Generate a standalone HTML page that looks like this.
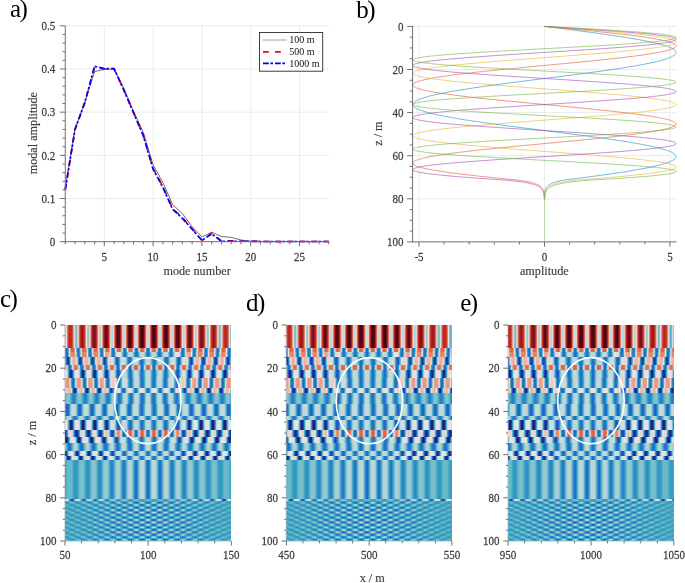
<!DOCTYPE html>
<html><head><meta charset="utf-8"><style>
html,body{margin:0;padding:0;background:#fff;}
#w{position:relative;width:685px;height:583px;overflow:hidden;background:#fff;}
.hm{position:absolute;overflow:hidden;}
.hm>div{position:absolute;top:0;height:100%;overflow:hidden;}
.hl{transform:scaleX(-1);}
.hm i{position:absolute;left:0;width:100%;display:block;}
.c0{background:linear-gradient(90deg,#c6dbdf 0.5px,#edc5b9 1.5px,#dc624b 2.5px,#aa2024 3.5px,#5e0915 4.5px,#4e0512 5.5px,#4e0512 6.5px,#610a16 7.5px,#ad2224 8.5px,#dd674e 9.5px,#edc9bf 10.5px,#c4dadf 11.5px,#c6dbdf 12.5px,#edc3b7 13.5px,#db614a 14.5px,#aa2024 15.5px,#610a16 16.5px,#4e0512 17.5px,#4e0512 18.5px,#6b0c18 19.5px,#b42725 20.5px,#df6e55 21.5px,#edd1c9 22.5px,#bfd8dd 23.5px,#c3dade 24.5px,#edc5ba 25.5px,#dc634c 26.5px,#ae2324 27.5px,#6b0c18 28.5px,#4f0512 29.5px,#530613 30.5px,#7b101b 31.5px,#be2d26 32.5px,#e27c64 33.5px,#ecdbd7 34.5px,#b8d5db 35.5px,#bed8dd 36.5px,#edcbc1 37.5px,#de6951 38.5px,#b52825 39.5px,#7c101b 40.5px,#630a16 41.5px,#680b17 42.5px,#91151f 43.5px,#cc3628 44.5px,#e68e78 45.5px,#e5e2e2 46.5px,#add1d7 47.5px,#b6d5da 48.5px,#edd3cc 49.5px,#e1745a 50.5px,#c12f26 51.5px,#931520 52.5px,#7d101b 53.5px,#84121d 54.5px,#a71e23 55.5px,#d34936 56.5px,#eaa391 57.5px,#cedde0 58.5px,#93c8d2 59.5px,#a7cfd6 60.5px,#ece0dc 61.5px,#e4856d 62.5px,#cf3a29 63.5px,#a91f23 64.5px,#9e1822 65.5px,#a31b23 66.5px,#bc2c26 67.5px,#db6049 68.5px,#eebcae 69.5px,#bbd6dc 70.5px,#75becb 71.5px,#8bc5d0 72.5px,#dce0e1 73.5px,#e89a86 74.5px,#d64f3b 75.5px,#bf2e26 76.5px,#b62825 77.5px,#bb2b26 78.5px,#d1402f 79.5px,#e37e66 80.5px,#edd8d2 81.5px,#9bcbd3 82.5px)}
.c1{background:linear-gradient(90deg,#246fcc 0.5px,#3da2c0 1.5px,#c7dbe0 2.5px,#eaa492 3.5px,#df6e54 4.5px,#dc624b 5.5px,#dc644c 6.5px,#e37d64 7.5px,#edc5b9 8.5px,#94c8d2 9.5px,#3092c6 10.5px,#2369cb 11.5px,#2a82c9 12.5px,#69b9c8 13.5px,#ecdad5 14.5px,#e58a73 15.5px,#dd664e 16.5px,#dc624b 17.5px,#de6950 18.5px,#e7937e 19.5px,#e6e3e2 20.5px,#53afc3 21.5px,#2779ca 22.5px,#236bcb 23.5px,#3598c4 24.5px,#b1d2d8 25.5px,#eeb8a8 26.5px,#e1765d 27.5px,#dc634b 28.5px,#dc634b 29.5px,#e07259 30.5px,#edb1a0 31.5px,#b9d6db 32.5px,#379bc2 33.5px,#236ccb 34.5px,#2675cb 35.5px,#48aac0 36.5px,#dbe0e1 37.5px,#e89985 38.5px,#de6a51 39.5px,#dc624b 40.5px,#dd654d 41.5px,#e4856e 42.5px,#edd2cb 43.5px,#76becb 44.5px,#2c87c8 45.5px,#2369cb 46.5px,#2e8cc7 47.5px,#83c3ce 48.5px,#edccc3 49.5px,#e38169 50.5px,#dc654d 51.5px,#dc624b 52.5px,#df6c52 53.5px,#e99e8b 54.5px,#d1dee1 55.5px,#40a6be 56.5px,#2572cc 57.5px,#246dcc 58.5px,#3a9ec1 59.5px,#bfd8dd 60.5px,#ecab9a 61.5px,#e07056 62.5px,#dc624b 63.5px,#dc634c 64.5px,#e27960 65.5px,#eebdb0 66.5px,#a4ced5 67.5px,#3295c5 68.5px,#236acb 69.5px,#297dca 70.5px,#5db3c5 71.5px,#ece2df 72.5px,#e68f79 73.5px,#dd674f 74.5px,#dc624b 75.5px,#dd674f 76.5px,#e68e78 77.5px,#ece0dd 78.5px,#5fb4c6 79.5px,#297eca 80.5px,#236acb 81.5px,#3294c5 82.5px)}
.c2{background:linear-gradient(90deg,#236dcb 0.5px,#3193c5 1.5px,#5bb2c5 2.5px,#a7cfd6 3.5px,#bcd7dc 4.5px,#bfd8dd 6.5px,#b8d5db 7.5px,#8ac5d0 8.5px,#3ea4bf 9.5px,#2a80c9 10.5px,#2369cb 11.5px,#2779ca 12.5px,#3a9fc1 13.5px,#7cc0cd 14.5px,#b5d4da 15.5px,#bfd8dd 16.5px,#c1d9de 18.5px,#b5d4da 19.5px,#70bcca 20.5px,#369ac3 21.5px,#2471cc 22.5px,#236bcb 23.5px,#2f90c6 24.5px,#62b6c6 25.5px,#bdd8dc 26.5px,#e2e2e1 27.5px,#ece1de 28.5px,#ecdcd7 29.5px,#ecddd9 30.5px,#d0dee0 31.5px,#7abfcc 32.5px,#3294c5 33.5px,#236acb 34.5px,#2778cb 35.5px,#47a9c0 36.5px,#c6dbdf 37.5px,#edc4b8 38.5px,#ecaa98 39.5px,#e99f8c 41.5px,#edaf9e 42.5px,#ebe4e2 43.5px,#6ab9c8 44.5px,#2b82c9 45.5px,#2369cb 46.5px,#3395c5 47.5px,#aad0d7 48.5px,#edc3b6 49.5px,#e68f7a 50.5px,#e4826b 51.5px,#e4826a 52.5px,#e58871 53.5px,#ecad9c 54.5px,#cadce0 55.5px,#3ea3bf 56.5px,#246fcc 57.5px,#2573cb 58.5px,#48a9c0 59.5px,#d9e0e1 60.5px,#eba794 61.5px,#e4866f 62.5px,#e4826a 63.5px,#e4826b 64.5px,#e7927d 65.5px,#edcabf 66.5px,#96c9d2 67.5px,#2f90c6 68.5px,#2369cb 69.5px,#2e8cc7 70.5px,#8ac5d0 71.5px,#edcec5 72.5px,#e7947f 73.5px,#e4836b 74.5px,#e4856e 76.5px,#eaa391 77.5px,#e1e1e1 78.5px,#50adc2 79.5px,#2676cb 80.5px,#246dcc 81.5px,#3ba0c0 82.5px)}
.c3{background:linear-gradient(90deg,#bfd8dd 0.5px,#bbd7dc 1.5px,#a3ced5 2.5px,#5bb2c5 3.5px,#3295c5 4.5px,#246fcc 5.5px,#236bcb 6.5px,#2d88c8 7.5px,#43a8bf 8.5px,#8fc7d1 9.5px,#b8d5db 10.5px,#bfd8dd 11.5px,#bed8dd 13.5px,#b2d3d9 14.5px,#71bcca 15.5px,#399dc1 16.5px,#2778cb 17.5px,#2368cb 18.5px,#2779ca 19.5px,#3a9fc1 20.5px,#7dc0cd 21.5px,#bad6db 22.5px,#c8dce0 23.5px,#d0dee0 25.5px,#c7dce0 26.5px,#a6cfd6 27.5px,#44a8bf 28.5px,#2779ca 29.5px,#2058c8 30.5px,#215fc9 31.5px,#3092c6 32.5px,#75becb 33.5px,#cddde0 34.5px,#ecdcd8 35.5px,#edd4cd 36.5px,#edd0c8 37.5px,#edd4cd 38.5px,#d8e0e1 39.5px,#74bdcb 40.5px,#2a82c9 41.5px,#1e49b1 42.5px,#1d41a6 43.5px,#246ecc 44.5px,#5bb2c5 45.5px,#d7dfe1 46.5px,#edc4b8 47.5px,#eeb6a6 48.5px,#eeb7a7 50.5px,#edd1c9 51.5px,#b4d4d9 52.5px,#3598c4 53.5px,#1f4fbb 54.5px,#1c3694 55.5px,#2058c8 56.5px,#3ba0c1 57.5px,#c0d9dd 58.5px,#edcac1 59.5px,#eeb5a5 60.5px,#eeb4a3 62.5px,#edc5b9 63.5px,#cddde0 64.5px,#46a9bf 65.5px,#2261ca 66.5px,#1c3797 67.5px,#1e47af 68.5px,#2e8dc7 69.5px,#9ccbd4 70.5px,#ecd9d4 71.5px,#eeb8a9 72.5px,#edb3a2 73.5px,#edb3a2 74.5px,#eebcae 75.5px,#ebe4e2 76.5px,#75becb 77.5px,#2778cb 78.5px,#1d3fa2 79.5px,#1c3c9d 80.5px,#246ecc 81.5px,#64b7c7 82.5px)}
.c4{background:linear-gradient(90deg,#dc634b 0.5px,#e07258 1.5px,#ecad9c 2.5px,#c0d9dd 3.5px,#3ba0c0 4.5px,#246fcc 5.5px,#246fcc 6.5px,#3a9fc1 7.5px,#bed8dd 8.5px,#edaf9e 9.5px,#e17359 10.5px,#dc634b 11.5px,#dc634b 12.5px,#e07157 13.5px,#ecab99 14.5px,#c2dade 15.5px,#3ca1c0 16.5px,#2470cc 17.5px,#246ecc 18.5px,#399ec1 19.5px,#bbd6dc 20.5px,#edb2a2 21.5px,#e1765d 22.5px,#dc654d 23.5px,#dc654d 24.5px,#e1735a 25.5px,#ecac9a 26.5px,#c3dade 27.5px,#3da2c0 28.5px,#2572cc 29.5px,#246ecc 30.5px,#389dc2 31.5px,#b6d5da 32.5px,#eeb9aa 33.5px,#e37e66 34.5px,#de6b52 35.5px,#de6b52 36.5px,#e27a61 37.5px,#edb09f 38.5px,#c2dade 39.5px,#3ea3bf 40.5px,#2574cb 41.5px,#246fcc 42.5px,#389bc2 43.5px,#b1d3d8 44.5px,#eec0b3 45.5px,#e4856e 46.5px,#e07157 47.5px,#e07056 48.5px,#e37f67 49.5px,#edb2a1 50.5px,#c3dade 51.5px,#3ea4bf 52.5px,#2676cb 53.5px,#246fcc 54.5px,#379ac3 55.5px,#add1d7 56.5px,#edc3b7 57.5px,#e58771 58.5px,#e07158 59.5px,#e07056 60.5px,#e37e66 61.5px,#edb09f 62.5px,#c5dbdf 63.5px,#3fa5be 64.5px,#2677cb 65.5px,#246ecc 66.5px,#3699c3 67.5px,#a8cfd6 68.5px,#edc5ba 69.5px,#e58872 70.5px,#e07258 71.5px,#e07056 72.5px,#e37d65 73.5px,#ecae9d 74.5px,#c7dce0 75.5px,#40a6be 76.5px,#2778cb 77.5px,#246ecc 78.5px,#3598c3 79.5px,#a3ced5 80.5px,#edc7bd 81.5px,#e58973 82.5px)}
.c5{background:linear-gradient(90deg,#bfd8dd 0.5px,#bbd7dc 1.5px,#9dccd4 2.5px,#51aec2 3.5px,#2f8fc7 4.5px,#236ccb 5.5px,#246ecc 6.5px,#3294c5 7.5px,#5db3c5 8.5px,#a7cfd6 9.5px,#bcd7dc 10.5px,#bfd8dd 12.5px,#b9d6db 13.5px,#93c8d2 14.5px,#45a8bf 15.5px,#2c87c8 16.5px,#2369cb 17.5px,#246fcc 18.5px,#3497c4 19.5px,#67b8c8 20.5px,#b1d2d8 21.5px,#c0d9dd 22.5px,#c3dade 24.5px,#bcd7dc 25.5px,#89c5cf 26.5px,#3a9fc1 27.5px,#236bcb 28.5px,#1f50bc 29.5px,#215dc9 30.5px,#3193c6 31.5px,#6fbbca 32.5px,#bdd7dc 33.5px,#d0dee0 34.5px,#d4dfe1 36.5px,#c3dade 37.5px,#78bfcc 38.5px,#2e8cc7 39.5px,#1e47af 40.5px,#1a2b84 41.5px,#1e46ad 42.5px,#2e8cc7 43.5px,#80c1cd 44.5px,#cbdde0 45.5px,#e3e2e1 46.5px,#e3e2e1 48.5px,#c5dbdf 49.5px,#63b6c7 50.5px,#2471cc 51.5px,#1b2f8b 52.5px,#182473 53.5px,#1e44aa 54.5px,#3194c5 55.5px,#96c9d2 56.5px,#d5dfe1 57.5px,#e7e3e2 58.5px,#e7e3e2 59.5px,#e2e2e1 60.5px,#bfd8dd 61.5px,#50adc2 62.5px,#2266ca 63.5px,#1a2981 64.5px,#192575 65.5px,#1f4eb9 66.5px,#389bc2 67.5px,#aad0d7 68.5px,#dae0e1 69.5px,#e7e3e2 70.5px,#e7e3e2 71.5px,#dfe1e1 72.5px,#b7d5da 73.5px,#3fa4bf 74.5px,#215bc9 75.5px,#19267b 76.5px,#19267a 77.5px,#2059c8 78.5px,#3da3bf 79.5px,#b5d4da 80.5px,#dee1e1 81.5px,#e7e3e2 82.5px)}
.c6{background:linear-gradient(90deg,#bfd8dd 0.5px,#bad6db 1.5px,#99cad3 2.5px,#49aac0 3.5px,#2d89c8 4.5px,#236acb 5.5px,#2572cc 6.5px,#379ac3 7.5px,#6ebbc9 8.5px,#b2d3d9 9.5px,#bed8dd 10.5px,#bed8dd 12.5px,#b3d3d9 13.5px,#72bdca 14.5px,#389cc2 15.5px,#2674cb 16.5px,#2369cb 17.5px,#2c86c8 18.5px,#48aac0 19.5px,#9fccd4 20.5px,#c2d9de 21.5px,#cfdee0 23.5px,#cddde0 24.5px,#b7d5da 25.5px,#61b5c6 26.5px,#3091c6 27.5px,#2369cb 28.5px,#2471cc 29.5px,#3a9fc1 30.5px,#a3ced5 31.5px,#e4e2e2 32.5px,#edd3cc 33.5px,#edc9bf 35.5px,#edd4ce 36.5px,#c4dadf 37.5px,#4fadc2 38.5px,#277aca 39.5px,#2266ca 40.5px,#2f8fc7 41.5px,#86c4cf 42.5px,#ecddd8 43.5px,#edaf9e 44.5px,#eaa18e 45.5px,#e99e8b 46.5px,#eaa390 47.5px,#edc6ba 48.5px,#b6d5da 49.5px,#379bc2 50.5px,#2368cb 51.5px,#246fcc 52.5px,#43a7bf 53.5px,#cfdee0 54.5px,#eeb5a5 55.5px,#e89a86 56.5px,#e89883 58.5px,#ecaa98 59.5px,#ece3e1 60.5px,#69b9c8 61.5px,#297fc9 62.5px,#2264ca 63.5px,#2f8ec7 64.5px,#8ec6d0 65.5px,#edd4cd 66.5px,#eaa391 67.5px,#e89782 68.5px,#e89782 69.5px,#e99d89 70.5px,#eec0b3 71.5px,#bcd7dc 72.5px,#399dc1 73.5px,#2369cb 74.5px,#246dcc 75.5px,#3fa5bf 76.5px,#c9dce0 77.5px,#eeb8a9 78.5px,#e89a86 79.5px,#e89783 81.5px,#eba896 82.5px)}
.c7{background:linear-gradient(90deg,#246dcc 0.5px,#3396c5 1.5px,#6dbbc9 2.5px,#c0d9dd 3.5px,#dfe1e1 4.5px,#e7e3e2 5.5px,#e2e2e1 7.5px,#c6dbdf 8.5px,#83c3ce 9.5px,#389cc2 10.5px,#2572cc 11.5px,#236acb 12.5px,#2e8ec7 13.5px,#5bb2c5 14.5px,#b8d5db 15.5px,#dbe0e1 16.5px,#e8e3e2 17.5px,#e7e3e2 19.5px,#d1dee0 20.5px,#9acad3 21.5px,#3ba0c0 22.5px,#246fcc 23.5px,#215ec9 24.5px,#2574cb 25.5px,#3fa5be 26.5px,#b2d3d9 27.5px,#e6e3e2 28.5px,#edd8d2 29.5px,#edd4cd 31.5px,#ece3e0 32.5px,#b4d4d9 33.5px,#3ba0c0 34.5px,#215ec9 35.5px,#1c3b9d 36.5px,#1f50bb 37.5px,#3294c5 38.5px,#a1cdd5 39.5px,#ecdedb 40.5px,#edc3b7 41.5px,#eebeb0 43.5px,#edcbc1 44.5px,#c8dce0 45.5px,#3fa4bf 46.5px,#2055c4 47.5px,#19267a 48.5px,#1b308b 49.5px,#2573cb 50.5px,#7ec1cd 51.5px,#ece0dd 52.5px,#eebcae 53.5px,#eeb6a6 54.5px,#eeb6a6 55.5px,#eec1b4 56.5px,#dee1e1 57.5px,#59b1c4 58.5px,#2261ca 59.5px,#1a277d 60.5px,#1a277e 61.5px,#2263ca 62.5px,#5cb3c5 63.5px,#e0e1e1 64.5px,#eec0b3 65.5px,#eeb6a6 66.5px,#eeb6a6 67.5px,#eebdaf 68.5px,#ece2df 69.5px,#7abfcc 70.5px,#2471cc 71.5px,#1b2d88 72.5px,#192678 73.5px,#2054c3 74.5px,#3fa5bf 75.5px,#ccdde0 76.5px,#edc6ba 77.5px,#eeb7a7 78.5px,#eeb6a6 79.5px,#eebaab 80.5px,#edd7d1 81.5px,#a0cdd5 82.5px)}
.c8{background:linear-gradient(90deg,#bfd8dd 0.5px,#b7d5da 1.5px,#85c3cf 2.5px,#3ea3bf 3.5px,#2a82c9 4.5px,#2369cb 5.5px,#2572cc 6.5px,#3598c4 7.5px,#64b7c7 8.5px,#acd1d7 9.5px,#bdd8dc 10.5px,#bcd7dc 12.5px,#a3ced5 13.5px,#58b1c4 14.5px,#3294c5 15.5px,#246ecc 16.5px,#236bcb 17.5px,#2d89c8 18.5px,#44a8bf 19.5px,#8fc6d1 20.5px,#b7d5da 21.5px,#bbd7dc 22.5px,#bad6db 23.5px,#add1d7 24.5px,#6fbcca 25.5px,#3a9ec1 26.5px,#297fc9 27.5px,#246dcc 28.5px,#287cca 29.5px,#389cc2 30.5px,#63b6c7 31.5px,#96c9d2 32.5px,#a8cfd6 33.5px,#a7cfd6 34.5px,#9ccbd4 35.5px,#75becb 36.5px,#40a6be 37.5px,#3092c6 38.5px,#2778cb 39.5px,#277aca 40.5px,#3193c5 41.5px,#40a6be 42.5px,#6cbac9 43.5px,#86c4cf 44.5px,#8ac5d0 45.5px,#86c4cf 46.5px,#72bdcb 47.5px,#4eacc1 48.5px,#369ac3 49.5px,#2b84c8 50.5px,#287aca 51.5px,#2d8ac7 52.5px,#399ec1 53.5px,#76becb 55.5px,#83c2ce 56.5px,#83c3ce 57.5px,#7abfcc 58.5px,#5eb4c5 59.5px,#3ca1c0 60.5px,#2f8fc7 61.5px,#287bca 62.5px,#2a81c9 63.5px,#3497c4 64.5px,#45a8bf 65.5px,#6bbac9 66.5px,#80c1cd 67.5px,#83c3ce 68.5px,#80c2ce 69.5px,#6bbac9 70.5px,#46a9bf 71.5px,#3497c4 72.5px,#2a81c9 73.5px,#287bca 74.5px,#2f8ec7 75.5px,#3ca1c0 76.5px,#5db3c5 77.5px,#7abfcc 78.5px,#83c3ce 79.5px,#83c2ce 80.5px,#77becb 81.5px,#58b1c4 82.5px)}
.c9{background:linear-gradient(90deg,#c5dbdf 0.5px,#c1d9de 1.5px,#aed1d8 2.5px,#5fb4c6 3.5px,#3295c5 4.5px,#236ccb 5.5px,#2265ca 6.5px,#2a81c9 7.5px,#40a5be 8.5px,#91c7d1 9.5px,#bcd7dc 10.5px,#c4dbdf 11.5px,#c4dadf 13.5px,#b9d6db 14.5px,#81c2ce 15.5px,#3ba0c0 16.5px,#2779ca 17.5px,#2264ca 18.5px,#2470cc 19.5px,#3699c3 20.5px,#6cbac9 21.5px,#b3d3d9 22.5px,#c2dade 23.5px,#c4dadf 25.5px,#bfd8dd 26.5px,#a0ccd4 27.5px,#4fadc2 28.5px,#2d8ac7 29.5px,#2266ca 30.5px,#2265ca 31.5px,#2c87c8 32.5px,#49aac0 33.5px,#9acad3 34.5px,#bdd7dc 35.5px,#c3dade 37.5px,#c1d9de 38.5px,#b2d3d9 39.5px,#6bbac9 40.5px,#3598c4 41.5px,#236ccb 42.5px,#215ec9 43.5px,#246fcc 44.5px,#389cc2 45.5px,#74bdcb 46.5px,#b5d4da 47.5px,#c1d9de 48.5px,#c2d9de 50.5px,#bad6db 51.5px,#8bc5d0 52.5px,#3ea4bf 53.5px,#287bca 54.5px,#215fc9 55.5px,#2264ca 56.5px,#2e8cc7 57.5px,#53afc3 58.5px,#a2cdd5 59.5px,#bed8dd 60.5px,#c2d9de 62.5px,#bfd8dd 63.5px,#a9d0d6 64.5px,#5bb2c5 65.5px,#3092c6 66.5px,#2266ca 67.5px,#215ec9 68.5px,#2676cb 69.5px,#3ca1c0 70.5px,#83c3ce 71.5px,#b8d5db 72.5px,#c1d9de 73.5px,#c1d9de 75.5px,#b6d5da 76.5px,#7cc0cd 77.5px,#3a9ec1 78.5px,#2572cc 79.5px,#215dc9 80.5px,#2368cb 81.5px,#3294c5 82.5px)}
.c10{background:linear-gradient(90deg,#236ccb 0.5px,#2d8bc7 1.5px,#43a7bf 2.5px,#8bc5d0 3.5px,#b7d5da 4.5px,#bfd8dd 5.5px,#b9d6db 7.5px,#97c9d2 8.5px,#4fadc2 9.5px,#3092c6 10.5px,#246ecc 11.5px,#236acb 12.5px,#2b84c9 13.5px,#3da3bf 14.5px,#7ec1cd 15.5px,#b4d4d9 16.5px,#bed8dd 17.5px,#bbd7dc 19.5px,#a1cdd5 20.5px,#5bb2c5 21.5px,#3497c4 22.5px,#2573cb 23.5px,#236acb 24.5px,#297ec9 25.5px,#3a9fc1 26.5px,#6fbbca 27.5px,#add1d7 28.5px,#bbd6dc 29.5px,#b9d6db 31.5px,#a4ced5 32.5px,#64b7c7 33.5px,#379bc2 34.5px,#287cca 35.5px,#246dcc 36.5px,#287cca 37.5px,#379bc2 38.5px,#62b6c7 39.5px,#9fccd4 40.5px,#b6d4da 41.5px,#b6d5da 43.5px,#a5ced6 44.5px,#6cbac9 45.5px,#3ba0c1 46.5px,#2b85c8 47.5px,#2470cc 48.5px,#287aca 49.5px,#3598c4 50.5px,#57b0c4 51.5px,#93c8d2 52.5px,#b3d3d9 53.5px,#b5d4da 55.5px,#a9d0d7 56.5px,#76becb 57.5px,#3ea4bf 58.5px,#2d8bc7 59.5px,#2572cc 60.5px,#2677cb 61.5px,#3294c5 62.5px,#4cacc1 63.5px,#89c5d0 64.5px,#b1d2d8 65.5px,#b6d4da 67.5px,#afd2d8 68.5px,#81c2ce 69.5px,#44a8bf 70.5px,#3091c6 71.5px,#2574cb 72.5px,#2574cb 73.5px,#2f90c6 74.5px,#42a7be 75.5px,#7fc1cd 76.5px,#aed1d7 77.5px,#b6d4da 78.5px,#b1d3d8 80.5px,#8bc5d0 81.5px,#4fadc2 82.5px)}
.c11{background:linear-gradient(90deg,#bfd8dd 0.5px,#bbd7dc 1.5px,#9dcbd4 2.5px,#50adc2 3.5px,#2f8ec7 4.5px,#236bcb 5.5px,#246ecc 6.5px,#3395c5 7.5px,#5fb4c6 8.5px,#a9cfd6 9.5px,#bcd7dc 10.5px,#bfd8dd 12.5px,#b9d6db 13.5px,#8fc7d1 14.5px,#41a6be 15.5px,#2b84c8 16.5px,#2368cb 17.5px,#2471cc 18.5px,#3699c3 19.5px,#6cbac9 20.5px,#b3d3d9 21.5px,#c1d9de 22.5px,#c3dade 24.5px,#bad6db 25.5px,#7ec1cd 26.5px,#379ac3 27.5px,#2264ca 28.5px,#1f4cb6 29.5px,#215ec9 30.5px,#3395c5 31.5px,#79bfcc 32.5px,#c0d9dd 33.5px,#d1dee1 34.5px,#d3dfe1 36.5px,#bed8dd 37.5px,#64b6c7 38.5px,#2779ca 39.5px,#1c3999 40.5px,#19267b 41.5px,#1e47af 42.5px,#3194c5 43.5px,#91c7d1 44.5px,#d1dee1 45.5px,#e4e2e2 46.5px,#e5e3e2 47.5px,#e0e1e1 48.5px,#bcd7dc 49.5px,#45a8bf 50.5px,#215dc9 51.5px,#182474 52.5px,#17216b 53.5px,#1e49b2 54.5px,#379bc2 55.5px,#acd1d7 56.5px,#dbe0e1 57.5px,#e7e3e2 58.5px,#e7e3e2 59.5px,#dde1e1 60.5px,#b2d3d9 61.5px,#3a9ec1 62.5px,#1f4eb9 63.5px,#17226d 64.5px,#182371 65.5px,#2058c8 66.5px,#3fa5bf 67.5px,#b9d6db 68.5px,#e0e1e1 69.5px,#e7e3e2 70.5px,#e7e3e2 71.5px,#d7dfe1 72.5px,#9acbd3 73.5px,#3294c5 74.5px,#1d40a3 75.5px,#172168 76.5px,#19267a 77.5px,#2267ca 78.5px,#57b0c4 79.5px,#c2d9de 80.5px,#e3e2e2 81.5px,#e7e3e2 82.5px)}
.c12{background:linear-gradient(90deg,#246ecc 0.5px,#389cc2 1.5px,#b2d3d9 2.5px,#eebcae 3.5px,#e27a61 4.5px,#dc634b 5.5px,#dc644c 6.5px,#e37e66 7.5px,#edc4b8 8.5px,#a3cdd5 9.5px,#3598c4 10.5px,#236ccb 11.5px,#2471cc 12.5px,#3ba0c0 13.5px,#bbd7dc 14.5px,#eeb4a4 15.5px,#e1765d 16.5px,#dc644c 17.5px,#dd674f 18.5px,#e58872 19.5px,#edd3cb 20.5px,#81c2ce 21.5px,#2e8dc7 22.5px,#2262ca 23.5px,#2369cb 24.5px,#379bc3 25.5px,#aed1d8 26.5px,#edc8bd 27.5px,#e7937f 28.5px,#e4866f 29.5px,#e68f79 30.5px,#eeb8a9 31.5px,#c3dade 32.5px,#3da2bf 33.5px,#2263ca 34.5px,#1d42a7 35.5px,#1f4db7 36.5px,#2a80c9 37.5px,#69b9c8 38.5px,#dae0e1 39.5px,#edc4b9 40.5px,#eebaac 41.5px,#edc4b8 42.5px,#e0e1e1 43.5px,#73bdcb 44.5px,#2a81c9 45.5px,#1d42a7 46.5px,#1a277e 47.5px,#1c3796 48.5px,#236acb 49.5px,#4aaac0 50.5px,#c0d9dd 51.5px,#ecdbd6 52.5px,#edd0c8 53.5px,#ecd9d3 54.5px,#c5dbdf 55.5px,#56b0c3 56.5px,#246fcc 57.5px,#1c3999 58.5px,#19267a 59.5px,#1c3999 60.5px,#246fcc 61.5px,#55b0c3 62.5px,#c5dbdf 63.5px,#ecd9d3 64.5px,#edd0c8 65.5px,#ecdbd6 66.5px,#c0d9dd 67.5px,#49aac0 68.5px,#2369cb 69.5px,#1c3593 70.5px,#19267a 71.5px,#1d3d9f 72.5px,#2778cb 73.5px,#62b5c6 74.5px,#ccdde0 75.5px,#edd7d0 76.5px,#edd0c8 77.5px,#ecdeda 78.5px,#bad6db 79.5px,#3fa5bf 80.5px,#2263ca 81.5px,#1b318d 82.5px)}
.c13{background:linear-gradient(90deg,#bfd8dd 0.5px,#bcd7dc 1.5px,#a6cfd6 2.5px,#60b4c6 3.5px,#3497c4 4.5px,#2571cc 5.5px,#236acb 6.5px,#2a82c9 7.5px,#3ea3bf 8.5px,#82c2ce 9.5px,#b5d4da 10.5px,#bed8dd 11.5px,#bed8dd 13.5px,#b6d5da 14.5px,#88c4cf 15.5px,#3fa5be 16.5px,#2b85c8 17.5px,#2368cb 18.5px,#236dcb 19.5px,#3193c6 20.5px,#58b1c4 21.5px,#a6cfd6 22.5px,#c0d9dd 23.5px,#c7dbe0 25.5px,#c5dbdf 26.5px,#b3d3d9 27.5px,#61b5c6 28.5px,#2e8dc7 29.5px,#2058c8 30.5px,#1e47ae 31.5px,#215ec9 32.5px,#3497c4 33.5px,#7fc1cd 34.5px,#c4dadf 35.5px,#dce0e1 36.5px,#e2e2e1 38.5px,#d2dee1 39.5px,#9eccd4 40.5px,#379bc2 41.5px,#1f53c0 42.5px,#19267b 43.5px,#1a287f 44.5px,#215dc9 45.5px,#3ea4bf 46.5px,#b7d5da 47.5px,#e6e3e2 48.5px,#ecdedb 49.5px,#ecdeda 50.5px,#ece2e0 51.5px,#c7dce0 52.5px,#61b5c6 53.5px,#246ecc 54.5px,#1a2c85 55.5px,#172169 56.5px,#1c3492 57.5px,#297eca 58.5px,#76becb 59.5px,#d1dee0 60.5px,#ece0dd 61.5px,#ecdeda 63.5px,#e2e2e1 64.5px,#aed1d7 65.5px,#389bc2 66.5px,#1f4db8 67.5px,#182370 68.5px,#182472 69.5px,#1f53c1 70.5px,#3b9fc1 71.5px,#b4d4d9 72.5px,#e5e2e2 73.5px,#ecdeda 74.5px,#ece1de 76.5px,#ccdde0 77.5px,#6ab9c9 78.5px,#2676cb 79.5px,#1b308c 80.5px,#172169 81.5px,#1b308c 82.5px)}
.c14{background:linear-gradient(90deg,#bfd8dd 0.5px,#b8d5db 1.5px,#90c7d1 2.5px,#47a9c0 3.5px,#2e8dc7 4.5px,#236dcb 5.5px,#236bcb 6.5px,#2d89c8 7.5px,#41a7be 8.5px,#8ac5d0 9.5px,#b7d5da 10.5px,#bfd8dd 11.5px,#b9d6db 13.5px,#96c9d2 14.5px,#4eacc1 15.5px,#3091c6 16.5px,#246ecc 17.5px,#236bcb 18.5px,#2c86c8 19.5px,#3ea4bf 20.5px,#82c2ce 21.5px,#b4d4d9 22.5px,#bcd7dc 23.5px,#b7d5da 25.5px,#95c9d2 26.5px,#50aec2 27.5px,#3193c5 28.5px,#2470cc 29.5px,#236bcb 30.5px,#2a82c9 31.5px,#3ca1c0 32.5px,#72bdca 33.5px,#a9d0d6 34.5px,#b6d4da 35.5px,#b2d3d9 37.5px,#8ec6d1 38.5px,#50aec2 39.5px,#3295c5 40.5px,#2573cc 41.5px,#236bcb 42.5px,#297fc9 43.5px,#399ec1 44.5px,#66b7c7 45.5px,#9acbd3 46.5px,#afd2d8 47.5px,#b0d2d8 48.5px,#abd0d7 49.5px,#8bc5d0 50.5px,#52aec3 51.5px,#3396c4 52.5px,#2675cb 53.5px,#236bcb 54.5px,#287cca 55.5px,#379bc2 56.5px,#60b5c6 57.5px,#95c9d2 58.5px,#add1d7 59.5px,#b0d2d8 60.5px,#abd0d7 61.5px,#8fc7d1 62.5px,#57b1c4 63.5px,#3598c4 64.5px,#2778cb 65.5px,#236bcb 66.5px,#277aca 67.5px,#3699c3 68.5px,#5bb2c5 69.5px,#92c8d1 70.5px,#acd1d7 71.5px,#b0d2d8 72.5px,#acd1d7 73.5px,#92c8d2 74.5px,#5cb3c5 75.5px,#369ac3 76.5px,#287aca 77.5px,#236bcb 78.5px,#2777cb 79.5px,#3498c4 80.5px,#56b0c4 81.5px,#8ec6d0 82.5px)}
.c15{background:linear-gradient(90deg,#236dcb 0.5px,#3193c6 1.5px,#58b1c4 2.5px,#a3ced5 3.5px,#bcd7dc 4.5px,#bfd8dd 6.5px,#bad6db 7.5px,#96c9d2 8.5px,#48aac0 9.5px,#2d89c8 10.5px,#236acb 11.5px,#2471cc 12.5px,#3598c4 13.5px,#66b8c8 14.5px,#aed1d8 15.5px,#bdd8dc 16.5px,#c0d8dd 18.5px,#b8d5db 19.5px,#88c4cf 20.5px,#3da2c0 21.5px,#2778cb 22.5px,#2160c9 23.5px,#236ccb 24.5px,#369ac3 25.5px,#77becb 26.5px,#bbd6dc 27.5px,#c9dce0 28.5px,#cddde0 30.5px,#bfd8dd 31.5px,#78bfcc 32.5px,#3194c5 33.5px,#2057c6 34.5px,#1d40a4 35.5px,#205bc8 36.5px,#3699c3 37.5px,#93c8d2 38.5px,#cfdee0 39.5px,#e3e2e1 40.5px,#e3e2e1 42.5px,#c3dade 43.5px,#60b5c6 44.5px,#2471cc 45.5px,#1b3492 46.5px,#1a277e 47.5px,#1f53c1 48.5px,#399ec1 49.5px,#b2d3d9 50.5px,#e2e2e1 51.5px,#ece1de 52.5px,#e8e3e2 54.5px,#bdd8dc 55.5px,#45a8bf 56.5px,#2160c9 57.5px,#1a2880 58.5px,#1a2880 59.5px,#215fc9 60.5px,#44a8bf 61.5px,#bdd7dc 62.5px,#e8e3e2 63.5px,#ece1de 65.5px,#e3e2e1 66.5px,#b2d3d9 67.5px,#399ec1 68.5px,#1f52bf 69.5px,#19267b 70.5px,#1b2f8b 71.5px,#246dcc 72.5px,#5eb4c6 73.5px,#c6dbdf 74.5px,#ebe4e2 75.5px,#ece2df 77.5px,#dbe0e1 78.5px,#9acad3 79.5px,#3194c5 80.5px,#1e45ab 81.5px,#192578 82.5px)}
.c16{background:linear-gradient(90deg,#bfd8dd 0.5px,#bbd7dc 1.5px,#a2cdd5 2.5px,#59b2c4 3.5px,#3294c5 4.5px,#246ecc 5.5px,#236bcb 6.5px,#2e8bc7 7.5px,#48aac0 8.5px,#94c8d2 9.5px,#b9d6db 10.5px,#bfd8dd 12.5px,#bdd7dc 13.5px,#aed1d8 14.5px,#69b9c8 15.5px,#369ac3 16.5px,#2573cb 17.5px,#2367cb 18.5px,#297dca 19.5px,#3da2c0 20.5px,#85c3cf 21.5px,#bad6db 22.5px,#c4dadf 23.5px,#c7dbe0 25.5px,#bcd7dc 26.5px,#7fc1cd 27.5px,#379ac3 28.5px,#2265ca 29.5px,#1e4cb5 30.5px,#215bc9 31.5px,#3193c6 32.5px,#74bdcb 33.5px,#c3dade 34.5px,#dee1e1 35.5px,#e6e3e2 37.5px,#d7dfe1 38.5px,#a5ced6 39.5px,#389cc2 40.5px,#2055c3 41.5px,#1a2881 42.5px,#1b3390 43.5px,#236ccb 44.5px,#59b2c4 45.5px,#c6dbdf 46.5px,#ecdfdb 47.5px,#edd8d3 48.5px,#edd8d2 49.5px,#ece1de 50.5px,#bdd7dc 51.5px,#3fa4bf 52.5px,#2059c8 53.5px,#192577 54.5px,#192577 55.5px,#2058c8 56.5px,#3ea4bf 57.5px,#bcd7dc 58.5px,#ece1de 59.5px,#edd7d1 60.5px,#edd7d1 61.5px,#ecddd8 62.5px,#c9dce0 63.5px,#5bb2c5 64.5px,#2369cb 65.5px,#1a2981 66.5px,#182371 67.5px,#1e48af 68.5px,#3598c4 69.5px,#acd1d7 70.5px,#e8e3e2 71.5px,#edd8d2 72.5px,#ecdad5 74.5px,#d8e0e1 75.5px,#7bc0cc 76.5px,#297dca 77.5px,#1b3492 78.5px,#18236f 79.5px,#1c399a 80.5px,#2c87c8 81.5px,#8ac5d0 82.5px)}
.c17{background:linear-gradient(90deg,#2368cb 0.5px,#2e8dc7 1.5px,#4fadc2 2.5px,#99cad3 3.5px,#b8d5db 4.5px,#bbd7dc 6.5px,#b7d5da 7.5px,#99cad3 8.5px,#53afc3 9.5px,#3193c6 10.5px,#246fcc 11.5px,#246ecc 12.5px,#2f8fc7 13.5px,#49aac0 14.5px,#8bc5d0 15.5px,#b1d2d8 16.5px,#b4d4d9 18.5px,#b0d2d8 19.5px,#91c7d1 20.5px,#55b0c3 21.5px,#3496c4 22.5px,#2778cb 23.5px,#2675cb 24.5px,#3092c6 25.5px,#45a8bf 26.5px,#7dc1cd 27.5px,#a1cdd5 28.5px,#a9d0d6 29.5px,#a3cdd5 31.5px,#88c4cf 32.5px,#56b0c4 33.5px,#369ac3 34.5px,#2a82c9 35.5px,#297dca 36.5px,#3193c5 37.5px,#41a6be 38.5px,#71bcca 39.5px,#92c8d1 40.5px,#99cad3 41.5px,#94c8d2 43.5px,#7fc1cd 44.5px,#56b0c4 45.5px,#389dc2 46.5px,#2e8bc7 47.5px,#2c86c8 48.5px,#3fa5be 50.5px,#68b8c8 51.5px,#82c2ce 52.5px,#89c5d0 53.5px,#85c3cf 55.5px,#74bdcb 56.5px,#3b9fc1 58.5px,#3193c5 59.5px,#2f8ec7 60.5px,#3fa5bf 62.5px,#5fb4c6 63.5px,#73bdcb 64.5px,#7abfcc 65.5px,#76becb 67.5px,#6bbac9 68.5px,#3ca1c0 70.5px,#3498c4 71.5px,#3295c5 72.5px,#3fa4bf 74.5px,#58b1c4 75.5px,#67b8c8 76.5px,#6bbac9 78.5px,#62b6c7 80.5px,#3ea3bf 82.5px)}
.c18{background:linear-gradient(90deg,#66b8c8 0.5px,#65b7c7 1.5px,#5db3c5 2.5px,#3ea3bf 4.5px,#3a9fc1 6.5px,#3fa5be 7.5px,#64b7c7 9.5px,#6ebbc9 11.5px,#6bbac9 13.5px,#5db3c5 14.5px,#43a7bf 15.5px,#399dc1 16.5px,#3598c3 17.5px,#389cc2 18.5px,#3fa5be 19.5px,#5db3c5 20.5px,#73bdcb 21.5px,#7dc0cd 22.5px,#80c1cd 24.5px,#74becb 25.5px,#3ca1c0 27.5px,#3294c5 28.5px,#2f8fc7 29.5px,#3599c3 30.5px,#45a8bf 31.5px,#6ebbc9 32.5px,#8cc6d0 33.5px,#95c9d2 34.5px,#95c9d2 36.5px,#7cc0cd 37.5px,#4eacc1 38.5px,#3497c4 39.5px,#297fc9 40.5px,#297fc9 41.5px,#3497c4 42.5px,#54afc3 43.5px,#8cc6d0 44.5px,#aad0d7 45.5px,#b1d3d8 47.5px,#aad0d7 48.5px,#7cc0cd 49.5px,#3ea3bf 50.5px,#2a81c9 51.5px,#2368cb 52.5px,#2571cc 53.5px,#369ac3 54.5px,#6bbac9 55.5px,#b1d2d8 56.5px,#bdd7dc 57.5px,#c0d9dd 59.5px,#b5d4da 60.5px,#6fbbca 61.5px,#3497c4 62.5px,#2264ca 63.5px,#2055c3 64.5px,#236ccb 65.5px,#3ba0c0 66.5px,#94c8d2 67.5px,#c4dbdf 68.5px,#d1dee1 69.5px,#d1dee1 71.5px,#b8d5db 72.5px,#57b1c4 73.5px,#2778cb 74.5px,#1e47af 75.5px,#1d43a8 76.5px,#246dcc 77.5px,#4cacc1 78.5px,#bbd7dc 79.5px,#e3e2e1 80.5px,#ece3e1 81.5px,#ece2df 82.5px)}
.c19{background:linear-gradient(90deg,#3ca0c0 0.5px,#3fa5bf 9.5px,#3ba0c0 15.5px,#48aac0 20.5px,#389cc2 25.5px,#41a6be 29.5px,#50adc2 31.5px,#4fadc2 32.5px,#3ba0c0 35.5px,#389cc2 38.5px,#3ea3bf 40.5px,#51aec2 42.5px,#56b0c3 43.5px,#53afc3 44.5px,#3ea4bf 46.5px,#379ac3 49.5px,#3fa5be 52.5px,#56b0c3 54.5px,#59b1c4 55.5px,#53afc3 56.5px,#3ea3bf 58.5px,#379bc2 61.5px,#42a7bf 64.5px,#58b1c4 66.5px,#58b1c4 67.5px,#3ea3bf 70.5px,#399dc2 73.5px,#3ea4bf 75.5px,#55b0c3 78.5px,#4cacc1 80.5px,#3ea3bf 82.5px)}
.c20{background:linear-gradient(90deg,#215dc9 0.5px,#2470cc 1.5px,#3498c4 2.5px,#60b5c6 3.5px,#acd1d7 4.5px,#c2dade 5.5px,#bfd8dd 6.5px,#98cad3 7.5px,#4dacc1 8.5px,#3091c6 9.5px,#236bcb 10.5px,#215ec9 11.5px,#2263ca 12.5px,#297dca 13.5px,#3a9fc1 14.5px,#70bcca 15.5px,#b2d3d9 16.5px,#bfd8dd 17.5px,#b6d4da 18.5px,#7ec1cd 19.5px,#3ea4bf 20.5px,#2d89c8 21.5px,#236acb 22.5px,#2263ca 23.5px,#236ccb 24.5px,#2e8dc7 25.5px,#40a5be 26.5px,#7ec1cd 27.5px,#b2d3d9 28.5px,#b9d6db 29.5px,#a4ced5 30.5px,#67b8c8 31.5px,#3a9fc1 32.5px,#2b85c8 33.5px,#246dcc 34.5px,#236bcb 35.5px,#287aca 36.5px,#3497c4 37.5px,#4eadc2 38.5px,#86c3cf 39.5px,#add1d7 40.5px,#aed1d8 41.5px,#8ac5d0 42.5px,#55b0c3 43.5px,#379bc2 44.5px,#2574cb 46.5px,#2676cb 47.5px,#399ec1 49.5px,#59b2c4 50.5px,#85c3cf 51.5px,#9eccd4 52.5px,#96c9d2 53.5px,#70bcca 54.5px,#46a9c0 55.5px,#3699c3 56.5px,#2d8ac7 57.5px,#2a80c9 58.5px,#2c86c8 59.5px,#3ea3bf 61.5px,#7dc0cd 63.5px,#89c5cf 64.5px,#7bc0cc 65.5px,#3fa5be 67.5px,#3092c6 69.5px,#2f8fc7 70.5px,#399dc2 72.5px,#43a7bf 73.5px,#5db3c5 74.5px,#6dbbc9 75.5px,#70bcca 76.5px,#65b7c7 77.5px,#3ea3bf 79.5px,#3599c3 81.5px,#3699c3 82.5px)}
.c21{background:linear-gradient(90deg,#2a80c9 0.5px,#399dc1 2.5px,#50adc2 3.5px,#71bcca 4.5px,#86c4cf 5.5px,#7fc1cd 6.5px,#3fa4bf 8.5px,#2c88c8 10.5px,#2a80c9 11.5px,#2d88c8 12.5px,#3fa5be 14.5px,#61b5c6 15.5px,#7cc0cd 16.5px,#83c2ce 17.5px,#6ebbca 18.5px,#4fadc2 19.5px,#3a9ec1 20.5px,#2c86c8 22.5px,#2c86c8 23.5px,#3a9fc1 25.5px,#4fadc2 26.5px,#6dbac9 27.5px,#7ec1cd 28.5px,#77becc 29.5px,#5eb4c6 30.5px,#3fa5be 31.5px,#2f8fc7 33.5px,#2d88c8 34.5px,#369ac3 36.5px,#3fa5be 37.5px,#5db3c5 38.5px,#73bdcb 39.5px,#78bfcc 40.5px,#69b9c8 41.5px,#4eadc2 42.5px,#3ba0c0 43.5px,#2f8fc6 45.5px,#2f90c6 46.5px,#3ba0c0 48.5px,#4dacc1 49.5px,#65b7c7 50.5px,#71bcca 51.5px,#6dbbc9 52.5px,#5bb2c5 53.5px,#40a6be 54.5px,#3396c5 56.5px,#3396c4 58.5px,#3fa5be 60.5px,#56b0c4 61.5px,#66b8c8 62.5px,#6ab9c8 63.5px,#61b5c6 64.5px,#3da3bf 66.5px,#3598c4 68.5px,#389bc2 70.5px,#3da2c0 71.5px,#59b1c4 73.5px,#61b5c6 74.5px,#5fb4c6 75.5px,#44a8bf 77.5px,#399dc1 79.5px,#3ca1c0 82.5px)}
.c22{background:linear-gradient(90deg,#9dccd4 0.5px,#7cc0cd 1.5px,#4dacc1 2.5px,#369ac3 3.5px,#2573cb 5.5px,#2675cb 6.5px,#389cc2 8.5px,#54afc3 9.5px,#80c2ce 10.5px,#9ccbd4 11.5px,#96c9d2 12.5px,#72bdca 13.5px,#46a9c0 14.5px,#3598c4 15.5px,#2b83c9 16.5px,#2676cb 17.5px,#287bca 18.5px,#3b9fc1 20.5px,#5ab2c4 21.5px,#81c2ce 22.5px,#96c9d2 23.5px,#8cc6d0 24.5px,#40a6be 26.5px,#2b85c8 28.5px,#287cca 29.5px,#2a82c9 30.5px,#3da2c0 32.5px,#7fc1cd 34.5px,#8ec6d1 35.5px,#81c2ce 36.5px,#3ea4bf 38.5px,#2d89c8 40.5px,#2b83c9 41.5px,#3598c4 43.5px,#3fa5be 44.5px,#60b5c6 45.5px,#7ac0cc 46.5px,#83c3ce 47.5px,#73bdcb 48.5px,#3da2bf 50.5px,#2f8ec7 52.5px,#2e8bc7 53.5px,#389cc2 55.5px,#43a8bf 56.5px,#60b5c6 57.5px,#72bdcb 58.5px,#76becb 59.5px,#68b8c8 60.5px,#3da2c0 62.5px,#3294c5 64.5px,#3598c4 66.5px,#3ba0c0 67.5px,#48aac0 68.5px,#5db3c5 69.5px,#69b9c8 70.5px,#69b9c8 71.5px,#5db3c5 72.5px,#49aac0 73.5px,#3da2c0 74.5px,#3699c3 76.5px,#3ea3bf 79.5px,#57b1c4 81.5px,#5db3c5 82.5px)}
.c23{background:linear-gradient(90deg,#bdd7dc 0.5px,#9ccbd4 1.5px,#53afc3 2.5px,#3295c5 3.5px,#246fcc 4.5px,#2160c9 5.5px,#2264ca 6.5px,#287cca 7.5px,#399dc2 8.5px,#6ab9c9 9.5px,#aed1d8 10.5px,#bdd7dc 11.5px,#b5d4da 12.5px,#7ec1cd 13.5px,#3fa4bf 14.5px,#2d8ac7 15.5px,#236bcb 16.5px,#2263ca 17.5px,#246dcc 18.5px,#2f8ec7 19.5px,#40a6be 20.5px,#80c1cd 21.5px,#b2d3d9 22.5px,#b8d5db 23.5px,#a0cdd5 24.5px,#62b6c7 25.5px,#399dc2 26.5px,#2a81c9 27.5px,#236ccb 28.5px,#236bcb 29.5px,#287cca 30.5px,#3699c3 31.5px,#55b0c3 32.5px,#8dc6d0 33.5px,#b0d2d8 34.5px,#acd1d7 35.5px,#82c2ce 36.5px,#4cabc1 37.5px,#3497c4 38.5px,#297fc9 39.5px,#2471cc 40.5px,#2677cb 41.5px,#3ca1c0 43.5px,#90c7d1 45.5px,#a3cdd5 46.5px,#92c8d2 47.5px,#3ea4bf 49.5px,#2a82c9 51.5px,#287cca 52.5px,#2c87c8 53.5px,#44a8bf 55.5px,#6bbac9 56.5px,#8ac5d0 57.5px,#8ec6d1 58.5px,#77becb 59.5px,#54afc3 60.5px,#3ba0c0 61.5px,#2d8ac7 63.5px,#2e8bc7 64.5px,#3ba0c0 66.5px,#50adc2 67.5px,#6ab9c9 68.5px,#7abfcc 69.5px,#75becb 70.5px,#61b5c6 71.5px,#46a9bf 72.5px,#3a9ec1 73.5px,#3295c5 75.5px,#399dc2 77.5px,#3fa5be 78.5px,#62b6c7 80.5px,#66b8c8 81.5px,#5fb4c6 82.5px)}
.c24{background:linear-gradient(90deg,#399dc2 0.5px,#49aac0 6.5px,#389cc2 12.5px,#3fa5be 16.5px,#4dacc1 18.5px,#47a9c0 20.5px,#3ca1c0 22.5px,#379bc2 25.5px,#3fa5be 28.5px,#52aec2 30.5px,#53afc3 31.5px,#3ca2c0 34.5px,#369ac3 37.5px,#40a6be 40.5px,#56b0c4 42.5px,#57b1c4 43.5px,#50adc2 44.5px,#43a7bf 45.5px,#369ac3 48.5px,#3da2c0 51.5px,#44a8bf 52.5px,#52aec2 53.5px,#59b2c4 54.5px,#59b1c4 55.5px,#42a7be 57.5px,#379bc3 60.5px,#3ea3bf 63.5px,#54afc3 65.5px,#59b2c4 66.5px,#57b1c4 67.5px,#40a6be 69.5px,#389cc2 72.5px,#3fa5be 75.5px,#53afc3 77.5px,#56b0c3 78.5px,#4aabc0 80.5px,#40a6be 81.5px,#3da2bf 82.5px)}
.c25{background:linear-gradient(90deg,#215cc9 0.5px,#246fcc 1.5px,#3497c4 2.5px,#61b5c6 3.5px,#afd2d8 4.5px,#c4dadf 5.5px,#c0d9dd 6.5px,#9acad3 7.5px,#4cacc1 8.5px,#2f90c6 9.5px,#236acb 10.5px,#215dc9 11.5px,#2262ca 12.5px,#297dca 13.5px,#3a9fc1 14.5px,#72bdca 15.5px,#b4d4d9 16.5px,#c1d9de 17.5px,#b7d5da 18.5px,#7ec1cd 19.5px,#3ea3bf 20.5px,#2c87c8 21.5px,#2369cb 22.5px,#2262ca 23.5px,#236ccb 24.5px,#2e8dc7 25.5px,#40a6be 26.5px,#82c2ce 27.5px,#b4d4d9 28.5px,#bad6db 29.5px,#a5ced6 30.5px,#66b7c8 31.5px,#399ec1 32.5px,#2b83c9 33.5px,#236ccb 34.5px,#236acb 35.5px,#287aca 36.5px,#3498c4 37.5px,#51aec2 38.5px,#89c5d0 39.5px,#b0d2d8 40.5px,#afd2d8 41.5px,#8ac5d0 42.5px,#53afc3 43.5px,#369ac3 44.5px,#2b83c9 45.5px,#2573cc 46.5px,#2676cb 47.5px,#3a9fc1 49.5px,#5cb3c5 50.5px,#88c4cf 51.5px,#a0ccd4 52.5px,#96c9d2 53.5px,#6fbcca 54.5px,#44a8bf 55.5px,#3598c3 56.5px,#2c88c8 57.5px,#297fc9 58.5px,#2c86c8 59.5px,#3ea4bf 61.5px,#7fc1cd 63.5px,#8ac5d0 64.5px,#7bc0cc 65.5px,#3ea4bf 67.5px,#3092c6 69.5px,#2f8fc7 70.5px,#399dc1 72.5px,#45a8bf 73.5px,#5fb4c6 74.5px,#6fbbca 75.5px,#70bcca 76.5px,#64b7c7 77.5px,#3da3bf 79.5px,#3598c3 81.5px,#3599c3 82.5px)}
.c26{background:linear-gradient(90deg,#2c87c8 0.5px,#3a9ec1 2.5px,#4dacc1 3.5px,#6ab9c8 4.5px,#7abfcc 5.5px,#73bdcb 6.5px,#3ea4bf 8.5px,#2e8dc7 10.5px,#2c87c8 11.5px,#3699c3 13.5px,#3fa5be 14.5px,#5db3c5 15.5px,#72bdcb 16.5px,#77becb 17.5px,#66b8c8 18.5px,#4aabc0 19.5px,#399ec1 20.5px,#2d8bc7 22.5px,#2e8cc7 23.5px,#3ba0c0 25.5px,#68b9c8 27.5px,#75becb 28.5px,#6dbbc9 29.5px,#3ea4bf 31.5px,#3092c6 33.5px,#2e8dc7 34.5px,#389cc2 36.5px,#41a6be 37.5px,#5cb3c5 38.5px,#6ebbc9 39.5px,#6fbcca 40.5px,#62b5c6 41.5px,#49aac0 42.5px,#3a9fc1 43.5px,#3092c6 45.5px,#3599c3 47.5px,#3ca2c0 48.5px,#64b6c7 50.5px,#6cbac9 51.5px,#67b8c8 52.5px,#3fa5bf 54.5px,#3396c4 56.5px,#3598c4 58.5px,#42a7be 60.5px,#57b1c4 61.5px,#64b7c7 62.5px,#66b7c8 63.5px,#5cb3c5 64.5px,#49aac0 65.5px,#3da2c0 66.5px,#3598c3 68.5px,#399dc2 70.5px,#3ea3bf 71.5px,#59b2c4 73.5px,#5fb4c6 74.5px,#5cb3c5 75.5px,#41a6be 77.5px,#389cc2 80.5px,#3da2c0 82.5px)}
.c27{background:linear-gradient(90deg,#a7cfd6 0.5px,#83c2ce 1.5px,#4fadc2 2.5px,#3599c3 3.5px,#297fc9 4.5px,#246fcc 5.5px,#2470cc 6.5px,#389cc2 8.5px,#57b1c4 9.5px,#89c5cf 10.5px,#a6cfd6 11.5px,#9fccd4 12.5px,#77becb 13.5px,#46a9bf 14.5px,#3496c4 15.5px,#297fc9 16.5px,#2471cc 17.5px,#2676cb 18.5px,#3ba0c1 20.5px,#5eb4c6 21.5px,#8ac5d0 22.5px,#a0ccd4 23.5px,#93c8d2 24.5px,#3fa5be 26.5px,#2a80c9 28.5px,#2677cb 29.5px,#297fc9 30.5px,#3ea3bf 32.5px,#88c4cf 34.5px,#96c9d2 35.5px,#86c3cf 36.5px,#3da3bf 38.5px,#2b84c8 40.5px,#297fc9 41.5px,#3598c3 43.5px,#40a6be 44.5px,#65b7c7 45.5px,#82c2ce 46.5px,#89c5d0 47.5px,#76becb 48.5px,#3ca1c0 50.5px,#2d8bc7 52.5px,#2d89c8 53.5px,#389dc2 55.5px,#47a9c0 56.5px,#65b7c7 57.5px,#78bfcc 58.5px,#7abfcc 59.5px,#69b9c8 60.5px,#4eadc2 61.5px,#3ca0c0 62.5px,#3193c6 64.5px,#3598c4 66.5px,#3ca1c0 67.5px,#4babc1 68.5px,#61b5c6 69.5px,#6cbac9 70.5px,#6ab9c9 71.5px,#5db3c5 72.5px,#47a9c0 73.5px,#3ca1c0 74.5px,#3598c4 76.5px,#3ea4bf 79.5px,#59b2c4 81.5px,#5fb4c6 82.5px)}
.c28{background:linear-gradient(90deg,#bad6db 0.5px,#97cad3 1.5px,#52aec2 2.5px,#3295c5 3.5px,#2471cc 4.5px,#2262ca 5.5px,#2266ca 6.5px,#297ec9 7.5px,#399ec1 8.5px,#69b9c8 9.5px,#aad0d7 10.5px,#bad6db 11.5px,#b2d3d9 12.5px,#7abfcc 13.5px,#3ea4bf 14.5px,#2d8bc7 15.5px,#236dcb 16.5px,#2266ca 17.5px,#246fcc 18.5px,#2f90c6 19.5px,#41a6be 20.5px,#7ec1cd 21.5px,#b0d2d8 22.5px,#b5d4da 23.5px,#9acbd3 24.5px,#5fb4c6 25.5px,#389cc2 26.5px,#2a82c9 27.5px,#246dcc 28.5px,#236dcb 29.5px,#297fc9 30.5px,#369ac3 31.5px,#56b0c3 32.5px,#8bc5d0 33.5px,#acd1d7 34.5px,#a7cfd6 35.5px,#7dc1cd 36.5px,#49aac0 37.5px,#3497c4 38.5px,#2a80c9 39.5px,#2573cb 40.5px,#2779ca 41.5px,#3091c6 42.5px,#3da2c0 43.5px,#8fc7d1 45.5px,#9fccd4 46.5px,#8dc6d0 47.5px,#3ea3bf 49.5px,#2b83c9 51.5px,#297ec9 52.5px,#369ac3 54.5px,#46a9c0 55.5px,#6bbac9 56.5px,#88c4cf 57.5px,#8ac5d0 58.5px,#72bdca 59.5px,#51aec2 60.5px,#3b9fc1 61.5px,#2e8bc7 63.5px,#2e8dc7 64.5px,#3ca1c0 66.5px,#6bb9c9 68.5px,#78bfcc 69.5px,#72bdca 70.5px,#5eb4c6 71.5px,#44a8bf 72.5px,#3497c4 74.5px,#3498c4 76.5px,#40a6be 78.5px,#54afc3 79.5px,#62b6c7 80.5px,#65b7c7 81.5px,#5eb4c5 82.5px)}
.c29{background:linear-gradient(90deg,#3699c3 0.5px,#3fa5bf 3.5px,#51aec2 5.5px,#53afc3 6.5px,#3da2c0 9.5px,#3599c3 12.5px,#3ea3bf 15.5px,#51aec2 17.5px,#55b0c3 18.5px,#52aec2 19.5px,#3ea3bf 21.5px,#3598c3 24.5px,#3da3bf 27.5px,#53afc3 29.5px,#59b1c4 30.5px,#56b0c3 31.5px,#3fa4bf 33.5px,#3598c4 36.5px,#3da3bf 39.5px,#55b0c3 41.5px,#5bb3c5 42.5px,#58b1c4 43.5px,#3fa5be 45.5px,#3599c3 48.5px,#3ea4bf 51.5px,#58b1c4 53.5px,#5db3c5 54.5px,#59b1c4 55.5px,#3fa5bf 57.5px,#369ac3 60.5px,#3fa5be 63.5px,#58b1c4 65.5px,#5bb2c5 66.5px,#56b0c4 67.5px,#3fa5bf 69.5px,#389cc2 72.5px,#42a7be 75.5px,#56b0c3 77.5px,#57b0c4 78.5px,#3fa5bf 81.5px,#3ca1c0 82.5px)}
.c30{background:linear-gradient(90deg,#205bc8 0.5px,#246ecc 1.5px,#3497c4 2.5px,#61b5c6 3.5px,#b0d2d8 4.5px,#c5dbdf 5.5px,#c1d9de 6.5px,#9bcbd3 7.5px,#4cacc1 8.5px,#2f8fc6 9.5px,#2369cb 10.5px,#215cc9 11.5px,#2262ca 12.5px,#297dca 13.5px,#3b9fc1 14.5px,#74bdcb 15.5px,#b5d4da 16.5px,#c2d9de 17.5px,#b7d5da 18.5px,#7ec1cd 19.5px,#3ea3bf 20.5px,#2c86c8 21.5px,#2368cb 22.5px,#2261ca 23.5px,#236ccb 24.5px,#2f8ec7 25.5px,#42a7be 26.5px,#84c3ce 27.5px,#b5d4da 28.5px,#bad6db 29.5px,#a5ced6 30.5px,#65b7c7 31.5px,#399dc2 32.5px,#2a81c9 33.5px,#236bcb 34.5px,#2369cb 35.5px,#287aca 36.5px,#3598c4 37.5px,#53afc3 38.5px,#8cc6d0 39.5px,#b1d2d8 40.5px,#b0d2d8 41.5px,#89c4cf 42.5px,#51aec2 43.5px,#3699c3 44.5px,#2a81c9 45.5px,#2572cc 46.5px,#2676cb 47.5px,#3b9fc1 49.5px,#5eb4c6 50.5px,#8bc5d0 51.5px,#a1cdd5 52.5px,#96c9d2 53.5px,#42a7bf 55.5px,#2c87c8 57.5px,#297fc9 58.5px,#2c87c8 59.5px,#3fa5be 61.5px,#81c2ce 63.5px,#8bc5d0 64.5px,#7abfcc 65.5px,#3ea3bf 67.5px,#2f91c6 69.5px,#2f8ec7 70.5px,#3a9ec1 72.5px,#47a9c0 73.5px,#61b5c6 74.5px,#70bcca 75.5px,#70bcca 76.5px,#63b6c7 77.5px,#3da2c0 79.5px,#3598c4 81.5px,#3599c3 82.5px)}
.c31{background:linear-gradient(90deg,#2e8ec7 0.5px,#3a9fc1 2.5px,#4aabc1 3.5px,#63b6c7 4.5px,#6ebbc9 5.5px,#69b9c8 6.5px,#3ea3bf 8.5px,#3092c6 10.5px,#2e8ec7 11.5px,#379bc2 13.5px,#40a5be 14.5px,#59b2c4 15.5px,#6ab9c9 16.5px,#6cbac9 17.5px,#5eb4c5 18.5px,#45a8bf 19.5px,#3395c5 21.5px,#2f90c6 22.5px,#3598c4 24.5px,#3ca2c0 25.5px,#64b6c7 27.5px,#6cbac9 28.5px,#65b7c7 29.5px,#3da2bf 31.5px,#3193c5 33.5px,#3396c4 35.5px,#44a8bf 37.5px,#5bb2c5 38.5px,#69b9c8 39.5px,#68b9c8 40.5px,#5ab2c5 41.5px,#43a7bf 42.5px,#3497c4 44.5px,#3395c5 46.5px,#3ea3bf 48.5px,#62b5c6 50.5px,#68b8c8 51.5px,#61b5c6 52.5px,#3ea3bf 54.5px,#3497c4 56.5px,#369ac3 58.5px,#45a8bf 60.5px,#58b1c4 61.5px,#62b6c7 62.5px,#62b6c6 63.5px,#57b0c4 64.5px,#45a8bf 65.5px,#389bc2 67.5px,#379ac3 69.5px,#3fa4bf 71.5px,#59b2c4 73.5px,#5db3c5 74.5px,#59b1c4 75.5px,#3fa5be 77.5px,#399dc2 80.5px,#3ea3bf 82.5px)}
.c32{background:linear-gradient(90deg,#b0d2d8 0.5px,#8ac5d0 1.5px,#51aec2 2.5px,#3598c4 3.5px,#287bca 4.5px,#236bcb 5.5px,#236dcb 6.5px,#2a82c9 7.5px,#389cc2 8.5px,#5bb2c5 9.5px,#91c7d1 10.5px,#b0d2d8 11.5px,#a7cfd6 12.5px,#7bc0cc 13.5px,#46a9bf 14.5px,#3395c5 15.5px,#287aca 16.5px,#246dcc 17.5px,#2573cc 18.5px,#3ba0c0 20.5px,#62b6c7 21.5px,#93c8d2 22.5px,#a8cfd6 23.5px,#9acad3 24.5px,#3fa5bf 26.5px,#3194c5 27.5px,#287cca 28.5px,#2573cc 29.5px,#287cca 30.5px,#3193c5 31.5px,#3ea4bf 32.5px,#90c7d1 34.5px,#9dccd4 35.5px,#8ac5d0 36.5px,#3da2c0 38.5px,#2a80c9 40.5px,#287cca 41.5px,#2c87c8 42.5px,#43a8bf 44.5px,#6ab9c9 45.5px,#89c5cf 46.5px,#8fc7d1 47.5px,#79bfcc 48.5px,#56b0c3 49.5px,#3ba0c0 50.5px,#2c87c8 52.5px,#2c86c8 53.5px,#399dc2 55.5px,#4aabc1 56.5px,#69b9c8 57.5px,#7ec1cd 58.5px,#7ec1cd 59.5px,#69b9c8 60.5px,#4cacc1 61.5px,#3b9fc1 62.5px,#3091c6 64.5px,#3598c4 66.5px,#3ca1c0 67.5px,#64b7c7 69.5px,#6fbcca 70.5px,#6cbac9 71.5px,#5cb3c5 72.5px,#45a9bf 73.5px,#369ac3 75.5px,#3699c3 77.5px,#3fa4bf 79.5px,#5cb3c5 81.5px,#60b5c6 82.5px)}
.c33{background:linear-gradient(90deg,#b7d5da 0.5px,#92c8d1 1.5px,#51aec2 2.5px,#3395c5 3.5px,#2574cb 4.5px,#2265ca 5.5px,#2369cb 6.5px,#2a81c9 7.5px,#3a9ec1 8.5px,#67b8c8 9.5px,#a4ced5 10.5px,#b7d5da 11.5px,#add1d7 12.5px,#75becb 13.5px,#3ea3bf 14.5px,#2e8cc7 15.5px,#246fcc 16.5px,#2368cb 17.5px,#2572cc 18.5px,#3092c6 19.5px,#42a7be 20.5px,#7cc0cd 21.5px,#abd0d7 22.5px,#b2d3d9 23.5px,#94c8d2 24.5px,#5cb3c5 25.5px,#389cc2 26.5px,#2b83c9 27.5px,#246fcc 28.5px,#246fcc 29.5px,#379bc2 31.5px,#56b0c4 32.5px,#89c5cf 33.5px,#a7cfd6 34.5px,#a0cdd5 35.5px,#77bfcc 36.5px,#46a9c0 37.5px,#3497c4 38.5px,#2a81c9 39.5px,#2675cb 40.5px,#287dca 41.5px,#3193c6 42.5px,#3ea3bf 43.5px,#8cc6d0 45.5px,#9acad3 46.5px,#88c4cf 47.5px,#3da2c0 49.5px,#2b84c8 51.5px,#2a81c9 52.5px,#379bc2 54.5px,#48aac0 55.5px,#6bbac9 56.5px,#85c3cf 57.5px,#86c4cf 58.5px,#6ebbca 59.5px,#4eacc2 60.5px,#3a9fc1 61.5px,#2e8dc7 63.5px,#3497c4 65.5px,#3da2c0 66.5px,#6ab9c9 68.5px,#76becb 69.5px,#6fbbca 70.5px,#5cb3c5 71.5px,#41a7be 72.5px,#3497c4 74.5px,#3598c3 76.5px,#41a6be 78.5px,#55b0c3 79.5px,#62b5c6 80.5px,#64b6c7 81.5px,#5cb3c5 82.5px)}
.c34{background:linear-gradient(90deg,#3396c5 0.5px,#40a6be 3.5px,#51aec2 4.5px,#5bb3c5 5.5px,#5cb3c5 6.5px,#54afc3 7.5px,#43a7bf 8.5px,#3396c4 11.5px,#3599c3 13.5px,#3fa5be 15.5px,#5bb2c5 17.5px,#5eb4c5 18.5px,#56b0c4 19.5px,#3ca2c0 21.5px,#3396c4 24.5px,#3fa5bf 27.5px,#5cb3c5 29.5px,#5fb4c6 30.5px,#58b1c4 31.5px,#3da2bf 33.5px,#3396c4 36.5px,#3fa5be 39.5px,#5db3c5 41.5px,#60b5c6 42.5px,#59b2c4 43.5px,#3da3bf 45.5px,#3497c4 48.5px,#40a6be 51.5px,#5db3c5 53.5px,#60b5c6 54.5px,#58b1c4 55.5px,#3da3bf 57.5px,#3599c3 60.5px,#43a7bf 63.5px,#52aec3 64.5px,#5cb3c5 65.5px,#5db3c5 66.5px,#55b0c3 67.5px,#3ea3bf 69.5px,#389cc2 72.5px,#3ea3bf 74.5px,#58b1c4 77.5px,#57b1c4 78.5px,#3ea4bf 81.5px,#3ca0c0 82.5px)}
.c35{background:linear-gradient(90deg,#205bc8 0.5px,#246ecc 1.5px,#3497c4 2.5px,#62b6c6 3.5px,#b1d2d8 4.5px,#c5dbdf 5.5px,#c1d9de 6.5px,#9bcbd3 7.5px,#4cabc1 8.5px,#2f8fc7 9.5px,#2369cb 10.5px,#215bc9 11.5px,#2262ca 12.5px,#297dca 13.5px,#3ba0c1 14.5px,#76becb 15.5px,#b6d4da 16.5px,#c2dade 17.5px,#b7d5da 18.5px,#7dc0cd 19.5px,#3da3bf 20.5px,#2b85c8 21.5px,#2368cb 22.5px,#2161c9 23.5px,#236ccb 24.5px,#2f8fc7 25.5px,#43a8bf 26.5px,#86c4cf 27.5px,#b6d4da 28.5px,#bbd6dc 29.5px,#a4ced5 30.5px,#63b6c7 31.5px,#389dc2 32.5px,#2a80c9 33.5px,#236bcb 34.5px,#2369cb 35.5px,#287bca 36.5px,#3599c3 37.5px,#55afc3 38.5px,#8fc6d1 39.5px,#b1d3d8 40.5px,#b0d2d8 41.5px,#87c4cf 42.5px,#50adc2 43.5px,#3598c3 44.5px,#2a80c9 45.5px,#2471cc 46.5px,#2676cb 47.5px,#3ba0c0 49.5px,#60b5c6 50.5px,#8dc6d0 51.5px,#a2cdd5 52.5px,#95c9d2 53.5px,#40a6be 55.5px,#2c86c8 57.5px,#297ec9 58.5px,#2c87c8 59.5px,#40a6be 61.5px,#65b7c7 62.5px,#83c3ce 63.5px,#8bc5d0 64.5px,#79bfcc 65.5px,#3da3bf 67.5px,#2f90c6 69.5px,#2f8ec7 70.5px,#3a9fc1 72.5px,#49aac0 73.5px,#63b6c7 74.5px,#71bcca 75.5px,#70bcca 76.5px,#62b6c7 77.5px,#4cabc1 78.5px,#3da2c0 79.5px,#3598c4 81.5px,#3699c3 82.5px)}
.c36{background:linear-gradient(90deg,#3193c5 0.5px,#3ba0c0 2.5px,#47a9c0 3.5px,#5bb2c5 4.5px,#64b6c7 5.5px,#5fb4c6 6.5px,#3da3bf 8.5px,#3295c5 10.5px,#3496c4 12.5px,#40a6be 14.5px,#55b0c3 15.5px,#62b6c7 16.5px,#62b6c7 17.5px,#56b0c3 18.5px,#40a6be 19.5px,#3194c5 22.5px,#379bc2 24.5px,#3ea3bf 25.5px,#5fb4c6 27.5px,#64b7c7 28.5px,#5cb3c5 29.5px,#3ca1c0 31.5px,#3395c5 33.5px,#3699c3 35.5px,#46a9c0 37.5px,#5ab2c4 38.5px,#64b6c7 39.5px,#61b5c6 40.5px,#3fa5be 42.5px,#3598c4 44.5px,#3598c4 46.5px,#3fa5be 48.5px,#60b5c6 50.5px,#63b6c7 51.5px,#5ab2c5 52.5px,#3da2c0 54.5px,#3598c4 56.5px,#389cc2 58.5px,#3da2c0 59.5px,#58b1c4 61.5px,#60b5c6 62.5px,#5eb4c5 63.5px,#40a6be 65.5px,#369ac3 68.5px,#40a6be 71.5px,#59b1c4 73.5px,#5bb2c5 74.5px,#55b0c3 75.5px,#3fa4bf 77.5px,#399ec1 80.5px,#3ea4bf 82.5px)}
.c37{background:linear-gradient(90deg,#b4d4d9 0.5px,#90c7d1 1.5px,#52aec3 2.5px,#3497c4 3.5px,#2778cb 4.5px,#2368cb 5.5px,#2369cb 6.5px,#297fc9 7.5px,#389cc2 8.5px,#5eb4c5 9.5px,#98cad3 10.5px,#b4d4d9 11.5px,#afd2d8 12.5px,#7fc1cd 13.5px,#45a9bf 14.5px,#3294c5 15.5px,#2676cb 16.5px,#236acb 17.5px,#246fcc 18.5px,#3ba0c0 20.5px,#67b8c8 21.5px,#9acbd3 22.5px,#b0d2d8 23.5px,#a0ccd4 24.5px,#3ea4bf 26.5px,#3092c6 27.5px,#2778cb 28.5px,#246fcc 29.5px,#277aca 30.5px,#3193c6 31.5px,#3fa5bf 32.5px,#6cbac9 33.5px,#98cad3 34.5px,#a4ced5 35.5px,#8ec6d0 36.5px,#61b5c6 37.5px,#3ca1c0 38.5px,#287dca 40.5px,#2779ca 41.5px,#2c85c8 42.5px,#3599c3 43.5px,#46a9c0 44.5px,#6fbbca 45.5px,#90c7d1 46.5px,#94c8d2 47.5px,#7ac0cc 48.5px,#55afc3 49.5px,#3a9fc1 50.5px,#2b84c8 52.5px,#2b84c8 53.5px,#399ec1 55.5px,#4eacc1 56.5px,#6dbbc9 57.5px,#83c3ce 58.5px,#81c2ce 59.5px,#69b9c8 60.5px,#4babc1 61.5px,#3a9ec1 62.5px,#2f8fc7 64.5px,#3598c4 66.5px,#3da2c0 67.5px,#68b8c8 69.5px,#72bdca 70.5px,#6dbbc9 71.5px,#5cb3c5 72.5px,#43a8bf 73.5px,#3599c3 75.5px,#3599c3 77.5px,#3fa5be 79.5px,#5eb4c5 81.5px,#62b6c6 82.5px)}
.c38{background:linear-gradient(90deg,#b3d3d9 0.5px,#8cc6d0 1.5px,#4fadc2 2.5px,#3396c4 3.5px,#2677cb 4.5px,#2368cb 5.5px,#236ccb 6.5px,#2b84c8 7.5px,#3a9fc1 8.5px,#66b7c7 9.5px,#9eccd4 10.5px,#b3d3d9 11.5px,#a6ced6 12.5px,#70bcca 13.5px,#3ea3bf 14.5px,#2471cc 16.5px,#236bcb 17.5px,#2676cb 18.5px,#3194c5 19.5px,#43a7bf 20.5px,#79bfcc 21.5px,#a5ced6 22.5px,#acd1d7 23.5px,#8dc6d0 24.5px,#59b1c4 25.5px,#389cc2 26.5px,#2572cc 28.5px,#2573cc 29.5px,#389cc2 31.5px,#57b0c4 32.5px,#86c4cf 33.5px,#a1cdd5 34.5px,#99cad3 35.5px,#71bcca 36.5px,#43a8bf 37.5px,#3497c4 38.5px,#2b82c9 39.5px,#2778cb 40.5px,#2a80c9 41.5px,#3ea4bf 43.5px,#89c5cf 45.5px,#95c9d2 46.5px,#82c2ce 47.5px,#3ca1c0 49.5px,#2c86c8 51.5px,#2b83c9 52.5px,#389cc2 54.5px,#4aabc1 55.5px,#6bbac9 56.5px,#82c2ce 57.5px,#81c2ce 58.5px,#6ab9c9 59.5px,#4babc1 60.5px,#3a9ec1 61.5px,#2f8ec7 63.5px,#3599c3 65.5px,#3da3bf 66.5px,#6ab9c8 68.5px,#73bdcb 69.5px,#6cbac9 70.5px,#40a6be 72.5px,#3598c4 74.5px,#3699c3 76.5px,#43a7bf 78.5px,#56b0c3 79.5px,#61b5c6 80.5px,#62b6c7 81.5px,#5ab2c4 82.5px)}
.c39{background:linear-gradient(90deg,#3092c6 0.5px,#43a7bf 3.5px,#59b1c4 4.5px,#66b7c7 5.5px,#66b7c8 6.5px,#5ab2c4 7.5px,#44a8bf 8.5px,#3497c4 10.5px,#3093c6 12.5px,#42a7be 15.5px,#58b1c4 16.5px,#65b7c7 17.5px,#66b7c7 18.5px,#5bb2c5 19.5px,#46a9c0 20.5px,#3598c4 22.5px,#3193c6 24.5px,#42a7be 27.5px,#57b1c4 28.5px,#64b7c7 29.5px,#66b7c7 30.5px,#5bb2c5 31.5px,#47a9c0 32.5px,#3699c3 34.5px,#3294c5 36.5px,#43a7bf 39.5px,#58b1c4 40.5px,#64b7c7 41.5px,#65b7c7 42.5px,#5ab2c5 43.5px,#47a9c0 44.5px,#369ac3 46.5px,#3396c4 48.5px,#3ba0c0 50.5px,#45a8bf 51.5px,#58b1c4 52.5px,#63b6c7 53.5px,#63b6c7 54.5px,#58b1c4 55.5px,#46a9bf 56.5px,#379bc2 58.5px,#3598c4 60.5px,#3da2c0 62.5px,#58b1c4 64.5px,#60b5c6 65.5px,#5eb4c6 66.5px,#44a8bf 68.5px,#399dc2 70.5px,#3a9fc1 73.5px,#3ea4bf 74.5px,#55b0c3 76.5px,#5ab2c4 77.5px,#57b1c4 78.5px,#42a7bf 80.5px,#3ba0c1 82.5px)}
.c40{background:linear-gradient(90deg,#205bc8 0.5px,#246ecc 1.5px,#3497c4 2.5px,#62b6c7 3.5px,#b1d2d8 4.5px,#c5dbdf 5.5px,#c1d9de 6.5px,#9acad3 7.5px,#4babc1 8.5px,#2f8ec7 9.5px,#2368cb 10.5px,#215bc9 11.5px,#2262ca 12.5px,#297eca 13.5px,#3ba0c0 14.5px,#77becb 15.5px,#b6d4da 16.5px,#c2dade 17.5px,#b7d5da 18.5px,#7cc0cd 19.5px,#3da2c0 20.5px,#2b84c8 21.5px,#2367cb 22.5px,#2161c9 23.5px,#236ccb 24.5px,#2f90c6 25.5px,#45a8bf 26.5px,#88c4cf 27.5px,#b6d4da 28.5px,#bad6db 29.5px,#a3cdd5 30.5px,#62b6c6 31.5px,#389cc2 32.5px,#297fc9 33.5px,#236acb 34.5px,#236acb 35.5px,#287cca 36.5px,#3699c3 37.5px,#57b0c4 38.5px,#90c7d1 39.5px,#b2d3d9 40.5px,#afd2d8 41.5px,#85c3cf 42.5px,#4dacc1 43.5px,#3598c4 44.5px,#297fc9 45.5px,#2471cc 46.5px,#2677cb 47.5px,#3ca1c0 49.5px,#62b6c7 50.5px,#8fc7d1 51.5px,#a2cdd5 52.5px,#94c8d2 53.5px,#3fa5be 55.5px,#2b85c8 57.5px,#297ec9 58.5px,#2d88c8 59.5px,#41a6be 61.5px,#67b8c8 62.5px,#84c3ce 63.5px,#8bc5d0 64.5px,#77becc 65.5px,#3da2c0 67.5px,#2f8fc6 69.5px,#2f8fc7 70.5px,#3b9fc1 72.5px,#4babc1 73.5px,#64b6c7 74.5px,#72bdca 75.5px,#70bcca 76.5px,#61b5c6 77.5px,#4aabc0 78.5px,#3ca1c0 79.5px,#3598c4 81.5px,#3699c3 82.5px)}
.c41{background:linear-gradient(90deg,#3497c4 0.5px,#44a8bf 3.5px,#53afc3 4.5px,#5ab2c4 5.5px,#55b0c3 6.5px,#3da2c0 8.5px,#3498c4 10.5px,#369ac3 12.5px,#40a6be 14.5px,#51aec2 15.5px,#5ab2c5 16.5px,#59b1c4 17.5px,#3fa4bf 19.5px,#3497c4 22.5px,#3fa5bf 25.5px,#5ab2c5 27.5px,#5cb3c5 28.5px,#53afc3 29.5px,#42a7bf 30.5px,#3497c4 33.5px,#389cc2 35.5px,#3da2bf 36.5px,#58b1c4 38.5px,#5eb4c6 39.5px,#5ab2c4 40.5px,#3ea3bf 42.5px,#3497c4 45.5px,#42a7be 48.5px,#53afc3 49.5px,#5eb4c5 50.5px,#5eb4c5 51.5px,#54afc3 52.5px,#43a7bf 53.5px,#3599c3 56.5px,#3ea4bf 59.5px,#59b1c4 61.5px,#5eb4c5 62.5px,#59b1c4 63.5px,#3fa4bf 65.5px,#379bc3 68.5px,#43a7bf 71.5px,#59b1c4 73.5px,#59b1c4 74.5px,#3ea3bf 77.5px,#3a9ec1 80.5px,#3fa5be 82.5px)}
.c42{background:linear-gradient(90deg,#b8d5db 0.5px,#95c9d2 1.5px,#53afc3 2.5px,#3396c4 3.5px,#2674cb 4.5px,#2265ca 5.5px,#2267ca 6.5px,#287cca 7.5px,#379bc2 8.5px,#60b5c6 9.5px,#9fccd4 10.5px,#b8d5db 11.5px,#b3d3d9 12.5px,#83c3ce 13.5px,#45a8bf 14.5px,#3193c6 15.5px,#2572cc 16.5px,#2367cb 17.5px,#246dcc 18.5px,#2c88c8 19.5px,#3ca1c0 20.5px,#6ab9c9 21.5px,#a2cdd5 22.5px,#b4d3d9 23.5px,#a5ced6 24.5px,#3ea3bf 26.5px,#2f8fc6 27.5px,#2574cb 28.5px,#236dcb 29.5px,#2777cb 30.5px,#3193c6 31.5px,#40a5be 32.5px,#71bcca 33.5px,#9eccd4 34.5px,#aad0d7 35.5px,#91c7d1 36.5px,#61b5c6 37.5px,#3ba0c0 38.5px,#2779ca 40.5px,#2676cb 41.5px,#2b84c8 42.5px,#3699c3 43.5px,#4aaac0 44.5px,#74bdcb 45.5px,#96c9d2 46.5px,#98cad3 47.5px,#7cc0cd 48.5px,#53afc3 49.5px,#399ec1 50.5px,#2a81c9 52.5px,#2a82c9 53.5px,#3a9ec1 55.5px,#51aec2 56.5px,#72bdca 57.5px,#88c4cf 58.5px,#83c3ce 59.5px,#69b9c8 60.5px,#49aac0 61.5px,#399dc2 62.5px,#2e8dc7 64.5px,#3598c3 66.5px,#3da3bf 67.5px,#6bbac9 69.5px,#75becb 70.5px,#6ebbc9 71.5px,#5bb2c5 72.5px,#41a7be 73.5px,#3598c4 75.5px,#3599c3 77.5px,#40a6be 79.5px,#53afc3 80.5px,#60b5c6 81.5px,#63b6c7 82.5px)}
.c43{background:linear-gradient(90deg,#aed1d7 0.5px,#86c3cf 1.5px,#4dacc1 2.5px,#3497c4 3.5px,#287aca 4.5px,#236ccb 5.5px,#246fcc 6.5px,#3a9fc1 8.5px,#63b6c7 9.5px,#98cad3 10.5px,#aed1d8 11.5px,#9dccd4 12.5px,#3da3bf 14.5px,#2675cb 16.5px,#246ecc 17.5px,#287bca 18.5px,#3295c5 19.5px,#44a8bf 20.5px,#75becb 21.5px,#9eccd4 22.5px,#a4ced5 23.5px,#85c3cf 24.5px,#55b0c3 25.5px,#389cc2 26.5px,#2676cb 28.5px,#2677cb 29.5px,#399dc1 31.5px,#57b1c4 32.5px,#82c2ce 33.5px,#9bcbd3 34.5px,#92c8d1 35.5px,#6cbac9 36.5px,#41a6be 37.5px,#2b84c8 39.5px,#287cca 40.5px,#2b84c8 41.5px,#3fa5bf 43.5px,#85c3cf 45.5px,#8fc7d1 46.5px,#7bc0cc 47.5px,#58b1c4 48.5px,#3ca1c0 49.5px,#2c88c8 51.5px,#2c86c8 52.5px,#399ec1 54.5px,#4cacc1 55.5px,#6bbac9 56.5px,#7fc1cd 57.5px,#7cc0cd 58.5px,#66b7c7 59.5px,#48aac0 60.5px,#399dc1 61.5px,#2f90c6 63.5px,#369ac3 65.5px,#3ea4bf 66.5px,#69b9c8 68.5px,#70bcca 69.5px,#68b9c8 70.5px,#3fa5be 72.5px,#3598c4 74.5px,#379ac3 76.5px,#45a8bf 78.5px,#57b0c4 79.5px,#61b5c6 80.5px,#61b5c6 81.5px,#58b1c4 82.5px)}
.c44{background:linear-gradient(90deg,#2e8bc7 0.5px,#399dc1 2.5px,#46a9bf 3.5px,#60b5c6 4.5px,#6fbcca 5.5px,#6fbcca 6.5px,#60b5c6 7.5px,#46a9bf 8.5px,#3295c5 10.5px,#2e8dc7 11.5px,#2e8dc7 12.5px,#399ec1 14.5px,#46a9c0 15.5px,#60b5c6 16.5px,#6ebbca 17.5px,#6ebbc9 18.5px,#5fb4c6 19.5px,#46a9bf 20.5px,#3395c5 22.5px,#2f8fc7 23.5px,#3396c4 25.5px,#3a9fc1 26.5px,#47a9c0 27.5px,#5fb4c6 28.5px,#6dbbc9 29.5px,#6cbac9 30.5px,#5db3c5 31.5px,#45a8bf 32.5px,#3396c4 34.5px,#3092c6 36.5px,#3ba0c0 38.5px,#49aac0 39.5px,#5fb4c6 40.5px,#6bbac9 41.5px,#69b9c8 42.5px,#5bb2c5 43.5px,#44a8bf 44.5px,#3497c4 46.5px,#3295c5 48.5px,#3ca1c0 50.5px,#5fb4c6 52.5px,#68b8c8 53.5px,#65b7c7 54.5px,#57b1c4 55.5px,#42a7bf 56.5px,#3396c4 59.5px,#389cc2 61.5px,#3ea3bf 62.5px,#5db3c5 64.5px,#63b6c7 65.5px,#5fb4c6 66.5px,#40a6be 68.5px,#369ac3 71.5px,#3fa5be 74.5px,#58b1c4 76.5px,#5cb3c5 77.5px,#58b1c4 78.5px,#40a6be 80.5px,#3a9fc1 82.5px)}
.c45{background:linear-gradient(90deg,#215bc9 0.5px,#246fcc 1.5px,#3498c4 2.5px,#62b6c6 3.5px,#b0d2d8 4.5px,#c5dbdf 5.5px,#c1d9de 6.5px,#99cad3 7.5px,#4aabc1 8.5px,#2f8ec7 9.5px,#2369cb 10.5px,#215cc9 11.5px,#2262ca 12.5px,#297fc9 13.5px,#3ba0c0 14.5px,#77becc 15.5px,#b6d4da 16.5px,#c2d9de 17.5px,#b6d4da 18.5px,#7abfcc 19.5px,#3da2c0 20.5px,#2b84c9 21.5px,#2367cb 22.5px,#2261ca 23.5px,#246dcc 24.5px,#3091c6 25.5px,#46a9c0 26.5px,#89c5cf 27.5px,#b6d4da 28.5px,#bad6db 29.5px,#a0cdd5 30.5px,#60b5c6 31.5px,#389bc2 32.5px,#297ec9 33.5px,#236acb 34.5px,#236acb 35.5px,#297dca 36.5px,#369ac3 37.5px,#58b1c4 38.5px,#91c7d1 39.5px,#b2d3d9 40.5px,#add1d7 41.5px,#82c2ce 42.5px,#4babc1 43.5px,#3497c4 44.5px,#297fc9 45.5px,#2471cc 46.5px,#2778cb 47.5px,#3ca1c0 49.5px,#90c7d1 51.5px,#a2cdd5 52.5px,#92c8d1 53.5px,#3fa4bf 55.5px,#2b84c8 57.5px,#297fc9 58.5px,#3699c3 60.5px,#43a7bf 61.5px,#68b8c8 62.5px,#85c3cf 63.5px,#8ac5d0 64.5px,#75becb 65.5px,#55b0c3 66.5px,#3ca1c0 67.5px,#2f8fc7 69.5px,#2f8fc7 70.5px,#3ba0c0 72.5px,#4dacc1 73.5px,#65b7c7 74.5px,#72bdca 75.5px,#6fbbca 76.5px,#5fb4c6 77.5px,#48aac0 78.5px,#3ca1c0 79.5px,#3598c4 81.5px,#3699c3 82.5px)}
.c46{background:linear-gradient(90deg,#379ac3 0.5px,#41a6be 3.5px,#4babc1 4.5px,#4fadc2 5.5px,#4babc1 6.5px,#3ca2c0 8.5px,#379ac3 11.5px,#41a7be 14.5px,#4dacc1 15.5px,#52aec2 16.5px,#4fadc2 17.5px,#3da2bf 19.5px,#369ac3 22.5px,#40a6be 25.5px,#4eacc1 26.5px,#55b0c3 27.5px,#54afc3 28.5px,#3fa4bf 30.5px,#3699c3 33.5px,#3fa5bf 36.5px,#57b0c4 38.5px,#59b1c4 39.5px,#52aec2 40.5px,#44a8bf 41.5px,#3699c3 44.5px,#3da2c0 47.5px,#55afc3 49.5px,#5bb2c5 50.5px,#58b1c4 51.5px,#3fa5be 53.5px,#3699c3 56.5px,#40a6be 59.5px,#59b1c4 61.5px,#5bb2c5 62.5px,#54afc3 63.5px,#3ea3bf 65.5px,#389cc2 68.5px,#3ea3bf 70.5px,#52aec3 72.5px,#58b1c4 73.5px,#57b0c4 74.5px,#42a7be 76.5px,#3a9ec1 79.5px,#40a6be 82.5px)}
.c47{background:linear-gradient(90deg,#bbd7dc 0.5px,#9acad3 1.5px,#54afc3 2.5px,#3396c5 3.5px,#2571cc 4.5px,#2262ca 5.5px,#2264ca 6.5px,#287aca 7.5px,#379bc2 8.5px,#63b6c7 9.5px,#a5ced6 10.5px,#bbd6dc 11.5px,#b5d4da 12.5px,#86c4cf 13.5px,#45a8bf 14.5px,#3091c6 15.5px,#246fcc 16.5px,#2265ca 17.5px,#236bcb 18.5px,#2c87c8 19.5px,#3ca1c0 20.5px,#6ebbc9 21.5px,#a8cfd6 22.5px,#b6d5da 23.5px,#a9d0d6 24.5px,#70bcca 25.5px,#3da3bf 26.5px,#2471cc 28.5px,#236bcb 29.5px,#2676cb 30.5px,#3193c6 31.5px,#41a6be 32.5px,#76becb 33.5px,#a4ced5 34.5px,#afd2d8 35.5px,#93c8d2 36.5px,#60b5c6 37.5px,#3a9fc1 38.5px,#2676cb 40.5px,#2573cb 41.5px,#2b83c9 42.5px,#3699c3 43.5px,#4dacc1 44.5px,#7abfcc 45.5px,#9bcbd3 46.5px,#9ccbd4 47.5px,#7dc0cd 48.5px,#52aec2 49.5px,#389dc2 50.5px,#297fc9 52.5px,#2a81c9 53.5px,#3a9fc1 55.5px,#54afc3 56.5px,#77becb 57.5px,#8cc6d0 58.5px,#85c3cf 59.5px,#47a9c0 61.5px,#389cc2 62.5px,#2d8bc7 64.5px,#3599c3 66.5px,#3ea3bf 67.5px,#6ebbc9 69.5px,#78bfcc 70.5px,#6ebbca 71.5px,#40a6be 73.5px,#3497c4 75.5px,#3598c3 77.5px,#41a7be 79.5px,#55b0c3 80.5px,#62b5c6 81.5px,#64b6c7 82.5px)}
.c48{background:linear-gradient(90deg,#a4ced5 0.5px,#7fc1cd 1.5px,#4cabc1 2.5px,#3497c4 3.5px,#297eca 4.5px,#246fcc 5.5px,#2573cb 6.5px,#3ba0c1 8.5px,#61b5c6 9.5px,#90c7d1 10.5px,#a5ced6 11.5px,#94c8d2 12.5px,#3da2c0 14.5px,#2f91c6 15.5px,#2779ca 16.5px,#2573cc 17.5px,#297fc9 18.5px,#3496c4 19.5px,#44a8bf 20.5px,#72bdca 21.5px,#97c9d2 22.5px,#9bcbd3 23.5px,#7dc1cd 24.5px,#51aec2 25.5px,#389bc2 26.5px,#277aca 28.5px,#287cca 29.5px,#3a9fc1 31.5px,#57b1c4 32.5px,#7ec1cd 33.5px,#94c8d2 34.5px,#8ac5d0 35.5px,#3fa5be 37.5px,#2c87c8 39.5px,#297fc9 40.5px,#2c88c8 41.5px,#40a6be 43.5px,#64b7c7 44.5px,#81c2ce 45.5px,#88c4cf 46.5px,#74bdcb 47.5px,#54afc3 48.5px,#3ba0c0 49.5px,#2d8ac7 51.5px,#2d8ac7 52.5px,#3a9fc1 54.5px,#4eacc1 55.5px,#6ab9c9 56.5px,#7bc0cc 57.5px,#76becb 58.5px,#61b5c6 59.5px,#44a8bf 60.5px,#3295c5 62.5px,#3294c5 64.5px,#3fa5bf 66.5px,#68b9c8 68.5px,#6ebbc9 69.5px,#65b7c7 70.5px,#3ea4bf 72.5px,#3598c4 74.5px,#379bc2 76.5px,#46a9c0 78.5px,#57b1c4 79.5px,#60b5c6 80.5px,#5fb4c6 81.5px,#55b0c3 82.5px)}
.c49{background:linear-gradient(90deg,#2b85c8 0.5px,#389dc2 2.5px,#49aac0 3.5px,#68b8c8 4.5px,#7cc0cd 5.5px,#7bc0cc 6.5px,#66b7c7 7.5px,#47a9c0 8.5px,#389cc2 9.5px,#2c86c8 11.5px,#2c87c8 12.5px,#399ec1 14.5px,#4babc1 15.5px,#68b8c8 16.5px,#7abfcc 17.5px,#77bfcc 18.5px,#63b6c7 19.5px,#45a8bf 20.5px,#3092c6 22.5px,#2d89c8 23.5px,#2d8bc7 24.5px,#3b9fc1 26.5px,#4dacc1 27.5px,#67b8c8 28.5px,#77becb 29.5px,#73bdcb 30.5px,#60b4c6 31.5px,#43a7bf 32.5px,#3194c5 34.5px,#2e8dc7 35.5px,#3497c4 37.5px,#3ca1c0 38.5px,#67b8c8 40.5px,#72bdcb 41.5px,#6ebbc9 42.5px,#5bb3c5 43.5px,#41a6be 44.5px,#3295c5 46.5px,#3193c5 48.5px,#3da3bf 50.5px,#65b7c7 52.5px,#6dbbc9 53.5px,#68b8c8 54.5px,#40a6be 56.5px,#3497c4 58.5px,#3497c4 60.5px,#3fa4bf 62.5px,#61b5c6 64.5px,#67b8c8 65.5px,#60b5c6 66.5px,#3fa5be 68.5px,#3599c3 71.5px,#40a6be 74.5px,#5bb3c5 76.5px,#5eb4c5 77.5px,#58b1c4 78.5px,#3fa5be 80.5px,#399ec1 82.5px)}
.c50{background:linear-gradient(90deg,#215cc9 0.5px,#246fcc 1.5px,#3598c4 2.5px,#62b5c6 3.5px,#afd2d8 4.5px,#c4dadf 5.5px,#bfd8dd 6.5px,#97c9d2 7.5px,#4aaac0 8.5px,#2f8ec7 9.5px,#2369cb 10.5px,#215dc9 11.5px,#2263ca 12.5px,#2a80c9 13.5px,#3ca1c0 14.5px,#77bfcc 15.5px,#b5d4da 16.5px,#c0d9dd 17.5px,#b5d4da 18.5px,#77becc 19.5px,#3ca1c0 20.5px,#2b84c9 21.5px,#2368cb 22.5px,#2262ca 23.5px,#246ecc 24.5px,#3092c6 25.5px,#48a9c0 26.5px,#8ac5d0 27.5px,#b5d4da 28.5px,#b9d6db 29.5px,#9eccd4 30.5px,#5eb4c5 31.5px,#379bc2 32.5px,#297ec9 33.5px,#236bcb 34.5px,#236bcb 35.5px,#297fc9 36.5px,#379bc2 37.5px,#5ab2c4 38.5px,#92c8d1 39.5px,#b1d2d8 40.5px,#abd0d7 41.5px,#7fc1cd 42.5px,#49aac0 43.5px,#3497c4 44.5px,#297ec9 45.5px,#2572cc 46.5px,#2779ca 47.5px,#3091c6 48.5px,#3da2bf 49.5px,#90c7d1 51.5px,#a1cdd5 52.5px,#8fc7d1 53.5px,#3ea4bf 55.5px,#2b84c8 57.5px,#297fc9 58.5px,#369ac3 60.5px,#45a8bf 61.5px,#6ab9c8 62.5px,#85c3cf 63.5px,#89c4cf 64.5px,#72bdcb 65.5px,#53afc3 66.5px,#3ca0c0 67.5px,#2f8fc7 69.5px,#2f90c6 70.5px,#3ca1c0 72.5px,#66b7c7 74.5px,#72bdca 75.5px,#6ebbc9 76.5px,#5eb4c5 77.5px,#46a9c0 78.5px,#3ba0c0 79.5px,#3598c4 81.5px,#369ac3 82.5px)}
.c51{background:linear-gradient(90deg,#3a9ec1 0.5px,#45a8bf 5.5px,#399dc1 10.5px,#42a7bf 14.5px,#49aac0 16.5px,#399dc1 20.5px,#3b9fc1 23.5px,#50adc2 27.5px,#3da2c0 30.5px,#379bc2 33.5px,#42a7bf 36.5px,#55b0c3 38.5px,#53afc3 39.5px,#3fa5bf 41.5px,#369ac3 44.5px,#3fa5bf 47.5px,#56b0c3 49.5px,#59b1c4 50.5px,#53afc3 51.5px,#3da3bf 53.5px,#379ac3 56.5px,#3da2c0 58.5px,#59b1c4 61.5px,#58b1c4 62.5px,#42a7be 64.5px,#389cc2 67.5px,#3fa5bf 70.5px,#54afc3 72.5px,#58b1c4 73.5px,#4aabc1 75.5px,#3fa5be 76.5px,#3a9ec1 79.5px,#43a7bf 82.5px)}
.c52{background:linear-gradient(90deg,#bed8dd 0.5px,#9eccd4 1.5px,#55b0c3 2.5px,#3395c5 3.5px,#246fcc 4.5px,#2160c9 5.5px,#2262ca 6.5px,#2778cb 7.5px,#379bc2 8.5px,#65b7c7 9.5px,#aad0d7 10.5px,#bed8dd 11.5px,#b8d5db 12.5px,#89c4cf 13.5px,#44a8bf 14.5px,#2f90c6 15.5px,#246dcc 16.5px,#2263ca 17.5px,#236acb 18.5px,#2c86c8 19.5px,#3ca1c0 20.5px,#71bcca 21.5px,#aed1d7 22.5px,#b9d6db 23.5px,#add1d7 24.5px,#71bcca 25.5px,#3da2c0 26.5px,#2d8ac7 27.5px,#246ecc 28.5px,#2369cb 29.5px,#2574cb 30.5px,#3193c6 31.5px,#43a7bf 32.5px,#7bc0cc 33.5px,#aad0d7 34.5px,#b1d3d8 35.5px,#95c9d2 36.5px,#5fb4c6 37.5px,#3a9ec1 38.5px,#2573cb 40.5px,#2572cc 41.5px,#369ac3 43.5px,#4fadc2 44.5px,#7fc1cd 45.5px,#9fccd4 46.5px,#9fccd4 47.5px,#7dc1cd 48.5px,#50adc2 49.5px,#389cc2 50.5px,#297dca 52.5px,#2a80c9 53.5px,#3ba0c1 55.5px,#57b1c4 56.5px,#7bc0cc 57.5px,#8fc7d1 58.5px,#87c4cf 59.5px,#45a8bf 61.5px,#3091c6 63.5px,#2d89c8 64.5px,#3599c3 66.5px,#3ea4bf 67.5px,#70bcca 69.5px,#7abfcc 70.5px,#6fbbca 71.5px,#3fa5be 73.5px,#3496c4 75.5px,#3598c3 77.5px,#43a7bf 79.5px,#57b1c4 80.5px,#63b6c7 81.5px,#65b7c7 82.5px)}
.c53{background:linear-gradient(90deg,#99cad3 0.5px,#77becc 1.5px,#4aaac0 2.5px,#3598c3 3.5px,#2a82c9 4.5px,#2674cb 5.5px,#2779ca 6.5px,#3ba0c0 8.5px,#5eb4c6 9.5px,#88c4cf 10.5px,#9acbd3 11.5px,#8ac5d0 12.5px,#3da2c0 14.5px,#297dca 16.5px,#2778cb 17.5px,#2b84c8 18.5px,#3598c4 19.5px,#45a8bf 20.5px,#6ebbca 21.5px,#8fc7d1 22.5px,#91c7d1 23.5px,#74becb 24.5px,#4dacc1 25.5px,#379bc2 26.5px,#297eca 28.5px,#2a80c9 29.5px,#3ba0c1 31.5px,#57b1c4 32.5px,#7abfcc 33.5px,#8cc6d0 34.5px,#81c2ce 35.5px,#3ea4bf 37.5px,#2d89c8 39.5px,#2b83c9 40.5px,#3699c3 42.5px,#41a7be 43.5px,#64b6c7 44.5px,#7dc0cd 45.5px,#81c2ce 46.5px,#6dbbc9 47.5px,#4fadc2 48.5px,#3b9fc1 49.5px,#2e8cc7 51.5px,#2e8dc7 52.5px,#3ba0c0 54.5px,#69b9c8 56.5px,#77becb 57.5px,#70bcca 58.5px,#5db3c5 59.5px,#41a6be 60.5px,#3395c5 62.5px,#3396c5 64.5px,#40a6be 66.5px,#57b1c4 67.5px,#67b8c8 68.5px,#6bbac9 69.5px,#61b5c6 70.5px,#3ea3bf 72.5px,#3599c3 74.5px,#389cc2 76.5px,#3da2c0 77.5px,#57b1c4 79.5px,#5fb4c6 80.5px,#5db3c5 81.5px,#53afc3 82.5px)}
.c54{background:linear-gradient(90deg,#297eca 0.5px,#389cc2 2.5px,#4cabc1 3.5px,#6fbbca 4.5px,#88c4cf 5.5px,#87c4cf 6.5px,#6cbac9 7.5px,#48aac0 8.5px,#379bc2 9.5px,#2a80c9 11.5px,#2a81c9 12.5px,#399ec1 14.5px,#4fadc2 15.5px,#70bcca 16.5px,#86c3cf 17.5px,#81c2ce 18.5px,#67b8c8 19.5px,#44a8bf 20.5px,#2e8dc7 22.5px,#2b83c9 23.5px,#2c86c8 24.5px,#3ba0c1 26.5px,#6fbcca 28.5px,#81c2ce 29.5px,#7ac0cc 30.5px,#62b5c6 31.5px,#41a6be 32.5px,#2f90c6 34.5px,#2c87c8 35.5px,#2e8cc7 36.5px,#3da2c0 38.5px,#6ebbc9 40.5px,#7bc0cc 41.5px,#72bdca 42.5px,#5cb3c5 43.5px,#3fa5be 44.5px,#3193c6 46.5px,#2e8dc7 47.5px,#369ac3 49.5px,#3ea4bf 50.5px,#6bbac9 52.5px,#72bdcb 53.5px,#6ab9c8 54.5px,#3fa4bf 56.5px,#3395c5 58.5px,#3396c4 60.5px,#40a6be 62.5px,#56b0c4 63.5px,#66b7c7 64.5px,#6ab9c8 65.5px,#61b5c6 66.5px,#3ea4bf 68.5px,#3599c3 70.5px,#379bc2 72.5px,#43a8bf 74.5px,#54afc3 75.5px,#5eb4c6 76.5px,#5fb4c6 77.5px,#58b1c4 78.5px,#3ea4bf 80.5px,#399dc2 82.5px)}
.c55{background:linear-gradient(90deg,#215dc9 0.5px,#2470cc 1.5px,#3598c4 2.5px,#61b5c6 3.5px,#add1d7 4.5px,#c2dade 5.5px,#bed8dd 6.5px,#94c8d2 7.5px,#49aac0 8.5px,#2f8fc7 9.5px,#236acb 10.5px,#215ec9 11.5px,#2265ca 12.5px,#2a81c9 13.5px,#3ca1c0 14.5px,#77becc 15.5px,#b4d4d9 16.5px,#bfd8dd 17.5px,#b3d3d9 18.5px,#74bdcb 19.5px,#3ca1c0 20.5px,#2b84c9 21.5px,#2369cb 22.5px,#2263ca 23.5px,#246fcc 24.5px,#3193c6 25.5px,#49aac0 26.5px,#89c5d0 27.5px,#b4d4d9 28.5px,#b7d5da 29.5px,#9acad3 30.5px,#5bb3c5 31.5px,#379ac3 32.5px,#297ec9 33.5px,#236bcb 34.5px,#236ccb 35.5px,#2a81c9 36.5px,#389cc2 37.5px,#5bb2c5 38.5px,#92c8d1 39.5px,#b0d2d8 40.5px,#a8cfd6 41.5px,#7bc0cc 42.5px,#47a9c0 43.5px,#3396c4 44.5px,#297fc9 45.5px,#2573cb 46.5px,#287bca 47.5px,#3093c6 48.5px,#3ea3bf 49.5px,#90c7d1 51.5px,#9fccd4 52.5px,#8cc6d0 53.5px,#3ea3bf 55.5px,#2b84c8 57.5px,#2a81c9 58.5px,#379bc3 60.5px,#47a9c0 61.5px,#6bbac9 62.5px,#85c3cf 63.5px,#87c4cf 64.5px,#70bcca 65.5px,#51aec2 66.5px,#3ba0c0 67.5px,#2f8fc6 69.5px,#3598c4 71.5px,#3ca1c0 72.5px,#67b8c8 74.5px,#71bcca 75.5px,#6dbac9 76.5px,#5cb3c5 77.5px,#45a8bf 78.5px,#369ac3 80.5px,#369ac3 82.5px)}
.c56{background:linear-gradient(90deg,#3da2c0 0.5px,#3da2c0 7.5px,#3ea4bf 12.5px,#44a8bf 15.5px,#399ec1 21.5px,#40a6be 24.5px,#4cacc1 26.5px,#389cc2 31.5px,#3ba0c0 34.5px,#3fa5bf 35.5px,#51aec2 37.5px,#53afc3 38.5px,#3da2c0 41.5px,#379bc3 44.5px,#43a7bf 47.5px,#57b0c4 49.5px,#56b0c3 50.5px,#40a6be 52.5px,#379bc3 55.5px,#3ea4bf 58.5px,#55b0c3 60.5px,#59b1c4 61.5px,#55b0c3 62.5px,#3fa5bf 64.5px,#389cc2 67.5px,#41a6be 70.5px,#56b0c3 72.5px,#57b0c4 73.5px,#3ea4bf 76.5px,#3a9fc1 79.5px,#3fa4bf 81.5px,#45a8bf 82.5px)}
.c57{background:linear-gradient(90deg,#c0d9dd 0.5px,#a2cdd5 1.5px,#56b0c3 2.5px,#3295c5 3.5px,#246ecc 4.5px,#215ec9 5.5px,#2161c9 6.5px,#2677cb 7.5px,#379bc2 8.5px,#67b8c8 9.5px,#afd2d8 10.5px,#c0d9dd 11.5px,#bad6db 12.5px,#8ac5d0 13.5px,#43a8bf 14.5px,#2f8ec7 15.5px,#236bcb 16.5px,#2261ca 17.5px,#2368cb 18.5px,#2c85c8 19.5px,#3da2c0 20.5px,#75becb 21.5px,#b1d2d8 22.5px,#bbd7dc 23.5px,#afd2d8 24.5px,#71bcca 25.5px,#3ca2c0 26.5px,#2c88c8 27.5px,#236dcb 28.5px,#2367cb 29.5px,#2573cb 30.5px,#3193c6 31.5px,#45a8bf 32.5px,#80c1cd 33.5px,#aed1d8 34.5px,#b3d3d9 35.5px,#97c9d2 36.5px,#5eb4c6 37.5px,#399dc2 38.5px,#2471cc 40.5px,#2470cc 41.5px,#379ac3 43.5px,#52aec3 44.5px,#83c3ce 45.5px,#a3ced5 46.5px,#a1cdd5 47.5px,#7dc1cd 48.5px,#4fadc2 49.5px,#379bc3 50.5px,#287bca 52.5px,#297fc9 53.5px,#3ba0c0 55.5px,#7fc1cd 57.5px,#92c8d1 58.5px,#88c4cf 59.5px,#42a7bf 61.5px,#2f8fc7 63.5px,#2d88c8 64.5px,#3699c3 66.5px,#3fa5be 67.5px,#5db3c5 68.5px,#73bdcb 69.5px,#7cc0cd 70.5px,#6fbbca 71.5px,#3fa4bf 73.5px,#3396c4 75.5px,#3599c3 77.5px,#45a8bf 79.5px,#59b1c4 80.5px,#65b7c7 81.5px,#65b7c7 82.5px)}
.c58{background:linear-gradient(90deg,#8ec6d1 0.5px,#6fbcca 1.5px,#48a9c0 2.5px,#3699c3 3.5px,#287aca 5.5px,#297fc9 6.5px,#3ca1c0 8.5px,#7fc1cd 10.5px,#8fc7d1 11.5px,#80c1cd 12.5px,#3ca1c0 14.5px,#2a82c9 16.5px,#297eca 17.5px,#369ac3 19.5px,#46a9bf 20.5px,#6bbac9 21.5px,#86c4cf 22.5px,#87c4cf 23.5px,#6cbac9 24.5px,#49aac0 25.5px,#379bc2 26.5px,#2a82c9 28.5px,#2c86c8 29.5px,#3ca1c0 31.5px,#75becb 33.5px,#84c3ce 34.5px,#77bfcc 35.5px,#3ea3bf 37.5px,#2e8cc7 39.5px,#2c88c8 40.5px,#379bc2 42.5px,#44a8bf 43.5px,#63b6c7 44.5px,#78bfcc 45.5px,#79bfcc 46.5px,#67b8c8 47.5px,#4babc1 48.5px,#3a9fc1 49.5px,#2f8fc7 51.5px,#3598c4 53.5px,#3da2c0 54.5px,#68b8c8 56.5px,#72bdca 57.5px,#6bbac9 58.5px,#3fa5be 60.5px,#3396c4 62.5px,#3497c4 64.5px,#42a7be 66.5px,#58b1c4 67.5px,#66b7c7 68.5px,#68b8c8 69.5px,#5eb4c5 70.5px,#3da2bf 72.5px,#3699c3 74.5px,#3ea3bf 77.5px,#58b1c4 79.5px,#5db3c5 80.5px,#5bb2c5 81.5px,#50aec2 82.5px)}
.d0{background:linear-gradient(90deg,#c6dbdf 0.5px,#edc5b9 1.5px,#dc624b 2.5px,#aa2024 3.5px,#5e0915 4.5px,#4e0512 5.5px,#4e0512 6.5px,#610a16 7.5px,#ad2224 8.5px,#dd674e 9.5px,#edc9bf 10.5px,#c4dadf 11.5px,#c6dbdf 12.5px,#edc3b7 13.5px,#db614a 14.5px,#aa2024 15.5px,#610a16 16.5px,#4e0512 17.5px,#4e0512 18.5px,#6b0c18 19.5px,#b42725 20.5px,#df6e55 21.5px,#edd1c9 22.5px,#bfd8dd 23.5px,#c3dade 24.5px,#edc5ba 25.5px,#dc634c 26.5px,#ae2324 27.5px,#6b0c18 28.5px,#4f0512 29.5px,#530613 30.5px,#7b101b 31.5px,#be2d26 32.5px,#e27c64 33.5px,#ecdbd7 34.5px,#b8d5db 35.5px,#bed8dd 36.5px,#edcbc1 37.5px,#de6951 38.5px,#b52825 39.5px,#7c101b 40.5px,#630a16 41.5px,#680b17 42.5px,#91151f 43.5px,#cc3628 44.5px,#e68e78 45.5px,#e5e2e2 46.5px,#add1d7 47.5px,#b6d5da 48.5px,#edd3cc 49.5px,#e1745a 50.5px,#c12f26 51.5px,#931520 52.5px,#7d101b 53.5px,#84121d 54.5px,#a71e23 55.5px,#d34936 56.5px,#eaa391 57.5px,#cedde0 58.5px,#93c8d2 59.5px,#a7cfd6 60.5px,#ece0dc 61.5px,#e4856d 62.5px,#cf3a29 63.5px,#a91f23 64.5px,#9e1822 65.5px,#a31b23 66.5px,#bc2c26 67.5px,#db6049 68.5px,#eebcae 69.5px,#bbd6dc 70.5px,#75becb 71.5px,#8bc5d0 72.5px,#dce0e1 73.5px,#e89a86 74.5px,#d64f3b 75.5px,#bf2e26 76.5px,#b62825 77.5px,#bb2b26 78.5px,#d1402f 79.5px,#e37e66 80.5px,#edd8d2 81.5px,#9bcbd3 82.5px,#5ab2c4 83.5px,#71bcca 84.5px)}
.d1{background:linear-gradient(90deg,#246fcc 0.5px,#3da2c0 1.5px,#c7dbe0 2.5px,#eaa492 3.5px,#df6e54 4.5px,#dc624b 5.5px,#dc644c 6.5px,#e37d64 7.5px,#edc5b9 8.5px,#94c8d2 9.5px,#3092c6 10.5px,#2369cb 11.5px,#2a82c9 12.5px,#69b9c8 13.5px,#ecdad5 14.5px,#e58a73 15.5px,#dd664e 16.5px,#dc624b 17.5px,#de6950 18.5px,#e7937e 19.5px,#e6e3e2 20.5px,#53afc3 21.5px,#2779ca 22.5px,#236bcb 23.5px,#3598c4 24.5px,#b1d2d8 25.5px,#eeb8a8 26.5px,#e1765d 27.5px,#dc634b 28.5px,#dc634b 29.5px,#e07259 30.5px,#edb1a0 31.5px,#b9d6db 32.5px,#379bc2 33.5px,#236ccb 34.5px,#2675cb 35.5px,#48aac0 36.5px,#dbe0e1 37.5px,#e89985 38.5px,#de6a51 39.5px,#dc624b 40.5px,#dd654d 41.5px,#e4856e 42.5px,#edd2cb 43.5px,#76becb 44.5px,#2c87c8 45.5px,#2369cb 46.5px,#2e8cc7 47.5px,#83c3ce 48.5px,#edccc3 49.5px,#e38169 50.5px,#dc654d 51.5px,#dc624b 52.5px,#df6c52 53.5px,#e99e8b 54.5px,#d1dee1 55.5px,#40a6be 56.5px,#2572cc 57.5px,#246dcc 58.5px,#3a9ec1 59.5px,#bfd8dd 60.5px,#ecab9a 61.5px,#e07056 62.5px,#dc624b 63.5px,#dc634c 64.5px,#e27960 65.5px,#eebdb0 66.5px,#a4ced5 67.5px,#3295c5 68.5px,#236acb 69.5px,#297dca 70.5px,#5db3c5 71.5px,#ece2df 72.5px,#e68f79 73.5px,#dd674f 74.5px,#dc624b 75.5px,#dd674f 76.5px,#e68e78 77.5px,#ece0dd 78.5px,#5fb4c6 79.5px,#297eca 80.5px,#236acb 81.5px,#3294c5 82.5px,#a1cdd5 83.5px,#eec0b3 84.5px)}
.d2{background:linear-gradient(90deg,#236dcb 0.5px,#3193c5 1.5px,#5bb2c5 2.5px,#a7cfd6 3.5px,#bcd7dc 4.5px,#bfd8dd 6.5px,#b8d5db 7.5px,#8ac5d0 8.5px,#3ea4bf 9.5px,#2a80c9 10.5px,#2369cb 11.5px,#2779ca 12.5px,#3a9fc1 13.5px,#7cc0cd 14.5px,#b5d4da 15.5px,#bfd8dd 16.5px,#c1d9de 18.5px,#b5d4da 19.5px,#70bcca 20.5px,#369ac3 21.5px,#2471cc 22.5px,#236bcb 23.5px,#2f90c6 24.5px,#62b6c6 25.5px,#bdd8dc 26.5px,#e2e2e1 27.5px,#ece1de 28.5px,#ecdcd7 29.5px,#ecddd9 30.5px,#d0dee0 31.5px,#7abfcc 32.5px,#3294c5 33.5px,#236acb 34.5px,#2778cb 35.5px,#47a9c0 36.5px,#c6dbdf 37.5px,#edc4b8 38.5px,#ecaa98 39.5px,#e99f8c 41.5px,#edaf9e 42.5px,#ebe4e2 43.5px,#6ab9c8 44.5px,#2b82c9 45.5px,#2369cb 46.5px,#3395c5 47.5px,#aad0d7 48.5px,#edc3b6 49.5px,#e68f7a 50.5px,#e4826b 51.5px,#e4826a 52.5px,#e58871 53.5px,#ecad9c 54.5px,#cadce0 55.5px,#3ea3bf 56.5px,#246fcc 57.5px,#2573cb 58.5px,#48a9c0 59.5px,#d9e0e1 60.5px,#eba794 61.5px,#e4866f 62.5px,#e4826a 63.5px,#e4826b 64.5px,#e7927d 65.5px,#edcabf 66.5px,#96c9d2 67.5px,#2f90c6 68.5px,#2369cb 69.5px,#2e8cc7 70.5px,#8ac5d0 71.5px,#edcec5 72.5px,#e7947f 73.5px,#e4836b 74.5px,#e4856e 76.5px,#eaa391 77.5px,#e1e1e1 78.5px,#50adc2 79.5px,#2676cb 80.5px,#246dcc 81.5px,#3ba0c0 82.5px,#c4dadf 83.5px,#edb2a1 84.5px)}
.d3{background:linear-gradient(90deg,#bfd8dd 0.5px,#bbd7dc 1.5px,#a3ced5 2.5px,#5bb2c5 3.5px,#3295c5 4.5px,#246fcc 5.5px,#236bcb 6.5px,#2d88c8 7.5px,#43a8bf 8.5px,#8fc7d1 9.5px,#b8d5db 10.5px,#bfd8dd 11.5px,#bed8dd 13.5px,#b2d3d9 14.5px,#71bcca 15.5px,#399dc1 16.5px,#2778cb 17.5px,#2368cb 18.5px,#2779ca 19.5px,#3a9fc1 20.5px,#7dc0cd 21.5px,#bad6db 22.5px,#c8dce0 23.5px,#d0dee0 25.5px,#c7dce0 26.5px,#a6cfd6 27.5px,#44a8bf 28.5px,#2779ca 29.5px,#2058c8 30.5px,#215fc9 31.5px,#3092c6 32.5px,#75becb 33.5px,#cddde0 34.5px,#ecdcd8 35.5px,#edd4cd 36.5px,#edd0c8 37.5px,#edd4cd 38.5px,#d8e0e1 39.5px,#74bdcb 40.5px,#2a82c9 41.5px,#1e49b1 42.5px,#1d41a6 43.5px,#246ecc 44.5px,#5bb2c5 45.5px,#d7dfe1 46.5px,#edc4b8 47.5px,#eeb6a6 48.5px,#eeb7a7 50.5px,#edd1c9 51.5px,#b4d4d9 52.5px,#3598c4 53.5px,#1f4fbb 54.5px,#1c3694 55.5px,#2058c8 56.5px,#3ba0c1 57.5px,#c0d9dd 58.5px,#edcac1 59.5px,#eeb5a5 60.5px,#eeb4a3 62.5px,#edc5b9 63.5px,#cddde0 64.5px,#46a9bf 65.5px,#2261ca 66.5px,#1c3797 67.5px,#1e47af 68.5px,#2e8dc7 69.5px,#9ccbd4 70.5px,#ecd9d4 71.5px,#eeb8a9 72.5px,#edb3a2 73.5px,#edb3a2 74.5px,#eebcae 75.5px,#ebe4e2 76.5px,#75becb 77.5px,#2778cb 78.5px,#1d3fa2 79.5px,#1c3c9d 80.5px,#246ecc 81.5px,#64b7c7 82.5px,#e4e2e2 83.5px,#eebdaf 84.5px)}
.d4{background:linear-gradient(90deg,#dc634b 0.5px,#e07258 1.5px,#ecad9c 2.5px,#c0d9dd 3.5px,#3ba0c0 4.5px,#246fcc 5.5px,#246fcc 6.5px,#3a9fc1 7.5px,#bed8dd 8.5px,#edaf9e 9.5px,#e17359 10.5px,#dc634b 11.5px,#dc634b 12.5px,#e07157 13.5px,#ecab99 14.5px,#c2dade 15.5px,#3ca1c0 16.5px,#2470cc 17.5px,#246ecc 18.5px,#399ec1 19.5px,#bbd6dc 20.5px,#edb2a2 21.5px,#e1765d 22.5px,#dc654d 23.5px,#dc654d 24.5px,#e1735a 25.5px,#ecac9a 26.5px,#c3dade 27.5px,#3da2c0 28.5px,#2572cc 29.5px,#246ecc 30.5px,#389dc2 31.5px,#b6d5da 32.5px,#eeb9aa 33.5px,#e37e66 34.5px,#de6b52 35.5px,#de6b52 36.5px,#e27a61 37.5px,#edb09f 38.5px,#c2dade 39.5px,#3ea3bf 40.5px,#2574cb 41.5px,#246fcc 42.5px,#389bc2 43.5px,#b1d3d8 44.5px,#eec0b3 45.5px,#e4856e 46.5px,#e07157 47.5px,#e07056 48.5px,#e37f67 49.5px,#edb2a1 50.5px,#c3dade 51.5px,#3ea4bf 52.5px,#2676cb 53.5px,#246fcc 54.5px,#379ac3 55.5px,#add1d7 56.5px,#edc3b7 57.5px,#e58771 58.5px,#e07158 59.5px,#e07056 60.5px,#e37e66 61.5px,#edb09f 62.5px,#c5dbdf 63.5px,#3fa5be 64.5px,#2677cb 65.5px,#246ecc 66.5px,#3699c3 67.5px,#a8cfd6 68.5px,#edc5ba 69.5px,#e58872 70.5px,#e07258 71.5px,#e07056 72.5px,#e37d65 73.5px,#ecae9d 74.5px,#c7dce0 75.5px,#40a6be 76.5px,#2778cb 77.5px,#246ecc 78.5px,#3598c3 79.5px,#a3ced5 80.5px,#edc7bd 81.5px,#e58973 82.5px,#e07258 83.5px,#e07056 84.5px)}
.d5{background:linear-gradient(90deg,#bfd8dd 0.5px,#bbd7dc 1.5px,#9dccd4 2.5px,#51aec2 3.5px,#2f8fc7 4.5px,#236ccb 5.5px,#246ecc 6.5px,#3294c5 7.5px,#5db3c5 8.5px,#a7cfd6 9.5px,#bcd7dc 10.5px,#bfd8dd 12.5px,#b9d6db 13.5px,#93c8d2 14.5px,#45a8bf 15.5px,#2c87c8 16.5px,#2369cb 17.5px,#246fcc 18.5px,#3497c4 19.5px,#67b8c8 20.5px,#b1d2d8 21.5px,#c0d9dd 22.5px,#c3dade 24.5px,#bcd7dc 25.5px,#89c5cf 26.5px,#3a9fc1 27.5px,#236bcb 28.5px,#1f50bc 29.5px,#215dc9 30.5px,#3193c6 31.5px,#6fbbca 32.5px,#bdd7dc 33.5px,#d0dee0 34.5px,#d4dfe1 36.5px,#c3dade 37.5px,#78bfcc 38.5px,#2e8cc7 39.5px,#1e47af 40.5px,#1a2b84 41.5px,#1e46ad 42.5px,#2e8cc7 43.5px,#80c1cd 44.5px,#cbdde0 45.5px,#e3e2e1 46.5px,#e3e2e1 48.5px,#c5dbdf 49.5px,#63b6c7 50.5px,#2471cc 51.5px,#1b2f8b 52.5px,#182473 53.5px,#1e44aa 54.5px,#3194c5 55.5px,#96c9d2 56.5px,#d5dfe1 57.5px,#e7e3e2 58.5px,#e7e3e2 59.5px,#e2e2e1 60.5px,#bfd8dd 61.5px,#50adc2 62.5px,#2266ca 63.5px,#1a2981 64.5px,#192575 65.5px,#1f4eb9 66.5px,#389bc2 67.5px,#aad0d7 68.5px,#dae0e1 69.5px,#e7e3e2 70.5px,#e7e3e2 71.5px,#dfe1e1 72.5px,#b7d5da 73.5px,#3fa4bf 74.5px,#215bc9 75.5px,#19267b 76.5px,#19267a 77.5px,#2059c8 78.5px,#3da3bf 79.5px,#b5d4da 80.5px,#dee1e1 81.5px,#e7e3e2 82.5px,#e7e3e2 83.5px,#dae0e1 84.5px)}
.d6{background:linear-gradient(90deg,#bfd8dd 0.5px,#bad6db 1.5px,#99cad3 2.5px,#49aac0 3.5px,#2d89c8 4.5px,#236acb 5.5px,#2572cc 6.5px,#379ac3 7.5px,#6ebbc9 8.5px,#b2d3d9 9.5px,#bed8dd 10.5px,#bed8dd 12.5px,#b3d3d9 13.5px,#72bdca 14.5px,#389cc2 15.5px,#2674cb 16.5px,#2369cb 17.5px,#2c86c8 18.5px,#48aac0 19.5px,#9fccd4 20.5px,#c2d9de 21.5px,#cfdee0 23.5px,#cddde0 24.5px,#b7d5da 25.5px,#61b5c6 26.5px,#3091c6 27.5px,#2369cb 28.5px,#2471cc 29.5px,#3a9fc1 30.5px,#a3ced5 31.5px,#e4e2e2 32.5px,#edd3cc 33.5px,#edc9bf 35.5px,#edd4ce 36.5px,#c4dadf 37.5px,#4fadc2 38.5px,#277aca 39.5px,#2266ca 40.5px,#2f8fc7 41.5px,#86c4cf 42.5px,#ecddd8 43.5px,#edaf9e 44.5px,#eaa18e 45.5px,#e99e8b 46.5px,#eaa390 47.5px,#edc6ba 48.5px,#b6d5da 49.5px,#379bc2 50.5px,#2368cb 51.5px,#246fcc 52.5px,#43a7bf 53.5px,#cfdee0 54.5px,#eeb5a5 55.5px,#e89a86 56.5px,#e89883 58.5px,#ecaa98 59.5px,#ece3e1 60.5px,#69b9c8 61.5px,#297fc9 62.5px,#2264ca 63.5px,#2f8ec7 64.5px,#8ec6d0 65.5px,#edd4cd 66.5px,#eaa391 67.5px,#e89782 68.5px,#e89782 69.5px,#e99d89 70.5px,#eec0b3 71.5px,#bcd7dc 72.5px,#399dc1 73.5px,#2369cb 74.5px,#246dcc 75.5px,#3fa5bf 76.5px,#c9dce0 77.5px,#eeb8a9 78.5px,#e89a86 79.5px,#e89783 81.5px,#eba896 82.5px,#ecdedb 83.5px,#75becb 84.5px)}
.d7{background:linear-gradient(90deg,#246dcc 0.5px,#3396c5 1.5px,#6dbbc9 2.5px,#c0d9dd 3.5px,#dfe1e1 4.5px,#e7e3e2 5.5px,#e2e2e1 7.5px,#c6dbdf 8.5px,#83c3ce 9.5px,#389cc2 10.5px,#2572cc 11.5px,#236acb 12.5px,#2e8ec7 13.5px,#5bb2c5 14.5px,#b8d5db 15.5px,#dbe0e1 16.5px,#e8e3e2 17.5px,#e7e3e2 19.5px,#d1dee0 20.5px,#9acad3 21.5px,#3ba0c0 22.5px,#246fcc 23.5px,#215ec9 24.5px,#2574cb 25.5px,#3fa5be 26.5px,#b2d3d9 27.5px,#e6e3e2 28.5px,#edd8d2 29.5px,#edd4cd 31.5px,#ece3e0 32.5px,#b4d4d9 33.5px,#3ba0c0 34.5px,#215ec9 35.5px,#1c3b9d 36.5px,#1f50bb 37.5px,#3294c5 38.5px,#a1cdd5 39.5px,#ecdedb 40.5px,#edc3b7 41.5px,#eebeb0 43.5px,#edcbc1 44.5px,#c8dce0 45.5px,#3fa4bf 46.5px,#2055c4 47.5px,#19267a 48.5px,#1b308b 49.5px,#2573cb 50.5px,#7ec1cd 51.5px,#ece0dd 52.5px,#eebcae 53.5px,#eeb6a6 54.5px,#eeb6a6 55.5px,#eec1b4 56.5px,#dee1e1 57.5px,#59b1c4 58.5px,#2261ca 59.5px,#1a277d 60.5px,#1a277e 61.5px,#2263ca 62.5px,#5cb3c5 63.5px,#e0e1e1 64.5px,#eec0b3 65.5px,#eeb6a6 66.5px,#eeb6a6 67.5px,#eebdaf 68.5px,#ece2df 69.5px,#7abfcc 70.5px,#2471cc 71.5px,#1b2d88 72.5px,#192678 73.5px,#2054c3 74.5px,#3fa5bf 75.5px,#ccdde0 76.5px,#edc6ba 77.5px,#eeb7a7 78.5px,#eeb6a6 79.5px,#eebaab 80.5px,#edd7d1 81.5px,#a0cdd5 82.5px,#2b85c8 83.5px,#1c3492 84.5px)}
.d8{background:linear-gradient(90deg,#bfd8dd 0.5px,#b7d5da 1.5px,#85c3cf 2.5px,#3ea3bf 3.5px,#2a82c9 4.5px,#2369cb 5.5px,#2572cc 6.5px,#3598c4 7.5px,#64b7c7 8.5px,#acd1d7 9.5px,#bdd8dc 10.5px,#bcd7dc 12.5px,#a3ced5 13.5px,#58b1c4 14.5px,#3294c5 15.5px,#246ecc 16.5px,#236bcb 17.5px,#2d89c8 18.5px,#44a8bf 19.5px,#8fc6d1 20.5px,#b7d5da 21.5px,#bbd7dc 22.5px,#bad6db 23.5px,#add1d7 24.5px,#6fbcca 25.5px,#3a9ec1 26.5px,#297fc9 27.5px,#246dcc 28.5px,#287cca 29.5px,#389cc2 30.5px,#63b6c7 31.5px,#96c9d2 32.5px,#a8cfd6 33.5px,#a7cfd6 34.5px,#9ccbd4 35.5px,#75becb 36.5px,#40a6be 37.5px,#3092c6 38.5px,#2778cb 39.5px,#277aca 40.5px,#3193c5 41.5px,#40a6be 42.5px,#6cbac9 43.5px,#86c4cf 44.5px,#8ac5d0 45.5px,#86c4cf 46.5px,#72bdcb 47.5px,#4eacc1 48.5px,#369ac3 49.5px,#2b84c8 50.5px,#287aca 51.5px,#2d8ac7 52.5px,#399ec1 53.5px,#76becb 55.5px,#83c2ce 56.5px,#83c3ce 57.5px,#7abfcc 58.5px,#5eb4c5 59.5px,#3ca1c0 60.5px,#2f8fc7 61.5px,#287bca 62.5px,#2a81c9 63.5px,#3497c4 64.5px,#45a8bf 65.5px,#6bbac9 66.5px,#80c1cd 67.5px,#83c3ce 68.5px,#80c2ce 69.5px,#6bbac9 70.5px,#46a9bf 71.5px,#3497c4 72.5px,#2a81c9 73.5px,#287bca 74.5px,#2f8ec7 75.5px,#3ca1c0 76.5px,#5db3c5 77.5px,#7abfcc 78.5px,#83c3ce 79.5px,#83c2ce 80.5px,#77becb 81.5px,#3a9ec1 83.5px,#2e8bc7 84.5px)}
.d9{background:linear-gradient(90deg,#c5dbdf 0.5px,#c1d9de 1.5px,#aed1d8 2.5px,#5fb4c6 3.5px,#3295c5 4.5px,#236ccb 5.5px,#2265ca 6.5px,#2a81c9 7.5px,#40a5be 8.5px,#91c7d1 9.5px,#bcd7dc 10.5px,#c4dbdf 11.5px,#c4dadf 13.5px,#b9d6db 14.5px,#81c2ce 15.5px,#3ba0c0 16.5px,#2779ca 17.5px,#2264ca 18.5px,#2470cc 19.5px,#3699c3 20.5px,#6cbac9 21.5px,#b3d3d9 22.5px,#c2dade 23.5px,#c4dadf 25.5px,#bfd8dd 26.5px,#a0ccd4 27.5px,#4fadc2 28.5px,#2d8ac7 29.5px,#2266ca 30.5px,#2265ca 31.5px,#2c87c8 32.5px,#49aac0 33.5px,#9acad3 34.5px,#bdd7dc 35.5px,#c3dade 37.5px,#c1d9de 38.5px,#b2d3d9 39.5px,#6bbac9 40.5px,#3598c4 41.5px,#236ccb 42.5px,#215ec9 43.5px,#246fcc 44.5px,#389cc2 45.5px,#74bdcb 46.5px,#b5d4da 47.5px,#c1d9de 48.5px,#c2d9de 50.5px,#bad6db 51.5px,#8bc5d0 52.5px,#3ea4bf 53.5px,#287bca 54.5px,#215fc9 55.5px,#2264ca 56.5px,#2e8cc7 57.5px,#53afc3 58.5px,#a2cdd5 59.5px,#bed8dd 60.5px,#c2d9de 62.5px,#bfd8dd 63.5px,#a9d0d6 64.5px,#5bb2c5 65.5px,#3092c6 66.5px,#2266ca 67.5px,#215ec9 68.5px,#2676cb 69.5px,#3ca1c0 70.5px,#83c3ce 71.5px,#b8d5db 72.5px,#c1d9de 73.5px,#c1d9de 75.5px,#b6d5da 76.5px,#7cc0cd 77.5px,#3a9ec1 78.5px,#2572cc 79.5px,#215dc9 80.5px,#2368cb 81.5px,#3294c5 82.5px,#64b6c7 83.5px,#b1d3d8 84.5px)}
.d10{background:linear-gradient(90deg,#236ccb 0.5px,#2d8bc7 1.5px,#43a7bf 2.5px,#8bc5d0 3.5px,#b7d5da 4.5px,#bfd8dd 5.5px,#b9d6db 7.5px,#97c9d2 8.5px,#4fadc2 9.5px,#3092c6 10.5px,#246ecc 11.5px,#236acb 12.5px,#2b84c9 13.5px,#3da3bf 14.5px,#7ec1cd 15.5px,#b4d4d9 16.5px,#bed8dd 17.5px,#bbd7dc 19.5px,#a1cdd5 20.5px,#5bb2c5 21.5px,#3497c4 22.5px,#2573cb 23.5px,#236acb 24.5px,#297ec9 25.5px,#3a9fc1 26.5px,#6fbbca 27.5px,#add1d7 28.5px,#bbd6dc 29.5px,#b9d6db 31.5px,#a4ced5 32.5px,#64b7c7 33.5px,#379bc2 34.5px,#287cca 35.5px,#246dcc 36.5px,#287cca 37.5px,#379bc2 38.5px,#62b6c7 39.5px,#9fccd4 40.5px,#b6d4da 41.5px,#b6d5da 43.5px,#a5ced6 44.5px,#6cbac9 45.5px,#3ba0c1 46.5px,#2b85c8 47.5px,#2470cc 48.5px,#287aca 49.5px,#3598c4 50.5px,#57b0c4 51.5px,#93c8d2 52.5px,#b3d3d9 53.5px,#b5d4da 55.5px,#a9d0d7 56.5px,#76becb 57.5px,#3ea4bf 58.5px,#2d8bc7 59.5px,#2572cc 60.5px,#2677cb 61.5px,#3294c5 62.5px,#4cacc1 63.5px,#89c5d0 64.5px,#b1d2d8 65.5px,#b6d4da 67.5px,#afd2d8 68.5px,#81c2ce 69.5px,#44a8bf 70.5px,#3091c6 71.5px,#2574cb 72.5px,#2574cb 73.5px,#2f90c6 74.5px,#42a7be 75.5px,#7fc1cd 76.5px,#aed1d7 77.5px,#b6d4da 78.5px,#b1d3d8 80.5px,#8bc5d0 81.5px,#4fadc2 82.5px,#3295c5 83.5px,#2676cb 84.5px)}
.d11{background:linear-gradient(90deg,#bfd8dd 0.5px,#bbd7dc 1.5px,#9dcbd4 2.5px,#50adc2 3.5px,#2f8ec7 4.5px,#236bcb 5.5px,#246ecc 6.5px,#3395c5 7.5px,#5fb4c6 8.5px,#a9cfd6 9.5px,#bcd7dc 10.5px,#bfd8dd 12.5px,#b9d6db 13.5px,#8fc7d1 14.5px,#41a6be 15.5px,#2b84c8 16.5px,#2368cb 17.5px,#2471cc 18.5px,#3699c3 19.5px,#6cbac9 20.5px,#b3d3d9 21.5px,#c1d9de 22.5px,#c3dade 24.5px,#bad6db 25.5px,#7ec1cd 26.5px,#379ac3 27.5px,#2264ca 28.5px,#1f4cb6 29.5px,#215ec9 30.5px,#3395c5 31.5px,#79bfcc 32.5px,#c0d9dd 33.5px,#d1dee1 34.5px,#d3dfe1 36.5px,#bed8dd 37.5px,#64b6c7 38.5px,#2779ca 39.5px,#1c3999 40.5px,#19267b 41.5px,#1e47af 42.5px,#3194c5 43.5px,#91c7d1 44.5px,#d1dee1 45.5px,#e4e2e2 46.5px,#e5e3e2 47.5px,#e0e1e1 48.5px,#bcd7dc 49.5px,#45a8bf 50.5px,#215dc9 51.5px,#182474 52.5px,#17216b 53.5px,#1e49b2 54.5px,#379bc2 55.5px,#acd1d7 56.5px,#dbe0e1 57.5px,#e7e3e2 58.5px,#e7e3e2 59.5px,#dde1e1 60.5px,#b2d3d9 61.5px,#3a9ec1 62.5px,#1f4eb9 63.5px,#17226d 64.5px,#182371 65.5px,#2058c8 66.5px,#3fa5bf 67.5px,#b9d6db 68.5px,#e0e1e1 69.5px,#e7e3e2 70.5px,#e7e3e2 71.5px,#d7dfe1 72.5px,#9acbd3 73.5px,#3294c5 74.5px,#1d40a3 75.5px,#172168 76.5px,#19267a 77.5px,#2267ca 78.5px,#57b0c4 79.5px,#c2d9de 80.5px,#e3e2e2 81.5px,#e6e3e2 83.5px,#cedde0 84.5px)}
.d12{background:linear-gradient(90deg,#246ecc 0.5px,#389cc2 1.5px,#b2d3d9 2.5px,#eebcae 3.5px,#e27a61 4.5px,#dc634b 5.5px,#dc644c 6.5px,#e37e66 7.5px,#edc4b8 8.5px,#a3cdd5 9.5px,#3598c4 10.5px,#236ccb 11.5px,#2471cc 12.5px,#3ba0c0 13.5px,#bbd7dc 14.5px,#eeb4a4 15.5px,#e1765d 16.5px,#dc644c 17.5px,#dd674f 18.5px,#e58872 19.5px,#edd3cb 20.5px,#81c2ce 21.5px,#2e8dc7 22.5px,#2262ca 23.5px,#2369cb 24.5px,#379bc3 25.5px,#aed1d8 26.5px,#edc8bd 27.5px,#e7937f 28.5px,#e4866f 29.5px,#e68f79 30.5px,#eeb8a9 31.5px,#c3dade 32.5px,#3da2bf 33.5px,#2263ca 34.5px,#1d42a7 35.5px,#1f4db7 36.5px,#2a80c9 37.5px,#69b9c8 38.5px,#dae0e1 39.5px,#edc4b9 40.5px,#eebaac 41.5px,#edc4b8 42.5px,#e0e1e1 43.5px,#73bdcb 44.5px,#2a81c9 45.5px,#1d42a7 46.5px,#1a277e 47.5px,#1c3796 48.5px,#236acb 49.5px,#4aaac0 50.5px,#c0d9dd 51.5px,#ecdbd6 52.5px,#edd0c8 53.5px,#ecd9d3 54.5px,#c5dbdf 55.5px,#56b0c3 56.5px,#246fcc 57.5px,#1c3999 58.5px,#19267a 59.5px,#1c3999 60.5px,#246fcc 61.5px,#55b0c3 62.5px,#c5dbdf 63.5px,#ecd9d3 64.5px,#edd0c8 65.5px,#ecdbd6 66.5px,#c0d9dd 67.5px,#49aac0 68.5px,#2369cb 69.5px,#1c3593 70.5px,#19267a 71.5px,#1d3d9f 72.5px,#2778cb 73.5px,#62b5c6 74.5px,#ccdde0 75.5px,#edd7d0 76.5px,#edd0c8 77.5px,#ecdeda 78.5px,#bad6db 79.5px,#3fa5bf 80.5px,#2263ca 81.5px,#1b318d 82.5px,#19277b 83.5px,#1d43a9 84.5px)}
.d13{background:linear-gradient(90deg,#bfd8dd 0.5px,#bcd7dc 1.5px,#a6cfd6 2.5px,#60b4c6 3.5px,#3497c4 4.5px,#2571cc 5.5px,#236acb 6.5px,#2a82c9 7.5px,#3ea3bf 8.5px,#82c2ce 9.5px,#b5d4da 10.5px,#bed8dd 11.5px,#bed8dd 13.5px,#b6d5da 14.5px,#88c4cf 15.5px,#3fa5be 16.5px,#2b85c8 17.5px,#2368cb 18.5px,#236dcb 19.5px,#3193c6 20.5px,#58b1c4 21.5px,#a6cfd6 22.5px,#c0d9dd 23.5px,#c7dbe0 25.5px,#c5dbdf 26.5px,#b3d3d9 27.5px,#61b5c6 28.5px,#2e8dc7 29.5px,#2058c8 30.5px,#1e47ae 31.5px,#215ec9 32.5px,#3497c4 33.5px,#7fc1cd 34.5px,#c4dadf 35.5px,#dce0e1 36.5px,#e2e2e1 38.5px,#d2dee1 39.5px,#9eccd4 40.5px,#379bc2 41.5px,#1f53c0 42.5px,#19267b 43.5px,#1a287f 44.5px,#215dc9 45.5px,#3ea4bf 46.5px,#b7d5da 47.5px,#e6e3e2 48.5px,#ecdedb 49.5px,#ecdeda 50.5px,#ece2e0 51.5px,#c7dce0 52.5px,#61b5c6 53.5px,#246ecc 54.5px,#1a2c85 55.5px,#172169 56.5px,#1c3492 57.5px,#297eca 58.5px,#76becb 59.5px,#d1dee0 60.5px,#ece0dd 61.5px,#ecdeda 63.5px,#e2e2e1 64.5px,#aed1d7 65.5px,#389bc2 66.5px,#1f4db8 67.5px,#182370 68.5px,#182472 69.5px,#1f53c1 70.5px,#3b9fc1 71.5px,#b4d4d9 72.5px,#e5e2e2 73.5px,#ecdeda 74.5px,#ece1de 76.5px,#ccdde0 77.5px,#6ab9c9 78.5px,#2676cb 79.5px,#1b308c 80.5px,#172169 81.5px,#1b308c 82.5px,#277aca 83.5px,#7bc0cc 84.5px)}
.d14{background:linear-gradient(90deg,#bfd8dd 0.5px,#b8d5db 1.5px,#90c7d1 2.5px,#47a9c0 3.5px,#2e8dc7 4.5px,#236dcb 5.5px,#236bcb 6.5px,#2d89c8 7.5px,#41a7be 8.5px,#8ac5d0 9.5px,#b7d5da 10.5px,#bfd8dd 11.5px,#b9d6db 13.5px,#96c9d2 14.5px,#4eacc1 15.5px,#3091c6 16.5px,#246ecc 17.5px,#236bcb 18.5px,#2c86c8 19.5px,#3ea4bf 20.5px,#82c2ce 21.5px,#b4d4d9 22.5px,#bcd7dc 23.5px,#b7d5da 25.5px,#95c9d2 26.5px,#50aec2 27.5px,#3193c5 28.5px,#2470cc 29.5px,#236bcb 30.5px,#2a82c9 31.5px,#3ca1c0 32.5px,#72bdca 33.5px,#a9d0d6 34.5px,#b6d4da 35.5px,#b2d3d9 37.5px,#8ec6d1 38.5px,#50aec2 39.5px,#3295c5 40.5px,#2573cc 41.5px,#236bcb 42.5px,#297fc9 43.5px,#399ec1 44.5px,#66b7c7 45.5px,#9acbd3 46.5px,#afd2d8 47.5px,#b0d2d8 48.5px,#abd0d7 49.5px,#8bc5d0 50.5px,#52aec3 51.5px,#3396c4 52.5px,#2675cb 53.5px,#236bcb 54.5px,#287cca 55.5px,#379bc2 56.5px,#60b5c6 57.5px,#95c9d2 58.5px,#add1d7 59.5px,#b0d2d8 60.5px,#abd0d7 61.5px,#8fc7d1 62.5px,#57b1c4 63.5px,#3598c4 64.5px,#2778cb 65.5px,#236bcb 66.5px,#277aca 67.5px,#3699c3 68.5px,#5bb2c5 69.5px,#92c8d1 70.5px,#acd1d7 71.5px,#b0d2d8 72.5px,#acd1d7 73.5px,#92c8d2 74.5px,#5cb3c5 75.5px,#369ac3 76.5px,#287aca 77.5px,#236bcb 78.5px,#2777cb 79.5px,#3498c4 80.5px,#56b0c4 81.5px,#8ec6d0 82.5px,#abd0d7 83.5px,#b0d2d8 84.5px)}
.d15{background:linear-gradient(90deg,#236dcb 0.5px,#3193c6 1.5px,#58b1c4 2.5px,#a3ced5 3.5px,#bcd7dc 4.5px,#bfd8dd 6.5px,#bad6db 7.5px,#96c9d2 8.5px,#48aac0 9.5px,#2d89c8 10.5px,#236acb 11.5px,#2471cc 12.5px,#3598c4 13.5px,#66b8c8 14.5px,#aed1d8 15.5px,#bdd8dc 16.5px,#c0d8dd 18.5px,#b8d5db 19.5px,#88c4cf 20.5px,#3da2c0 21.5px,#2778cb 22.5px,#2160c9 23.5px,#236ccb 24.5px,#369ac3 25.5px,#77becb 26.5px,#bbd6dc 27.5px,#c9dce0 28.5px,#cddde0 30.5px,#bfd8dd 31.5px,#78bfcc 32.5px,#3194c5 33.5px,#2057c6 34.5px,#1d40a4 35.5px,#205bc8 36.5px,#3699c3 37.5px,#93c8d2 38.5px,#cfdee0 39.5px,#e3e2e1 40.5px,#e3e2e1 42.5px,#c3dade 43.5px,#60b5c6 44.5px,#2471cc 45.5px,#1b3492 46.5px,#1a277e 47.5px,#1f53c1 48.5px,#399ec1 49.5px,#b2d3d9 50.5px,#e2e2e1 51.5px,#ece1de 52.5px,#e8e3e2 54.5px,#bdd8dc 55.5px,#45a8bf 56.5px,#2160c9 57.5px,#1a2880 58.5px,#1a2880 59.5px,#215fc9 60.5px,#44a8bf 61.5px,#bdd7dc 62.5px,#e8e3e2 63.5px,#ece1de 65.5px,#e3e2e1 66.5px,#b2d3d9 67.5px,#399ec1 68.5px,#1f52bf 69.5px,#19267b 70.5px,#1b2f8b 71.5px,#246dcc 72.5px,#5eb4c6 73.5px,#c6dbdf 74.5px,#ebe4e2 75.5px,#ece2df 77.5px,#dbe0e1 78.5px,#9acad3 79.5px,#3194c5 80.5px,#1e45ab 81.5px,#192578 82.5px,#1c399a 83.5px,#2a81c9 84.5px)}
.d16{background:linear-gradient(90deg,#bfd8dd 0.5px,#bbd7dc 1.5px,#a2cdd5 2.5px,#59b2c4 3.5px,#3294c5 4.5px,#246ecc 5.5px,#236bcb 6.5px,#2e8bc7 7.5px,#48aac0 8.5px,#94c8d2 9.5px,#b9d6db 10.5px,#bfd8dd 12.5px,#bdd7dc 13.5px,#aed1d8 14.5px,#69b9c8 15.5px,#369ac3 16.5px,#2573cb 17.5px,#2367cb 18.5px,#297dca 19.5px,#3da2c0 20.5px,#85c3cf 21.5px,#bad6db 22.5px,#c4dadf 23.5px,#c7dbe0 25.5px,#bcd7dc 26.5px,#7fc1cd 27.5px,#379ac3 28.5px,#2265ca 29.5px,#1e4cb5 30.5px,#215bc9 31.5px,#3193c6 32.5px,#74bdcb 33.5px,#c3dade 34.5px,#dee1e1 35.5px,#e6e3e2 37.5px,#d7dfe1 38.5px,#a5ced6 39.5px,#389cc2 40.5px,#2055c3 41.5px,#1a2881 42.5px,#1b3390 43.5px,#236ccb 44.5px,#59b2c4 45.5px,#c6dbdf 46.5px,#ecdfdb 47.5px,#edd8d3 48.5px,#edd8d2 49.5px,#ece1de 50.5px,#bdd7dc 51.5px,#3fa4bf 52.5px,#2059c8 53.5px,#192577 54.5px,#192577 55.5px,#2058c8 56.5px,#3ea4bf 57.5px,#bcd7dc 58.5px,#ece1de 59.5px,#edd7d1 60.5px,#edd7d1 61.5px,#ecddd8 62.5px,#c9dce0 63.5px,#5bb2c5 64.5px,#2369cb 65.5px,#1a2981 66.5px,#182371 67.5px,#1e48af 68.5px,#3598c4 69.5px,#acd1d7 70.5px,#e8e3e2 71.5px,#edd8d2 72.5px,#ecdad5 74.5px,#d8e0e1 75.5px,#7bc0cc 76.5px,#297dca 77.5px,#1b3492 78.5px,#18236f 79.5px,#1c399a 80.5px,#2c87c8 81.5px,#8ac5d0 82.5px,#dfe1e1 83.5px,#ecd9d3 84.5px)}
.d17{background:linear-gradient(90deg,#2368cb 0.5px,#2e8dc7 1.5px,#4fadc2 2.5px,#99cad3 3.5px,#b8d5db 4.5px,#bbd7dc 6.5px,#b7d5da 7.5px,#99cad3 8.5px,#53afc3 9.5px,#3193c6 10.5px,#246fcc 11.5px,#246ecc 12.5px,#2f8fc7 13.5px,#49aac0 14.5px,#8bc5d0 15.5px,#b1d2d8 16.5px,#b4d4d9 18.5px,#b0d2d8 19.5px,#91c7d1 20.5px,#55b0c3 21.5px,#3496c4 22.5px,#2778cb 23.5px,#2675cb 24.5px,#3092c6 25.5px,#45a8bf 26.5px,#7dc1cd 27.5px,#a1cdd5 28.5px,#a9d0d6 29.5px,#a3cdd5 31.5px,#88c4cf 32.5px,#56b0c4 33.5px,#369ac3 34.5px,#2a82c9 35.5px,#297dca 36.5px,#3193c5 37.5px,#41a6be 38.5px,#71bcca 39.5px,#92c8d1 40.5px,#99cad3 41.5px,#94c8d2 43.5px,#7fc1cd 44.5px,#56b0c4 45.5px,#389dc2 46.5px,#2e8bc7 47.5px,#2c86c8 48.5px,#3fa5be 50.5px,#68b8c8 51.5px,#82c2ce 52.5px,#89c5d0 53.5px,#85c3cf 55.5px,#74bdcb 56.5px,#3b9fc1 58.5px,#3193c5 59.5px,#2f8ec7 60.5px,#3fa5bf 62.5px,#5fb4c6 63.5px,#73bdcb 64.5px,#7abfcc 65.5px,#76becb 67.5px,#6bbac9 68.5px,#3ca1c0 70.5px,#3498c4 71.5px,#3295c5 72.5px,#3fa4bf 74.5px,#58b1c4 75.5px,#67b8c8 76.5px,#6bbac9 78.5px,#62b6c7 80.5px,#3ea3bf 82.5px,#3599c3 84.5px)}
.d18{background:linear-gradient(90deg,#66b8c8 0.5px,#65b7c7 1.5px,#5db3c5 2.5px,#3ea3bf 4.5px,#3a9fc1 6.5px,#3fa5be 7.5px,#64b7c7 9.5px,#6ebbc9 11.5px,#6bbac9 13.5px,#5db3c5 14.5px,#43a7bf 15.5px,#399dc1 16.5px,#3598c3 17.5px,#389cc2 18.5px,#3fa5be 19.5px,#5db3c5 20.5px,#73bdcb 21.5px,#7dc0cd 22.5px,#80c1cd 24.5px,#74becb 25.5px,#3ca1c0 27.5px,#3294c5 28.5px,#2f8fc7 29.5px,#3599c3 30.5px,#45a8bf 31.5px,#6ebbc9 32.5px,#8cc6d0 33.5px,#95c9d2 34.5px,#95c9d2 36.5px,#7cc0cd 37.5px,#4eacc1 38.5px,#3497c4 39.5px,#297fc9 40.5px,#297fc9 41.5px,#3497c4 42.5px,#54afc3 43.5px,#8cc6d0 44.5px,#aad0d7 45.5px,#b1d3d8 47.5px,#aad0d7 48.5px,#7cc0cd 49.5px,#3ea3bf 50.5px,#2a81c9 51.5px,#2368cb 52.5px,#2571cc 53.5px,#369ac3 54.5px,#6bbac9 55.5px,#b1d2d8 56.5px,#bdd7dc 57.5px,#c0d9dd 59.5px,#b5d4da 60.5px,#6fbbca 61.5px,#3497c4 62.5px,#2264ca 63.5px,#2055c3 64.5px,#236ccb 65.5px,#3ba0c0 66.5px,#94c8d2 67.5px,#c4dbdf 68.5px,#d1dee1 69.5px,#d1dee1 71.5px,#b8d5db 72.5px,#57b1c4 73.5px,#2778cb 74.5px,#1e47af 75.5px,#1d43a8 76.5px,#246dcc 77.5px,#4cacc1 78.5px,#bbd7dc 79.5px,#e3e2e1 80.5px,#ece3e1 81.5px,#ece2df 82.5px,#e3e2e1 83.5px,#b4d4d9 84.5px)}
.d19{background:linear-gradient(90deg,#3ca0c0 0.5px,#3fa5bf 9.5px,#3ba0c0 15.5px,#48aac0 20.5px,#389cc2 25.5px,#41a6be 29.5px,#50adc2 31.5px,#4fadc2 32.5px,#3ba0c0 35.5px,#389cc2 38.5px,#3ea3bf 40.5px,#51aec2 42.5px,#56b0c3 43.5px,#53afc3 44.5px,#3ea4bf 46.5px,#379ac3 49.5px,#3fa5be 52.5px,#56b0c3 54.5px,#59b1c4 55.5px,#53afc3 56.5px,#3ea3bf 58.5px,#379bc2 61.5px,#42a7bf 64.5px,#58b1c4 66.5px,#58b1c4 67.5px,#3ea3bf 70.5px,#399dc2 73.5px,#3ea4bf 75.5px,#55b0c3 78.5px,#4cacc1 80.5px,#3ea3bf 82.5px,#3b9fc1 84.5px)}
.d20{background:linear-gradient(90deg,#215dc9 0.5px,#2470cc 1.5px,#3498c4 2.5px,#60b5c6 3.5px,#acd1d7 4.5px,#c2dade 5.5px,#bfd8dd 6.5px,#98cad3 7.5px,#4dacc1 8.5px,#3091c6 9.5px,#236bcb 10.5px,#215ec9 11.5px,#2263ca 12.5px,#297dca 13.5px,#3a9fc1 14.5px,#70bcca 15.5px,#b2d3d9 16.5px,#bfd8dd 17.5px,#b6d4da 18.5px,#7ec1cd 19.5px,#3ea4bf 20.5px,#2d89c8 21.5px,#236acb 22.5px,#2263ca 23.5px,#236ccb 24.5px,#2e8dc7 25.5px,#40a5be 26.5px,#7ec1cd 27.5px,#b2d3d9 28.5px,#b9d6db 29.5px,#a4ced5 30.5px,#67b8c8 31.5px,#3a9fc1 32.5px,#2b85c8 33.5px,#246dcc 34.5px,#236bcb 35.5px,#287aca 36.5px,#3497c4 37.5px,#4eadc2 38.5px,#86c3cf 39.5px,#add1d7 40.5px,#aed1d8 41.5px,#8ac5d0 42.5px,#55b0c3 43.5px,#379bc2 44.5px,#2574cb 46.5px,#2676cb 47.5px,#399ec1 49.5px,#59b2c4 50.5px,#85c3cf 51.5px,#9eccd4 52.5px,#96c9d2 53.5px,#70bcca 54.5px,#46a9c0 55.5px,#3699c3 56.5px,#2d8ac7 57.5px,#2a80c9 58.5px,#2c86c8 59.5px,#3ea3bf 61.5px,#7dc0cd 63.5px,#89c5cf 64.5px,#7bc0cc 65.5px,#3fa5be 67.5px,#3092c6 69.5px,#2f8fc7 70.5px,#399dc2 72.5px,#43a7bf 73.5px,#5db3c5 74.5px,#6dbbc9 75.5px,#70bcca 76.5px,#65b7c7 77.5px,#3ea3bf 79.5px,#3599c3 81.5px,#3da2c0 84.5px)}
.d21{background:linear-gradient(90deg,#2a80c9 0.5px,#399dc1 2.5px,#50adc2 3.5px,#71bcca 4.5px,#86c4cf 5.5px,#7fc1cd 6.5px,#3fa4bf 8.5px,#2c88c8 10.5px,#2a80c9 11.5px,#2d88c8 12.5px,#3fa5be 14.5px,#61b5c6 15.5px,#7cc0cd 16.5px,#83c2ce 17.5px,#6ebbca 18.5px,#4fadc2 19.5px,#3a9ec1 20.5px,#2c86c8 22.5px,#2c86c8 23.5px,#3a9fc1 25.5px,#4fadc2 26.5px,#6dbac9 27.5px,#7ec1cd 28.5px,#77becc 29.5px,#5eb4c6 30.5px,#3fa5be 31.5px,#2f8fc7 33.5px,#2d88c8 34.5px,#369ac3 36.5px,#3fa5be 37.5px,#5db3c5 38.5px,#73bdcb 39.5px,#78bfcc 40.5px,#69b9c8 41.5px,#4eadc2 42.5px,#3ba0c0 43.5px,#2f8fc6 45.5px,#2f90c6 46.5px,#3ba0c0 48.5px,#4dacc1 49.5px,#65b7c7 50.5px,#71bcca 51.5px,#6dbbc9 52.5px,#5bb2c5 53.5px,#40a6be 54.5px,#3396c5 56.5px,#3396c4 58.5px,#3fa5be 60.5px,#56b0c4 61.5px,#66b8c8 62.5px,#6ab9c8 63.5px,#61b5c6 64.5px,#3da3bf 66.5px,#3598c4 68.5px,#389bc2 70.5px,#3da2c0 71.5px,#59b1c4 73.5px,#61b5c6 74.5px,#5fb4c6 75.5px,#44a8bf 77.5px,#399dc1 79.5px,#3ca1c0 82.5px,#40a6be 83.5px,#4dacc1 84.5px)}
.d22{background:linear-gradient(90deg,#9dccd4 0.5px,#7cc0cd 1.5px,#4dacc1 2.5px,#369ac3 3.5px,#2573cb 5.5px,#2675cb 6.5px,#389cc2 8.5px,#54afc3 9.5px,#80c2ce 10.5px,#9ccbd4 11.5px,#96c9d2 12.5px,#72bdca 13.5px,#46a9c0 14.5px,#3598c4 15.5px,#2b83c9 16.5px,#2676cb 17.5px,#287bca 18.5px,#3b9fc1 20.5px,#5ab2c4 21.5px,#81c2ce 22.5px,#96c9d2 23.5px,#8cc6d0 24.5px,#40a6be 26.5px,#2b85c8 28.5px,#287cca 29.5px,#2a82c9 30.5px,#3da2c0 32.5px,#7fc1cd 34.5px,#8ec6d1 35.5px,#81c2ce 36.5px,#3ea4bf 38.5px,#2d89c8 40.5px,#2b83c9 41.5px,#3598c4 43.5px,#3fa5be 44.5px,#60b5c6 45.5px,#7ac0cc 46.5px,#83c3ce 47.5px,#73bdcb 48.5px,#3da2bf 50.5px,#2f8ec7 52.5px,#2e8bc7 53.5px,#389cc2 55.5px,#43a8bf 56.5px,#60b5c6 57.5px,#72bdcb 58.5px,#76becb 59.5px,#68b8c8 60.5px,#3da2c0 62.5px,#3294c5 64.5px,#3598c4 66.5px,#3ba0c0 67.5px,#48aac0 68.5px,#5db3c5 69.5px,#69b9c8 70.5px,#69b9c8 71.5px,#5db3c5 72.5px,#49aac0 73.5px,#3da2c0 74.5px,#3699c3 76.5px,#3ea3bf 79.5px,#57b1c4 81.5px,#5db3c5 82.5px,#5bb3c5 83.5px,#53afc3 84.5px)}
.d23{background:linear-gradient(90deg,#bdd7dc 0.5px,#9ccbd4 1.5px,#53afc3 2.5px,#3295c5 3.5px,#246fcc 4.5px,#2160c9 5.5px,#2264ca 6.5px,#287cca 7.5px,#399dc2 8.5px,#6ab9c9 9.5px,#aed1d8 10.5px,#bdd7dc 11.5px,#b5d4da 12.5px,#7ec1cd 13.5px,#3fa4bf 14.5px,#2d8ac7 15.5px,#236bcb 16.5px,#2263ca 17.5px,#246dcc 18.5px,#2f8ec7 19.5px,#40a6be 20.5px,#80c1cd 21.5px,#b2d3d9 22.5px,#b8d5db 23.5px,#a0cdd5 24.5px,#62b6c7 25.5px,#399dc2 26.5px,#2a81c9 27.5px,#236ccb 28.5px,#236bcb 29.5px,#287cca 30.5px,#3699c3 31.5px,#55b0c3 32.5px,#8dc6d0 33.5px,#b0d2d8 34.5px,#acd1d7 35.5px,#82c2ce 36.5px,#4cabc1 37.5px,#3497c4 38.5px,#297fc9 39.5px,#2471cc 40.5px,#2677cb 41.5px,#3ca1c0 43.5px,#90c7d1 45.5px,#a3cdd5 46.5px,#92c8d2 47.5px,#3ea4bf 49.5px,#2a82c9 51.5px,#287cca 52.5px,#2c87c8 53.5px,#44a8bf 55.5px,#6bbac9 56.5px,#8ac5d0 57.5px,#8ec6d1 58.5px,#77becb 59.5px,#54afc3 60.5px,#3ba0c0 61.5px,#2d8ac7 63.5px,#2e8bc7 64.5px,#3ba0c0 66.5px,#50adc2 67.5px,#6ab9c9 68.5px,#7abfcc 69.5px,#75becb 70.5px,#61b5c6 71.5px,#46a9bf 72.5px,#3a9ec1 73.5px,#3295c5 75.5px,#399dc2 77.5px,#3fa5be 78.5px,#62b6c7 80.5px,#66b8c8 81.5px,#5fb4c6 82.5px,#40a5be 84.5px)}
.d24{background:linear-gradient(90deg,#399dc2 0.5px,#49aac0 6.5px,#389cc2 12.5px,#3fa5be 16.5px,#4dacc1 18.5px,#47a9c0 20.5px,#3ca1c0 22.5px,#379bc2 25.5px,#3fa5be 28.5px,#52aec2 30.5px,#53afc3 31.5px,#3ca2c0 34.5px,#369ac3 37.5px,#40a6be 40.5px,#56b0c4 42.5px,#57b1c4 43.5px,#50adc2 44.5px,#43a7bf 45.5px,#369ac3 48.5px,#3da2c0 51.5px,#44a8bf 52.5px,#52aec2 53.5px,#59b2c4 54.5px,#59b1c4 55.5px,#42a7be 57.5px,#379bc3 60.5px,#3ea3bf 63.5px,#54afc3 65.5px,#59b2c4 66.5px,#57b1c4 67.5px,#40a6be 69.5px,#389cc2 72.5px,#3fa5be 75.5px,#53afc3 77.5px,#56b0c3 78.5px,#4aabc0 80.5px,#40a6be 81.5px,#3b9fc1 84.5px)}
.d25{background:linear-gradient(90deg,#215cc9 0.5px,#246fcc 1.5px,#3497c4 2.5px,#61b5c6 3.5px,#afd2d8 4.5px,#c4dadf 5.5px,#c0d9dd 6.5px,#9acad3 7.5px,#4cacc1 8.5px,#2f90c6 9.5px,#236acb 10.5px,#215dc9 11.5px,#2262ca 12.5px,#297dca 13.5px,#3a9fc1 14.5px,#72bdca 15.5px,#b4d4d9 16.5px,#c1d9de 17.5px,#b7d5da 18.5px,#7ec1cd 19.5px,#3ea3bf 20.5px,#2c87c8 21.5px,#2369cb 22.5px,#2262ca 23.5px,#236ccb 24.5px,#2e8dc7 25.5px,#40a6be 26.5px,#82c2ce 27.5px,#b4d4d9 28.5px,#bad6db 29.5px,#a5ced6 30.5px,#66b7c8 31.5px,#399ec1 32.5px,#2b83c9 33.5px,#236ccb 34.5px,#236acb 35.5px,#287aca 36.5px,#3498c4 37.5px,#51aec2 38.5px,#89c5d0 39.5px,#b0d2d8 40.5px,#afd2d8 41.5px,#8ac5d0 42.5px,#53afc3 43.5px,#369ac3 44.5px,#2b83c9 45.5px,#2573cc 46.5px,#2676cb 47.5px,#3a9fc1 49.5px,#5cb3c5 50.5px,#88c4cf 51.5px,#a0ccd4 52.5px,#96c9d2 53.5px,#6fbcca 54.5px,#44a8bf 55.5px,#3598c3 56.5px,#2c88c8 57.5px,#297fc9 58.5px,#2c86c8 59.5px,#3ea4bf 61.5px,#7fc1cd 63.5px,#8ac5d0 64.5px,#7bc0cc 65.5px,#3ea4bf 67.5px,#3092c6 69.5px,#2f8fc7 70.5px,#399dc1 72.5px,#45a8bf 73.5px,#5fb4c6 74.5px,#6fbbca 75.5px,#70bcca 76.5px,#64b7c7 77.5px,#3da3bf 79.5px,#3598c3 81.5px,#3da3bf 84.5px)}
.d26{background:linear-gradient(90deg,#2c87c8 0.5px,#3a9ec1 2.5px,#4dacc1 3.5px,#6ab9c8 4.5px,#7abfcc 5.5px,#73bdcb 6.5px,#3ea4bf 8.5px,#2e8dc7 10.5px,#2c87c8 11.5px,#3699c3 13.5px,#3fa5be 14.5px,#5db3c5 15.5px,#72bdcb 16.5px,#77becb 17.5px,#66b8c8 18.5px,#4aabc0 19.5px,#399ec1 20.5px,#2d8bc7 22.5px,#2e8cc7 23.5px,#3ba0c0 25.5px,#68b9c8 27.5px,#75becb 28.5px,#6dbbc9 29.5px,#3ea4bf 31.5px,#3092c6 33.5px,#2e8dc7 34.5px,#389cc2 36.5px,#41a6be 37.5px,#5cb3c5 38.5px,#6ebbc9 39.5px,#6fbcca 40.5px,#62b5c6 41.5px,#49aac0 42.5px,#3a9fc1 43.5px,#3092c6 45.5px,#3599c3 47.5px,#3ca2c0 48.5px,#64b6c7 50.5px,#6cbac9 51.5px,#67b8c8 52.5px,#3fa5bf 54.5px,#3396c4 56.5px,#3598c4 58.5px,#42a7be 60.5px,#57b1c4 61.5px,#64b7c7 62.5px,#66b7c8 63.5px,#5cb3c5 64.5px,#49aac0 65.5px,#3da2c0 66.5px,#3598c3 68.5px,#399dc2 70.5px,#3ea3bf 71.5px,#59b2c4 73.5px,#5fb4c6 74.5px,#5cb3c5 75.5px,#41a6be 77.5px,#389cc2 80.5px,#41a7be 83.5px,#4eacc1 84.5px)}
.d27{background:linear-gradient(90deg,#a7cfd6 0.5px,#83c2ce 1.5px,#4fadc2 2.5px,#3599c3 3.5px,#297fc9 4.5px,#246fcc 5.5px,#2470cc 6.5px,#389cc2 8.5px,#57b1c4 9.5px,#89c5cf 10.5px,#a6cfd6 11.5px,#9fccd4 12.5px,#77becb 13.5px,#46a9bf 14.5px,#3496c4 15.5px,#297fc9 16.5px,#2471cc 17.5px,#2676cb 18.5px,#3ba0c1 20.5px,#5eb4c6 21.5px,#8ac5d0 22.5px,#a0ccd4 23.5px,#93c8d2 24.5px,#3fa5be 26.5px,#2a80c9 28.5px,#2677cb 29.5px,#297fc9 30.5px,#3ea3bf 32.5px,#88c4cf 34.5px,#96c9d2 35.5px,#86c3cf 36.5px,#3da3bf 38.5px,#2b84c8 40.5px,#297fc9 41.5px,#3598c3 43.5px,#40a6be 44.5px,#65b7c7 45.5px,#82c2ce 46.5px,#89c5d0 47.5px,#76becb 48.5px,#3ca1c0 50.5px,#2d8bc7 52.5px,#2d89c8 53.5px,#389dc2 55.5px,#47a9c0 56.5px,#65b7c7 57.5px,#78bfcc 58.5px,#7abfcc 59.5px,#69b9c8 60.5px,#4eadc2 61.5px,#3ca0c0 62.5px,#3193c6 64.5px,#3598c4 66.5px,#3ca1c0 67.5px,#4babc1 68.5px,#61b5c6 69.5px,#6cbac9 70.5px,#6ab9c9 71.5px,#5db3c5 72.5px,#47a9c0 73.5px,#3ca1c0 74.5px,#3598c4 76.5px,#3ea4bf 79.5px,#59b2c4 81.5px,#5fb4c6 82.5px,#5cb3c5 83.5px,#52aec3 84.5px)}
.d28{background:linear-gradient(90deg,#bad6db 0.5px,#97cad3 1.5px,#52aec2 2.5px,#3295c5 3.5px,#2471cc 4.5px,#2262ca 5.5px,#2266ca 6.5px,#297ec9 7.5px,#399ec1 8.5px,#69b9c8 9.5px,#aad0d7 10.5px,#bad6db 11.5px,#b2d3d9 12.5px,#7abfcc 13.5px,#3ea4bf 14.5px,#2d8bc7 15.5px,#236dcb 16.5px,#2266ca 17.5px,#246fcc 18.5px,#2f90c6 19.5px,#41a6be 20.5px,#7ec1cd 21.5px,#b0d2d8 22.5px,#b5d4da 23.5px,#9acbd3 24.5px,#5fb4c6 25.5px,#389cc2 26.5px,#2a82c9 27.5px,#246dcc 28.5px,#236dcb 29.5px,#297fc9 30.5px,#369ac3 31.5px,#56b0c3 32.5px,#8bc5d0 33.5px,#acd1d7 34.5px,#a7cfd6 35.5px,#7dc1cd 36.5px,#49aac0 37.5px,#3497c4 38.5px,#2a80c9 39.5px,#2573cb 40.5px,#2779ca 41.5px,#3091c6 42.5px,#3da2c0 43.5px,#8fc7d1 45.5px,#9fccd4 46.5px,#8dc6d0 47.5px,#3ea3bf 49.5px,#2b83c9 51.5px,#297ec9 52.5px,#369ac3 54.5px,#46a9c0 55.5px,#6bbac9 56.5px,#88c4cf 57.5px,#8ac5d0 58.5px,#72bdca 59.5px,#51aec2 60.5px,#3b9fc1 61.5px,#2e8bc7 63.5px,#2e8dc7 64.5px,#3ca1c0 66.5px,#6bb9c9 68.5px,#78bfcc 69.5px,#72bdca 70.5px,#5eb4c6 71.5px,#44a8bf 72.5px,#3497c4 74.5px,#3498c4 76.5px,#40a6be 78.5px,#54afc3 79.5px,#62b6c7 80.5px,#65b7c7 81.5px,#5eb4c5 82.5px,#3fa5be 84.5px)}
.d29{background:linear-gradient(90deg,#3699c3 0.5px,#3fa5bf 3.5px,#51aec2 5.5px,#53afc3 6.5px,#3da2c0 9.5px,#3599c3 12.5px,#3ea3bf 15.5px,#51aec2 17.5px,#55b0c3 18.5px,#52aec2 19.5px,#3ea3bf 21.5px,#3598c3 24.5px,#3da3bf 27.5px,#53afc3 29.5px,#59b1c4 30.5px,#56b0c3 31.5px,#3fa4bf 33.5px,#3598c4 36.5px,#3da3bf 39.5px,#55b0c3 41.5px,#5bb3c5 42.5px,#58b1c4 43.5px,#3fa5be 45.5px,#3599c3 48.5px,#3ea4bf 51.5px,#58b1c4 53.5px,#5db3c5 54.5px,#59b1c4 55.5px,#3fa5bf 57.5px,#369ac3 60.5px,#3fa5be 63.5px,#58b1c4 65.5px,#5bb2c5 66.5px,#56b0c4 67.5px,#3fa5bf 69.5px,#389cc2 72.5px,#42a7be 75.5px,#56b0c3 77.5px,#57b0c4 78.5px,#3fa5bf 81.5px,#3a9fc1 84.5px)}
.d30{background:linear-gradient(90deg,#205bc8 0.5px,#246ecc 1.5px,#3497c4 2.5px,#61b5c6 3.5px,#b0d2d8 4.5px,#c5dbdf 5.5px,#c1d9de 6.5px,#9bcbd3 7.5px,#4cacc1 8.5px,#2f8fc6 9.5px,#2369cb 10.5px,#215cc9 11.5px,#2262ca 12.5px,#297dca 13.5px,#3b9fc1 14.5px,#74bdcb 15.5px,#b5d4da 16.5px,#c2d9de 17.5px,#b7d5da 18.5px,#7ec1cd 19.5px,#3ea3bf 20.5px,#2c86c8 21.5px,#2368cb 22.5px,#2261ca 23.5px,#236ccb 24.5px,#2f8ec7 25.5px,#42a7be 26.5px,#84c3ce 27.5px,#b5d4da 28.5px,#bad6db 29.5px,#a5ced6 30.5px,#65b7c7 31.5px,#399dc2 32.5px,#2a81c9 33.5px,#236bcb 34.5px,#2369cb 35.5px,#287aca 36.5px,#3598c4 37.5px,#53afc3 38.5px,#8cc6d0 39.5px,#b1d2d8 40.5px,#b0d2d8 41.5px,#89c4cf 42.5px,#51aec2 43.5px,#3699c3 44.5px,#2a81c9 45.5px,#2572cc 46.5px,#2676cb 47.5px,#3b9fc1 49.5px,#5eb4c6 50.5px,#8bc5d0 51.5px,#a1cdd5 52.5px,#96c9d2 53.5px,#42a7bf 55.5px,#2c87c8 57.5px,#297fc9 58.5px,#2c87c8 59.5px,#3fa5be 61.5px,#81c2ce 63.5px,#8bc5d0 64.5px,#7abfcc 65.5px,#3ea3bf 67.5px,#2f91c6 69.5px,#2f8ec7 70.5px,#3a9ec1 72.5px,#47a9c0 73.5px,#61b5c6 74.5px,#70bcca 75.5px,#70bcca 76.5px,#63b6c7 77.5px,#3da2c0 79.5px,#3598c4 81.5px,#3ea3bf 84.5px)}
.d31{background:linear-gradient(90deg,#2e8ec7 0.5px,#3a9fc1 2.5px,#4aabc1 3.5px,#63b6c7 4.5px,#6ebbc9 5.5px,#69b9c8 6.5px,#3ea3bf 8.5px,#3092c6 10.5px,#2e8ec7 11.5px,#379bc2 13.5px,#40a5be 14.5px,#59b2c4 15.5px,#6ab9c9 16.5px,#6cbac9 17.5px,#5eb4c5 18.5px,#45a8bf 19.5px,#3395c5 21.5px,#2f90c6 22.5px,#3598c4 24.5px,#3ca2c0 25.5px,#64b6c7 27.5px,#6cbac9 28.5px,#65b7c7 29.5px,#3da2bf 31.5px,#3193c5 33.5px,#3396c4 35.5px,#44a8bf 37.5px,#5bb2c5 38.5px,#69b9c8 39.5px,#68b9c8 40.5px,#5ab2c5 41.5px,#43a7bf 42.5px,#3497c4 44.5px,#3395c5 46.5px,#3ea3bf 48.5px,#62b5c6 50.5px,#68b8c8 51.5px,#61b5c6 52.5px,#3ea3bf 54.5px,#3497c4 56.5px,#369ac3 58.5px,#45a8bf 60.5px,#58b1c4 61.5px,#62b6c7 62.5px,#62b6c6 63.5px,#57b0c4 64.5px,#45a8bf 65.5px,#389bc2 67.5px,#379ac3 69.5px,#3fa4bf 71.5px,#59b2c4 73.5px,#5db3c5 74.5px,#59b1c4 75.5px,#3fa5be 77.5px,#399dc2 80.5px,#44a8bf 83.5px,#4fadc2 84.5px)}
.d32{background:linear-gradient(90deg,#b0d2d8 0.5px,#8ac5d0 1.5px,#51aec2 2.5px,#3598c4 3.5px,#287bca 4.5px,#236bcb 5.5px,#236dcb 6.5px,#2a82c9 7.5px,#389cc2 8.5px,#5bb2c5 9.5px,#91c7d1 10.5px,#b0d2d8 11.5px,#a7cfd6 12.5px,#7bc0cc 13.5px,#46a9bf 14.5px,#3395c5 15.5px,#287aca 16.5px,#246dcc 17.5px,#2573cc 18.5px,#3ba0c0 20.5px,#62b6c7 21.5px,#93c8d2 22.5px,#a8cfd6 23.5px,#9acad3 24.5px,#3fa5bf 26.5px,#3194c5 27.5px,#287cca 28.5px,#2573cc 29.5px,#287cca 30.5px,#3193c5 31.5px,#3ea4bf 32.5px,#90c7d1 34.5px,#9dccd4 35.5px,#8ac5d0 36.5px,#3da2c0 38.5px,#2a80c9 40.5px,#287cca 41.5px,#2c87c8 42.5px,#43a8bf 44.5px,#6ab9c9 45.5px,#89c5cf 46.5px,#8fc7d1 47.5px,#79bfcc 48.5px,#56b0c3 49.5px,#3ba0c0 50.5px,#2c87c8 52.5px,#2c86c8 53.5px,#399dc2 55.5px,#4aabc1 56.5px,#69b9c8 57.5px,#7ec1cd 58.5px,#7ec1cd 59.5px,#69b9c8 60.5px,#4cacc1 61.5px,#3b9fc1 62.5px,#3091c6 64.5px,#3598c4 66.5px,#3ca1c0 67.5px,#64b7c7 69.5px,#6fbcca 70.5px,#6cbac9 71.5px,#5cb3c5 72.5px,#45a9bf 73.5px,#369ac3 75.5px,#3699c3 77.5px,#3fa4bf 79.5px,#5cb3c5 81.5px,#60b5c6 82.5px,#5db3c5 83.5px,#51aec2 84.5px)}
.d33{background:linear-gradient(90deg,#b7d5da 0.5px,#92c8d1 1.5px,#51aec2 2.5px,#3395c5 3.5px,#2574cb 4.5px,#2265ca 5.5px,#2369cb 6.5px,#2a81c9 7.5px,#3a9ec1 8.5px,#67b8c8 9.5px,#a4ced5 10.5px,#b7d5da 11.5px,#add1d7 12.5px,#75becb 13.5px,#3ea3bf 14.5px,#2e8cc7 15.5px,#246fcc 16.5px,#2368cb 17.5px,#2572cc 18.5px,#3092c6 19.5px,#42a7be 20.5px,#7cc0cd 21.5px,#abd0d7 22.5px,#b2d3d9 23.5px,#94c8d2 24.5px,#5cb3c5 25.5px,#389cc2 26.5px,#2b83c9 27.5px,#246fcc 28.5px,#246fcc 29.5px,#379bc2 31.5px,#56b0c4 32.5px,#89c5cf 33.5px,#a7cfd6 34.5px,#a0cdd5 35.5px,#77bfcc 36.5px,#46a9c0 37.5px,#3497c4 38.5px,#2a81c9 39.5px,#2675cb 40.5px,#287dca 41.5px,#3193c6 42.5px,#3ea3bf 43.5px,#8cc6d0 45.5px,#9acad3 46.5px,#88c4cf 47.5px,#3da2c0 49.5px,#2b84c8 51.5px,#2a81c9 52.5px,#379bc2 54.5px,#48aac0 55.5px,#6bbac9 56.5px,#85c3cf 57.5px,#86c4cf 58.5px,#6ebbca 59.5px,#4eacc2 60.5px,#3a9fc1 61.5px,#2e8dc7 63.5px,#3497c4 65.5px,#3da2c0 66.5px,#6ab9c9 68.5px,#76becb 69.5px,#6fbbca 70.5px,#5cb3c5 71.5px,#41a7be 72.5px,#3497c4 74.5px,#3598c3 76.5px,#41a6be 78.5px,#55b0c3 79.5px,#62b5c6 80.5px,#64b6c7 81.5px,#5cb3c5 82.5px,#3fa4bf 84.5px)}
.d34{background:linear-gradient(90deg,#3396c5 0.5px,#40a6be 3.5px,#51aec2 4.5px,#5bb3c5 5.5px,#5cb3c5 6.5px,#54afc3 7.5px,#43a7bf 8.5px,#3396c4 11.5px,#3599c3 13.5px,#3fa5be 15.5px,#5bb2c5 17.5px,#5eb4c5 18.5px,#56b0c4 19.5px,#3ca2c0 21.5px,#3396c4 24.5px,#3fa5bf 27.5px,#5cb3c5 29.5px,#5fb4c6 30.5px,#58b1c4 31.5px,#3da2bf 33.5px,#3396c4 36.5px,#3fa5be 39.5px,#5db3c5 41.5px,#60b5c6 42.5px,#59b2c4 43.5px,#3da3bf 45.5px,#3497c4 48.5px,#40a6be 51.5px,#5db3c5 53.5px,#60b5c6 54.5px,#58b1c4 55.5px,#3da3bf 57.5px,#3599c3 60.5px,#43a7bf 63.5px,#52aec3 64.5px,#5cb3c5 65.5px,#5db3c5 66.5px,#55b0c3 67.5px,#3ea3bf 69.5px,#389cc2 72.5px,#3ea3bf 74.5px,#58b1c4 77.5px,#57b1c4 78.5px,#3ea4bf 81.5px,#3a9fc1 84.5px)}
.d35{background:linear-gradient(90deg,#205bc8 0.5px,#246ecc 1.5px,#3497c4 2.5px,#62b6c6 3.5px,#b1d2d8 4.5px,#c5dbdf 5.5px,#c1d9de 6.5px,#9bcbd3 7.5px,#4cabc1 8.5px,#2f8fc7 9.5px,#2369cb 10.5px,#215bc9 11.5px,#2262ca 12.5px,#297dca 13.5px,#3ba0c1 14.5px,#76becb 15.5px,#b6d4da 16.5px,#c2dade 17.5px,#b7d5da 18.5px,#7dc0cd 19.5px,#3da3bf 20.5px,#2b85c8 21.5px,#2368cb 22.5px,#2161c9 23.5px,#236ccb 24.5px,#2f8fc7 25.5px,#43a8bf 26.5px,#86c4cf 27.5px,#b6d4da 28.5px,#bbd6dc 29.5px,#a4ced5 30.5px,#63b6c7 31.5px,#389dc2 32.5px,#2a80c9 33.5px,#236bcb 34.5px,#2369cb 35.5px,#287bca 36.5px,#3599c3 37.5px,#55afc3 38.5px,#8fc6d1 39.5px,#b1d3d8 40.5px,#b0d2d8 41.5px,#87c4cf 42.5px,#50adc2 43.5px,#3598c3 44.5px,#2a80c9 45.5px,#2471cc 46.5px,#2676cb 47.5px,#3ba0c0 49.5px,#60b5c6 50.5px,#8dc6d0 51.5px,#a2cdd5 52.5px,#95c9d2 53.5px,#40a6be 55.5px,#2c86c8 57.5px,#297ec9 58.5px,#2c87c8 59.5px,#40a6be 61.5px,#65b7c7 62.5px,#83c3ce 63.5px,#8bc5d0 64.5px,#79bfcc 65.5px,#3da3bf 67.5px,#2f90c6 69.5px,#2f8ec7 70.5px,#3a9fc1 72.5px,#49aac0 73.5px,#63b6c7 74.5px,#71bcca 75.5px,#70bcca 76.5px,#62b6c7 77.5px,#4cabc1 78.5px,#3da2c0 79.5px,#3598c4 81.5px,#3ea4bf 84.5px)}
.d36{background:linear-gradient(90deg,#3193c5 0.5px,#3ba0c0 2.5px,#47a9c0 3.5px,#5bb2c5 4.5px,#64b6c7 5.5px,#5fb4c6 6.5px,#3da3bf 8.5px,#3295c5 10.5px,#3496c4 12.5px,#40a6be 14.5px,#55b0c3 15.5px,#62b6c7 16.5px,#62b6c7 17.5px,#56b0c3 18.5px,#40a6be 19.5px,#3194c5 22.5px,#379bc2 24.5px,#3ea3bf 25.5px,#5fb4c6 27.5px,#64b7c7 28.5px,#5cb3c5 29.5px,#3ca1c0 31.5px,#3395c5 33.5px,#3699c3 35.5px,#46a9c0 37.5px,#5ab2c4 38.5px,#64b6c7 39.5px,#61b5c6 40.5px,#3fa5be 42.5px,#3598c4 44.5px,#3598c4 46.5px,#3fa5be 48.5px,#60b5c6 50.5px,#63b6c7 51.5px,#5ab2c5 52.5px,#3da2c0 54.5px,#3598c4 56.5px,#389cc2 58.5px,#3da2c0 59.5px,#58b1c4 61.5px,#60b5c6 62.5px,#5eb4c5 63.5px,#40a6be 65.5px,#369ac3 68.5px,#40a6be 71.5px,#59b1c4 73.5px,#5bb2c5 74.5px,#55b0c3 75.5px,#3fa4bf 77.5px,#399ec1 80.5px,#3ea4bf 82.5px,#50adc2 84.5px)}
.d37{background:linear-gradient(90deg,#b4d4d9 0.5px,#90c7d1 1.5px,#52aec3 2.5px,#3497c4 3.5px,#2778cb 4.5px,#2368cb 5.5px,#2369cb 6.5px,#297fc9 7.5px,#389cc2 8.5px,#5eb4c5 9.5px,#98cad3 10.5px,#b4d4d9 11.5px,#afd2d8 12.5px,#7fc1cd 13.5px,#45a9bf 14.5px,#3294c5 15.5px,#2676cb 16.5px,#236acb 17.5px,#246fcc 18.5px,#3ba0c0 20.5px,#67b8c8 21.5px,#9acbd3 22.5px,#b0d2d8 23.5px,#a0ccd4 24.5px,#3ea4bf 26.5px,#3092c6 27.5px,#2778cb 28.5px,#246fcc 29.5px,#277aca 30.5px,#3193c6 31.5px,#3fa5bf 32.5px,#6cbac9 33.5px,#98cad3 34.5px,#a4ced5 35.5px,#8ec6d0 36.5px,#61b5c6 37.5px,#3ca1c0 38.5px,#287dca 40.5px,#2779ca 41.5px,#2c85c8 42.5px,#3599c3 43.5px,#46a9c0 44.5px,#6fbbca 45.5px,#90c7d1 46.5px,#94c8d2 47.5px,#7ac0cc 48.5px,#55afc3 49.5px,#3a9fc1 50.5px,#2b84c8 52.5px,#2b84c8 53.5px,#399ec1 55.5px,#4eacc1 56.5px,#6dbbc9 57.5px,#83c3ce 58.5px,#81c2ce 59.5px,#69b9c8 60.5px,#4babc1 61.5px,#3a9ec1 62.5px,#2f8fc7 64.5px,#3598c4 66.5px,#3da2c0 67.5px,#68b8c8 69.5px,#72bdca 70.5px,#6dbbc9 71.5px,#5cb3c5 72.5px,#43a8bf 73.5px,#3599c3 75.5px,#3599c3 77.5px,#3fa5be 79.5px,#5eb4c5 81.5px,#62b6c6 82.5px,#5db3c5 83.5px,#50aec2 84.5px)}
.d38{background:linear-gradient(90deg,#b3d3d9 0.5px,#8cc6d0 1.5px,#4fadc2 2.5px,#3396c4 3.5px,#2677cb 4.5px,#2368cb 5.5px,#236ccb 6.5px,#2b84c8 7.5px,#3a9fc1 8.5px,#66b7c7 9.5px,#9eccd4 10.5px,#b3d3d9 11.5px,#a6ced6 12.5px,#70bcca 13.5px,#3ea3bf 14.5px,#2471cc 16.5px,#236bcb 17.5px,#2676cb 18.5px,#3194c5 19.5px,#43a7bf 20.5px,#79bfcc 21.5px,#a5ced6 22.5px,#acd1d7 23.5px,#8dc6d0 24.5px,#59b1c4 25.5px,#389cc2 26.5px,#2572cc 28.5px,#2573cc 29.5px,#389cc2 31.5px,#57b0c4 32.5px,#86c4cf 33.5px,#a1cdd5 34.5px,#99cad3 35.5px,#71bcca 36.5px,#43a8bf 37.5px,#3497c4 38.5px,#2b82c9 39.5px,#2778cb 40.5px,#2a80c9 41.5px,#3ea4bf 43.5px,#89c5cf 45.5px,#95c9d2 46.5px,#82c2ce 47.5px,#3ca1c0 49.5px,#2c86c8 51.5px,#2b83c9 52.5px,#389cc2 54.5px,#4aabc1 55.5px,#6bbac9 56.5px,#82c2ce 57.5px,#81c2ce 58.5px,#6ab9c9 59.5px,#4babc1 60.5px,#3a9ec1 61.5px,#2f8ec7 63.5px,#3599c3 65.5px,#3da3bf 66.5px,#6ab9c8 68.5px,#73bdcb 69.5px,#6cbac9 70.5px,#40a6be 72.5px,#3598c4 74.5px,#3699c3 76.5px,#43a7bf 78.5px,#56b0c3 79.5px,#61b5c6 80.5px,#62b6c7 81.5px,#5ab2c4 82.5px,#3ea4bf 84.5px)}
.d39{background:linear-gradient(90deg,#3092c6 0.5px,#43a7bf 3.5px,#59b1c4 4.5px,#66b7c7 5.5px,#66b7c8 6.5px,#5ab2c4 7.5px,#44a8bf 8.5px,#3497c4 10.5px,#3093c6 12.5px,#42a7be 15.5px,#58b1c4 16.5px,#65b7c7 17.5px,#66b7c7 18.5px,#5bb2c5 19.5px,#46a9c0 20.5px,#3598c4 22.5px,#3193c6 24.5px,#42a7be 27.5px,#57b1c4 28.5px,#64b7c7 29.5px,#66b7c7 30.5px,#5bb2c5 31.5px,#47a9c0 32.5px,#3699c3 34.5px,#3294c5 36.5px,#43a7bf 39.5px,#58b1c4 40.5px,#64b7c7 41.5px,#65b7c7 42.5px,#5ab2c5 43.5px,#47a9c0 44.5px,#369ac3 46.5px,#3396c4 48.5px,#3ba0c0 50.5px,#45a8bf 51.5px,#58b1c4 52.5px,#63b6c7 53.5px,#63b6c7 54.5px,#58b1c4 55.5px,#46a9bf 56.5px,#379bc2 58.5px,#3598c4 60.5px,#3da2c0 62.5px,#58b1c4 64.5px,#60b5c6 65.5px,#5eb4c6 66.5px,#44a8bf 68.5px,#399dc2 70.5px,#3a9fc1 73.5px,#3ea4bf 74.5px,#55b0c3 76.5px,#5ab2c4 77.5px,#57b1c4 78.5px,#42a7bf 80.5px,#3a9ec1 83.5px,#3a9fc1 84.5px)}
.d40{background:linear-gradient(90deg,#205bc8 0.5px,#246ecc 1.5px,#3497c4 2.5px,#62b6c7 3.5px,#b1d2d8 4.5px,#c5dbdf 5.5px,#c1d9de 6.5px,#9acad3 7.5px,#4babc1 8.5px,#2f8ec7 9.5px,#2368cb 10.5px,#215bc9 11.5px,#2262ca 12.5px,#297eca 13.5px,#3ba0c0 14.5px,#77becb 15.5px,#b6d4da 16.5px,#c2dade 17.5px,#b7d5da 18.5px,#7cc0cd 19.5px,#3da2c0 20.5px,#2b84c8 21.5px,#2367cb 22.5px,#2161c9 23.5px,#236ccb 24.5px,#2f90c6 25.5px,#45a8bf 26.5px,#88c4cf 27.5px,#b6d4da 28.5px,#bad6db 29.5px,#a3cdd5 30.5px,#62b6c6 31.5px,#389cc2 32.5px,#297fc9 33.5px,#236acb 34.5px,#236acb 35.5px,#287cca 36.5px,#3699c3 37.5px,#57b0c4 38.5px,#90c7d1 39.5px,#b2d3d9 40.5px,#afd2d8 41.5px,#85c3cf 42.5px,#4dacc1 43.5px,#3598c4 44.5px,#297fc9 45.5px,#2471cc 46.5px,#2677cb 47.5px,#3ca1c0 49.5px,#62b6c7 50.5px,#8fc7d1 51.5px,#a2cdd5 52.5px,#94c8d2 53.5px,#3fa5be 55.5px,#2b85c8 57.5px,#297ec9 58.5px,#2d88c8 59.5px,#41a6be 61.5px,#67b8c8 62.5px,#84c3ce 63.5px,#8bc5d0 64.5px,#77becc 65.5px,#3da2c0 67.5px,#2f8fc6 69.5px,#2f8fc7 70.5px,#3b9fc1 72.5px,#4babc1 73.5px,#64b6c7 74.5px,#72bdca 75.5px,#70bcca 76.5px,#61b5c6 77.5px,#4aabc0 78.5px,#3ca1c0 79.5px,#3598c4 81.5px,#3ea4bf 84.5px)}
.d41{background:linear-gradient(90deg,#3497c4 0.5px,#44a8bf 3.5px,#53afc3 4.5px,#5ab2c4 5.5px,#55b0c3 6.5px,#3da2c0 8.5px,#3498c4 10.5px,#369ac3 12.5px,#40a6be 14.5px,#51aec2 15.5px,#5ab2c5 16.5px,#59b1c4 17.5px,#3fa4bf 19.5px,#3497c4 22.5px,#3fa5bf 25.5px,#5ab2c5 27.5px,#5cb3c5 28.5px,#53afc3 29.5px,#42a7bf 30.5px,#3497c4 33.5px,#389cc2 35.5px,#3da2bf 36.5px,#58b1c4 38.5px,#5eb4c6 39.5px,#5ab2c4 40.5px,#3ea3bf 42.5px,#3497c4 45.5px,#42a7be 48.5px,#53afc3 49.5px,#5eb4c5 50.5px,#5eb4c5 51.5px,#54afc3 52.5px,#43a7bf 53.5px,#3599c3 56.5px,#3ea4bf 59.5px,#59b1c4 61.5px,#5eb4c5 62.5px,#59b1c4 63.5px,#3fa4bf 65.5px,#379bc3 68.5px,#43a7bf 71.5px,#59b1c4 73.5px,#59b1c4 74.5px,#3ea3bf 77.5px,#3a9ec1 80.5px,#3fa5be 82.5px,#51aec2 84.5px)}
.d42{background:linear-gradient(90deg,#b8d5db 0.5px,#95c9d2 1.5px,#53afc3 2.5px,#3396c4 3.5px,#2674cb 4.5px,#2265ca 5.5px,#2267ca 6.5px,#287cca 7.5px,#379bc2 8.5px,#60b5c6 9.5px,#9fccd4 10.5px,#b8d5db 11.5px,#b3d3d9 12.5px,#83c3ce 13.5px,#45a8bf 14.5px,#3193c6 15.5px,#2572cc 16.5px,#2367cb 17.5px,#246dcc 18.5px,#2c88c8 19.5px,#3ca1c0 20.5px,#6ab9c9 21.5px,#a2cdd5 22.5px,#b4d3d9 23.5px,#a5ced6 24.5px,#3ea3bf 26.5px,#2f8fc6 27.5px,#2574cb 28.5px,#236dcb 29.5px,#2777cb 30.5px,#3193c6 31.5px,#40a5be 32.5px,#71bcca 33.5px,#9eccd4 34.5px,#aad0d7 35.5px,#91c7d1 36.5px,#61b5c6 37.5px,#3ba0c0 38.5px,#2779ca 40.5px,#2676cb 41.5px,#2b84c8 42.5px,#3699c3 43.5px,#4aaac0 44.5px,#74bdcb 45.5px,#96c9d2 46.5px,#98cad3 47.5px,#7cc0cd 48.5px,#53afc3 49.5px,#399ec1 50.5px,#2a81c9 52.5px,#2a82c9 53.5px,#3a9ec1 55.5px,#51aec2 56.5px,#72bdca 57.5px,#88c4cf 58.5px,#83c3ce 59.5px,#69b9c8 60.5px,#49aac0 61.5px,#399dc2 62.5px,#2e8dc7 64.5px,#3598c3 66.5px,#3da3bf 67.5px,#6bbac9 69.5px,#75becb 70.5px,#6ebbc9 71.5px,#5bb2c5 72.5px,#41a7be 73.5px,#3598c4 75.5px,#3599c3 77.5px,#40a6be 79.5px,#53afc3 80.5px,#60b5c6 81.5px,#63b6c7 82.5px,#5db3c5 83.5px,#50adc2 84.5px)}
.d43{background:linear-gradient(90deg,#aed1d7 0.5px,#86c3cf 1.5px,#4dacc1 2.5px,#3497c4 3.5px,#287aca 4.5px,#236ccb 5.5px,#246fcc 6.5px,#3a9fc1 8.5px,#63b6c7 9.5px,#98cad3 10.5px,#aed1d8 11.5px,#9dccd4 12.5px,#3da3bf 14.5px,#2675cb 16.5px,#246ecc 17.5px,#287bca 18.5px,#3295c5 19.5px,#44a8bf 20.5px,#75becb 21.5px,#9eccd4 22.5px,#a4ced5 23.5px,#85c3cf 24.5px,#55b0c3 25.5px,#389cc2 26.5px,#2676cb 28.5px,#2677cb 29.5px,#399dc1 31.5px,#57b1c4 32.5px,#82c2ce 33.5px,#9bcbd3 34.5px,#92c8d1 35.5px,#6cbac9 36.5px,#41a6be 37.5px,#2b84c8 39.5px,#287cca 40.5px,#2b84c8 41.5px,#3fa5bf 43.5px,#85c3cf 45.5px,#8fc7d1 46.5px,#7bc0cc 47.5px,#58b1c4 48.5px,#3ca1c0 49.5px,#2c88c8 51.5px,#2c86c8 52.5px,#399ec1 54.5px,#4cacc1 55.5px,#6bbac9 56.5px,#7fc1cd 57.5px,#7cc0cd 58.5px,#66b7c7 59.5px,#48aac0 60.5px,#399dc1 61.5px,#2f90c6 63.5px,#369ac3 65.5px,#3ea4bf 66.5px,#69b9c8 68.5px,#70bcca 69.5px,#68b9c8 70.5px,#3fa5be 72.5px,#3598c4 74.5px,#379ac3 76.5px,#45a8bf 78.5px,#57b0c4 79.5px,#61b5c6 80.5px,#61b5c6 81.5px,#3ea3bf 84.5px)}
.d44{background:linear-gradient(90deg,#2e8bc7 0.5px,#399dc1 2.5px,#46a9bf 3.5px,#60b5c6 4.5px,#6fbcca 5.5px,#6fbcca 6.5px,#60b5c6 7.5px,#46a9bf 8.5px,#3295c5 10.5px,#2e8dc7 11.5px,#2e8dc7 12.5px,#399ec1 14.5px,#46a9c0 15.5px,#60b5c6 16.5px,#6ebbca 17.5px,#6ebbc9 18.5px,#5fb4c6 19.5px,#46a9bf 20.5px,#3395c5 22.5px,#2f8fc7 23.5px,#3396c4 25.5px,#3a9fc1 26.5px,#47a9c0 27.5px,#5fb4c6 28.5px,#6dbbc9 29.5px,#6cbac9 30.5px,#5db3c5 31.5px,#45a8bf 32.5px,#3396c4 34.5px,#3092c6 36.5px,#3ba0c0 38.5px,#49aac0 39.5px,#5fb4c6 40.5px,#6bbac9 41.5px,#69b9c8 42.5px,#5bb2c5 43.5px,#44a8bf 44.5px,#3497c4 46.5px,#3295c5 48.5px,#3ca1c0 50.5px,#5fb4c6 52.5px,#68b8c8 53.5px,#65b7c7 54.5px,#57b1c4 55.5px,#42a7bf 56.5px,#3396c4 59.5px,#389cc2 61.5px,#3ea3bf 62.5px,#5db3c5 64.5px,#63b6c7 65.5px,#5fb4c6 66.5px,#40a6be 68.5px,#369ac3 71.5px,#3fa5be 74.5px,#58b1c4 76.5px,#5cb3c5 77.5px,#58b1c4 78.5px,#40a6be 80.5px,#399ec1 83.5px,#3a9fc1 84.5px)}
.d45{background:linear-gradient(90deg,#215bc9 0.5px,#246fcc 1.5px,#3498c4 2.5px,#62b6c6 3.5px,#b0d2d8 4.5px,#c5dbdf 5.5px,#c1d9de 6.5px,#99cad3 7.5px,#4aabc1 8.5px,#2f8ec7 9.5px,#2369cb 10.5px,#215cc9 11.5px,#2262ca 12.5px,#297fc9 13.5px,#3ba0c0 14.5px,#77becc 15.5px,#b6d4da 16.5px,#c2d9de 17.5px,#b6d4da 18.5px,#7abfcc 19.5px,#3da2c0 20.5px,#2b84c9 21.5px,#2367cb 22.5px,#2261ca 23.5px,#246dcc 24.5px,#3091c6 25.5px,#46a9c0 26.5px,#89c5cf 27.5px,#b6d4da 28.5px,#bad6db 29.5px,#a0cdd5 30.5px,#60b5c6 31.5px,#389bc2 32.5px,#297ec9 33.5px,#236acb 34.5px,#236acb 35.5px,#297dca 36.5px,#369ac3 37.5px,#58b1c4 38.5px,#91c7d1 39.5px,#b2d3d9 40.5px,#add1d7 41.5px,#82c2ce 42.5px,#4babc1 43.5px,#3497c4 44.5px,#297fc9 45.5px,#2471cc 46.5px,#2778cb 47.5px,#3ca1c0 49.5px,#90c7d1 51.5px,#a2cdd5 52.5px,#92c8d1 53.5px,#3fa4bf 55.5px,#2b84c8 57.5px,#297fc9 58.5px,#3699c3 60.5px,#43a7bf 61.5px,#68b8c8 62.5px,#85c3cf 63.5px,#8ac5d0 64.5px,#75becb 65.5px,#55b0c3 66.5px,#3ca1c0 67.5px,#2f8fc7 69.5px,#2f8fc7 70.5px,#3ba0c0 72.5px,#4dacc1 73.5px,#65b7c7 74.5px,#72bdca 75.5px,#6fbbca 76.5px,#5fb4c6 77.5px,#48aac0 78.5px,#3ca1c0 79.5px,#3598c4 81.5px,#3fa5bf 84.5px)}
.d46{background:linear-gradient(90deg,#379ac3 0.5px,#41a6be 3.5px,#4babc1 4.5px,#4fadc2 5.5px,#4babc1 6.5px,#3ca2c0 8.5px,#379ac3 11.5px,#41a7be 14.5px,#4dacc1 15.5px,#52aec2 16.5px,#4fadc2 17.5px,#3da2bf 19.5px,#369ac3 22.5px,#40a6be 25.5px,#4eacc1 26.5px,#55b0c3 27.5px,#54afc3 28.5px,#3fa4bf 30.5px,#3699c3 33.5px,#3fa5bf 36.5px,#57b0c4 38.5px,#59b1c4 39.5px,#52aec2 40.5px,#44a8bf 41.5px,#3699c3 44.5px,#3da2c0 47.5px,#55afc3 49.5px,#5bb2c5 50.5px,#58b1c4 51.5px,#3fa5be 53.5px,#3699c3 56.5px,#40a6be 59.5px,#59b1c4 61.5px,#5bb2c5 62.5px,#54afc3 63.5px,#3ea3bf 65.5px,#389cc2 68.5px,#3ea3bf 70.5px,#52aec3 72.5px,#58b1c4 73.5px,#57b0c4 74.5px,#42a7be 76.5px,#3a9ec1 79.5px,#40a6be 82.5px,#51aec2 84.5px)}
.d47{background:linear-gradient(90deg,#bbd7dc 0.5px,#9acad3 1.5px,#54afc3 2.5px,#3396c5 3.5px,#2571cc 4.5px,#2262ca 5.5px,#2264ca 6.5px,#287aca 7.5px,#379bc2 8.5px,#63b6c7 9.5px,#a5ced6 10.5px,#bbd6dc 11.5px,#b5d4da 12.5px,#86c4cf 13.5px,#45a8bf 14.5px,#3091c6 15.5px,#246fcc 16.5px,#2265ca 17.5px,#236bcb 18.5px,#2c87c8 19.5px,#3ca1c0 20.5px,#6ebbc9 21.5px,#a8cfd6 22.5px,#b6d5da 23.5px,#a9d0d6 24.5px,#70bcca 25.5px,#3da3bf 26.5px,#2471cc 28.5px,#236bcb 29.5px,#2676cb 30.5px,#3193c6 31.5px,#41a6be 32.5px,#76becb 33.5px,#a4ced5 34.5px,#afd2d8 35.5px,#93c8d2 36.5px,#60b5c6 37.5px,#3a9fc1 38.5px,#2676cb 40.5px,#2573cb 41.5px,#2b83c9 42.5px,#3699c3 43.5px,#4dacc1 44.5px,#7abfcc 45.5px,#9bcbd3 46.5px,#9ccbd4 47.5px,#7dc0cd 48.5px,#52aec2 49.5px,#389dc2 50.5px,#297fc9 52.5px,#2a81c9 53.5px,#3a9fc1 55.5px,#54afc3 56.5px,#77becb 57.5px,#8cc6d0 58.5px,#85c3cf 59.5px,#47a9c0 61.5px,#389cc2 62.5px,#2d8bc7 64.5px,#3599c3 66.5px,#3ea3bf 67.5px,#6ebbc9 69.5px,#78bfcc 70.5px,#6ebbca 71.5px,#40a6be 73.5px,#3497c4 75.5px,#3598c3 77.5px,#41a7be 79.5px,#55b0c3 80.5px,#62b5c6 81.5px,#64b6c7 82.5px,#5db3c5 83.5px,#4fadc2 84.5px)}
.d48{background:linear-gradient(90deg,#a4ced5 0.5px,#7fc1cd 1.5px,#4cabc1 2.5px,#3497c4 3.5px,#297eca 4.5px,#246fcc 5.5px,#2573cb 6.5px,#3ba0c1 8.5px,#61b5c6 9.5px,#90c7d1 10.5px,#a5ced6 11.5px,#94c8d2 12.5px,#3da2c0 14.5px,#2f91c6 15.5px,#2779ca 16.5px,#2573cc 17.5px,#297fc9 18.5px,#3496c4 19.5px,#44a8bf 20.5px,#72bdca 21.5px,#97c9d2 22.5px,#9bcbd3 23.5px,#7dc1cd 24.5px,#51aec2 25.5px,#389bc2 26.5px,#277aca 28.5px,#287cca 29.5px,#3a9fc1 31.5px,#57b1c4 32.5px,#7ec1cd 33.5px,#94c8d2 34.5px,#8ac5d0 35.5px,#3fa5be 37.5px,#2c87c8 39.5px,#297fc9 40.5px,#2c88c8 41.5px,#40a6be 43.5px,#64b7c7 44.5px,#81c2ce 45.5px,#88c4cf 46.5px,#74bdcb 47.5px,#54afc3 48.5px,#3ba0c0 49.5px,#2d8ac7 51.5px,#2d8ac7 52.5px,#3a9fc1 54.5px,#4eacc1 55.5px,#6ab9c9 56.5px,#7bc0cc 57.5px,#76becb 58.5px,#61b5c6 59.5px,#44a8bf 60.5px,#3295c5 62.5px,#3294c5 64.5px,#3fa5bf 66.5px,#68b9c8 68.5px,#6ebbc9 69.5px,#65b7c7 70.5px,#3ea4bf 72.5px,#3598c4 74.5px,#379bc2 76.5px,#46a9c0 78.5px,#57b1c4 79.5px,#60b5c6 80.5px,#5fb4c6 81.5px,#3ea3bf 84.5px)}
.d49{background:linear-gradient(90deg,#2b85c8 0.5px,#389dc2 2.5px,#49aac0 3.5px,#68b8c8 4.5px,#7cc0cd 5.5px,#7bc0cc 6.5px,#66b7c7 7.5px,#47a9c0 8.5px,#389cc2 9.5px,#2c86c8 11.5px,#2c87c8 12.5px,#399ec1 14.5px,#4babc1 15.5px,#68b8c8 16.5px,#7abfcc 17.5px,#77bfcc 18.5px,#63b6c7 19.5px,#45a8bf 20.5px,#3092c6 22.5px,#2d89c8 23.5px,#2d8bc7 24.5px,#3b9fc1 26.5px,#4dacc1 27.5px,#67b8c8 28.5px,#77becb 29.5px,#73bdcb 30.5px,#60b4c6 31.5px,#43a7bf 32.5px,#3194c5 34.5px,#2e8dc7 35.5px,#3497c4 37.5px,#3ca1c0 38.5px,#67b8c8 40.5px,#72bdcb 41.5px,#6ebbc9 42.5px,#5bb3c5 43.5px,#41a6be 44.5px,#3295c5 46.5px,#3193c5 48.5px,#3da3bf 50.5px,#65b7c7 52.5px,#6dbbc9 53.5px,#68b8c8 54.5px,#40a6be 56.5px,#3497c4 58.5px,#3497c4 60.5px,#3fa4bf 62.5px,#61b5c6 64.5px,#67b8c8 65.5px,#60b5c6 66.5px,#3fa5be 68.5px,#3599c3 71.5px,#40a6be 74.5px,#5bb3c5 76.5px,#5eb4c5 77.5px,#58b1c4 78.5px,#3fa5be 80.5px,#399dc1 83.5px,#3b9fc1 84.5px)}
.d50{background:linear-gradient(90deg,#215cc9 0.5px,#246fcc 1.5px,#3598c4 2.5px,#62b5c6 3.5px,#afd2d8 4.5px,#c4dadf 5.5px,#bfd8dd 6.5px,#97c9d2 7.5px,#4aaac0 8.5px,#2f8ec7 9.5px,#2369cb 10.5px,#215dc9 11.5px,#2263ca 12.5px,#2a80c9 13.5px,#3ca1c0 14.5px,#77bfcc 15.5px,#b5d4da 16.5px,#c0d9dd 17.5px,#b5d4da 18.5px,#77becc 19.5px,#3ca1c0 20.5px,#2b84c9 21.5px,#2368cb 22.5px,#2262ca 23.5px,#246ecc 24.5px,#3092c6 25.5px,#48a9c0 26.5px,#8ac5d0 27.5px,#b5d4da 28.5px,#b9d6db 29.5px,#9eccd4 30.5px,#5eb4c5 31.5px,#379bc2 32.5px,#297ec9 33.5px,#236bcb 34.5px,#236bcb 35.5px,#297fc9 36.5px,#379bc2 37.5px,#5ab2c4 38.5px,#92c8d1 39.5px,#b1d2d8 40.5px,#abd0d7 41.5px,#7fc1cd 42.5px,#49aac0 43.5px,#3497c4 44.5px,#297ec9 45.5px,#2572cc 46.5px,#2779ca 47.5px,#3091c6 48.5px,#3da2bf 49.5px,#90c7d1 51.5px,#a1cdd5 52.5px,#8fc7d1 53.5px,#3ea4bf 55.5px,#2b84c8 57.5px,#297fc9 58.5px,#369ac3 60.5px,#45a8bf 61.5px,#6ab9c8 62.5px,#85c3cf 63.5px,#89c4cf 64.5px,#72bdcb 65.5px,#53afc3 66.5px,#3ca0c0 67.5px,#2f8fc7 69.5px,#2f90c6 70.5px,#3ca1c0 72.5px,#66b7c7 74.5px,#72bdca 75.5px,#6ebbc9 76.5px,#5eb4c5 77.5px,#46a9c0 78.5px,#3ba0c0 79.5px,#3598c4 81.5px,#3fa5be 84.5px)}
.d51{background:linear-gradient(90deg,#3a9ec1 0.5px,#45a8bf 5.5px,#399dc1 10.5px,#42a7bf 14.5px,#49aac0 16.5px,#399dc1 20.5px,#3b9fc1 23.5px,#50adc2 27.5px,#3da2c0 30.5px,#379bc2 33.5px,#42a7bf 36.5px,#55b0c3 38.5px,#53afc3 39.5px,#3fa5bf 41.5px,#369ac3 44.5px,#3fa5bf 47.5px,#56b0c3 49.5px,#59b1c4 50.5px,#53afc3 51.5px,#3da3bf 53.5px,#379ac3 56.5px,#3da2c0 58.5px,#59b1c4 61.5px,#58b1c4 62.5px,#42a7be 64.5px,#389cc2 67.5px,#3fa5bf 70.5px,#54afc3 72.5px,#58b1c4 73.5px,#4aabc1 75.5px,#3fa5be 76.5px,#3a9ec1 79.5px,#43a7bf 82.5px,#52aec3 84.5px)}
.d52{background:linear-gradient(90deg,#bed8dd 0.5px,#9eccd4 1.5px,#55b0c3 2.5px,#3395c5 3.5px,#246fcc 4.5px,#2160c9 5.5px,#2262ca 6.5px,#2778cb 7.5px,#379bc2 8.5px,#65b7c7 9.5px,#aad0d7 10.5px,#bed8dd 11.5px,#b8d5db 12.5px,#89c4cf 13.5px,#44a8bf 14.5px,#2f90c6 15.5px,#246dcc 16.5px,#2263ca 17.5px,#236acb 18.5px,#2c86c8 19.5px,#3ca1c0 20.5px,#71bcca 21.5px,#aed1d7 22.5px,#b9d6db 23.5px,#add1d7 24.5px,#71bcca 25.5px,#3da2c0 26.5px,#2d8ac7 27.5px,#246ecc 28.5px,#2369cb 29.5px,#2574cb 30.5px,#3193c6 31.5px,#43a7bf 32.5px,#7bc0cc 33.5px,#aad0d7 34.5px,#b1d3d8 35.5px,#95c9d2 36.5px,#5fb4c6 37.5px,#3a9ec1 38.5px,#2573cb 40.5px,#2572cc 41.5px,#369ac3 43.5px,#4fadc2 44.5px,#7fc1cd 45.5px,#9fccd4 46.5px,#9fccd4 47.5px,#7dc1cd 48.5px,#50adc2 49.5px,#389cc2 50.5px,#297dca 52.5px,#2a80c9 53.5px,#3ba0c1 55.5px,#57b1c4 56.5px,#7bc0cc 57.5px,#8fc7d1 58.5px,#87c4cf 59.5px,#45a8bf 61.5px,#3091c6 63.5px,#2d89c8 64.5px,#3599c3 66.5px,#3ea4bf 67.5px,#70bcca 69.5px,#7abfcc 70.5px,#6fbbca 71.5px,#3fa5be 73.5px,#3496c4 75.5px,#3598c3 77.5px,#43a7bf 79.5px,#57b1c4 80.5px,#63b6c7 81.5px,#65b7c7 82.5px,#5db3c5 83.5px,#4dacc1 84.5px)}
.d53{background:linear-gradient(90deg,#99cad3 0.5px,#77becc 1.5px,#4aaac0 2.5px,#3598c3 3.5px,#2a82c9 4.5px,#2674cb 5.5px,#2779ca 6.5px,#3ba0c0 8.5px,#5eb4c6 9.5px,#88c4cf 10.5px,#9acbd3 11.5px,#8ac5d0 12.5px,#3da2c0 14.5px,#297dca 16.5px,#2778cb 17.5px,#2b84c8 18.5px,#3598c4 19.5px,#45a8bf 20.5px,#6ebbca 21.5px,#8fc7d1 22.5px,#91c7d1 23.5px,#74becb 24.5px,#4dacc1 25.5px,#379bc2 26.5px,#297eca 28.5px,#2a80c9 29.5px,#3ba0c1 31.5px,#57b1c4 32.5px,#7abfcc 33.5px,#8cc6d0 34.5px,#81c2ce 35.5px,#3ea4bf 37.5px,#2d89c8 39.5px,#2b83c9 40.5px,#3699c3 42.5px,#41a7be 43.5px,#64b6c7 44.5px,#7dc0cd 45.5px,#81c2ce 46.5px,#6dbbc9 47.5px,#4fadc2 48.5px,#3b9fc1 49.5px,#2e8cc7 51.5px,#2e8dc7 52.5px,#3ba0c0 54.5px,#69b9c8 56.5px,#77becb 57.5px,#70bcca 58.5px,#5db3c5 59.5px,#41a6be 60.5px,#3395c5 62.5px,#3396c5 64.5px,#40a6be 66.5px,#57b1c4 67.5px,#67b8c8 68.5px,#6bbac9 69.5px,#61b5c6 70.5px,#3ea3bf 72.5px,#3599c3 74.5px,#389cc2 76.5px,#3da2c0 77.5px,#57b1c4 79.5px,#5fb4c6 80.5px,#5db3c5 81.5px,#3da2bf 84.5px)}
.d54{background:linear-gradient(90deg,#297eca 0.5px,#389cc2 2.5px,#4cabc1 3.5px,#6fbbca 4.5px,#88c4cf 5.5px,#87c4cf 6.5px,#6cbac9 7.5px,#48aac0 8.5px,#379bc2 9.5px,#2a80c9 11.5px,#2a81c9 12.5px,#399ec1 14.5px,#4fadc2 15.5px,#70bcca 16.5px,#86c3cf 17.5px,#81c2ce 18.5px,#67b8c8 19.5px,#44a8bf 20.5px,#2e8dc7 22.5px,#2b83c9 23.5px,#2c86c8 24.5px,#3ba0c1 26.5px,#6fbcca 28.5px,#81c2ce 29.5px,#7ac0cc 30.5px,#62b5c6 31.5px,#41a6be 32.5px,#2f90c6 34.5px,#2c87c8 35.5px,#2e8cc7 36.5px,#3da2c0 38.5px,#6ebbc9 40.5px,#7bc0cc 41.5px,#72bdca 42.5px,#5cb3c5 43.5px,#3fa5be 44.5px,#3193c6 46.5px,#2e8dc7 47.5px,#369ac3 49.5px,#3ea4bf 50.5px,#6bbac9 52.5px,#72bdcb 53.5px,#6ab9c8 54.5px,#3fa4bf 56.5px,#3395c5 58.5px,#3396c4 60.5px,#40a6be 62.5px,#56b0c4 63.5px,#66b7c7 64.5px,#6ab9c8 65.5px,#61b5c6 66.5px,#3ea4bf 68.5px,#3599c3 70.5px,#379bc2 72.5px,#43a8bf 74.5px,#54afc3 75.5px,#5eb4c6 76.5px,#5fb4c6 77.5px,#58b1c4 78.5px,#3ea4bf 80.5px,#399dc2 83.5px,#3b9fc1 84.5px)}
.d55{background:linear-gradient(90deg,#215dc9 0.5px,#2470cc 1.5px,#3598c4 2.5px,#61b5c6 3.5px,#add1d7 4.5px,#c2dade 5.5px,#bed8dd 6.5px,#94c8d2 7.5px,#49aac0 8.5px,#2f8fc7 9.5px,#236acb 10.5px,#215ec9 11.5px,#2265ca 12.5px,#2a81c9 13.5px,#3ca1c0 14.5px,#77becc 15.5px,#b4d4d9 16.5px,#bfd8dd 17.5px,#b3d3d9 18.5px,#74bdcb 19.5px,#3ca1c0 20.5px,#2b84c9 21.5px,#2369cb 22.5px,#2263ca 23.5px,#246fcc 24.5px,#3193c6 25.5px,#49aac0 26.5px,#89c5d0 27.5px,#b4d4d9 28.5px,#b7d5da 29.5px,#9acad3 30.5px,#5bb3c5 31.5px,#379ac3 32.5px,#297ec9 33.5px,#236bcb 34.5px,#236ccb 35.5px,#2a81c9 36.5px,#389cc2 37.5px,#5bb2c5 38.5px,#92c8d1 39.5px,#b0d2d8 40.5px,#a8cfd6 41.5px,#7bc0cc 42.5px,#47a9c0 43.5px,#3396c4 44.5px,#297fc9 45.5px,#2573cb 46.5px,#287bca 47.5px,#3093c6 48.5px,#3ea3bf 49.5px,#90c7d1 51.5px,#9fccd4 52.5px,#8cc6d0 53.5px,#3ea3bf 55.5px,#2b84c8 57.5px,#2a81c9 58.5px,#379bc3 60.5px,#47a9c0 61.5px,#6bbac9 62.5px,#85c3cf 63.5px,#87c4cf 64.5px,#70bcca 65.5px,#51aec2 66.5px,#3ba0c0 67.5px,#2f8fc6 69.5px,#3598c4 71.5px,#3ca1c0 72.5px,#67b8c8 74.5px,#71bcca 75.5px,#6dbac9 76.5px,#5cb3c5 77.5px,#45a8bf 78.5px,#369ac3 80.5px,#369ac3 82.5px,#40a6be 84.5px)}
.d56{background:linear-gradient(90deg,#3da2c0 0.5px,#3da2c0 7.5px,#3ea4bf 12.5px,#44a8bf 15.5px,#399ec1 21.5px,#40a6be 24.5px,#4cacc1 26.5px,#389cc2 31.5px,#3ba0c0 34.5px,#3fa5bf 35.5px,#51aec2 37.5px,#53afc3 38.5px,#3da2c0 41.5px,#379bc3 44.5px,#43a7bf 47.5px,#57b0c4 49.5px,#56b0c3 50.5px,#40a6be 52.5px,#379bc3 55.5px,#3ea4bf 58.5px,#55b0c3 60.5px,#59b1c4 61.5px,#55b0c3 62.5px,#3fa5bf 64.5px,#389cc2 67.5px,#41a6be 70.5px,#56b0c3 72.5px,#57b0c4 73.5px,#3ea4bf 76.5px,#3a9fc1 79.5px,#3fa4bf 81.5px,#53afc3 84.5px)}
.d57{background:linear-gradient(90deg,#c0d9dd 0.5px,#a2cdd5 1.5px,#56b0c3 2.5px,#3295c5 3.5px,#246ecc 4.5px,#215ec9 5.5px,#2161c9 6.5px,#2677cb 7.5px,#379bc2 8.5px,#67b8c8 9.5px,#afd2d8 10.5px,#c0d9dd 11.5px,#bad6db 12.5px,#8ac5d0 13.5px,#43a8bf 14.5px,#2f8ec7 15.5px,#236bcb 16.5px,#2261ca 17.5px,#2368cb 18.5px,#2c85c8 19.5px,#3da2c0 20.5px,#75becb 21.5px,#b1d2d8 22.5px,#bbd7dc 23.5px,#afd2d8 24.5px,#71bcca 25.5px,#3ca2c0 26.5px,#2c88c8 27.5px,#236dcb 28.5px,#2367cb 29.5px,#2573cb 30.5px,#3193c6 31.5px,#45a8bf 32.5px,#80c1cd 33.5px,#aed1d8 34.5px,#b3d3d9 35.5px,#97c9d2 36.5px,#5eb4c6 37.5px,#399dc2 38.5px,#2471cc 40.5px,#2470cc 41.5px,#379ac3 43.5px,#52aec3 44.5px,#83c3ce 45.5px,#a3ced5 46.5px,#a1cdd5 47.5px,#7dc1cd 48.5px,#4fadc2 49.5px,#379bc3 50.5px,#287bca 52.5px,#297fc9 53.5px,#3ba0c0 55.5px,#7fc1cd 57.5px,#92c8d1 58.5px,#88c4cf 59.5px,#42a7bf 61.5px,#2f8fc7 63.5px,#2d88c8 64.5px,#3699c3 66.5px,#3fa5be 67.5px,#5db3c5 68.5px,#73bdcb 69.5px,#7cc0cd 70.5px,#6fbbca 71.5px,#3fa4bf 73.5px,#3396c4 75.5px,#3599c3 77.5px,#45a8bf 79.5px,#59b1c4 80.5px,#65b7c7 81.5px,#65b7c7 82.5px,#5cb3c5 83.5px,#4cacc1 84.5px)}
.d58{background:linear-gradient(90deg,#8ec6d1 0.5px,#6fbcca 1.5px,#48a9c0 2.5px,#3699c3 3.5px,#287aca 5.5px,#297fc9 6.5px,#3ca1c0 8.5px,#7fc1cd 10.5px,#8fc7d1 11.5px,#80c1cd 12.5px,#3ca1c0 14.5px,#2a82c9 16.5px,#297eca 17.5px,#369ac3 19.5px,#46a9bf 20.5px,#6bbac9 21.5px,#86c4cf 22.5px,#87c4cf 23.5px,#6cbac9 24.5px,#49aac0 25.5px,#379bc2 26.5px,#2a82c9 28.5px,#2c86c8 29.5px,#3ca1c0 31.5px,#75becb 33.5px,#84c3ce 34.5px,#77bfcc 35.5px,#3ea3bf 37.5px,#2e8cc7 39.5px,#2c88c8 40.5px,#379bc2 42.5px,#44a8bf 43.5px,#63b6c7 44.5px,#78bfcc 45.5px,#79bfcc 46.5px,#67b8c8 47.5px,#4babc1 48.5px,#3a9fc1 49.5px,#2f8fc7 51.5px,#3598c4 53.5px,#3da2c0 54.5px,#68b8c8 56.5px,#72bdca 57.5px,#6bbac9 58.5px,#3fa5be 60.5px,#3396c4 62.5px,#3497c4 64.5px,#42a7be 66.5px,#58b1c4 67.5px,#66b7c7 68.5px,#68b8c8 69.5px,#5eb4c5 70.5px,#3da2bf 72.5px,#3699c3 74.5px,#3ea3bf 77.5px,#58b1c4 79.5px,#5db3c5 80.5px,#5bb2c5 81.5px,#43a7bf 83.5px,#3da2c0 84.5px)}
.e0{background:linear-gradient(90deg,#c6dbdf 0.5px,#edc5b9 1.5px,#dc624b 2.5px,#aa2024 3.5px,#5e0915 4.5px,#4e0512 5.5px,#4e0512 6.5px,#610a16 7.5px,#ad2224 8.5px,#dd674e 9.5px,#edc9bf 10.5px,#c4dadf 11.5px,#c6dbdf 12.5px,#edc3b7 13.5px,#db614a 14.5px,#aa2024 15.5px,#610a16 16.5px,#4e0512 17.5px,#4e0512 18.5px,#6b0c18 19.5px,#b42725 20.5px,#df6e55 21.5px,#edd1c9 22.5px,#bfd8dd 23.5px,#c3dade 24.5px,#edc5ba 25.5px,#dc634c 26.5px,#ae2324 27.5px,#6b0c18 28.5px,#4f0512 29.5px,#530613 30.5px,#7b101b 31.5px,#be2d26 32.5px,#e27c64 33.5px,#ecdbd7 34.5px,#b8d5db 35.5px,#bed8dd 36.5px,#edcbc1 37.5px,#de6951 38.5px,#b52825 39.5px,#7c101b 40.5px,#630a16 41.5px,#680b17 42.5px,#91151f 43.5px,#cc3628 44.5px,#e68e78 45.5px,#e5e2e2 46.5px,#add1d7 47.5px,#b6d5da 48.5px,#edd3cc 49.5px,#e1745a 50.5px,#c12f26 51.5px,#931520 52.5px,#7d101b 53.5px,#84121d 54.5px,#a71e23 55.5px,#d34936 56.5px,#eaa391 57.5px,#cedde0 58.5px,#93c8d2 59.5px,#a7cfd6 60.5px,#ece0dc 61.5px,#e4856d 62.5px,#cf3a29 63.5px,#a91f23 64.5px,#9e1822 65.5px,#a31b23 66.5px,#bc2c26 67.5px,#db6049 68.5px,#eebcae 69.5px,#bbd6dc 70.5px,#75becb 71.5px,#8bc5d0 72.5px,#dce0e1 73.5px,#e89a86 74.5px,#d64f3b 75.5px,#bf2e26 76.5px,#b62825 77.5px,#bb2b26 78.5px,#d1402f 79.5px,#e37e66 80.5px,#edd8d2 81.5px,#9bcbd3 82.5px,#5ab2c4 83.5px,#71bcca 84.5px,#cedde0 85.5px,#eaa492 86.5px)}
.e1{background:linear-gradient(90deg,#246fcc 0.5px,#3da2c0 1.5px,#c7dbe0 2.5px,#eaa492 3.5px,#df6e54 4.5px,#dc624b 5.5px,#dc644c 6.5px,#e37d64 7.5px,#edc5b9 8.5px,#94c8d2 9.5px,#3092c6 10.5px,#2369cb 11.5px,#2a82c9 12.5px,#69b9c8 13.5px,#ecdad5 14.5px,#e58a73 15.5px,#dd664e 16.5px,#dc624b 17.5px,#de6950 18.5px,#e7937e 19.5px,#e6e3e2 20.5px,#53afc3 21.5px,#2779ca 22.5px,#236bcb 23.5px,#3598c4 24.5px,#b1d2d8 25.5px,#eeb8a8 26.5px,#e1765d 27.5px,#dc634b 28.5px,#dc634b 29.5px,#e07259 30.5px,#edb1a0 31.5px,#b9d6db 32.5px,#379bc2 33.5px,#236ccb 34.5px,#2675cb 35.5px,#48aac0 36.5px,#dbe0e1 37.5px,#e89985 38.5px,#de6a51 39.5px,#dc624b 40.5px,#dd654d 41.5px,#e4856e 42.5px,#edd2cb 43.5px,#76becb 44.5px,#2c87c8 45.5px,#2369cb 46.5px,#2e8cc7 47.5px,#83c3ce 48.5px,#edccc3 49.5px,#e38169 50.5px,#dc654d 51.5px,#dc624b 52.5px,#df6c52 53.5px,#e99e8b 54.5px,#d1dee1 55.5px,#40a6be 56.5px,#2572cc 57.5px,#246dcc 58.5px,#3a9ec1 59.5px,#bfd8dd 60.5px,#ecab9a 61.5px,#e07056 62.5px,#dc624b 63.5px,#dc634c 64.5px,#e27960 65.5px,#eebdb0 66.5px,#a4ced5 67.5px,#3295c5 68.5px,#236acb 69.5px,#297dca 70.5px,#5db3c5 71.5px,#ece2df 72.5px,#e68f79 73.5px,#dd674f 74.5px,#dc624b 75.5px,#dd674f 76.5px,#e68e78 77.5px,#ece0dd 78.5px,#5fb4c6 79.5px,#297eca 80.5px,#236acb 81.5px,#3294c5 82.5px,#a1cdd5 83.5px,#eec0b3 84.5px,#e27a62 85.5px,#dc634c 86.5px)}
.e2{background:linear-gradient(90deg,#236dcb 0.5px,#3193c5 1.5px,#5bb2c5 2.5px,#a7cfd6 3.5px,#bcd7dc 4.5px,#bfd8dd 6.5px,#b8d5db 7.5px,#8ac5d0 8.5px,#3ea4bf 9.5px,#2a80c9 10.5px,#2369cb 11.5px,#2779ca 12.5px,#3a9fc1 13.5px,#7cc0cd 14.5px,#b5d4da 15.5px,#bfd8dd 16.5px,#c1d9de 18.5px,#b5d4da 19.5px,#70bcca 20.5px,#369ac3 21.5px,#2471cc 22.5px,#236bcb 23.5px,#2f90c6 24.5px,#62b6c6 25.5px,#bdd8dc 26.5px,#e2e2e1 27.5px,#ece1de 28.5px,#ecdcd7 29.5px,#ecddd9 30.5px,#d0dee0 31.5px,#7abfcc 32.5px,#3294c5 33.5px,#236acb 34.5px,#2778cb 35.5px,#47a9c0 36.5px,#c6dbdf 37.5px,#edc4b8 38.5px,#ecaa98 39.5px,#e99f8c 41.5px,#edaf9e 42.5px,#ebe4e2 43.5px,#6ab9c8 44.5px,#2b82c9 45.5px,#2369cb 46.5px,#3395c5 47.5px,#aad0d7 48.5px,#edc3b6 49.5px,#e68f7a 50.5px,#e4826b 51.5px,#e4826a 52.5px,#e58871 53.5px,#ecad9c 54.5px,#cadce0 55.5px,#3ea3bf 56.5px,#246fcc 57.5px,#2573cb 58.5px,#48a9c0 59.5px,#d9e0e1 60.5px,#eba794 61.5px,#e4866f 62.5px,#e4826a 63.5px,#e4826b 64.5px,#e7927d 65.5px,#edcabf 66.5px,#96c9d2 67.5px,#2f90c6 68.5px,#2369cb 69.5px,#2e8cc7 70.5px,#8ac5d0 71.5px,#edcec5 72.5px,#e7947f 73.5px,#e4836b 74.5px,#e4856e 76.5px,#eaa391 77.5px,#e1e1e1 78.5px,#50adc2 79.5px,#2676cb 80.5px,#246dcc 81.5px,#3ba0c0 82.5px,#c4dadf 83.5px,#edb2a1 84.5px,#e58973 85.5px,#e4826a 86.5px)}
.e3{background:linear-gradient(90deg,#bfd8dd 0.5px,#bbd7dc 1.5px,#a3ced5 2.5px,#5bb2c5 3.5px,#3295c5 4.5px,#246fcc 5.5px,#236bcb 6.5px,#2d88c8 7.5px,#43a8bf 8.5px,#8fc7d1 9.5px,#b8d5db 10.5px,#bfd8dd 11.5px,#bed8dd 13.5px,#b2d3d9 14.5px,#71bcca 15.5px,#399dc1 16.5px,#2778cb 17.5px,#2368cb 18.5px,#2779ca 19.5px,#3a9fc1 20.5px,#7dc0cd 21.5px,#bad6db 22.5px,#c8dce0 23.5px,#d0dee0 25.5px,#c7dce0 26.5px,#a6cfd6 27.5px,#44a8bf 28.5px,#2779ca 29.5px,#2058c8 30.5px,#215fc9 31.5px,#3092c6 32.5px,#75becb 33.5px,#cddde0 34.5px,#ecdcd8 35.5px,#edd4cd 36.5px,#edd0c8 37.5px,#edd4cd 38.5px,#d8e0e1 39.5px,#74bdcb 40.5px,#2a82c9 41.5px,#1e49b1 42.5px,#1d41a6 43.5px,#246ecc 44.5px,#5bb2c5 45.5px,#d7dfe1 46.5px,#edc4b8 47.5px,#eeb6a6 48.5px,#eeb7a7 50.5px,#edd1c9 51.5px,#b4d4d9 52.5px,#3598c4 53.5px,#1f4fbb 54.5px,#1c3694 55.5px,#2058c8 56.5px,#3ba0c1 57.5px,#c0d9dd 58.5px,#edcac1 59.5px,#eeb5a5 60.5px,#eeb4a3 62.5px,#edc5b9 63.5px,#cddde0 64.5px,#46a9bf 65.5px,#2261ca 66.5px,#1c3797 67.5px,#1e47af 68.5px,#2e8dc7 69.5px,#9ccbd4 70.5px,#ecd9d4 71.5px,#eeb8a9 72.5px,#edb3a2 73.5px,#edb3a2 74.5px,#eebcae 75.5px,#ebe4e2 76.5px,#75becb 77.5px,#2778cb 78.5px,#1d3fa2 79.5px,#1c3c9d 80.5px,#246ecc 81.5px,#64b7c7 82.5px,#e4e2e2 83.5px,#eebdaf 84.5px,#edb3a2 85.5px,#edb3a2 86.5px)}
.e4{background:linear-gradient(90deg,#dc634b 0.5px,#e07258 1.5px,#ecad9c 2.5px,#c0d9dd 3.5px,#3ba0c0 4.5px,#246fcc 5.5px,#246fcc 6.5px,#3a9fc1 7.5px,#bed8dd 8.5px,#edaf9e 9.5px,#e17359 10.5px,#dc634b 11.5px,#dc634b 12.5px,#e07157 13.5px,#ecab99 14.5px,#c2dade 15.5px,#3ca1c0 16.5px,#2470cc 17.5px,#246ecc 18.5px,#399ec1 19.5px,#bbd6dc 20.5px,#edb2a2 21.5px,#e1765d 22.5px,#dc654d 23.5px,#dc654d 24.5px,#e1735a 25.5px,#ecac9a 26.5px,#c3dade 27.5px,#3da2c0 28.5px,#2572cc 29.5px,#246ecc 30.5px,#389dc2 31.5px,#b6d5da 32.5px,#eeb9aa 33.5px,#e37e66 34.5px,#de6b52 35.5px,#de6b52 36.5px,#e27a61 37.5px,#edb09f 38.5px,#c2dade 39.5px,#3ea3bf 40.5px,#2574cb 41.5px,#246fcc 42.5px,#389bc2 43.5px,#b1d3d8 44.5px,#eec0b3 45.5px,#e4856e 46.5px,#e07157 47.5px,#e07056 48.5px,#e37f67 49.5px,#edb2a1 50.5px,#c3dade 51.5px,#3ea4bf 52.5px,#2676cb 53.5px,#246fcc 54.5px,#379ac3 55.5px,#add1d7 56.5px,#edc3b7 57.5px,#e58771 58.5px,#e07158 59.5px,#e07056 60.5px,#e37e66 61.5px,#edb09f 62.5px,#c5dbdf 63.5px,#3fa5be 64.5px,#2677cb 65.5px,#246ecc 66.5px,#3699c3 67.5px,#a8cfd6 68.5px,#edc5ba 69.5px,#e58872 70.5px,#e07258 71.5px,#e07056 72.5px,#e37d65 73.5px,#ecae9d 74.5px,#c7dce0 75.5px,#40a6be 76.5px,#2778cb 77.5px,#246ecc 78.5px,#3598c3 79.5px,#a3ced5 80.5px,#edc7bd 81.5px,#e58973 82.5px,#e07258 83.5px,#e07056 84.5px,#e37f67 85.5px,#edb3a3 86.5px)}
.e5{background:linear-gradient(90deg,#bfd8dd 0.5px,#bbd7dc 1.5px,#9dccd4 2.5px,#51aec2 3.5px,#2f8fc7 4.5px,#236ccb 5.5px,#246ecc 6.5px,#3294c5 7.5px,#5db3c5 8.5px,#a7cfd6 9.5px,#bcd7dc 10.5px,#bfd8dd 12.5px,#b9d6db 13.5px,#93c8d2 14.5px,#45a8bf 15.5px,#2c87c8 16.5px,#2369cb 17.5px,#246fcc 18.5px,#3497c4 19.5px,#67b8c8 20.5px,#b1d2d8 21.5px,#c0d9dd 22.5px,#c3dade 24.5px,#bcd7dc 25.5px,#89c5cf 26.5px,#3a9fc1 27.5px,#236bcb 28.5px,#1f50bc 29.5px,#215dc9 30.5px,#3193c6 31.5px,#6fbbca 32.5px,#bdd7dc 33.5px,#d0dee0 34.5px,#d4dfe1 36.5px,#c3dade 37.5px,#78bfcc 38.5px,#2e8cc7 39.5px,#1e47af 40.5px,#1a2b84 41.5px,#1e46ad 42.5px,#2e8cc7 43.5px,#80c1cd 44.5px,#cbdde0 45.5px,#e3e2e1 46.5px,#e3e2e1 48.5px,#c5dbdf 49.5px,#63b6c7 50.5px,#2471cc 51.5px,#1b2f8b 52.5px,#182473 53.5px,#1e44aa 54.5px,#3194c5 55.5px,#96c9d2 56.5px,#d5dfe1 57.5px,#e7e3e2 58.5px,#e7e3e2 59.5px,#e2e2e1 60.5px,#bfd8dd 61.5px,#50adc2 62.5px,#2266ca 63.5px,#1a2981 64.5px,#192575 65.5px,#1f4eb9 66.5px,#389bc2 67.5px,#aad0d7 68.5px,#dae0e1 69.5px,#e7e3e2 70.5px,#e7e3e2 71.5px,#dfe1e1 72.5px,#b7d5da 73.5px,#3fa4bf 74.5px,#215bc9 75.5px,#19267b 76.5px,#19267a 77.5px,#2059c8 78.5px,#3da3bf 79.5px,#b5d4da 80.5px,#dee1e1 81.5px,#e7e3e2 82.5px,#e7e3e2 83.5px,#dae0e1 84.5px,#aad0d7 85.5px,#379bc2 86.5px)}
.e6{background:linear-gradient(90deg,#bfd8dd 0.5px,#bad6db 1.5px,#99cad3 2.5px,#49aac0 3.5px,#2d89c8 4.5px,#236acb 5.5px,#2572cc 6.5px,#379ac3 7.5px,#6ebbc9 8.5px,#b2d3d9 9.5px,#bed8dd 10.5px,#bed8dd 12.5px,#b3d3d9 13.5px,#72bdca 14.5px,#389cc2 15.5px,#2674cb 16.5px,#2369cb 17.5px,#2c86c8 18.5px,#48aac0 19.5px,#9fccd4 20.5px,#c2d9de 21.5px,#cfdee0 23.5px,#cddde0 24.5px,#b7d5da 25.5px,#61b5c6 26.5px,#3091c6 27.5px,#2369cb 28.5px,#2471cc 29.5px,#3a9fc1 30.5px,#a3ced5 31.5px,#e4e2e2 32.5px,#edd3cc 33.5px,#edc9bf 35.5px,#edd4ce 36.5px,#c4dadf 37.5px,#4fadc2 38.5px,#277aca 39.5px,#2266ca 40.5px,#2f8fc7 41.5px,#86c4cf 42.5px,#ecddd8 43.5px,#edaf9e 44.5px,#eaa18e 45.5px,#e99e8b 46.5px,#eaa390 47.5px,#edc6ba 48.5px,#b6d5da 49.5px,#379bc2 50.5px,#2368cb 51.5px,#246fcc 52.5px,#43a7bf 53.5px,#cfdee0 54.5px,#eeb5a5 55.5px,#e89a86 56.5px,#e89883 58.5px,#ecaa98 59.5px,#ece3e1 60.5px,#69b9c8 61.5px,#297fc9 62.5px,#2264ca 63.5px,#2f8ec7 64.5px,#8ec6d0 65.5px,#edd4cd 66.5px,#eaa391 67.5px,#e89782 68.5px,#e89782 69.5px,#e99d89 70.5px,#eec0b3 71.5px,#bcd7dc 72.5px,#399dc1 73.5px,#2369cb 74.5px,#246dcc 75.5px,#3fa5bf 76.5px,#c9dce0 77.5px,#eeb8a9 78.5px,#e89a86 79.5px,#e89783 81.5px,#eba896 82.5px,#ecdedb 83.5px,#75becb 84.5px,#2b85c8 85.5px,#2264ca 86.5px)}
.e7{background:linear-gradient(90deg,#246dcc 0.5px,#3396c5 1.5px,#6dbbc9 2.5px,#c0d9dd 3.5px,#dfe1e1 4.5px,#e7e3e2 5.5px,#e2e2e1 7.5px,#c6dbdf 8.5px,#83c3ce 9.5px,#389cc2 10.5px,#2572cc 11.5px,#236acb 12.5px,#2e8ec7 13.5px,#5bb2c5 14.5px,#b8d5db 15.5px,#dbe0e1 16.5px,#e8e3e2 17.5px,#e7e3e2 19.5px,#d1dee0 20.5px,#9acad3 21.5px,#3ba0c0 22.5px,#246fcc 23.5px,#215ec9 24.5px,#2574cb 25.5px,#3fa5be 26.5px,#b2d3d9 27.5px,#e6e3e2 28.5px,#edd8d2 29.5px,#edd4cd 31.5px,#ece3e0 32.5px,#b4d4d9 33.5px,#3ba0c0 34.5px,#215ec9 35.5px,#1c3b9d 36.5px,#1f50bb 37.5px,#3294c5 38.5px,#a1cdd5 39.5px,#ecdedb 40.5px,#edc3b7 41.5px,#eebeb0 43.5px,#edcbc1 44.5px,#c8dce0 45.5px,#3fa4bf 46.5px,#2055c4 47.5px,#19267a 48.5px,#1b308b 49.5px,#2573cb 50.5px,#7ec1cd 51.5px,#ece0dd 52.5px,#eebcae 53.5px,#eeb6a6 54.5px,#eeb6a6 55.5px,#eec1b4 56.5px,#dee1e1 57.5px,#59b1c4 58.5px,#2261ca 59.5px,#1a277d 60.5px,#1a277e 61.5px,#2263ca 62.5px,#5cb3c5 63.5px,#e0e1e1 64.5px,#eec0b3 65.5px,#eeb6a6 66.5px,#eeb6a6 67.5px,#eebdaf 68.5px,#ece2df 69.5px,#7abfcc 70.5px,#2471cc 71.5px,#1b2d88 72.5px,#192678 73.5px,#2054c3 74.5px,#3fa5bf 75.5px,#ccdde0 76.5px,#edc6ba 77.5px,#eeb7a7 78.5px,#eeb6a6 79.5px,#eebaab 80.5px,#edd7d1 81.5px,#a0cdd5 82.5px,#2b85c8 83.5px,#1c3492 84.5px,#192576 85.5px,#1f51bd 86.5px)}
.e8{background:linear-gradient(90deg,#bfd8dd 0.5px,#b7d5da 1.5px,#85c3cf 2.5px,#3ea3bf 3.5px,#2a82c9 4.5px,#2369cb 5.5px,#2572cc 6.5px,#3598c4 7.5px,#64b7c7 8.5px,#acd1d7 9.5px,#bdd8dc 10.5px,#bcd7dc 12.5px,#a3ced5 13.5px,#58b1c4 14.5px,#3294c5 15.5px,#246ecc 16.5px,#236bcb 17.5px,#2d89c8 18.5px,#44a8bf 19.5px,#8fc6d1 20.5px,#b7d5da 21.5px,#bbd7dc 22.5px,#bad6db 23.5px,#add1d7 24.5px,#6fbcca 25.5px,#3a9ec1 26.5px,#297fc9 27.5px,#246dcc 28.5px,#287cca 29.5px,#389cc2 30.5px,#63b6c7 31.5px,#96c9d2 32.5px,#a8cfd6 33.5px,#a7cfd6 34.5px,#9ccbd4 35.5px,#75becb 36.5px,#40a6be 37.5px,#3092c6 38.5px,#2778cb 39.5px,#277aca 40.5px,#3193c5 41.5px,#40a6be 42.5px,#6cbac9 43.5px,#86c4cf 44.5px,#8ac5d0 45.5px,#86c4cf 46.5px,#72bdcb 47.5px,#4eacc1 48.5px,#369ac3 49.5px,#2b84c8 50.5px,#287aca 51.5px,#2d8ac7 52.5px,#399ec1 53.5px,#76becb 55.5px,#83c2ce 56.5px,#83c3ce 57.5px,#7abfcc 58.5px,#5eb4c5 59.5px,#3ca1c0 60.5px,#2f8fc7 61.5px,#287bca 62.5px,#2a81c9 63.5px,#3497c4 64.5px,#45a8bf 65.5px,#6bbac9 66.5px,#80c1cd 67.5px,#83c3ce 68.5px,#80c2ce 69.5px,#6bbac9 70.5px,#46a9bf 71.5px,#3497c4 72.5px,#2a81c9 73.5px,#287bca 74.5px,#2f8ec7 75.5px,#3ca1c0 76.5px,#5db3c5 77.5px,#7abfcc 78.5px,#83c3ce 79.5px,#83c2ce 80.5px,#77becb 81.5px,#3a9ec1 83.5px,#2e8bc7 84.5px,#287bca 85.5px,#2a82c9 86.5px)}
.e9{background:linear-gradient(90deg,#c5dbdf 0.5px,#c1d9de 1.5px,#aed1d8 2.5px,#5fb4c6 3.5px,#3295c5 4.5px,#236ccb 5.5px,#2265ca 6.5px,#2a81c9 7.5px,#40a5be 8.5px,#91c7d1 9.5px,#bcd7dc 10.5px,#c4dbdf 11.5px,#c4dadf 13.5px,#b9d6db 14.5px,#81c2ce 15.5px,#3ba0c0 16.5px,#2779ca 17.5px,#2264ca 18.5px,#2470cc 19.5px,#3699c3 20.5px,#6cbac9 21.5px,#b3d3d9 22.5px,#c2dade 23.5px,#c4dadf 25.5px,#bfd8dd 26.5px,#a0ccd4 27.5px,#4fadc2 28.5px,#2d8ac7 29.5px,#2266ca 30.5px,#2265ca 31.5px,#2c87c8 32.5px,#49aac0 33.5px,#9acad3 34.5px,#bdd7dc 35.5px,#c3dade 37.5px,#c1d9de 38.5px,#b2d3d9 39.5px,#6bbac9 40.5px,#3598c4 41.5px,#236ccb 42.5px,#215ec9 43.5px,#246fcc 44.5px,#389cc2 45.5px,#74bdcb 46.5px,#b5d4da 47.5px,#c1d9de 48.5px,#c2d9de 50.5px,#bad6db 51.5px,#8bc5d0 52.5px,#3ea4bf 53.5px,#287bca 54.5px,#215fc9 55.5px,#2264ca 56.5px,#2e8cc7 57.5px,#53afc3 58.5px,#a2cdd5 59.5px,#bed8dd 60.5px,#c2d9de 62.5px,#bfd8dd 63.5px,#a9d0d6 64.5px,#5bb2c5 65.5px,#3092c6 66.5px,#2266ca 67.5px,#215ec9 68.5px,#2676cb 69.5px,#3ca1c0 70.5px,#83c3ce 71.5px,#b8d5db 72.5px,#c1d9de 73.5px,#c1d9de 75.5px,#b6d5da 76.5px,#7cc0cd 77.5px,#3a9ec1 78.5px,#2572cc 79.5px,#215dc9 80.5px,#2368cb 81.5px,#3294c5 82.5px,#64b6c7 83.5px,#b1d3d8 84.5px,#c0d9dd 85.5px,#c2d9de 86.5px)}
.e10{background:linear-gradient(90deg,#236ccb 0.5px,#2d8bc7 1.5px,#43a7bf 2.5px,#8bc5d0 3.5px,#b7d5da 4.5px,#bfd8dd 5.5px,#b9d6db 7.5px,#97c9d2 8.5px,#4fadc2 9.5px,#3092c6 10.5px,#246ecc 11.5px,#236acb 12.5px,#2b84c9 13.5px,#3da3bf 14.5px,#7ec1cd 15.5px,#b4d4d9 16.5px,#bed8dd 17.5px,#bbd7dc 19.5px,#a1cdd5 20.5px,#5bb2c5 21.5px,#3497c4 22.5px,#2573cb 23.5px,#236acb 24.5px,#297ec9 25.5px,#3a9fc1 26.5px,#6fbbca 27.5px,#add1d7 28.5px,#bbd6dc 29.5px,#b9d6db 31.5px,#a4ced5 32.5px,#64b7c7 33.5px,#379bc2 34.5px,#287cca 35.5px,#246dcc 36.5px,#287cca 37.5px,#379bc2 38.5px,#62b6c7 39.5px,#9fccd4 40.5px,#b6d4da 41.5px,#b6d5da 43.5px,#a5ced6 44.5px,#6cbac9 45.5px,#3ba0c1 46.5px,#2b85c8 47.5px,#2470cc 48.5px,#287aca 49.5px,#3598c4 50.5px,#57b0c4 51.5px,#93c8d2 52.5px,#b3d3d9 53.5px,#b5d4da 55.5px,#a9d0d7 56.5px,#76becb 57.5px,#3ea4bf 58.5px,#2d8bc7 59.5px,#2572cc 60.5px,#2677cb 61.5px,#3294c5 62.5px,#4cacc1 63.5px,#89c5d0 64.5px,#b1d2d8 65.5px,#b6d4da 67.5px,#afd2d8 68.5px,#81c2ce 69.5px,#44a8bf 70.5px,#3091c6 71.5px,#2574cb 72.5px,#2574cb 73.5px,#2f90c6 74.5px,#42a7be 75.5px,#7fc1cd 76.5px,#aed1d7 77.5px,#b6d4da 78.5px,#b1d3d8 80.5px,#8bc5d0 81.5px,#4fadc2 82.5px,#3295c5 83.5px,#2676cb 84.5px,#2573cc 85.5px,#2f8fc7 86.5px)}
.e11{background:linear-gradient(90deg,#bfd8dd 0.5px,#bbd7dc 1.5px,#9dcbd4 2.5px,#50adc2 3.5px,#2f8ec7 4.5px,#236bcb 5.5px,#246ecc 6.5px,#3395c5 7.5px,#5fb4c6 8.5px,#a9cfd6 9.5px,#bcd7dc 10.5px,#bfd8dd 12.5px,#b9d6db 13.5px,#8fc7d1 14.5px,#41a6be 15.5px,#2b84c8 16.5px,#2368cb 17.5px,#2471cc 18.5px,#3699c3 19.5px,#6cbac9 20.5px,#b3d3d9 21.5px,#c1d9de 22.5px,#c3dade 24.5px,#bad6db 25.5px,#7ec1cd 26.5px,#379ac3 27.5px,#2264ca 28.5px,#1f4cb6 29.5px,#215ec9 30.5px,#3395c5 31.5px,#79bfcc 32.5px,#c0d9dd 33.5px,#d1dee1 34.5px,#d3dfe1 36.5px,#bed8dd 37.5px,#64b6c7 38.5px,#2779ca 39.5px,#1c3999 40.5px,#19267b 41.5px,#1e47af 42.5px,#3194c5 43.5px,#91c7d1 44.5px,#d1dee1 45.5px,#e4e2e2 46.5px,#e5e3e2 47.5px,#e0e1e1 48.5px,#bcd7dc 49.5px,#45a8bf 50.5px,#215dc9 51.5px,#182474 52.5px,#17216b 53.5px,#1e49b2 54.5px,#379bc2 55.5px,#acd1d7 56.5px,#dbe0e1 57.5px,#e7e3e2 58.5px,#e7e3e2 59.5px,#dde1e1 60.5px,#b2d3d9 61.5px,#3a9ec1 62.5px,#1f4eb9 63.5px,#17226d 64.5px,#182371 65.5px,#2058c8 66.5px,#3fa5bf 67.5px,#b9d6db 68.5px,#e0e1e1 69.5px,#e7e3e2 70.5px,#e7e3e2 71.5px,#d7dfe1 72.5px,#9acbd3 73.5px,#3294c5 74.5px,#1d40a3 75.5px,#172168 76.5px,#19267a 77.5px,#2267ca 78.5px,#57b0c4 79.5px,#c2d9de 80.5px,#e3e2e2 81.5px,#e6e3e2 83.5px,#cedde0 84.5px,#7abfcc 85.5px,#297eca 86.5px)}
.e12{background:linear-gradient(90deg,#246ecc 0.5px,#389cc2 1.5px,#b2d3d9 2.5px,#eebcae 3.5px,#e27a61 4.5px,#dc634b 5.5px,#dc644c 6.5px,#e37e66 7.5px,#edc4b8 8.5px,#a3cdd5 9.5px,#3598c4 10.5px,#236ccb 11.5px,#2471cc 12.5px,#3ba0c0 13.5px,#bbd7dc 14.5px,#eeb4a4 15.5px,#e1765d 16.5px,#dc644c 17.5px,#dd674f 18.5px,#e58872 19.5px,#edd3cb 20.5px,#81c2ce 21.5px,#2e8dc7 22.5px,#2262ca 23.5px,#2369cb 24.5px,#379bc3 25.5px,#aed1d8 26.5px,#edc8bd 27.5px,#e7937f 28.5px,#e4866f 29.5px,#e68f79 30.5px,#eeb8a9 31.5px,#c3dade 32.5px,#3da2bf 33.5px,#2263ca 34.5px,#1d42a7 35.5px,#1f4db7 36.5px,#2a80c9 37.5px,#69b9c8 38.5px,#dae0e1 39.5px,#edc4b9 40.5px,#eebaac 41.5px,#edc4b8 42.5px,#e0e1e1 43.5px,#73bdcb 44.5px,#2a81c9 45.5px,#1d42a7 46.5px,#1a277e 47.5px,#1c3796 48.5px,#236acb 49.5px,#4aaac0 50.5px,#c0d9dd 51.5px,#ecdbd6 52.5px,#edd0c8 53.5px,#ecd9d3 54.5px,#c5dbdf 55.5px,#56b0c3 56.5px,#246fcc 57.5px,#1c3999 58.5px,#19267a 59.5px,#1c3999 60.5px,#246fcc 61.5px,#55b0c3 62.5px,#c5dbdf 63.5px,#ecd9d3 64.5px,#edd0c8 65.5px,#ecdbd6 66.5px,#c0d9dd 67.5px,#49aac0 68.5px,#2369cb 69.5px,#1c3593 70.5px,#19267a 71.5px,#1d3d9f 72.5px,#2778cb 73.5px,#62b5c6 74.5px,#ccdde0 75.5px,#edd7d0 76.5px,#edd0c8 77.5px,#ecdeda 78.5px,#bad6db 79.5px,#3fa5bf 80.5px,#2263ca 81.5px,#1b318d 82.5px,#19277b 83.5px,#1d43a9 84.5px,#2b85c8 85.5px,#77becb 86.5px)}
.e13{background:linear-gradient(90deg,#bfd8dd 0.5px,#bcd7dc 1.5px,#a6cfd6 2.5px,#60b4c6 3.5px,#3497c4 4.5px,#2571cc 5.5px,#236acb 6.5px,#2a82c9 7.5px,#3ea3bf 8.5px,#82c2ce 9.5px,#b5d4da 10.5px,#bed8dd 11.5px,#bed8dd 13.5px,#b6d5da 14.5px,#88c4cf 15.5px,#3fa5be 16.5px,#2b85c8 17.5px,#2368cb 18.5px,#236dcb 19.5px,#3193c6 20.5px,#58b1c4 21.5px,#a6cfd6 22.5px,#c0d9dd 23.5px,#c7dbe0 25.5px,#c5dbdf 26.5px,#b3d3d9 27.5px,#61b5c6 28.5px,#2e8dc7 29.5px,#2058c8 30.5px,#1e47ae 31.5px,#215ec9 32.5px,#3497c4 33.5px,#7fc1cd 34.5px,#c4dadf 35.5px,#dce0e1 36.5px,#e2e2e1 38.5px,#d2dee1 39.5px,#9eccd4 40.5px,#379bc2 41.5px,#1f53c0 42.5px,#19267b 43.5px,#1a287f 44.5px,#215dc9 45.5px,#3ea4bf 46.5px,#b7d5da 47.5px,#e6e3e2 48.5px,#ecdedb 49.5px,#ecdeda 50.5px,#ece2e0 51.5px,#c7dce0 52.5px,#61b5c6 53.5px,#246ecc 54.5px,#1a2c85 55.5px,#172169 56.5px,#1c3492 57.5px,#297eca 58.5px,#76becb 59.5px,#d1dee0 60.5px,#ece0dd 61.5px,#ecdeda 63.5px,#e2e2e1 64.5px,#aed1d7 65.5px,#389bc2 66.5px,#1f4db8 67.5px,#182370 68.5px,#182472 69.5px,#1f53c1 70.5px,#3b9fc1 71.5px,#b4d4d9 72.5px,#e5e2e2 73.5px,#ecdeda 74.5px,#ece1de 76.5px,#ccdde0 77.5px,#6ab9c9 78.5px,#2676cb 79.5px,#1b308c 80.5px,#172169 81.5px,#1b308c 82.5px,#277aca 83.5px,#7bc0cc 84.5px,#d6dfe1 85.5px,#ecdfdc 86.5px)}
.e14{background:linear-gradient(90deg,#bfd8dd 0.5px,#b8d5db 1.5px,#90c7d1 2.5px,#47a9c0 3.5px,#2e8dc7 4.5px,#236dcb 5.5px,#236bcb 6.5px,#2d89c8 7.5px,#41a7be 8.5px,#8ac5d0 9.5px,#b7d5da 10.5px,#bfd8dd 11.5px,#b9d6db 13.5px,#96c9d2 14.5px,#4eacc1 15.5px,#3091c6 16.5px,#246ecc 17.5px,#236bcb 18.5px,#2c86c8 19.5px,#3ea4bf 20.5px,#82c2ce 21.5px,#b4d4d9 22.5px,#bcd7dc 23.5px,#b7d5da 25.5px,#95c9d2 26.5px,#50aec2 27.5px,#3193c5 28.5px,#2470cc 29.5px,#236bcb 30.5px,#2a82c9 31.5px,#3ca1c0 32.5px,#72bdca 33.5px,#a9d0d6 34.5px,#b6d4da 35.5px,#b2d3d9 37.5px,#8ec6d1 38.5px,#50aec2 39.5px,#3295c5 40.5px,#2573cc 41.5px,#236bcb 42.5px,#297fc9 43.5px,#399ec1 44.5px,#66b7c7 45.5px,#9acbd3 46.5px,#afd2d8 47.5px,#b0d2d8 48.5px,#abd0d7 49.5px,#8bc5d0 50.5px,#52aec3 51.5px,#3396c4 52.5px,#2675cb 53.5px,#236bcb 54.5px,#287cca 55.5px,#379bc2 56.5px,#60b5c6 57.5px,#95c9d2 58.5px,#add1d7 59.5px,#b0d2d8 60.5px,#abd0d7 61.5px,#8fc7d1 62.5px,#57b1c4 63.5px,#3598c4 64.5px,#2778cb 65.5px,#236bcb 66.5px,#277aca 67.5px,#3699c3 68.5px,#5bb2c5 69.5px,#92c8d1 70.5px,#acd1d7 71.5px,#b0d2d8 72.5px,#acd1d7 73.5px,#92c8d2 74.5px,#5cb3c5 75.5px,#369ac3 76.5px,#287aca 77.5px,#236bcb 78.5px,#2777cb 79.5px,#3498c4 80.5px,#56b0c4 81.5px,#8ec6d0 82.5px,#abd0d7 83.5px,#b0d2d8 84.5px,#acd1d7 85.5px,#91c7d1 86.5px)}
.e15{background:linear-gradient(90deg,#236dcb 0.5px,#3193c6 1.5px,#58b1c4 2.5px,#a3ced5 3.5px,#bcd7dc 4.5px,#bfd8dd 6.5px,#bad6db 7.5px,#96c9d2 8.5px,#48aac0 9.5px,#2d89c8 10.5px,#236acb 11.5px,#2471cc 12.5px,#3598c4 13.5px,#66b8c8 14.5px,#aed1d8 15.5px,#bdd8dc 16.5px,#c0d8dd 18.5px,#b8d5db 19.5px,#88c4cf 20.5px,#3da2c0 21.5px,#2778cb 22.5px,#2160c9 23.5px,#236ccb 24.5px,#369ac3 25.5px,#77becb 26.5px,#bbd6dc 27.5px,#c9dce0 28.5px,#cddde0 30.5px,#bfd8dd 31.5px,#78bfcc 32.5px,#3194c5 33.5px,#2057c6 34.5px,#1d40a4 35.5px,#205bc8 36.5px,#3699c3 37.5px,#93c8d2 38.5px,#cfdee0 39.5px,#e3e2e1 40.5px,#e3e2e1 42.5px,#c3dade 43.5px,#60b5c6 44.5px,#2471cc 45.5px,#1b3492 46.5px,#1a277e 47.5px,#1f53c1 48.5px,#399ec1 49.5px,#b2d3d9 50.5px,#e2e2e1 51.5px,#ece1de 52.5px,#e8e3e2 54.5px,#bdd8dc 55.5px,#45a8bf 56.5px,#2160c9 57.5px,#1a2880 58.5px,#1a2880 59.5px,#215fc9 60.5px,#44a8bf 61.5px,#bdd7dc 62.5px,#e8e3e2 63.5px,#ece1de 65.5px,#e3e2e1 66.5px,#b2d3d9 67.5px,#399ec1 68.5px,#1f52bf 69.5px,#19267b 70.5px,#1b2f8b 71.5px,#246dcc 72.5px,#5eb4c6 73.5px,#c6dbdf 74.5px,#ebe4e2 75.5px,#ece2df 77.5px,#dbe0e1 78.5px,#9acad3 79.5px,#3194c5 80.5px,#1e45ab 81.5px,#192578 82.5px,#1c399a 83.5px,#2a81c9 84.5px,#7dc1cd 85.5px,#d3dee1 86.5px)}
.e16{background:linear-gradient(90deg,#bfd8dd 0.5px,#bbd7dc 1.5px,#a2cdd5 2.5px,#59b2c4 3.5px,#3294c5 4.5px,#246ecc 5.5px,#236bcb 6.5px,#2e8bc7 7.5px,#48aac0 8.5px,#94c8d2 9.5px,#b9d6db 10.5px,#bfd8dd 12.5px,#bdd7dc 13.5px,#aed1d8 14.5px,#69b9c8 15.5px,#369ac3 16.5px,#2573cb 17.5px,#2367cb 18.5px,#297dca 19.5px,#3da2c0 20.5px,#85c3cf 21.5px,#bad6db 22.5px,#c4dadf 23.5px,#c7dbe0 25.5px,#bcd7dc 26.5px,#7fc1cd 27.5px,#379ac3 28.5px,#2265ca 29.5px,#1e4cb5 30.5px,#215bc9 31.5px,#3193c6 32.5px,#74bdcb 33.5px,#c3dade 34.5px,#dee1e1 35.5px,#e6e3e2 37.5px,#d7dfe1 38.5px,#a5ced6 39.5px,#389cc2 40.5px,#2055c3 41.5px,#1a2881 42.5px,#1b3390 43.5px,#236ccb 44.5px,#59b2c4 45.5px,#c6dbdf 46.5px,#ecdfdb 47.5px,#edd8d3 48.5px,#edd8d2 49.5px,#ece1de 50.5px,#bdd7dc 51.5px,#3fa4bf 52.5px,#2059c8 53.5px,#192577 54.5px,#192577 55.5px,#2058c8 56.5px,#3ea4bf 57.5px,#bcd7dc 58.5px,#ece1de 59.5px,#edd7d1 60.5px,#edd7d1 61.5px,#ecddd8 62.5px,#c9dce0 63.5px,#5bb2c5 64.5px,#2369cb 65.5px,#1a2981 66.5px,#182371 67.5px,#1e48af 68.5px,#3598c4 69.5px,#acd1d7 70.5px,#e8e3e2 71.5px,#edd8d2 72.5px,#ecdad5 74.5px,#d8e0e1 75.5px,#7bc0cc 76.5px,#297dca 77.5px,#1b3492 78.5px,#18236f 79.5px,#1c399a 80.5px,#2c87c8 81.5px,#8ac5d0 82.5px,#dfe1e1 83.5px,#ecd9d3 84.5px,#ecd9d4 86.5px)}
.e17{background:linear-gradient(90deg,#2368cb 0.5px,#2e8dc7 1.5px,#4fadc2 2.5px,#99cad3 3.5px,#b8d5db 4.5px,#bbd7dc 6.5px,#b7d5da 7.5px,#99cad3 8.5px,#53afc3 9.5px,#3193c6 10.5px,#246fcc 11.5px,#246ecc 12.5px,#2f8fc7 13.5px,#49aac0 14.5px,#8bc5d0 15.5px,#b1d2d8 16.5px,#b4d4d9 18.5px,#b0d2d8 19.5px,#91c7d1 20.5px,#55b0c3 21.5px,#3496c4 22.5px,#2778cb 23.5px,#2675cb 24.5px,#3092c6 25.5px,#45a8bf 26.5px,#7dc1cd 27.5px,#a1cdd5 28.5px,#a9d0d6 29.5px,#a3cdd5 31.5px,#88c4cf 32.5px,#56b0c4 33.5px,#369ac3 34.5px,#2a82c9 35.5px,#297dca 36.5px,#3193c5 37.5px,#41a6be 38.5px,#71bcca 39.5px,#92c8d1 40.5px,#99cad3 41.5px,#94c8d2 43.5px,#7fc1cd 44.5px,#56b0c4 45.5px,#389dc2 46.5px,#2e8bc7 47.5px,#2c86c8 48.5px,#3fa5be 50.5px,#68b8c8 51.5px,#82c2ce 52.5px,#89c5d0 53.5px,#85c3cf 55.5px,#74bdcb 56.5px,#3b9fc1 58.5px,#3193c5 59.5px,#2f8ec7 60.5px,#3fa5bf 62.5px,#5fb4c6 63.5px,#73bdcb 64.5px,#7abfcc 65.5px,#76becb 67.5px,#6bbac9 68.5px,#3ca1c0 70.5px,#3498c4 71.5px,#3295c5 72.5px,#3fa4bf 74.5px,#58b1c4 75.5px,#67b8c8 76.5px,#6bbac9 78.5px,#62b6c7 80.5px,#3ea3bf 82.5px,#3599c3 84.5px,#3fa5be 86.5px)}
.e18{background:linear-gradient(90deg,#66b8c8 0.5px,#65b7c7 1.5px,#5db3c5 2.5px,#3ea3bf 4.5px,#3a9fc1 6.5px,#3fa5be 7.5px,#64b7c7 9.5px,#6ebbc9 11.5px,#6bbac9 13.5px,#5db3c5 14.5px,#43a7bf 15.5px,#399dc1 16.5px,#3598c3 17.5px,#389cc2 18.5px,#3fa5be 19.5px,#5db3c5 20.5px,#73bdcb 21.5px,#7dc0cd 22.5px,#80c1cd 24.5px,#74becb 25.5px,#3ca1c0 27.5px,#3294c5 28.5px,#2f8fc7 29.5px,#3599c3 30.5px,#45a8bf 31.5px,#6ebbc9 32.5px,#8cc6d0 33.5px,#95c9d2 34.5px,#95c9d2 36.5px,#7cc0cd 37.5px,#4eacc1 38.5px,#3497c4 39.5px,#297fc9 40.5px,#297fc9 41.5px,#3497c4 42.5px,#54afc3 43.5px,#8cc6d0 44.5px,#aad0d7 45.5px,#b1d3d8 47.5px,#aad0d7 48.5px,#7cc0cd 49.5px,#3ea3bf 50.5px,#2a81c9 51.5px,#2368cb 52.5px,#2571cc 53.5px,#369ac3 54.5px,#6bbac9 55.5px,#b1d2d8 56.5px,#bdd7dc 57.5px,#c0d9dd 59.5px,#b5d4da 60.5px,#6fbbca 61.5px,#3497c4 62.5px,#2264ca 63.5px,#2055c3 64.5px,#236ccb 65.5px,#3ba0c0 66.5px,#94c8d2 67.5px,#c4dbdf 68.5px,#d1dee1 69.5px,#d1dee1 71.5px,#b8d5db 72.5px,#57b1c4 73.5px,#2778cb 74.5px,#1e47af 75.5px,#1d43a8 76.5px,#246dcc 77.5px,#4cacc1 78.5px,#bbd7dc 79.5px,#e3e2e1 80.5px,#ece3e1 81.5px,#ece2df 82.5px,#e3e2e1 83.5px,#b4d4d9 84.5px,#3ca1c0 85.5px,#215cc9 86.5px)}
.e19{background:linear-gradient(90deg,#3ca0c0 0.5px,#3fa5bf 9.5px,#3ba0c0 15.5px,#48aac0 20.5px,#389cc2 25.5px,#41a6be 29.5px,#50adc2 31.5px,#4fadc2 32.5px,#3ba0c0 35.5px,#389cc2 38.5px,#3ea3bf 40.5px,#51aec2 42.5px,#56b0c3 43.5px,#53afc3 44.5px,#3ea4bf 46.5px,#379ac3 49.5px,#3fa5be 52.5px,#56b0c3 54.5px,#59b1c4 55.5px,#53afc3 56.5px,#3ea3bf 58.5px,#379bc2 61.5px,#42a7bf 64.5px,#58b1c4 66.5px,#58b1c4 67.5px,#3ea3bf 70.5px,#399dc2 73.5px,#3ea4bf 75.5px,#55b0c3 78.5px,#4cacc1 80.5px,#3ea3bf 82.5px,#3ba0c0 85.5px,#3da2bf 86.5px)}
.e20{background:linear-gradient(90deg,#215dc9 0.5px,#2470cc 1.5px,#3498c4 2.5px,#60b5c6 3.5px,#acd1d7 4.5px,#c2dade 5.5px,#bfd8dd 6.5px,#98cad3 7.5px,#4dacc1 8.5px,#3091c6 9.5px,#236bcb 10.5px,#215ec9 11.5px,#2263ca 12.5px,#297dca 13.5px,#3a9fc1 14.5px,#70bcca 15.5px,#b2d3d9 16.5px,#bfd8dd 17.5px,#b6d4da 18.5px,#7ec1cd 19.5px,#3ea4bf 20.5px,#2d89c8 21.5px,#236acb 22.5px,#2263ca 23.5px,#236ccb 24.5px,#2e8dc7 25.5px,#40a5be 26.5px,#7ec1cd 27.5px,#b2d3d9 28.5px,#b9d6db 29.5px,#a4ced5 30.5px,#67b8c8 31.5px,#3a9fc1 32.5px,#2b85c8 33.5px,#246dcc 34.5px,#236bcb 35.5px,#287aca 36.5px,#3497c4 37.5px,#4eadc2 38.5px,#86c3cf 39.5px,#add1d7 40.5px,#aed1d8 41.5px,#8ac5d0 42.5px,#55b0c3 43.5px,#379bc2 44.5px,#2574cb 46.5px,#2676cb 47.5px,#399ec1 49.5px,#59b2c4 50.5px,#85c3cf 51.5px,#9eccd4 52.5px,#96c9d2 53.5px,#70bcca 54.5px,#46a9c0 55.5px,#3699c3 56.5px,#2d8ac7 57.5px,#2a80c9 58.5px,#2c86c8 59.5px,#3ea3bf 61.5px,#7dc0cd 63.5px,#89c5cf 64.5px,#7bc0cc 65.5px,#3fa5be 67.5px,#3092c6 69.5px,#2f8fc7 70.5px,#399dc2 72.5px,#43a7bf 73.5px,#5db3c5 74.5px,#6dbbc9 75.5px,#70bcca 76.5px,#65b7c7 77.5px,#3ea3bf 79.5px,#3599c3 81.5px,#3da2c0 84.5px,#5ab2c5 86.5px)}
.e21{background:linear-gradient(90deg,#2a80c9 0.5px,#399dc1 2.5px,#50adc2 3.5px,#71bcca 4.5px,#86c4cf 5.5px,#7fc1cd 6.5px,#3fa4bf 8.5px,#2c88c8 10.5px,#2a80c9 11.5px,#2d88c8 12.5px,#3fa5be 14.5px,#61b5c6 15.5px,#7cc0cd 16.5px,#83c2ce 17.5px,#6ebbca 18.5px,#4fadc2 19.5px,#3a9ec1 20.5px,#2c86c8 22.5px,#2c86c8 23.5px,#3a9fc1 25.5px,#4fadc2 26.5px,#6dbac9 27.5px,#7ec1cd 28.5px,#77becc 29.5px,#5eb4c6 30.5px,#3fa5be 31.5px,#2f8fc7 33.5px,#2d88c8 34.5px,#369ac3 36.5px,#3fa5be 37.5px,#5db3c5 38.5px,#73bdcb 39.5px,#78bfcc 40.5px,#69b9c8 41.5px,#4eadc2 42.5px,#3ba0c0 43.5px,#2f8fc6 45.5px,#2f90c6 46.5px,#3ba0c0 48.5px,#4dacc1 49.5px,#65b7c7 50.5px,#71bcca 51.5px,#6dbbc9 52.5px,#5bb2c5 53.5px,#40a6be 54.5px,#3396c5 56.5px,#3396c4 58.5px,#3fa5be 60.5px,#56b0c4 61.5px,#66b8c8 62.5px,#6ab9c8 63.5px,#61b5c6 64.5px,#3da3bf 66.5px,#3598c4 68.5px,#389bc2 70.5px,#3da2c0 71.5px,#59b1c4 73.5px,#61b5c6 74.5px,#5fb4c6 75.5px,#44a8bf 77.5px,#399dc1 79.5px,#3ca1c0 82.5px,#40a6be 83.5px,#56b0c4 85.5px,#5ab2c4 86.5px)}
.e22{background:linear-gradient(90deg,#9dccd4 0.5px,#7cc0cd 1.5px,#4dacc1 2.5px,#369ac3 3.5px,#2573cb 5.5px,#2675cb 6.5px,#389cc2 8.5px,#54afc3 9.5px,#80c2ce 10.5px,#9ccbd4 11.5px,#96c9d2 12.5px,#72bdca 13.5px,#46a9c0 14.5px,#3598c4 15.5px,#2b83c9 16.5px,#2676cb 17.5px,#287bca 18.5px,#3b9fc1 20.5px,#5ab2c4 21.5px,#81c2ce 22.5px,#96c9d2 23.5px,#8cc6d0 24.5px,#40a6be 26.5px,#2b85c8 28.5px,#287cca 29.5px,#2a82c9 30.5px,#3da2c0 32.5px,#7fc1cd 34.5px,#8ec6d1 35.5px,#81c2ce 36.5px,#3ea4bf 38.5px,#2d89c8 40.5px,#2b83c9 41.5px,#3598c4 43.5px,#3fa5be 44.5px,#60b5c6 45.5px,#7ac0cc 46.5px,#83c3ce 47.5px,#73bdcb 48.5px,#3da2bf 50.5px,#2f8ec7 52.5px,#2e8bc7 53.5px,#389cc2 55.5px,#43a8bf 56.5px,#60b5c6 57.5px,#72bdcb 58.5px,#76becb 59.5px,#68b8c8 60.5px,#3da2c0 62.5px,#3294c5 64.5px,#3598c4 66.5px,#3ba0c0 67.5px,#48aac0 68.5px,#5db3c5 69.5px,#69b9c8 70.5px,#69b9c8 71.5px,#5db3c5 72.5px,#49aac0 73.5px,#3da2c0 74.5px,#3699c3 76.5px,#3ea3bf 79.5px,#57b1c4 81.5px,#5db3c5 82.5px,#5bb3c5 83.5px,#3da2c0 86.5px)}
.e23{background:linear-gradient(90deg,#bdd7dc 0.5px,#9ccbd4 1.5px,#53afc3 2.5px,#3295c5 3.5px,#246fcc 4.5px,#2160c9 5.5px,#2264ca 6.5px,#287cca 7.5px,#399dc2 8.5px,#6ab9c9 9.5px,#aed1d8 10.5px,#bdd7dc 11.5px,#b5d4da 12.5px,#7ec1cd 13.5px,#3fa4bf 14.5px,#2d8ac7 15.5px,#236bcb 16.5px,#2263ca 17.5px,#246dcc 18.5px,#2f8ec7 19.5px,#40a6be 20.5px,#80c1cd 21.5px,#b2d3d9 22.5px,#b8d5db 23.5px,#a0cdd5 24.5px,#62b6c7 25.5px,#399dc2 26.5px,#2a81c9 27.5px,#236ccb 28.5px,#236bcb 29.5px,#287cca 30.5px,#3699c3 31.5px,#55b0c3 32.5px,#8dc6d0 33.5px,#b0d2d8 34.5px,#acd1d7 35.5px,#82c2ce 36.5px,#4cabc1 37.5px,#3497c4 38.5px,#297fc9 39.5px,#2471cc 40.5px,#2677cb 41.5px,#3ca1c0 43.5px,#90c7d1 45.5px,#a3cdd5 46.5px,#92c8d2 47.5px,#3ea4bf 49.5px,#2a82c9 51.5px,#287cca 52.5px,#2c87c8 53.5px,#44a8bf 55.5px,#6bbac9 56.5px,#8ac5d0 57.5px,#8ec6d1 58.5px,#77becb 59.5px,#54afc3 60.5px,#3ba0c0 61.5px,#2d8ac7 63.5px,#2e8bc7 64.5px,#3ba0c0 66.5px,#50adc2 67.5px,#6ab9c9 68.5px,#7abfcc 69.5px,#75becb 70.5px,#61b5c6 71.5px,#46a9bf 72.5px,#3a9ec1 73.5px,#3295c5 75.5px,#399dc2 77.5px,#3fa5be 78.5px,#62b6c7 80.5px,#66b8c8 81.5px,#5fb4c6 82.5px,#40a5be 84.5px,#379bc2 86.5px)}
.e24{background:linear-gradient(90deg,#399dc2 0.5px,#49aac0 6.5px,#389cc2 12.5px,#3fa5be 16.5px,#4dacc1 18.5px,#47a9c0 20.5px,#3ca1c0 22.5px,#379bc2 25.5px,#3fa5be 28.5px,#52aec2 30.5px,#53afc3 31.5px,#3ca2c0 34.5px,#369ac3 37.5px,#40a6be 40.5px,#56b0c4 42.5px,#57b1c4 43.5px,#50adc2 44.5px,#43a7bf 45.5px,#369ac3 48.5px,#3da2c0 51.5px,#44a8bf 52.5px,#52aec2 53.5px,#59b2c4 54.5px,#59b1c4 55.5px,#42a7be 57.5px,#379bc3 60.5px,#3ea3bf 63.5px,#54afc3 65.5px,#59b2c4 66.5px,#57b1c4 67.5px,#40a6be 69.5px,#389cc2 72.5px,#3fa5be 75.5px,#53afc3 77.5px,#56b0c3 78.5px,#4aabc0 80.5px,#40a6be 81.5px,#3b9fc1 84.5px,#3ea3bf 86.5px)}
.e25{background:linear-gradient(90deg,#215cc9 0.5px,#246fcc 1.5px,#3497c4 2.5px,#61b5c6 3.5px,#afd2d8 4.5px,#c4dadf 5.5px,#c0d9dd 6.5px,#9acad3 7.5px,#4cacc1 8.5px,#2f90c6 9.5px,#236acb 10.5px,#215dc9 11.5px,#2262ca 12.5px,#297dca 13.5px,#3a9fc1 14.5px,#72bdca 15.5px,#b4d4d9 16.5px,#c1d9de 17.5px,#b7d5da 18.5px,#7ec1cd 19.5px,#3ea3bf 20.5px,#2c87c8 21.5px,#2369cb 22.5px,#2262ca 23.5px,#236ccb 24.5px,#2e8dc7 25.5px,#40a6be 26.5px,#82c2ce 27.5px,#b4d4d9 28.5px,#bad6db 29.5px,#a5ced6 30.5px,#66b7c8 31.5px,#399ec1 32.5px,#2b83c9 33.5px,#236ccb 34.5px,#236acb 35.5px,#287aca 36.5px,#3498c4 37.5px,#51aec2 38.5px,#89c5d0 39.5px,#b0d2d8 40.5px,#afd2d8 41.5px,#8ac5d0 42.5px,#53afc3 43.5px,#369ac3 44.5px,#2b83c9 45.5px,#2573cc 46.5px,#2676cb 47.5px,#3a9fc1 49.5px,#5cb3c5 50.5px,#88c4cf 51.5px,#a0ccd4 52.5px,#96c9d2 53.5px,#6fbcca 54.5px,#44a8bf 55.5px,#3598c3 56.5px,#2c88c8 57.5px,#297fc9 58.5px,#2c86c8 59.5px,#3ea4bf 61.5px,#7fc1cd 63.5px,#8ac5d0 64.5px,#7bc0cc 65.5px,#3ea4bf 67.5px,#3092c6 69.5px,#2f8fc7 70.5px,#399dc1 72.5px,#45a8bf 73.5px,#5fb4c6 74.5px,#6fbbca 75.5px,#70bcca 76.5px,#64b7c7 77.5px,#3da3bf 79.5px,#3598c3 81.5px,#3da3bf 84.5px,#5bb3c5 86.5px)}
.e26{background:linear-gradient(90deg,#2c87c8 0.5px,#3a9ec1 2.5px,#4dacc1 3.5px,#6ab9c8 4.5px,#7abfcc 5.5px,#73bdcb 6.5px,#3ea4bf 8.5px,#2e8dc7 10.5px,#2c87c8 11.5px,#3699c3 13.5px,#3fa5be 14.5px,#5db3c5 15.5px,#72bdcb 16.5px,#77becb 17.5px,#66b8c8 18.5px,#4aabc0 19.5px,#399ec1 20.5px,#2d8bc7 22.5px,#2e8cc7 23.5px,#3ba0c0 25.5px,#68b9c8 27.5px,#75becb 28.5px,#6dbbc9 29.5px,#3ea4bf 31.5px,#3092c6 33.5px,#2e8dc7 34.5px,#389cc2 36.5px,#41a6be 37.5px,#5cb3c5 38.5px,#6ebbc9 39.5px,#6fbcca 40.5px,#62b5c6 41.5px,#49aac0 42.5px,#3a9fc1 43.5px,#3092c6 45.5px,#3599c3 47.5px,#3ca2c0 48.5px,#64b6c7 50.5px,#6cbac9 51.5px,#67b8c8 52.5px,#3fa5bf 54.5px,#3396c4 56.5px,#3598c4 58.5px,#42a7be 60.5px,#57b1c4 61.5px,#64b7c7 62.5px,#66b7c8 63.5px,#5cb3c5 64.5px,#49aac0 65.5px,#3da2c0 66.5px,#3598c3 68.5px,#399dc2 70.5px,#3ea3bf 71.5px,#59b2c4 73.5px,#5fb4c6 74.5px,#5cb3c5 75.5px,#41a6be 77.5px,#389cc2 80.5px,#41a7be 83.5px,#56b0c4 85.5px,#58b1c4 86.5px)}
.e27{background:linear-gradient(90deg,#a7cfd6 0.5px,#83c2ce 1.5px,#4fadc2 2.5px,#3599c3 3.5px,#297fc9 4.5px,#246fcc 5.5px,#2470cc 6.5px,#389cc2 8.5px,#57b1c4 9.5px,#89c5cf 10.5px,#a6cfd6 11.5px,#9fccd4 12.5px,#77becb 13.5px,#46a9bf 14.5px,#3496c4 15.5px,#297fc9 16.5px,#2471cc 17.5px,#2676cb 18.5px,#3ba0c1 20.5px,#5eb4c6 21.5px,#8ac5d0 22.5px,#a0ccd4 23.5px,#93c8d2 24.5px,#3fa5be 26.5px,#2a80c9 28.5px,#2677cb 29.5px,#297fc9 30.5px,#3ea3bf 32.5px,#88c4cf 34.5px,#96c9d2 35.5px,#86c3cf 36.5px,#3da3bf 38.5px,#2b84c8 40.5px,#297fc9 41.5px,#3598c3 43.5px,#40a6be 44.5px,#65b7c7 45.5px,#82c2ce 46.5px,#89c5d0 47.5px,#76becb 48.5px,#3ca1c0 50.5px,#2d8bc7 52.5px,#2d89c8 53.5px,#389dc2 55.5px,#47a9c0 56.5px,#65b7c7 57.5px,#78bfcc 58.5px,#7abfcc 59.5px,#69b9c8 60.5px,#4eadc2 61.5px,#3ca0c0 62.5px,#3193c6 64.5px,#3598c4 66.5px,#3ca1c0 67.5px,#4babc1 68.5px,#61b5c6 69.5px,#6cbac9 70.5px,#6ab9c9 71.5px,#5db3c5 72.5px,#47a9c0 73.5px,#3ca1c0 74.5px,#3598c4 76.5px,#3ea4bf 79.5px,#59b2c4 81.5px,#5fb4c6 82.5px,#5cb3c5 83.5px,#43a7bf 85.5px,#3ca1c0 86.5px)}
.e28{background:linear-gradient(90deg,#bad6db 0.5px,#97cad3 1.5px,#52aec2 2.5px,#3295c5 3.5px,#2471cc 4.5px,#2262ca 5.5px,#2266ca 6.5px,#297ec9 7.5px,#399ec1 8.5px,#69b9c8 9.5px,#aad0d7 10.5px,#bad6db 11.5px,#b2d3d9 12.5px,#7abfcc 13.5px,#3ea4bf 14.5px,#2d8bc7 15.5px,#236dcb 16.5px,#2266ca 17.5px,#246fcc 18.5px,#2f90c6 19.5px,#41a6be 20.5px,#7ec1cd 21.5px,#b0d2d8 22.5px,#b5d4da 23.5px,#9acbd3 24.5px,#5fb4c6 25.5px,#389cc2 26.5px,#2a82c9 27.5px,#246dcc 28.5px,#236dcb 29.5px,#297fc9 30.5px,#369ac3 31.5px,#56b0c3 32.5px,#8bc5d0 33.5px,#acd1d7 34.5px,#a7cfd6 35.5px,#7dc1cd 36.5px,#49aac0 37.5px,#3497c4 38.5px,#2a80c9 39.5px,#2573cb 40.5px,#2779ca 41.5px,#3091c6 42.5px,#3da2c0 43.5px,#8fc7d1 45.5px,#9fccd4 46.5px,#8dc6d0 47.5px,#3ea3bf 49.5px,#2b83c9 51.5px,#297ec9 52.5px,#369ac3 54.5px,#46a9c0 55.5px,#6bbac9 56.5px,#88c4cf 57.5px,#8ac5d0 58.5px,#72bdca 59.5px,#51aec2 60.5px,#3b9fc1 61.5px,#2e8bc7 63.5px,#2e8dc7 64.5px,#3ca1c0 66.5px,#6bb9c9 68.5px,#78bfcc 69.5px,#72bdca 70.5px,#5eb4c6 71.5px,#44a8bf 72.5px,#3497c4 74.5px,#3498c4 76.5px,#40a6be 78.5px,#54afc3 79.5px,#62b6c7 80.5px,#65b7c7 81.5px,#5eb4c5 82.5px,#3fa5be 84.5px,#379bc2 86.5px)}
.e29{background:linear-gradient(90deg,#3699c3 0.5px,#3fa5bf 3.5px,#51aec2 5.5px,#53afc3 6.5px,#3da2c0 9.5px,#3599c3 12.5px,#3ea3bf 15.5px,#51aec2 17.5px,#55b0c3 18.5px,#52aec2 19.5px,#3ea3bf 21.5px,#3598c3 24.5px,#3da3bf 27.5px,#53afc3 29.5px,#59b1c4 30.5px,#56b0c3 31.5px,#3fa4bf 33.5px,#3598c4 36.5px,#3da3bf 39.5px,#55b0c3 41.5px,#5bb3c5 42.5px,#58b1c4 43.5px,#3fa5be 45.5px,#3599c3 48.5px,#3ea4bf 51.5px,#58b1c4 53.5px,#5db3c5 54.5px,#59b1c4 55.5px,#3fa5bf 57.5px,#369ac3 60.5px,#3fa5be 63.5px,#58b1c4 65.5px,#5bb2c5 66.5px,#56b0c4 67.5px,#3fa5bf 69.5px,#389cc2 72.5px,#42a7be 75.5px,#56b0c3 77.5px,#57b0c4 78.5px,#3fa5bf 81.5px,#3a9fc1 84.5px,#3ea4bf 86.5px)}
.e30{background:linear-gradient(90deg,#205bc8 0.5px,#246ecc 1.5px,#3497c4 2.5px,#61b5c6 3.5px,#b0d2d8 4.5px,#c5dbdf 5.5px,#c1d9de 6.5px,#9bcbd3 7.5px,#4cacc1 8.5px,#2f8fc6 9.5px,#2369cb 10.5px,#215cc9 11.5px,#2262ca 12.5px,#297dca 13.5px,#3b9fc1 14.5px,#74bdcb 15.5px,#b5d4da 16.5px,#c2d9de 17.5px,#b7d5da 18.5px,#7ec1cd 19.5px,#3ea3bf 20.5px,#2c86c8 21.5px,#2368cb 22.5px,#2261ca 23.5px,#236ccb 24.5px,#2f8ec7 25.5px,#42a7be 26.5px,#84c3ce 27.5px,#b5d4da 28.5px,#bad6db 29.5px,#a5ced6 30.5px,#65b7c7 31.5px,#399dc2 32.5px,#2a81c9 33.5px,#236bcb 34.5px,#2369cb 35.5px,#287aca 36.5px,#3598c4 37.5px,#53afc3 38.5px,#8cc6d0 39.5px,#b1d2d8 40.5px,#b0d2d8 41.5px,#89c4cf 42.5px,#51aec2 43.5px,#3699c3 44.5px,#2a81c9 45.5px,#2572cc 46.5px,#2676cb 47.5px,#3b9fc1 49.5px,#5eb4c6 50.5px,#8bc5d0 51.5px,#a1cdd5 52.5px,#96c9d2 53.5px,#42a7bf 55.5px,#2c87c8 57.5px,#297fc9 58.5px,#2c87c8 59.5px,#3fa5be 61.5px,#81c2ce 63.5px,#8bc5d0 64.5px,#7abfcc 65.5px,#3ea3bf 67.5px,#2f91c6 69.5px,#2f8ec7 70.5px,#3a9ec1 72.5px,#47a9c0 73.5px,#61b5c6 74.5px,#70bcca 75.5px,#70bcca 76.5px,#63b6c7 77.5px,#3da2c0 79.5px,#3598c4 81.5px,#3ea3bf 84.5px,#5db3c5 86.5px)}
.e31{background:linear-gradient(90deg,#2e8ec7 0.5px,#3a9fc1 2.5px,#4aabc1 3.5px,#63b6c7 4.5px,#6ebbc9 5.5px,#69b9c8 6.5px,#3ea3bf 8.5px,#3092c6 10.5px,#2e8ec7 11.5px,#379bc2 13.5px,#40a5be 14.5px,#59b2c4 15.5px,#6ab9c9 16.5px,#6cbac9 17.5px,#5eb4c5 18.5px,#45a8bf 19.5px,#3395c5 21.5px,#2f90c6 22.5px,#3598c4 24.5px,#3ca2c0 25.5px,#64b6c7 27.5px,#6cbac9 28.5px,#65b7c7 29.5px,#3da2bf 31.5px,#3193c5 33.5px,#3396c4 35.5px,#44a8bf 37.5px,#5bb2c5 38.5px,#69b9c8 39.5px,#68b9c8 40.5px,#5ab2c5 41.5px,#43a7bf 42.5px,#3497c4 44.5px,#3395c5 46.5px,#3ea3bf 48.5px,#62b5c6 50.5px,#68b8c8 51.5px,#61b5c6 52.5px,#3ea3bf 54.5px,#3497c4 56.5px,#369ac3 58.5px,#45a8bf 60.5px,#58b1c4 61.5px,#62b6c7 62.5px,#62b6c6 63.5px,#57b0c4 64.5px,#45a8bf 65.5px,#389bc2 67.5px,#379ac3 69.5px,#3fa4bf 71.5px,#59b2c4 73.5px,#5db3c5 74.5px,#59b1c4 75.5px,#3fa5be 77.5px,#399dc2 80.5px,#44a8bf 83.5px,#56b0c3 85.5px,#57b0c4 86.5px)}
.e32{background:linear-gradient(90deg,#b0d2d8 0.5px,#8ac5d0 1.5px,#51aec2 2.5px,#3598c4 3.5px,#287bca 4.5px,#236bcb 5.5px,#236dcb 6.5px,#2a82c9 7.5px,#389cc2 8.5px,#5bb2c5 9.5px,#91c7d1 10.5px,#b0d2d8 11.5px,#a7cfd6 12.5px,#7bc0cc 13.5px,#46a9bf 14.5px,#3395c5 15.5px,#287aca 16.5px,#246dcc 17.5px,#2573cc 18.5px,#3ba0c0 20.5px,#62b6c7 21.5px,#93c8d2 22.5px,#a8cfd6 23.5px,#9acad3 24.5px,#3fa5bf 26.5px,#3194c5 27.5px,#287cca 28.5px,#2573cc 29.5px,#287cca 30.5px,#3193c5 31.5px,#3ea4bf 32.5px,#90c7d1 34.5px,#9dccd4 35.5px,#8ac5d0 36.5px,#3da2c0 38.5px,#2a80c9 40.5px,#287cca 41.5px,#2c87c8 42.5px,#43a8bf 44.5px,#6ab9c9 45.5px,#89c5cf 46.5px,#8fc7d1 47.5px,#79bfcc 48.5px,#56b0c3 49.5px,#3ba0c0 50.5px,#2c87c8 52.5px,#2c86c8 53.5px,#399dc2 55.5px,#4aabc1 56.5px,#69b9c8 57.5px,#7ec1cd 58.5px,#7ec1cd 59.5px,#69b9c8 60.5px,#4cacc1 61.5px,#3b9fc1 62.5px,#3091c6 64.5px,#3598c4 66.5px,#3ca1c0 67.5px,#64b7c7 69.5px,#6fbcca 70.5px,#6cbac9 71.5px,#5cb3c5 72.5px,#45a9bf 73.5px,#369ac3 75.5px,#3699c3 77.5px,#3fa4bf 79.5px,#5cb3c5 81.5px,#60b5c6 82.5px,#5db3c5 83.5px,#41a7be 85.5px,#3ca1c0 86.5px)}
.e33{background:linear-gradient(90deg,#b7d5da 0.5px,#92c8d1 1.5px,#51aec2 2.5px,#3395c5 3.5px,#2574cb 4.5px,#2265ca 5.5px,#2369cb 6.5px,#2a81c9 7.5px,#3a9ec1 8.5px,#67b8c8 9.5px,#a4ced5 10.5px,#b7d5da 11.5px,#add1d7 12.5px,#75becb 13.5px,#3ea3bf 14.5px,#2e8cc7 15.5px,#246fcc 16.5px,#2368cb 17.5px,#2572cc 18.5px,#3092c6 19.5px,#42a7be 20.5px,#7cc0cd 21.5px,#abd0d7 22.5px,#b2d3d9 23.5px,#94c8d2 24.5px,#5cb3c5 25.5px,#389cc2 26.5px,#2b83c9 27.5px,#246fcc 28.5px,#246fcc 29.5px,#379bc2 31.5px,#56b0c4 32.5px,#89c5cf 33.5px,#a7cfd6 34.5px,#a0cdd5 35.5px,#77bfcc 36.5px,#46a9c0 37.5px,#3497c4 38.5px,#2a81c9 39.5px,#2675cb 40.5px,#287dca 41.5px,#3193c6 42.5px,#3ea3bf 43.5px,#8cc6d0 45.5px,#9acad3 46.5px,#88c4cf 47.5px,#3da2c0 49.5px,#2b84c8 51.5px,#2a81c9 52.5px,#379bc2 54.5px,#48aac0 55.5px,#6bbac9 56.5px,#85c3cf 57.5px,#86c4cf 58.5px,#6ebbca 59.5px,#4eacc2 60.5px,#3a9fc1 61.5px,#2e8dc7 63.5px,#3497c4 65.5px,#3da2c0 66.5px,#6ab9c9 68.5px,#76becb 69.5px,#6fbbca 70.5px,#5cb3c5 71.5px,#41a7be 72.5px,#3497c4 74.5px,#3598c3 76.5px,#41a6be 78.5px,#55b0c3 79.5px,#62b5c6 80.5px,#64b6c7 81.5px,#5cb3c5 82.5px,#3fa4bf 84.5px,#379bc2 86.5px)}
.e34{background:linear-gradient(90deg,#3396c5 0.5px,#40a6be 3.5px,#51aec2 4.5px,#5bb3c5 5.5px,#5cb3c5 6.5px,#54afc3 7.5px,#43a7bf 8.5px,#3396c4 11.5px,#3599c3 13.5px,#3fa5be 15.5px,#5bb2c5 17.5px,#5eb4c5 18.5px,#56b0c4 19.5px,#3ca2c0 21.5px,#3396c4 24.5px,#3fa5bf 27.5px,#5cb3c5 29.5px,#5fb4c6 30.5px,#58b1c4 31.5px,#3da2bf 33.5px,#3396c4 36.5px,#3fa5be 39.5px,#5db3c5 41.5px,#60b5c6 42.5px,#59b2c4 43.5px,#3da3bf 45.5px,#3497c4 48.5px,#40a6be 51.5px,#5db3c5 53.5px,#60b5c6 54.5px,#58b1c4 55.5px,#3da3bf 57.5px,#3599c3 60.5px,#43a7bf 63.5px,#52aec3 64.5px,#5cb3c5 65.5px,#5db3c5 66.5px,#55b0c3 67.5px,#3ea3bf 69.5px,#389cc2 72.5px,#3ea3bf 74.5px,#58b1c4 77.5px,#57b1c4 78.5px,#3ea4bf 81.5px,#3a9fc1 84.5px,#3fa5be 86.5px)}
.e35{background:linear-gradient(90deg,#205bc8 0.5px,#246ecc 1.5px,#3497c4 2.5px,#62b6c6 3.5px,#b1d2d8 4.5px,#c5dbdf 5.5px,#c1d9de 6.5px,#9bcbd3 7.5px,#4cabc1 8.5px,#2f8fc7 9.5px,#2369cb 10.5px,#215bc9 11.5px,#2262ca 12.5px,#297dca 13.5px,#3ba0c1 14.5px,#76becb 15.5px,#b6d4da 16.5px,#c2dade 17.5px,#b7d5da 18.5px,#7dc0cd 19.5px,#3da3bf 20.5px,#2b85c8 21.5px,#2368cb 22.5px,#2161c9 23.5px,#236ccb 24.5px,#2f8fc7 25.5px,#43a8bf 26.5px,#86c4cf 27.5px,#b6d4da 28.5px,#bbd6dc 29.5px,#a4ced5 30.5px,#63b6c7 31.5px,#389dc2 32.5px,#2a80c9 33.5px,#236bcb 34.5px,#2369cb 35.5px,#287bca 36.5px,#3599c3 37.5px,#55afc3 38.5px,#8fc6d1 39.5px,#b1d3d8 40.5px,#b0d2d8 41.5px,#87c4cf 42.5px,#50adc2 43.5px,#3598c3 44.5px,#2a80c9 45.5px,#2471cc 46.5px,#2676cb 47.5px,#3ba0c0 49.5px,#60b5c6 50.5px,#8dc6d0 51.5px,#a2cdd5 52.5px,#95c9d2 53.5px,#40a6be 55.5px,#2c86c8 57.5px,#297ec9 58.5px,#2c87c8 59.5px,#40a6be 61.5px,#65b7c7 62.5px,#83c3ce 63.5px,#8bc5d0 64.5px,#79bfcc 65.5px,#3da3bf 67.5px,#2f90c6 69.5px,#2f8ec7 70.5px,#3a9fc1 72.5px,#49aac0 73.5px,#63b6c7 74.5px,#71bcca 75.5px,#70bcca 76.5px,#62b6c7 77.5px,#4cabc1 78.5px,#3da2c0 79.5px,#3598c4 81.5px,#3ea4bf 84.5px,#5eb4c5 86.5px)}
.e36{background:linear-gradient(90deg,#3193c5 0.5px,#3ba0c0 2.5px,#47a9c0 3.5px,#5bb2c5 4.5px,#64b6c7 5.5px,#5fb4c6 6.5px,#3da3bf 8.5px,#3295c5 10.5px,#3496c4 12.5px,#40a6be 14.5px,#55b0c3 15.5px,#62b6c7 16.5px,#62b6c7 17.5px,#56b0c3 18.5px,#40a6be 19.5px,#3194c5 22.5px,#379bc2 24.5px,#3ea3bf 25.5px,#5fb4c6 27.5px,#64b7c7 28.5px,#5cb3c5 29.5px,#3ca1c0 31.5px,#3395c5 33.5px,#3699c3 35.5px,#46a9c0 37.5px,#5ab2c4 38.5px,#64b6c7 39.5px,#61b5c6 40.5px,#3fa5be 42.5px,#3598c4 44.5px,#3598c4 46.5px,#3fa5be 48.5px,#60b5c6 50.5px,#63b6c7 51.5px,#5ab2c5 52.5px,#3da2c0 54.5px,#3598c4 56.5px,#389cc2 58.5px,#3da2c0 59.5px,#58b1c4 61.5px,#60b5c6 62.5px,#5eb4c5 63.5px,#40a6be 65.5px,#369ac3 68.5px,#40a6be 71.5px,#59b1c4 73.5px,#5bb2c5 74.5px,#55b0c3 75.5px,#3fa4bf 77.5px,#399ec1 80.5px,#3ea4bf 82.5px,#55b0c3 85.5px,#55b0c3 86.5px)}
.e37{background:linear-gradient(90deg,#b4d4d9 0.5px,#90c7d1 1.5px,#52aec3 2.5px,#3497c4 3.5px,#2778cb 4.5px,#2368cb 5.5px,#2369cb 6.5px,#297fc9 7.5px,#389cc2 8.5px,#5eb4c5 9.5px,#98cad3 10.5px,#b4d4d9 11.5px,#afd2d8 12.5px,#7fc1cd 13.5px,#45a9bf 14.5px,#3294c5 15.5px,#2676cb 16.5px,#236acb 17.5px,#246fcc 18.5px,#3ba0c0 20.5px,#67b8c8 21.5px,#9acbd3 22.5px,#b0d2d8 23.5px,#a0ccd4 24.5px,#3ea4bf 26.5px,#3092c6 27.5px,#2778cb 28.5px,#246fcc 29.5px,#277aca 30.5px,#3193c6 31.5px,#3fa5bf 32.5px,#6cbac9 33.5px,#98cad3 34.5px,#a4ced5 35.5px,#8ec6d0 36.5px,#61b5c6 37.5px,#3ca1c0 38.5px,#287dca 40.5px,#2779ca 41.5px,#2c85c8 42.5px,#3599c3 43.5px,#46a9c0 44.5px,#6fbbca 45.5px,#90c7d1 46.5px,#94c8d2 47.5px,#7ac0cc 48.5px,#55afc3 49.5px,#3a9fc1 50.5px,#2b84c8 52.5px,#2b84c8 53.5px,#399ec1 55.5px,#4eacc1 56.5px,#6dbbc9 57.5px,#83c3ce 58.5px,#81c2ce 59.5px,#69b9c8 60.5px,#4babc1 61.5px,#3a9ec1 62.5px,#2f8fc7 64.5px,#3598c4 66.5px,#3da2c0 67.5px,#68b8c8 69.5px,#72bdca 70.5px,#6dbbc9 71.5px,#5cb3c5 72.5px,#43a8bf 73.5px,#3599c3 75.5px,#3599c3 77.5px,#3fa5be 79.5px,#5eb4c5 81.5px,#62b6c6 82.5px,#5db3c5 83.5px,#40a6be 85.5px,#3ba0c0 86.5px)}
.e38{background:linear-gradient(90deg,#b3d3d9 0.5px,#8cc6d0 1.5px,#4fadc2 2.5px,#3396c4 3.5px,#2677cb 4.5px,#2368cb 5.5px,#236ccb 6.5px,#2b84c8 7.5px,#3a9fc1 8.5px,#66b7c7 9.5px,#9eccd4 10.5px,#b3d3d9 11.5px,#a6ced6 12.5px,#70bcca 13.5px,#3ea3bf 14.5px,#2471cc 16.5px,#236bcb 17.5px,#2676cb 18.5px,#3194c5 19.5px,#43a7bf 20.5px,#79bfcc 21.5px,#a5ced6 22.5px,#acd1d7 23.5px,#8dc6d0 24.5px,#59b1c4 25.5px,#389cc2 26.5px,#2572cc 28.5px,#2573cc 29.5px,#389cc2 31.5px,#57b0c4 32.5px,#86c4cf 33.5px,#a1cdd5 34.5px,#99cad3 35.5px,#71bcca 36.5px,#43a8bf 37.5px,#3497c4 38.5px,#2b82c9 39.5px,#2778cb 40.5px,#2a80c9 41.5px,#3ea4bf 43.5px,#89c5cf 45.5px,#95c9d2 46.5px,#82c2ce 47.5px,#3ca1c0 49.5px,#2c86c8 51.5px,#2b83c9 52.5px,#389cc2 54.5px,#4aabc1 55.5px,#6bbac9 56.5px,#82c2ce 57.5px,#81c2ce 58.5px,#6ab9c9 59.5px,#4babc1 60.5px,#3a9ec1 61.5px,#2f8ec7 63.5px,#3599c3 65.5px,#3da3bf 66.5px,#6ab9c8 68.5px,#73bdcb 69.5px,#6cbac9 70.5px,#40a6be 72.5px,#3598c4 74.5px,#3699c3 76.5px,#43a7bf 78.5px,#56b0c3 79.5px,#61b5c6 80.5px,#62b6c7 81.5px,#5ab2c4 82.5px,#3ea4bf 84.5px,#379bc2 86.5px)}
.e39{background:linear-gradient(90deg,#3092c6 0.5px,#43a7bf 3.5px,#59b1c4 4.5px,#66b7c7 5.5px,#66b7c8 6.5px,#5ab2c4 7.5px,#44a8bf 8.5px,#3497c4 10.5px,#3093c6 12.5px,#42a7be 15.5px,#58b1c4 16.5px,#65b7c7 17.5px,#66b7c7 18.5px,#5bb2c5 19.5px,#46a9c0 20.5px,#3598c4 22.5px,#3193c6 24.5px,#42a7be 27.5px,#57b1c4 28.5px,#64b7c7 29.5px,#66b7c7 30.5px,#5bb2c5 31.5px,#47a9c0 32.5px,#3699c3 34.5px,#3294c5 36.5px,#43a7bf 39.5px,#58b1c4 40.5px,#64b7c7 41.5px,#65b7c7 42.5px,#5ab2c5 43.5px,#47a9c0 44.5px,#369ac3 46.5px,#3396c4 48.5px,#3ba0c0 50.5px,#45a8bf 51.5px,#58b1c4 52.5px,#63b6c7 53.5px,#63b6c7 54.5px,#58b1c4 55.5px,#46a9bf 56.5px,#379bc2 58.5px,#3598c4 60.5px,#3da2c0 62.5px,#58b1c4 64.5px,#60b5c6 65.5px,#5eb4c6 66.5px,#44a8bf 68.5px,#399dc2 70.5px,#3a9fc1 73.5px,#3ea4bf 74.5px,#55b0c3 76.5px,#5ab2c4 77.5px,#57b1c4 78.5px,#42a7bf 80.5px,#3a9ec1 83.5px,#40a6be 86.5px)}
.e40{background:linear-gradient(90deg,#205bc8 0.5px,#246ecc 1.5px,#3497c4 2.5px,#62b6c7 3.5px,#b1d2d8 4.5px,#c5dbdf 5.5px,#c1d9de 6.5px,#9acad3 7.5px,#4babc1 8.5px,#2f8ec7 9.5px,#2368cb 10.5px,#215bc9 11.5px,#2262ca 12.5px,#297eca 13.5px,#3ba0c0 14.5px,#77becb 15.5px,#b6d4da 16.5px,#c2dade 17.5px,#b7d5da 18.5px,#7cc0cd 19.5px,#3da2c0 20.5px,#2b84c8 21.5px,#2367cb 22.5px,#2161c9 23.5px,#236ccb 24.5px,#2f90c6 25.5px,#45a8bf 26.5px,#88c4cf 27.5px,#b6d4da 28.5px,#bad6db 29.5px,#a3cdd5 30.5px,#62b6c6 31.5px,#389cc2 32.5px,#297fc9 33.5px,#236acb 34.5px,#236acb 35.5px,#287cca 36.5px,#3699c3 37.5px,#57b0c4 38.5px,#90c7d1 39.5px,#b2d3d9 40.5px,#afd2d8 41.5px,#85c3cf 42.5px,#4dacc1 43.5px,#3598c4 44.5px,#297fc9 45.5px,#2471cc 46.5px,#2677cb 47.5px,#3ca1c0 49.5px,#62b6c7 50.5px,#8fc7d1 51.5px,#a2cdd5 52.5px,#94c8d2 53.5px,#3fa5be 55.5px,#2b85c8 57.5px,#297ec9 58.5px,#2d88c8 59.5px,#41a6be 61.5px,#67b8c8 62.5px,#84c3ce 63.5px,#8bc5d0 64.5px,#77becc 65.5px,#3da2c0 67.5px,#2f8fc6 69.5px,#2f8fc7 70.5px,#3b9fc1 72.5px,#4babc1 73.5px,#64b6c7 74.5px,#72bdca 75.5px,#70bcca 76.5px,#61b5c6 77.5px,#4aabc0 78.5px,#3ca1c0 79.5px,#3598c4 81.5px,#3ea4bf 84.5px,#5fb4c6 86.5px)}
.e41{background:linear-gradient(90deg,#3497c4 0.5px,#44a8bf 3.5px,#53afc3 4.5px,#5ab2c4 5.5px,#55b0c3 6.5px,#3da2c0 8.5px,#3498c4 10.5px,#369ac3 12.5px,#40a6be 14.5px,#51aec2 15.5px,#5ab2c5 16.5px,#59b1c4 17.5px,#3fa4bf 19.5px,#3497c4 22.5px,#3fa5bf 25.5px,#5ab2c5 27.5px,#5cb3c5 28.5px,#53afc3 29.5px,#42a7bf 30.5px,#3497c4 33.5px,#389cc2 35.5px,#3da2bf 36.5px,#58b1c4 38.5px,#5eb4c6 39.5px,#5ab2c4 40.5px,#3ea3bf 42.5px,#3497c4 45.5px,#42a7be 48.5px,#53afc3 49.5px,#5eb4c5 50.5px,#5eb4c5 51.5px,#54afc3 52.5px,#43a7bf 53.5px,#3599c3 56.5px,#3ea4bf 59.5px,#59b1c4 61.5px,#5eb4c5 62.5px,#59b1c4 63.5px,#3fa4bf 65.5px,#379bc3 68.5px,#43a7bf 71.5px,#59b1c4 73.5px,#59b1c4 74.5px,#3ea3bf 77.5px,#3a9ec1 80.5px,#3fa5be 82.5px,#51aec2 84.5px,#53afc3 86.5px)}
.e42{background:linear-gradient(90deg,#b8d5db 0.5px,#95c9d2 1.5px,#53afc3 2.5px,#3396c4 3.5px,#2674cb 4.5px,#2265ca 5.5px,#2267ca 6.5px,#287cca 7.5px,#379bc2 8.5px,#60b5c6 9.5px,#9fccd4 10.5px,#b8d5db 11.5px,#b3d3d9 12.5px,#83c3ce 13.5px,#45a8bf 14.5px,#3193c6 15.5px,#2572cc 16.5px,#2367cb 17.5px,#246dcc 18.5px,#2c88c8 19.5px,#3ca1c0 20.5px,#6ab9c9 21.5px,#a2cdd5 22.5px,#b4d3d9 23.5px,#a5ced6 24.5px,#3ea3bf 26.5px,#2f8fc6 27.5px,#2574cb 28.5px,#236dcb 29.5px,#2777cb 30.5px,#3193c6 31.5px,#40a5be 32.5px,#71bcca 33.5px,#9eccd4 34.5px,#aad0d7 35.5px,#91c7d1 36.5px,#61b5c6 37.5px,#3ba0c0 38.5px,#2779ca 40.5px,#2676cb 41.5px,#2b84c8 42.5px,#3699c3 43.5px,#4aaac0 44.5px,#74bdcb 45.5px,#96c9d2 46.5px,#98cad3 47.5px,#7cc0cd 48.5px,#53afc3 49.5px,#399ec1 50.5px,#2a81c9 52.5px,#2a82c9 53.5px,#3a9ec1 55.5px,#51aec2 56.5px,#72bdca 57.5px,#88c4cf 58.5px,#83c3ce 59.5px,#69b9c8 60.5px,#49aac0 61.5px,#399dc2 62.5px,#2e8dc7 64.5px,#3598c3 66.5px,#3da3bf 67.5px,#6bbac9 69.5px,#75becb 70.5px,#6ebbc9 71.5px,#5bb2c5 72.5px,#41a7be 73.5px,#3598c4 75.5px,#3599c3 77.5px,#40a6be 79.5px,#53afc3 80.5px,#60b5c6 81.5px,#63b6c7 82.5px,#5db3c5 83.5px,#3fa5be 85.5px,#3b9fc1 86.5px)}
.e43{background:linear-gradient(90deg,#aed1d7 0.5px,#86c3cf 1.5px,#4dacc1 2.5px,#3497c4 3.5px,#287aca 4.5px,#236ccb 5.5px,#246fcc 6.5px,#3a9fc1 8.5px,#63b6c7 9.5px,#98cad3 10.5px,#aed1d8 11.5px,#9dccd4 12.5px,#3da3bf 14.5px,#2675cb 16.5px,#246ecc 17.5px,#287bca 18.5px,#3295c5 19.5px,#44a8bf 20.5px,#75becb 21.5px,#9eccd4 22.5px,#a4ced5 23.5px,#85c3cf 24.5px,#55b0c3 25.5px,#389cc2 26.5px,#2676cb 28.5px,#2677cb 29.5px,#399dc1 31.5px,#57b1c4 32.5px,#82c2ce 33.5px,#9bcbd3 34.5px,#92c8d1 35.5px,#6cbac9 36.5px,#41a6be 37.5px,#2b84c8 39.5px,#287cca 40.5px,#2b84c8 41.5px,#3fa5bf 43.5px,#85c3cf 45.5px,#8fc7d1 46.5px,#7bc0cc 47.5px,#58b1c4 48.5px,#3ca1c0 49.5px,#2c88c8 51.5px,#2c86c8 52.5px,#399ec1 54.5px,#4cacc1 55.5px,#6bbac9 56.5px,#7fc1cd 57.5px,#7cc0cd 58.5px,#66b7c7 59.5px,#48aac0 60.5px,#399dc1 61.5px,#2f90c6 63.5px,#369ac3 65.5px,#3ea4bf 66.5px,#69b9c8 68.5px,#70bcca 69.5px,#68b9c8 70.5px,#3fa5be 72.5px,#3598c4 74.5px,#379ac3 76.5px,#45a8bf 78.5px,#57b0c4 79.5px,#61b5c6 80.5px,#61b5c6 81.5px,#3ea3bf 84.5px,#389bc2 86.5px)}
.e44{background:linear-gradient(90deg,#2e8bc7 0.5px,#399dc1 2.5px,#46a9bf 3.5px,#60b5c6 4.5px,#6fbcca 5.5px,#6fbcca 6.5px,#60b5c6 7.5px,#46a9bf 8.5px,#3295c5 10.5px,#2e8dc7 11.5px,#2e8dc7 12.5px,#399ec1 14.5px,#46a9c0 15.5px,#60b5c6 16.5px,#6ebbca 17.5px,#6ebbc9 18.5px,#5fb4c6 19.5px,#46a9bf 20.5px,#3395c5 22.5px,#2f8fc7 23.5px,#3396c4 25.5px,#3a9fc1 26.5px,#47a9c0 27.5px,#5fb4c6 28.5px,#6dbbc9 29.5px,#6cbac9 30.5px,#5db3c5 31.5px,#45a8bf 32.5px,#3396c4 34.5px,#3092c6 36.5px,#3ba0c0 38.5px,#49aac0 39.5px,#5fb4c6 40.5px,#6bbac9 41.5px,#69b9c8 42.5px,#5bb2c5 43.5px,#44a8bf 44.5px,#3497c4 46.5px,#3295c5 48.5px,#3ca1c0 50.5px,#5fb4c6 52.5px,#68b8c8 53.5px,#65b7c7 54.5px,#57b1c4 55.5px,#42a7bf 56.5px,#3396c4 59.5px,#389cc2 61.5px,#3ea3bf 62.5px,#5db3c5 64.5px,#63b6c7 65.5px,#5fb4c6 66.5px,#40a6be 68.5px,#369ac3 71.5px,#3fa5be 74.5px,#58b1c4 76.5px,#5cb3c5 77.5px,#58b1c4 78.5px,#40a6be 80.5px,#399ec1 83.5px,#42a7be 86.5px)}
.e45{background:linear-gradient(90deg,#215bc9 0.5px,#246fcc 1.5px,#3498c4 2.5px,#62b6c6 3.5px,#b0d2d8 4.5px,#c5dbdf 5.5px,#c1d9de 6.5px,#99cad3 7.5px,#4aabc1 8.5px,#2f8ec7 9.5px,#2369cb 10.5px,#215cc9 11.5px,#2262ca 12.5px,#297fc9 13.5px,#3ba0c0 14.5px,#77becc 15.5px,#b6d4da 16.5px,#c2d9de 17.5px,#b6d4da 18.5px,#7abfcc 19.5px,#3da2c0 20.5px,#2b84c9 21.5px,#2367cb 22.5px,#2261ca 23.5px,#246dcc 24.5px,#3091c6 25.5px,#46a9c0 26.5px,#89c5cf 27.5px,#b6d4da 28.5px,#bad6db 29.5px,#a0cdd5 30.5px,#60b5c6 31.5px,#389bc2 32.5px,#297ec9 33.5px,#236acb 34.5px,#236acb 35.5px,#297dca 36.5px,#369ac3 37.5px,#58b1c4 38.5px,#91c7d1 39.5px,#b2d3d9 40.5px,#add1d7 41.5px,#82c2ce 42.5px,#4babc1 43.5px,#3497c4 44.5px,#297fc9 45.5px,#2471cc 46.5px,#2778cb 47.5px,#3ca1c0 49.5px,#90c7d1 51.5px,#a2cdd5 52.5px,#92c8d1 53.5px,#3fa4bf 55.5px,#2b84c8 57.5px,#297fc9 58.5px,#3699c3 60.5px,#43a7bf 61.5px,#68b8c8 62.5px,#85c3cf 63.5px,#8ac5d0 64.5px,#75becb 65.5px,#55b0c3 66.5px,#3ca1c0 67.5px,#2f8fc7 69.5px,#2f8fc7 70.5px,#3ba0c0 72.5px,#4dacc1 73.5px,#65b7c7 74.5px,#72bdca 75.5px,#6fbbca 76.5px,#5fb4c6 77.5px,#48aac0 78.5px,#3ca1c0 79.5px,#3598c4 81.5px,#3fa5bf 84.5px,#5fb4c6 86.5px)}
.e46{background:linear-gradient(90deg,#379ac3 0.5px,#41a6be 3.5px,#4babc1 4.5px,#4fadc2 5.5px,#4babc1 6.5px,#3ca2c0 8.5px,#379ac3 11.5px,#41a7be 14.5px,#4dacc1 15.5px,#52aec2 16.5px,#4fadc2 17.5px,#3da2bf 19.5px,#369ac3 22.5px,#40a6be 25.5px,#4eacc1 26.5px,#55b0c3 27.5px,#54afc3 28.5px,#3fa4bf 30.5px,#3699c3 33.5px,#3fa5bf 36.5px,#57b0c4 38.5px,#59b1c4 39.5px,#52aec2 40.5px,#44a8bf 41.5px,#3699c3 44.5px,#3da2c0 47.5px,#55afc3 49.5px,#5bb2c5 50.5px,#58b1c4 51.5px,#3fa5be 53.5px,#3699c3 56.5px,#40a6be 59.5px,#59b1c4 61.5px,#5bb2c5 62.5px,#54afc3 63.5px,#3ea3bf 65.5px,#389cc2 68.5px,#3ea3bf 70.5px,#52aec3 72.5px,#58b1c4 73.5px,#57b0c4 74.5px,#42a7be 76.5px,#3a9ec1 79.5px,#40a6be 82.5px,#51aec2 84.5px,#51aec2 86.5px)}
.e47{background:linear-gradient(90deg,#bbd7dc 0.5px,#9acad3 1.5px,#54afc3 2.5px,#3396c5 3.5px,#2571cc 4.5px,#2262ca 5.5px,#2264ca 6.5px,#287aca 7.5px,#379bc2 8.5px,#63b6c7 9.5px,#a5ced6 10.5px,#bbd6dc 11.5px,#b5d4da 12.5px,#86c4cf 13.5px,#45a8bf 14.5px,#3091c6 15.5px,#246fcc 16.5px,#2265ca 17.5px,#236bcb 18.5px,#2c87c8 19.5px,#3ca1c0 20.5px,#6ebbc9 21.5px,#a8cfd6 22.5px,#b6d5da 23.5px,#a9d0d6 24.5px,#70bcca 25.5px,#3da3bf 26.5px,#2471cc 28.5px,#236bcb 29.5px,#2676cb 30.5px,#3193c6 31.5px,#41a6be 32.5px,#76becb 33.5px,#a4ced5 34.5px,#afd2d8 35.5px,#93c8d2 36.5px,#60b5c6 37.5px,#3a9fc1 38.5px,#2676cb 40.5px,#2573cb 41.5px,#2b83c9 42.5px,#3699c3 43.5px,#4dacc1 44.5px,#7abfcc 45.5px,#9bcbd3 46.5px,#9ccbd4 47.5px,#7dc0cd 48.5px,#52aec2 49.5px,#389dc2 50.5px,#297fc9 52.5px,#2a81c9 53.5px,#3a9fc1 55.5px,#54afc3 56.5px,#77becb 57.5px,#8cc6d0 58.5px,#85c3cf 59.5px,#47a9c0 61.5px,#389cc2 62.5px,#2d8bc7 64.5px,#3599c3 66.5px,#3ea3bf 67.5px,#6ebbc9 69.5px,#78bfcc 70.5px,#6ebbca 71.5px,#40a6be 73.5px,#3497c4 75.5px,#3598c3 77.5px,#41a7be 79.5px,#55b0c3 80.5px,#62b5c6 81.5px,#64b6c7 82.5px,#5db3c5 83.5px,#3fa5bf 85.5px,#3a9fc1 86.5px)}
.e48{background:linear-gradient(90deg,#a4ced5 0.5px,#7fc1cd 1.5px,#4cabc1 2.5px,#3497c4 3.5px,#297eca 4.5px,#246fcc 5.5px,#2573cb 6.5px,#3ba0c1 8.5px,#61b5c6 9.5px,#90c7d1 10.5px,#a5ced6 11.5px,#94c8d2 12.5px,#3da2c0 14.5px,#2f91c6 15.5px,#2779ca 16.5px,#2573cc 17.5px,#297fc9 18.5px,#3496c4 19.5px,#44a8bf 20.5px,#72bdca 21.5px,#97c9d2 22.5px,#9bcbd3 23.5px,#7dc1cd 24.5px,#51aec2 25.5px,#389bc2 26.5px,#277aca 28.5px,#287cca 29.5px,#3a9fc1 31.5px,#57b1c4 32.5px,#7ec1cd 33.5px,#94c8d2 34.5px,#8ac5d0 35.5px,#3fa5be 37.5px,#2c87c8 39.5px,#297fc9 40.5px,#2c88c8 41.5px,#40a6be 43.5px,#64b7c7 44.5px,#81c2ce 45.5px,#88c4cf 46.5px,#74bdcb 47.5px,#54afc3 48.5px,#3ba0c0 49.5px,#2d8ac7 51.5px,#2d8ac7 52.5px,#3a9fc1 54.5px,#4eacc1 55.5px,#6ab9c9 56.5px,#7bc0cc 57.5px,#76becb 58.5px,#61b5c6 59.5px,#44a8bf 60.5px,#3295c5 62.5px,#3294c5 64.5px,#3fa5bf 66.5px,#68b9c8 68.5px,#6ebbc9 69.5px,#65b7c7 70.5px,#3ea4bf 72.5px,#3598c4 74.5px,#379bc2 76.5px,#46a9c0 78.5px,#57b1c4 79.5px,#60b5c6 80.5px,#5fb4c6 81.5px,#3ea3bf 84.5px,#389cc2 86.5px)}
.e49{background:linear-gradient(90deg,#2b85c8 0.5px,#389dc2 2.5px,#49aac0 3.5px,#68b8c8 4.5px,#7cc0cd 5.5px,#7bc0cc 6.5px,#66b7c7 7.5px,#47a9c0 8.5px,#389cc2 9.5px,#2c86c8 11.5px,#2c87c8 12.5px,#399ec1 14.5px,#4babc1 15.5px,#68b8c8 16.5px,#7abfcc 17.5px,#77bfcc 18.5px,#63b6c7 19.5px,#45a8bf 20.5px,#3092c6 22.5px,#2d89c8 23.5px,#2d8bc7 24.5px,#3b9fc1 26.5px,#4dacc1 27.5px,#67b8c8 28.5px,#77becb 29.5px,#73bdcb 30.5px,#60b4c6 31.5px,#43a7bf 32.5px,#3194c5 34.5px,#2e8dc7 35.5px,#3497c4 37.5px,#3ca1c0 38.5px,#67b8c8 40.5px,#72bdcb 41.5px,#6ebbc9 42.5px,#5bb3c5 43.5px,#41a6be 44.5px,#3295c5 46.5px,#3193c5 48.5px,#3da3bf 50.5px,#65b7c7 52.5px,#6dbbc9 53.5px,#68b8c8 54.5px,#40a6be 56.5px,#3497c4 58.5px,#3497c4 60.5px,#3fa4bf 62.5px,#61b5c6 64.5px,#67b8c8 65.5px,#60b5c6 66.5px,#3fa5be 68.5px,#3599c3 71.5px,#40a6be 74.5px,#5bb3c5 76.5px,#5eb4c5 77.5px,#58b1c4 78.5px,#3fa5be 80.5px,#399dc1 83.5px,#44a8bf 86.5px)}
.e50{background:linear-gradient(90deg,#215cc9 0.5px,#246fcc 1.5px,#3598c4 2.5px,#62b5c6 3.5px,#afd2d8 4.5px,#c4dadf 5.5px,#bfd8dd 6.5px,#97c9d2 7.5px,#4aaac0 8.5px,#2f8ec7 9.5px,#2369cb 10.5px,#215dc9 11.5px,#2263ca 12.5px,#2a80c9 13.5px,#3ca1c0 14.5px,#77bfcc 15.5px,#b5d4da 16.5px,#c0d9dd 17.5px,#b5d4da 18.5px,#77becc 19.5px,#3ca1c0 20.5px,#2b84c9 21.5px,#2368cb 22.5px,#2262ca 23.5px,#246ecc 24.5px,#3092c6 25.5px,#48a9c0 26.5px,#8ac5d0 27.5px,#b5d4da 28.5px,#b9d6db 29.5px,#9eccd4 30.5px,#5eb4c5 31.5px,#379bc2 32.5px,#297ec9 33.5px,#236bcb 34.5px,#236bcb 35.5px,#297fc9 36.5px,#379bc2 37.5px,#5ab2c4 38.5px,#92c8d1 39.5px,#b1d2d8 40.5px,#abd0d7 41.5px,#7fc1cd 42.5px,#49aac0 43.5px,#3497c4 44.5px,#297ec9 45.5px,#2572cc 46.5px,#2779ca 47.5px,#3091c6 48.5px,#3da2bf 49.5px,#90c7d1 51.5px,#a1cdd5 52.5px,#8fc7d1 53.5px,#3ea4bf 55.5px,#2b84c8 57.5px,#297fc9 58.5px,#369ac3 60.5px,#45a8bf 61.5px,#6ab9c8 62.5px,#85c3cf 63.5px,#89c4cf 64.5px,#72bdcb 65.5px,#53afc3 66.5px,#3ca0c0 67.5px,#2f8fc7 69.5px,#2f90c6 70.5px,#3ca1c0 72.5px,#66b7c7 74.5px,#72bdca 75.5px,#6ebbc9 76.5px,#5eb4c5 77.5px,#46a9c0 78.5px,#3ba0c0 79.5px,#3598c4 81.5px,#3fa5be 84.5px,#60b5c6 86.5px)}
.e51{background:linear-gradient(90deg,#3a9ec1 0.5px,#45a8bf 5.5px,#399dc1 10.5px,#42a7bf 14.5px,#49aac0 16.5px,#399dc1 20.5px,#3b9fc1 23.5px,#50adc2 27.5px,#3da2c0 30.5px,#379bc2 33.5px,#42a7bf 36.5px,#55b0c3 38.5px,#53afc3 39.5px,#3fa5bf 41.5px,#369ac3 44.5px,#3fa5bf 47.5px,#56b0c3 49.5px,#59b1c4 50.5px,#53afc3 51.5px,#3da3bf 53.5px,#379ac3 56.5px,#3da2c0 58.5px,#59b1c4 61.5px,#58b1c4 62.5px,#42a7be 64.5px,#389cc2 67.5px,#3fa5bf 70.5px,#54afc3 72.5px,#58b1c4 73.5px,#4aabc1 75.5px,#3fa5be 76.5px,#3a9ec1 79.5px,#43a7bf 82.5px,#52aec3 84.5px,#4fadc2 86.5px)}
.e52{background:linear-gradient(90deg,#bed8dd 0.5px,#9eccd4 1.5px,#55b0c3 2.5px,#3395c5 3.5px,#246fcc 4.5px,#2160c9 5.5px,#2262ca 6.5px,#2778cb 7.5px,#379bc2 8.5px,#65b7c7 9.5px,#aad0d7 10.5px,#bed8dd 11.5px,#b8d5db 12.5px,#89c4cf 13.5px,#44a8bf 14.5px,#2f90c6 15.5px,#246dcc 16.5px,#2263ca 17.5px,#236acb 18.5px,#2c86c8 19.5px,#3ca1c0 20.5px,#71bcca 21.5px,#aed1d7 22.5px,#b9d6db 23.5px,#add1d7 24.5px,#71bcca 25.5px,#3da2c0 26.5px,#2d8ac7 27.5px,#246ecc 28.5px,#2369cb 29.5px,#2574cb 30.5px,#3193c6 31.5px,#43a7bf 32.5px,#7bc0cc 33.5px,#aad0d7 34.5px,#b1d3d8 35.5px,#95c9d2 36.5px,#5fb4c6 37.5px,#3a9ec1 38.5px,#2573cb 40.5px,#2572cc 41.5px,#369ac3 43.5px,#4fadc2 44.5px,#7fc1cd 45.5px,#9fccd4 46.5px,#9fccd4 47.5px,#7dc1cd 48.5px,#50adc2 49.5px,#389cc2 50.5px,#297dca 52.5px,#2a80c9 53.5px,#3ba0c1 55.5px,#57b1c4 56.5px,#7bc0cc 57.5px,#8fc7d1 58.5px,#87c4cf 59.5px,#45a8bf 61.5px,#3091c6 63.5px,#2d89c8 64.5px,#3599c3 66.5px,#3ea4bf 67.5px,#70bcca 69.5px,#7abfcc 70.5px,#6fbbca 71.5px,#3fa5be 73.5px,#3496c4 75.5px,#3598c3 77.5px,#43a7bf 79.5px,#57b1c4 80.5px,#63b6c7 81.5px,#65b7c7 82.5px,#5db3c5 83.5px,#3ea4bf 85.5px,#3a9ec1 86.5px)}
.e53{background:linear-gradient(90deg,#99cad3 0.5px,#77becc 1.5px,#4aaac0 2.5px,#3598c3 3.5px,#2a82c9 4.5px,#2674cb 5.5px,#2779ca 6.5px,#3ba0c0 8.5px,#5eb4c6 9.5px,#88c4cf 10.5px,#9acbd3 11.5px,#8ac5d0 12.5px,#3da2c0 14.5px,#297dca 16.5px,#2778cb 17.5px,#2b84c8 18.5px,#3598c4 19.5px,#45a8bf 20.5px,#6ebbca 21.5px,#8fc7d1 22.5px,#91c7d1 23.5px,#74becb 24.5px,#4dacc1 25.5px,#379bc2 26.5px,#297eca 28.5px,#2a80c9 29.5px,#3ba0c1 31.5px,#57b1c4 32.5px,#7abfcc 33.5px,#8cc6d0 34.5px,#81c2ce 35.5px,#3ea4bf 37.5px,#2d89c8 39.5px,#2b83c9 40.5px,#3699c3 42.5px,#41a7be 43.5px,#64b6c7 44.5px,#7dc0cd 45.5px,#81c2ce 46.5px,#6dbbc9 47.5px,#4fadc2 48.5px,#3b9fc1 49.5px,#2e8cc7 51.5px,#2e8dc7 52.5px,#3ba0c0 54.5px,#69b9c8 56.5px,#77becb 57.5px,#70bcca 58.5px,#5db3c5 59.5px,#41a6be 60.5px,#3395c5 62.5px,#3396c5 64.5px,#40a6be 66.5px,#57b1c4 67.5px,#67b8c8 68.5px,#6bbac9 69.5px,#61b5c6 70.5px,#3ea3bf 72.5px,#3599c3 74.5px,#389cc2 76.5px,#3da2c0 77.5px,#57b1c4 79.5px,#5fb4c6 80.5px,#5db3c5 81.5px,#3da2bf 84.5px,#389cc2 86.5px)}
.e54{background:linear-gradient(90deg,#297eca 0.5px,#389cc2 2.5px,#4cabc1 3.5px,#6fbbca 4.5px,#88c4cf 5.5px,#87c4cf 6.5px,#6cbac9 7.5px,#48aac0 8.5px,#379bc2 9.5px,#2a80c9 11.5px,#2a81c9 12.5px,#399ec1 14.5px,#4fadc2 15.5px,#70bcca 16.5px,#86c3cf 17.5px,#81c2ce 18.5px,#67b8c8 19.5px,#44a8bf 20.5px,#2e8dc7 22.5px,#2b83c9 23.5px,#2c86c8 24.5px,#3ba0c1 26.5px,#6fbcca 28.5px,#81c2ce 29.5px,#7ac0cc 30.5px,#62b5c6 31.5px,#41a6be 32.5px,#2f90c6 34.5px,#2c87c8 35.5px,#2e8cc7 36.5px,#3da2c0 38.5px,#6ebbc9 40.5px,#7bc0cc 41.5px,#72bdca 42.5px,#5cb3c5 43.5px,#3fa5be 44.5px,#3193c6 46.5px,#2e8dc7 47.5px,#369ac3 49.5px,#3ea4bf 50.5px,#6bbac9 52.5px,#72bdcb 53.5px,#6ab9c8 54.5px,#3fa4bf 56.5px,#3395c5 58.5px,#3396c4 60.5px,#40a6be 62.5px,#56b0c4 63.5px,#66b7c7 64.5px,#6ab9c8 65.5px,#61b5c6 66.5px,#3ea4bf 68.5px,#3599c3 70.5px,#379bc2 72.5px,#43a8bf 74.5px,#54afc3 75.5px,#5eb4c6 76.5px,#5fb4c6 77.5px,#58b1c4 78.5px,#3ea4bf 80.5px,#399dc2 83.5px,#3ea3bf 85.5px,#46a9c0 86.5px)}
.e55{background:linear-gradient(90deg,#215dc9 0.5px,#2470cc 1.5px,#3598c4 2.5px,#61b5c6 3.5px,#add1d7 4.5px,#c2dade 5.5px,#bed8dd 6.5px,#94c8d2 7.5px,#49aac0 8.5px,#2f8fc7 9.5px,#236acb 10.5px,#215ec9 11.5px,#2265ca 12.5px,#2a81c9 13.5px,#3ca1c0 14.5px,#77becc 15.5px,#b4d4d9 16.5px,#bfd8dd 17.5px,#b3d3d9 18.5px,#74bdcb 19.5px,#3ca1c0 20.5px,#2b84c9 21.5px,#2369cb 22.5px,#2263ca 23.5px,#246fcc 24.5px,#3193c6 25.5px,#49aac0 26.5px,#89c5d0 27.5px,#b4d4d9 28.5px,#b7d5da 29.5px,#9acad3 30.5px,#5bb3c5 31.5px,#379ac3 32.5px,#297ec9 33.5px,#236bcb 34.5px,#236ccb 35.5px,#2a81c9 36.5px,#389cc2 37.5px,#5bb2c5 38.5px,#92c8d1 39.5px,#b0d2d8 40.5px,#a8cfd6 41.5px,#7bc0cc 42.5px,#47a9c0 43.5px,#3396c4 44.5px,#297fc9 45.5px,#2573cb 46.5px,#287bca 47.5px,#3093c6 48.5px,#3ea3bf 49.5px,#90c7d1 51.5px,#9fccd4 52.5px,#8cc6d0 53.5px,#3ea3bf 55.5px,#2b84c8 57.5px,#2a81c9 58.5px,#379bc3 60.5px,#47a9c0 61.5px,#6bbac9 62.5px,#85c3cf 63.5px,#87c4cf 64.5px,#70bcca 65.5px,#51aec2 66.5px,#3ba0c0 67.5px,#2f8fc6 69.5px,#3598c4 71.5px,#3ca1c0 72.5px,#67b8c8 74.5px,#71bcca 75.5px,#6dbac9 76.5px,#5cb3c5 77.5px,#45a8bf 78.5px,#369ac3 80.5px,#369ac3 82.5px,#40a6be 84.5px,#60b5c6 86.5px)}
.e56{background:linear-gradient(90deg,#3da2c0 0.5px,#3da2c0 7.5px,#3ea4bf 12.5px,#44a8bf 15.5px,#399ec1 21.5px,#40a6be 24.5px,#4cacc1 26.5px,#389cc2 31.5px,#3ba0c0 34.5px,#3fa5bf 35.5px,#51aec2 37.5px,#53afc3 38.5px,#3da2c0 41.5px,#379bc3 44.5px,#43a7bf 47.5px,#57b0c4 49.5px,#56b0c3 50.5px,#40a6be 52.5px,#379bc3 55.5px,#3ea4bf 58.5px,#55b0c3 60.5px,#59b1c4 61.5px,#55b0c3 62.5px,#3fa5bf 64.5px,#389cc2 67.5px,#41a6be 70.5px,#56b0c3 72.5px,#57b0c4 73.5px,#3ea4bf 76.5px,#3a9fc1 79.5px,#3fa4bf 81.5px,#53afc3 84.5px,#4dacc1 86.5px)}
.e57{background:linear-gradient(90deg,#c0d9dd 0.5px,#a2cdd5 1.5px,#56b0c3 2.5px,#3295c5 3.5px,#246ecc 4.5px,#215ec9 5.5px,#2161c9 6.5px,#2677cb 7.5px,#379bc2 8.5px,#67b8c8 9.5px,#afd2d8 10.5px,#c0d9dd 11.5px,#bad6db 12.5px,#8ac5d0 13.5px,#43a8bf 14.5px,#2f8ec7 15.5px,#236bcb 16.5px,#2261ca 17.5px,#2368cb 18.5px,#2c85c8 19.5px,#3da2c0 20.5px,#75becb 21.5px,#b1d2d8 22.5px,#bbd7dc 23.5px,#afd2d8 24.5px,#71bcca 25.5px,#3ca2c0 26.5px,#2c88c8 27.5px,#236dcb 28.5px,#2367cb 29.5px,#2573cb 30.5px,#3193c6 31.5px,#45a8bf 32.5px,#80c1cd 33.5px,#aed1d8 34.5px,#b3d3d9 35.5px,#97c9d2 36.5px,#5eb4c6 37.5px,#399dc2 38.5px,#2471cc 40.5px,#2470cc 41.5px,#379ac3 43.5px,#52aec3 44.5px,#83c3ce 45.5px,#a3ced5 46.5px,#a1cdd5 47.5px,#7dc1cd 48.5px,#4fadc2 49.5px,#379bc3 50.5px,#287bca 52.5px,#297fc9 53.5px,#3ba0c0 55.5px,#7fc1cd 57.5px,#92c8d1 58.5px,#88c4cf 59.5px,#42a7bf 61.5px,#2f8fc7 63.5px,#2d88c8 64.5px,#3699c3 66.5px,#3fa5be 67.5px,#5db3c5 68.5px,#73bdcb 69.5px,#7cc0cd 70.5px,#6fbbca 71.5px,#3fa4bf 73.5px,#3396c4 75.5px,#3599c3 77.5px,#45a8bf 79.5px,#59b1c4 80.5px,#65b7c7 81.5px,#65b7c7 82.5px,#5cb3c5 83.5px,#3ea3bf 85.5px,#399dc1 86.5px)}
.e58{background:linear-gradient(90deg,#8ec6d1 0.5px,#6fbcca 1.5px,#48a9c0 2.5px,#3699c3 3.5px,#287aca 5.5px,#297fc9 6.5px,#3ca1c0 8.5px,#7fc1cd 10.5px,#8fc7d1 11.5px,#80c1cd 12.5px,#3ca1c0 14.5px,#2a82c9 16.5px,#297eca 17.5px,#369ac3 19.5px,#46a9bf 20.5px,#6bbac9 21.5px,#86c4cf 22.5px,#87c4cf 23.5px,#6cbac9 24.5px,#49aac0 25.5px,#379bc2 26.5px,#2a82c9 28.5px,#2c86c8 29.5px,#3ca1c0 31.5px,#75becb 33.5px,#84c3ce 34.5px,#77bfcc 35.5px,#3ea3bf 37.5px,#2e8cc7 39.5px,#2c88c8 40.5px,#379bc2 42.5px,#44a8bf 43.5px,#63b6c7 44.5px,#78bfcc 45.5px,#79bfcc 46.5px,#67b8c8 47.5px,#4babc1 48.5px,#3a9fc1 49.5px,#2f8fc7 51.5px,#3598c4 53.5px,#3da2c0 54.5px,#68b8c8 56.5px,#72bdca 57.5px,#6bbac9 58.5px,#3fa5be 60.5px,#3396c4 62.5px,#3497c4 64.5px,#42a7be 66.5px,#58b1c4 67.5px,#66b7c7 68.5px,#68b8c8 69.5px,#5eb4c5 70.5px,#3da2bf 72.5px,#3699c3 74.5px,#3ea3bf 77.5px,#58b1c4 79.5px,#5db3c5 80.5px,#5bb2c5 81.5px,#43a7bf 83.5px,#389dc2 86.5px)}
svg{position:absolute;left:0;top:0;will-change:transform;}
text{font-family:"Liberation Serif",serif;}
</style></head><body><div id="w">
<div class="hm" style="left:65px;top:325px;width:166px;height:216px"><div class="hr" style="left:83px;width:83px"><i class="c0" style="top:0px;height:23px"></i><i class="c1" style="top:23px;height:4px"></i><i class="c2" style="top:27px;height:5px"></i><i class="c3" style="top:32px;height:8px"></i><i class="c4" style="top:40px;height:5px"></i><i class="c5" style="top:45px;height:8px"></i><i class="c6" style="top:53px;height:10px"></i><i class="c7" style="top:63px;height:5px"></i><i class="c8" style="top:68px;height:11px"></i><i class="c9" style="top:79px;height:12px"></i><i class="c10" style="top:91px;height:4px"></i><i class="c11" style="top:95px;height:10px"></i><i class="c12" style="top:105px;height:7px"></i><i class="c13" style="top:112px;height:6px"></i><i class="c14" style="top:118px;height:8px"></i><i class="c15" style="top:126px;height:5px"></i><i class="c16" style="top:131px;height:4px"></i><i class="c17" style="top:135px;height:39px"></i><i class="c18" style="top:174px;height:2px"></i><i class="c19" style="top:176px;height:1px"></i><i class="c20" style="top:177px;height:1px"></i><i class="c21" style="top:178px;height:1px"></i><i class="c22" style="top:179px;height:1px"></i><i class="c23" style="top:180px;height:1px"></i><i class="c24" style="top:181px;height:1px"></i><i class="c25" style="top:182px;height:1px"></i><i class="c26" style="top:183px;height:1px"></i><i class="c27" style="top:184px;height:1px"></i><i class="c28" style="top:185px;height:1px"></i><i class="c29" style="top:186px;height:1px"></i><i class="c30" style="top:187px;height:1px"></i><i class="c31" style="top:188px;height:1px"></i><i class="c32" style="top:189px;height:1px"></i><i class="c33" style="top:190px;height:1px"></i><i class="c34" style="top:191px;height:1px"></i><i class="c35" style="top:192px;height:1px"></i><i class="c36" style="top:193px;height:1px"></i><i class="c37" style="top:194px;height:1px"></i><i class="c38" style="top:195px;height:1px"></i><i class="c39" style="top:196px;height:1px"></i><i class="c40" style="top:197px;height:1px"></i><i class="c41" style="top:198px;height:1px"></i><i class="c42" style="top:199px;height:1px"></i><i class="c43" style="top:200px;height:1px"></i><i class="c44" style="top:201px;height:1px"></i><i class="c45" style="top:202px;height:1px"></i><i class="c46" style="top:203px;height:1px"></i><i class="c47" style="top:204px;height:1px"></i><i class="c48" style="top:205px;height:1px"></i><i class="c49" style="top:206px;height:1px"></i><i class="c50" style="top:207px;height:1px"></i><i class="c51" style="top:208px;height:1px"></i><i class="c52" style="top:209px;height:1px"></i><i class="c53" style="top:210px;height:1px"></i><i class="c54" style="top:211px;height:1px"></i><i class="c55" style="top:212px;height:1px"></i><i class="c56" style="top:213px;height:1px"></i><i class="c57" style="top:214px;height:1px"></i><i class="c58" style="top:215px;height:1px"></i></div><div class="hl" style="left:0;width:83px"><i class="c0" style="top:0px;height:23px"></i><i class="c1" style="top:23px;height:4px"></i><i class="c2" style="top:27px;height:5px"></i><i class="c3" style="top:32px;height:8px"></i><i class="c4" style="top:40px;height:5px"></i><i class="c5" style="top:45px;height:8px"></i><i class="c6" style="top:53px;height:10px"></i><i class="c7" style="top:63px;height:5px"></i><i class="c8" style="top:68px;height:11px"></i><i class="c9" style="top:79px;height:12px"></i><i class="c10" style="top:91px;height:4px"></i><i class="c11" style="top:95px;height:10px"></i><i class="c12" style="top:105px;height:7px"></i><i class="c13" style="top:112px;height:6px"></i><i class="c14" style="top:118px;height:8px"></i><i class="c15" style="top:126px;height:5px"></i><i class="c16" style="top:131px;height:4px"></i><i class="c17" style="top:135px;height:39px"></i><i class="c18" style="top:174px;height:2px"></i><i class="c19" style="top:176px;height:1px"></i><i class="c20" style="top:177px;height:1px"></i><i class="c21" style="top:178px;height:1px"></i><i class="c22" style="top:179px;height:1px"></i><i class="c23" style="top:180px;height:1px"></i><i class="c24" style="top:181px;height:1px"></i><i class="c25" style="top:182px;height:1px"></i><i class="c26" style="top:183px;height:1px"></i><i class="c27" style="top:184px;height:1px"></i><i class="c28" style="top:185px;height:1px"></i><i class="c29" style="top:186px;height:1px"></i><i class="c30" style="top:187px;height:1px"></i><i class="c31" style="top:188px;height:1px"></i><i class="c32" style="top:189px;height:1px"></i><i class="c33" style="top:190px;height:1px"></i><i class="c34" style="top:191px;height:1px"></i><i class="c35" style="top:192px;height:1px"></i><i class="c36" style="top:193px;height:1px"></i><i class="c37" style="top:194px;height:1px"></i><i class="c38" style="top:195px;height:1px"></i><i class="c39" style="top:196px;height:1px"></i><i class="c40" style="top:197px;height:1px"></i><i class="c41" style="top:198px;height:1px"></i><i class="c42" style="top:199px;height:1px"></i><i class="c43" style="top:200px;height:1px"></i><i class="c44" style="top:201px;height:1px"></i><i class="c45" style="top:202px;height:1px"></i><i class="c46" style="top:203px;height:1px"></i><i class="c47" style="top:204px;height:1px"></i><i class="c48" style="top:205px;height:1px"></i><i class="c49" style="top:206px;height:1px"></i><i class="c50" style="top:207px;height:1px"></i><i class="c51" style="top:208px;height:1px"></i><i class="c52" style="top:209px;height:1px"></i><i class="c53" style="top:210px;height:1px"></i><i class="c54" style="top:211px;height:1px"></i><i class="c55" style="top:212px;height:1px"></i><i class="c56" style="top:213px;height:1px"></i><i class="c57" style="top:214px;height:1px"></i><i class="c58" style="top:215px;height:1px"></i></div></div>
<div class="hm" style="left:286px;top:325px;width:166px;height:216px"><div class="hr" style="left:81px;width:85px"><i class="d0" style="top:0px;height:23px"></i><i class="d1" style="top:23px;height:4px"></i><i class="d2" style="top:27px;height:5px"></i><i class="d3" style="top:32px;height:8px"></i><i class="d4" style="top:40px;height:5px"></i><i class="d5" style="top:45px;height:8px"></i><i class="d6" style="top:53px;height:10px"></i><i class="d7" style="top:63px;height:5px"></i><i class="d8" style="top:68px;height:11px"></i><i class="d9" style="top:79px;height:12px"></i><i class="d10" style="top:91px;height:4px"></i><i class="d11" style="top:95px;height:10px"></i><i class="d12" style="top:105px;height:7px"></i><i class="d13" style="top:112px;height:6px"></i><i class="d14" style="top:118px;height:8px"></i><i class="d15" style="top:126px;height:5px"></i><i class="d16" style="top:131px;height:4px"></i><i class="d17" style="top:135px;height:39px"></i><i class="d18" style="top:174px;height:2px"></i><i class="d19" style="top:176px;height:1px"></i><i class="d20" style="top:177px;height:1px"></i><i class="d21" style="top:178px;height:1px"></i><i class="d22" style="top:179px;height:1px"></i><i class="d23" style="top:180px;height:1px"></i><i class="d24" style="top:181px;height:1px"></i><i class="d25" style="top:182px;height:1px"></i><i class="d26" style="top:183px;height:1px"></i><i class="d27" style="top:184px;height:1px"></i><i class="d28" style="top:185px;height:1px"></i><i class="d29" style="top:186px;height:1px"></i><i class="d30" style="top:187px;height:1px"></i><i class="d31" style="top:188px;height:1px"></i><i class="d32" style="top:189px;height:1px"></i><i class="d33" style="top:190px;height:1px"></i><i class="d34" style="top:191px;height:1px"></i><i class="d35" style="top:192px;height:1px"></i><i class="d36" style="top:193px;height:1px"></i><i class="d37" style="top:194px;height:1px"></i><i class="d38" style="top:195px;height:1px"></i><i class="d39" style="top:196px;height:1px"></i><i class="d40" style="top:197px;height:1px"></i><i class="d41" style="top:198px;height:1px"></i><i class="d42" style="top:199px;height:1px"></i><i class="d43" style="top:200px;height:1px"></i><i class="d44" style="top:201px;height:1px"></i><i class="d45" style="top:202px;height:1px"></i><i class="d46" style="top:203px;height:1px"></i><i class="d47" style="top:204px;height:1px"></i><i class="d48" style="top:205px;height:1px"></i><i class="d49" style="top:206px;height:1px"></i><i class="d50" style="top:207px;height:1px"></i><i class="d51" style="top:208px;height:1px"></i><i class="d52" style="top:209px;height:1px"></i><i class="d53" style="top:210px;height:1px"></i><i class="d54" style="top:211px;height:1px"></i><i class="d55" style="top:212px;height:1px"></i><i class="d56" style="top:213px;height:1px"></i><i class="d57" style="top:214px;height:1px"></i><i class="d58" style="top:215px;height:1px"></i></div><div class="hl" style="left:0;width:81px"><i class="d0" style="top:0px;height:23px"></i><i class="d1" style="top:23px;height:4px"></i><i class="d2" style="top:27px;height:5px"></i><i class="d3" style="top:32px;height:8px"></i><i class="d4" style="top:40px;height:5px"></i><i class="d5" style="top:45px;height:8px"></i><i class="d6" style="top:53px;height:10px"></i><i class="d7" style="top:63px;height:5px"></i><i class="d8" style="top:68px;height:11px"></i><i class="d9" style="top:79px;height:12px"></i><i class="d10" style="top:91px;height:4px"></i><i class="d11" style="top:95px;height:10px"></i><i class="d12" style="top:105px;height:7px"></i><i class="d13" style="top:112px;height:6px"></i><i class="d14" style="top:118px;height:8px"></i><i class="d15" style="top:126px;height:5px"></i><i class="d16" style="top:131px;height:4px"></i><i class="d17" style="top:135px;height:39px"></i><i class="d18" style="top:174px;height:2px"></i><i class="d19" style="top:176px;height:1px"></i><i class="d20" style="top:177px;height:1px"></i><i class="d21" style="top:178px;height:1px"></i><i class="d22" style="top:179px;height:1px"></i><i class="d23" style="top:180px;height:1px"></i><i class="d24" style="top:181px;height:1px"></i><i class="d25" style="top:182px;height:1px"></i><i class="d26" style="top:183px;height:1px"></i><i class="d27" style="top:184px;height:1px"></i><i class="d28" style="top:185px;height:1px"></i><i class="d29" style="top:186px;height:1px"></i><i class="d30" style="top:187px;height:1px"></i><i class="d31" style="top:188px;height:1px"></i><i class="d32" style="top:189px;height:1px"></i><i class="d33" style="top:190px;height:1px"></i><i class="d34" style="top:191px;height:1px"></i><i class="d35" style="top:192px;height:1px"></i><i class="d36" style="top:193px;height:1px"></i><i class="d37" style="top:194px;height:1px"></i><i class="d38" style="top:195px;height:1px"></i><i class="d39" style="top:196px;height:1px"></i><i class="d40" style="top:197px;height:1px"></i><i class="d41" style="top:198px;height:1px"></i><i class="d42" style="top:199px;height:1px"></i><i class="d43" style="top:200px;height:1px"></i><i class="d44" style="top:201px;height:1px"></i><i class="d45" style="top:202px;height:1px"></i><i class="d46" style="top:203px;height:1px"></i><i class="d47" style="top:204px;height:1px"></i><i class="d48" style="top:205px;height:1px"></i><i class="d49" style="top:206px;height:1px"></i><i class="d50" style="top:207px;height:1px"></i><i class="d51" style="top:208px;height:1px"></i><i class="d52" style="top:209px;height:1px"></i><i class="d53" style="top:210px;height:1px"></i><i class="d54" style="top:211px;height:1px"></i><i class="d55" style="top:212px;height:1px"></i><i class="d56" style="top:213px;height:1px"></i><i class="d57" style="top:214px;height:1px"></i><i class="d58" style="top:215px;height:1px"></i></div></div>
<div class="hm" style="left:508px;top:325px;width:166px;height:216px"><div class="hr" style="left:79px;width:87px"><i class="e0" style="top:0px;height:23px"></i><i class="e1" style="top:23px;height:4px"></i><i class="e2" style="top:27px;height:5px"></i><i class="e3" style="top:32px;height:8px"></i><i class="e4" style="top:40px;height:5px"></i><i class="e5" style="top:45px;height:8px"></i><i class="e6" style="top:53px;height:10px"></i><i class="e7" style="top:63px;height:5px"></i><i class="e8" style="top:68px;height:11px"></i><i class="e9" style="top:79px;height:12px"></i><i class="e10" style="top:91px;height:4px"></i><i class="e11" style="top:95px;height:10px"></i><i class="e12" style="top:105px;height:7px"></i><i class="e13" style="top:112px;height:6px"></i><i class="e14" style="top:118px;height:8px"></i><i class="e15" style="top:126px;height:5px"></i><i class="e16" style="top:131px;height:4px"></i><i class="e17" style="top:135px;height:39px"></i><i class="e18" style="top:174px;height:2px"></i><i class="e19" style="top:176px;height:1px"></i><i class="e20" style="top:177px;height:1px"></i><i class="e21" style="top:178px;height:1px"></i><i class="e22" style="top:179px;height:1px"></i><i class="e23" style="top:180px;height:1px"></i><i class="e24" style="top:181px;height:1px"></i><i class="e25" style="top:182px;height:1px"></i><i class="e26" style="top:183px;height:1px"></i><i class="e27" style="top:184px;height:1px"></i><i class="e28" style="top:185px;height:1px"></i><i class="e29" style="top:186px;height:1px"></i><i class="e30" style="top:187px;height:1px"></i><i class="e31" style="top:188px;height:1px"></i><i class="e32" style="top:189px;height:1px"></i><i class="e33" style="top:190px;height:1px"></i><i class="e34" style="top:191px;height:1px"></i><i class="e35" style="top:192px;height:1px"></i><i class="e36" style="top:193px;height:1px"></i><i class="e37" style="top:194px;height:1px"></i><i class="e38" style="top:195px;height:1px"></i><i class="e39" style="top:196px;height:1px"></i><i class="e40" style="top:197px;height:1px"></i><i class="e41" style="top:198px;height:1px"></i><i class="e42" style="top:199px;height:1px"></i><i class="e43" style="top:200px;height:1px"></i><i class="e44" style="top:201px;height:1px"></i><i class="e45" style="top:202px;height:1px"></i><i class="e46" style="top:203px;height:1px"></i><i class="e47" style="top:204px;height:1px"></i><i class="e48" style="top:205px;height:1px"></i><i class="e49" style="top:206px;height:1px"></i><i class="e50" style="top:207px;height:1px"></i><i class="e51" style="top:208px;height:1px"></i><i class="e52" style="top:209px;height:1px"></i><i class="e53" style="top:210px;height:1px"></i><i class="e54" style="top:211px;height:1px"></i><i class="e55" style="top:212px;height:1px"></i><i class="e56" style="top:213px;height:1px"></i><i class="e57" style="top:214px;height:1px"></i><i class="e58" style="top:215px;height:1px"></i></div><div class="hl" style="left:0;width:79px"><i class="e0" style="top:0px;height:23px"></i><i class="e1" style="top:23px;height:4px"></i><i class="e2" style="top:27px;height:5px"></i><i class="e3" style="top:32px;height:8px"></i><i class="e4" style="top:40px;height:5px"></i><i class="e5" style="top:45px;height:8px"></i><i class="e6" style="top:53px;height:10px"></i><i class="e7" style="top:63px;height:5px"></i><i class="e8" style="top:68px;height:11px"></i><i class="e9" style="top:79px;height:12px"></i><i class="e10" style="top:91px;height:4px"></i><i class="e11" style="top:95px;height:10px"></i><i class="e12" style="top:105px;height:7px"></i><i class="e13" style="top:112px;height:6px"></i><i class="e14" style="top:118px;height:8px"></i><i class="e15" style="top:126px;height:5px"></i><i class="e16" style="top:131px;height:4px"></i><i class="e17" style="top:135px;height:39px"></i><i class="e18" style="top:174px;height:2px"></i><i class="e19" style="top:176px;height:1px"></i><i class="e20" style="top:177px;height:1px"></i><i class="e21" style="top:178px;height:1px"></i><i class="e22" style="top:179px;height:1px"></i><i class="e23" style="top:180px;height:1px"></i><i class="e24" style="top:181px;height:1px"></i><i class="e25" style="top:182px;height:1px"></i><i class="e26" style="top:183px;height:1px"></i><i class="e27" style="top:184px;height:1px"></i><i class="e28" style="top:185px;height:1px"></i><i class="e29" style="top:186px;height:1px"></i><i class="e30" style="top:187px;height:1px"></i><i class="e31" style="top:188px;height:1px"></i><i class="e32" style="top:189px;height:1px"></i><i class="e33" style="top:190px;height:1px"></i><i class="e34" style="top:191px;height:1px"></i><i class="e35" style="top:192px;height:1px"></i><i class="e36" style="top:193px;height:1px"></i><i class="e37" style="top:194px;height:1px"></i><i class="e38" style="top:195px;height:1px"></i><i class="e39" style="top:196px;height:1px"></i><i class="e40" style="top:197px;height:1px"></i><i class="e41" style="top:198px;height:1px"></i><i class="e42" style="top:199px;height:1px"></i><i class="e43" style="top:200px;height:1px"></i><i class="e44" style="top:201px;height:1px"></i><i class="e45" style="top:202px;height:1px"></i><i class="e46" style="top:203px;height:1px"></i><i class="e47" style="top:204px;height:1px"></i><i class="e48" style="top:205px;height:1px"></i><i class="e49" style="top:206px;height:1px"></i><i class="e50" style="top:207px;height:1px"></i><i class="e51" style="top:208px;height:1px"></i><i class="e52" style="top:209px;height:1px"></i><i class="e53" style="top:210px;height:1px"></i><i class="e54" style="top:211px;height:1px"></i><i class="e55" style="top:212px;height:1px"></i><i class="e56" style="top:213px;height:1px"></i><i class="e57" style="top:214px;height:1px"></i><i class="e58" style="top:215px;height:1px"></i></div></div>
<svg width="685" height="583" viewBox="0 0 685 583">
<line x1="104.30" y1="25.80" x2="104.30" y2="241.70" stroke="#ebebeb" stroke-width="1" />
<line x1="153.11" y1="25.80" x2="153.11" y2="241.70" stroke="#ebebeb" stroke-width="1" />
<line x1="201.91" y1="25.80" x2="201.91" y2="241.70" stroke="#ebebeb" stroke-width="1" />
<line x1="250.71" y1="25.80" x2="250.71" y2="241.70" stroke="#ebebeb" stroke-width="1" />
<line x1="299.52" y1="25.80" x2="299.52" y2="241.70" stroke="#ebebeb" stroke-width="1" />
<line x1="65.26" y1="198.52" x2="328.80" y2="198.52" stroke="#ebebeb" stroke-width="1" />
<line x1="65.26" y1="155.34" x2="328.80" y2="155.34" stroke="#ebebeb" stroke-width="1" />
<line x1="65.26" y1="112.16" x2="328.80" y2="112.16" stroke="#ebebeb" stroke-width="1" />
<line x1="65.26" y1="68.98" x2="328.80" y2="68.98" stroke="#ebebeb" stroke-width="1" />
<line x1="65.26" y1="25.80" x2="328.80" y2="25.80" stroke="#ebebeb" stroke-width="1" />
<polyline points="65.26,187.72 75.02,128.57 84.78,102.66 94.54,71.57 104.30,69.41 114.06,68.98 123.82,88.41 133.59,111.30 143.35,132.45 153.11,164.84 162.87,182.54 172.63,204.57 182.39,213.63 192.15,226.59 201.91,236.95 211.67,232.20 221.43,236.52 231.19,237.38 240.95,239.97 250.71,241.27 260.47,241.48 270.24,241.48 280.00,241.48 289.76,241.48 299.52,241.48 309.28,241.48 319.04,241.48 328.80,241.48" fill="none" stroke="#4a4a4a" stroke-width="0.8"/>
<polyline points="65.26,189.45 75.02,129.43 84.78,102.66 94.54,67.25 104.30,68.98 114.06,68.98 123.82,89.71 133.59,112.59 143.35,135.05 153.11,168.29 162.87,186.43 172.63,208.45 182.39,217.52 192.15,228.75 201.91,240.40 211.67,233.06 221.43,240.84 231.19,240.84 240.95,241.27 250.71,241.27 260.47,241.48 270.24,241.48 280.00,241.48 289.76,241.48 299.52,241.48 309.28,241.48 319.04,241.48 328.80,241.48" fill="none" stroke="#ff0000" stroke-width="1.7" stroke-dasharray="5.8 6.2"/>
<polyline points="65.26,189.88 75.02,129.43 84.78,102.66 94.54,66.39 104.30,68.55 114.06,68.55 123.82,90.14 133.59,113.02 143.35,135.91 153.11,169.16 162.87,187.29 172.63,209.31 182.39,218.38 192.15,229.18 201.91,240.40 211.67,233.93 221.43,241.27 231.19,241.27 240.95,241.27 250.71,241.27 260.47,241.48 270.24,241.48 280.00,241.48 289.76,241.48 299.52,241.48 309.28,241.48 319.04,241.48 328.80,241.48" fill="none" stroke="#0000ff" stroke-width="1.7" stroke-dasharray="5.8 1.6 2.6 2"/>
<line x1="65.26" y1="25.80" x2="65.26" y2="242.20" stroke="#6f6f6f" stroke-width="1" />
<line x1="64.76" y1="241.70" x2="328.80" y2="241.70" stroke="#6f6f6f" stroke-width="1" />
<line x1="59.76" y1="241.70" x2="65.26" y2="241.70" stroke="#6f6f6f" stroke-width="1" />
<line x1="62.46" y1="233.06" x2="65.26" y2="233.06" stroke="#6f6f6f" stroke-width="1" />
<line x1="62.46" y1="224.43" x2="65.26" y2="224.43" stroke="#6f6f6f" stroke-width="1" />
<line x1="62.46" y1="215.79" x2="65.26" y2="215.79" stroke="#6f6f6f" stroke-width="1" />
<line x1="62.46" y1="207.16" x2="65.26" y2="207.16" stroke="#6f6f6f" stroke-width="1" />
<line x1="59.76" y1="198.52" x2="65.26" y2="198.52" stroke="#6f6f6f" stroke-width="1" />
<line x1="62.46" y1="189.88" x2="65.26" y2="189.88" stroke="#6f6f6f" stroke-width="1" />
<line x1="62.46" y1="181.25" x2="65.26" y2="181.25" stroke="#6f6f6f" stroke-width="1" />
<line x1="62.46" y1="172.61" x2="65.26" y2="172.61" stroke="#6f6f6f" stroke-width="1" />
<line x1="62.46" y1="163.98" x2="65.26" y2="163.98" stroke="#6f6f6f" stroke-width="1" />
<line x1="59.76" y1="155.34" x2="65.26" y2="155.34" stroke="#6f6f6f" stroke-width="1" />
<line x1="62.46" y1="146.70" x2="65.26" y2="146.70" stroke="#6f6f6f" stroke-width="1" />
<line x1="62.46" y1="138.07" x2="65.26" y2="138.07" stroke="#6f6f6f" stroke-width="1" />
<line x1="62.46" y1="129.43" x2="65.26" y2="129.43" stroke="#6f6f6f" stroke-width="1" />
<line x1="62.46" y1="120.80" x2="65.26" y2="120.80" stroke="#6f6f6f" stroke-width="1" />
<line x1="59.76" y1="112.16" x2="65.26" y2="112.16" stroke="#6f6f6f" stroke-width="1" />
<line x1="62.46" y1="103.52" x2="65.26" y2="103.52" stroke="#6f6f6f" stroke-width="1" />
<line x1="62.46" y1="94.89" x2="65.26" y2="94.89" stroke="#6f6f6f" stroke-width="1" />
<line x1="62.46" y1="86.25" x2="65.26" y2="86.25" stroke="#6f6f6f" stroke-width="1" />
<line x1="62.46" y1="77.62" x2="65.26" y2="77.62" stroke="#6f6f6f" stroke-width="1" />
<line x1="59.76" y1="68.98" x2="65.26" y2="68.98" stroke="#6f6f6f" stroke-width="1" />
<line x1="62.46" y1="60.34" x2="65.26" y2="60.34" stroke="#6f6f6f" stroke-width="1" />
<line x1="62.46" y1="51.71" x2="65.26" y2="51.71" stroke="#6f6f6f" stroke-width="1" />
<line x1="62.46" y1="43.07" x2="65.26" y2="43.07" stroke="#6f6f6f" stroke-width="1" />
<line x1="62.46" y1="34.44" x2="65.26" y2="34.44" stroke="#6f6f6f" stroke-width="1" />
<line x1="59.76" y1="25.80" x2="65.26" y2="25.80" stroke="#6f6f6f" stroke-width="1" />
<line x1="65.26" y1="241.70" x2="65.26" y2="244.30" stroke="#6f6f6f" stroke-width="1" />
<line x1="75.02" y1="241.70" x2="75.02" y2="244.30" stroke="#6f6f6f" stroke-width="1" />
<line x1="84.78" y1="241.70" x2="84.78" y2="244.30" stroke="#6f6f6f" stroke-width="1" />
<line x1="94.54" y1="241.70" x2="94.54" y2="244.30" stroke="#6f6f6f" stroke-width="1" />
<line x1="104.30" y1="241.70" x2="104.30" y2="246.30" stroke="#6f6f6f" stroke-width="1" />
<line x1="114.06" y1="241.70" x2="114.06" y2="244.30" stroke="#6f6f6f" stroke-width="1" />
<line x1="123.82" y1="241.70" x2="123.82" y2="244.30" stroke="#6f6f6f" stroke-width="1" />
<line x1="133.59" y1="241.70" x2="133.59" y2="244.30" stroke="#6f6f6f" stroke-width="1" />
<line x1="143.35" y1="241.70" x2="143.35" y2="244.30" stroke="#6f6f6f" stroke-width="1" />
<line x1="153.11" y1="241.70" x2="153.11" y2="246.30" stroke="#6f6f6f" stroke-width="1" />
<line x1="162.87" y1="241.70" x2="162.87" y2="244.30" stroke="#6f6f6f" stroke-width="1" />
<line x1="172.63" y1="241.70" x2="172.63" y2="244.30" stroke="#6f6f6f" stroke-width="1" />
<line x1="182.39" y1="241.70" x2="182.39" y2="244.30" stroke="#6f6f6f" stroke-width="1" />
<line x1="192.15" y1="241.70" x2="192.15" y2="244.30" stroke="#6f6f6f" stroke-width="1" />
<line x1="201.91" y1="241.70" x2="201.91" y2="246.30" stroke="#6f6f6f" stroke-width="1" />
<line x1="211.67" y1="241.70" x2="211.67" y2="244.30" stroke="#6f6f6f" stroke-width="1" />
<line x1="221.43" y1="241.70" x2="221.43" y2="244.30" stroke="#6f6f6f" stroke-width="1" />
<line x1="231.19" y1="241.70" x2="231.19" y2="244.30" stroke="#6f6f6f" stroke-width="1" />
<line x1="240.95" y1="241.70" x2="240.95" y2="244.30" stroke="#6f6f6f" stroke-width="1" />
<line x1="250.71" y1="241.70" x2="250.71" y2="246.30" stroke="#6f6f6f" stroke-width="1" />
<line x1="260.47" y1="241.70" x2="260.47" y2="244.30" stroke="#6f6f6f" stroke-width="1" />
<line x1="270.24" y1="241.70" x2="270.24" y2="244.30" stroke="#6f6f6f" stroke-width="1" />
<line x1="280.00" y1="241.70" x2="280.00" y2="244.30" stroke="#6f6f6f" stroke-width="1" />
<line x1="289.76" y1="241.70" x2="289.76" y2="244.30" stroke="#6f6f6f" stroke-width="1" />
<line x1="299.52" y1="241.70" x2="299.52" y2="246.30" stroke="#6f6f6f" stroke-width="1" />
<line x1="309.28" y1="241.70" x2="309.28" y2="244.30" stroke="#6f6f6f" stroke-width="1" />
<line x1="319.04" y1="241.70" x2="319.04" y2="244.30" stroke="#6f6f6f" stroke-width="1" />
<line x1="328.80" y1="241.70" x2="328.80" y2="244.30" stroke="#6f6f6f" stroke-width="1" />
<text transform="translate(55.36,241.70) scale(1,1.14)" y="3.75" font-size="11" text-anchor="end" fill="#3c3c3c" stroke="#3c3c3c" stroke-width="0.22">0</text>
<text transform="translate(55.36,198.52) scale(1,1.14)" y="3.75" font-size="11" text-anchor="end" fill="#3c3c3c" stroke="#3c3c3c" stroke-width="0.22">0.1</text>
<text transform="translate(55.36,155.34) scale(1,1.14)" y="3.75" font-size="11" text-anchor="end" fill="#3c3c3c" stroke="#3c3c3c" stroke-width="0.22">0.2</text>
<text transform="translate(55.36,112.16) scale(1,1.14)" y="3.75" font-size="11" text-anchor="end" fill="#3c3c3c" stroke="#3c3c3c" stroke-width="0.22">0.3</text>
<text transform="translate(55.36,68.98) scale(1,1.14)" y="3.75" font-size="11" text-anchor="end" fill="#3c3c3c" stroke="#3c3c3c" stroke-width="0.22">0.4</text>
<text transform="translate(55.36,25.80) scale(1,1.14)" y="3.75" font-size="11" text-anchor="end" fill="#3c3c3c" stroke="#3c3c3c" stroke-width="0.22">0.5</text>
<text transform="translate(104.30,257.20) scale(1,1.14)" y="3.75" font-size="11" text-anchor="middle" fill="#3c3c3c" stroke="#3c3c3c" stroke-width="0.22">5</text>
<text transform="translate(153.11,257.20) scale(1,1.14)" y="3.75" font-size="11" text-anchor="middle" fill="#3c3c3c" stroke="#3c3c3c" stroke-width="0.22">10</text>
<text transform="translate(201.91,257.20) scale(1,1.14)" y="3.75" font-size="11" text-anchor="middle" fill="#3c3c3c" stroke="#3c3c3c" stroke-width="0.22">15</text>
<text transform="translate(250.71,257.20) scale(1,1.14)" y="3.75" font-size="11" text-anchor="middle" fill="#3c3c3c" stroke="#3c3c3c" stroke-width="0.22">20</text>
<text transform="translate(299.52,257.20) scale(1,1.14)" y="3.75" font-size="11" text-anchor="middle" fill="#3c3c3c" stroke="#3c3c3c" stroke-width="0.22">25</text>
<text x="197.10" y="275.20" font-size="12.2" text-anchor="middle" fill="#3c3c3c" stroke="#3c3c3c" stroke-width="0.15">mode number</text>
<text transform="translate(37.4,133.2) rotate(-90)" font-size="12.2" text-anchor="middle" fill="#3c3c3c" stroke="#3c3c3c" stroke-width="0.15">modal amplitude</text>
<rect x="259.5" y="32.5" width="63.2" height="38.7" fill="#fff" stroke="#2a2a2a" stroke-width="0.9"/>
<line x1="262.80" y1="40.00" x2="286.60" y2="40.00" stroke="#bdbdbd" stroke-width="1.4" />
<line x1="263.00" y1="51.80" x2="281.00" y2="51.80" stroke="#ff0000" stroke-width="1.7" stroke-dasharray="5.8 6.2"/>
<line x1="263.00" y1="63.40" x2="286.50" y2="63.40" stroke="#0000ff" stroke-width="1.7" stroke-dasharray="5.8 1.6 2.6 2"/>
<text x="289.20" y="43.10" font-size="10" text-anchor="start" fill="#111" >100 m</text>
<text x="289.20" y="54.80" font-size="10" text-anchor="start" fill="#111" >500 m</text>
<text x="289.20" y="66.50" font-size="10" text-anchor="start" fill="#111" >1000 m</text>
<line x1="419.00" y1="26.40" x2="419.00" y2="241.90" stroke="#ebebeb" stroke-width="1" />
<line x1="544.50" y1="26.40" x2="544.50" y2="241.90" stroke="#ebebeb" stroke-width="1" />
<line x1="670.00" y1="26.40" x2="670.00" y2="241.90" stroke="#ebebeb" stroke-width="1" />
<line x1="412.60" y1="26.40" x2="676.50" y2="26.40" stroke="#ebebeb" stroke-width="1" />
<line x1="412.60" y1="69.50" x2="676.50" y2="69.50" stroke="#ebebeb" stroke-width="1" />
<line x1="412.60" y1="112.60" x2="676.50" y2="112.60" stroke="#ebebeb" stroke-width="1" />
<line x1="412.60" y1="155.70" x2="676.50" y2="155.70" stroke="#ebebeb" stroke-width="1" />
<line x1="412.60" y1="198.80" x2="676.50" y2="198.80" stroke="#ebebeb" stroke-width="1" />
<polyline points="544.50,26.40 546.21,26.62 547.92,26.83 549.63,27.05 551.34,27.26 553.04,27.48 554.75,27.69 556.45,27.91 558.15,28.12 559.85,28.34 561.55,28.55 563.24,28.77 564.93,28.99 566.62,29.20 568.30,29.42 569.98,29.63 571.66,29.85 573.33,30.06 575.00,30.28 576.66,30.49 578.31,30.71 579.96,30.93 581.60,31.14 583.24,31.36 584.87,31.57 586.50,31.79 588.11,32.00 589.72,32.22 591.32,32.43 592.92,32.65 594.50,32.87 596.08,33.08 597.65,33.30 599.21,33.51 600.76,33.73 602.30,33.94 603.83,34.16 605.35,34.37 606.86,34.59 608.36,34.80 609.85,35.02 611.33,35.24 612.80,35.45 614.25,35.67 615.69,35.88 617.13,36.10 618.55,36.31 619.95,36.53 621.35,36.74 622.73,36.96 624.09,37.17 625.45,37.39 626.79,37.61 628.12,37.82 629.43,38.04 630.73,38.25 632.01,38.47 633.28,38.68 634.53,38.90 635.77,39.11 637.00,39.33 638.20,39.55 639.40,39.76 640.57,39.98 641.73,40.19 642.87,40.41 644.00,40.62 645.11,40.84 646.20,41.05 647.28,41.27 648.34,41.48 649.38,41.70 650.40,41.92 651.41,42.13 652.39,42.35 653.36,42.56 654.31,42.78 655.24,42.99 656.16,43.21 657.05,43.42 657.93,43.64 658.78,43.86 659.62,44.07 660.43,44.29 661.23,44.50 662.01,44.72 662.77,44.93 663.51,45.15 664.22,45.36 664.92,45.58 665.60,45.79 666.26,46.01 666.89,46.23 667.51,46.44 668.10,46.66 668.68,46.87 669.23,47.09 669.76,47.30 670.27,47.52 670.76,47.73 671.23,47.95 671.68,48.17 672.10,48.38 672.51,48.60 672.89,48.81 673.25,49.03 673.59,49.24 673.90,49.46 674.20,49.67 674.47,49.89 674.72,50.10 674.95,50.32 675.16,50.54 675.34,50.75 675.51,50.97 675.65,51.18 675.76,51.40 675.86,51.61 675.93,51.83 675.99,52.04 676.02,52.26 676.02,52.48 676.01,52.69 675.97,52.91 675.91,53.12 675.83,53.34 675.73,53.55 675.60,53.77 675.45,53.98 675.28,54.20 675.09,54.41 674.88,54.63 674.64,54.85 674.38,55.06 674.10,55.28 673.80,55.49 673.48,55.71 673.13,55.92 672.76,56.14 672.37,56.35 671.96,56.57 671.53,56.79 671.08,57.00 670.60,57.22 670.10,57.43 669.59,57.65 669.05,57.86 668.49,58.08 667.91,58.29 667.31,58.51 666.68,58.72 666.04,58.94 665.38,59.16 664.69,59.37 663.99,59.59 663.26,59.80 662.52,60.02 661.75,60.23 660.97,60.45 660.16,60.66 659.34,60.88 658.50,61.10 657.64,61.31 656.75,61.53 655.85,61.74 654.93,61.96 654.00,62.17 653.04,62.39 652.07,62.60 651.07,62.82 650.06,63.03 649.03,63.25 647.99,63.47 646.92,63.68 645.84,63.90 644.74,64.11 643.63,64.33 642.50,64.54 641.35,64.76 640.18,64.97 639.00,65.19 637.80,65.41 636.59,65.62 635.36,65.84 634.12,66.05 632.86,66.27 631.59,66.48 630.30,66.70 628.99,66.91 627.68,67.13 626.34,67.34 625.00,67.56 623.64,67.78 622.27,67.99 620.88,68.21 619.48,68.42 618.07,68.64 616.65,68.85 615.21,69.07 613.77,69.28 612.31,69.50 610.84,69.72 609.36,69.93 607.86,70.15 606.36,70.36 604.84,70.58 603.32,70.79 601.79,71.01 600.24,71.22 598.69,71.44 597.13,71.66 595.56,71.87 593.98,72.09 592.39,72.30 590.79,72.52 589.19,72.73 587.57,72.95 585.96,73.16 584.33,73.38 582.70,73.59 581.06,73.81 579.41,74.03 577.76,74.24 576.10,74.46 574.44,74.67 572.77,74.89 571.10,75.10 569.42,75.32 567.74,75.53 566.06,75.75 564.37,75.97 562.68,76.18 560.98,76.40 559.29,76.61 557.59,76.83 555.88,77.04 554.18,77.26 552.47,77.47 550.77,77.69 549.06,77.90 547.35,78.12 545.64,78.34 543.93,78.55 542.22,78.77 540.51,78.98 538.80,79.20 537.09,79.41 535.39,79.63 533.68,79.84 531.98,80.06 530.28,80.28 528.58,80.49 526.89,80.71 525.19,80.92 523.50,81.14 521.82,81.35 520.13,81.57 518.46,81.78 516.78,82.00 515.11,82.21 513.45,82.43 511.79,82.65 510.14,82.86 508.49,83.08 506.85,83.29 505.21,83.51 503.59,83.72 501.96,83.94 500.35,84.15 498.74,84.37 497.14,84.59 495.55,84.80 493.97,85.02 492.40,85.23 490.83,85.45 489.27,85.66 487.73,85.88 486.19,86.09 484.66,86.31 483.14,86.52 481.64,86.74 480.14,86.96 478.66,87.17 477.18,87.39 475.72,87.60 474.27,87.82 472.83,88.03 471.40,88.25 469.98,88.46 468.58,88.68 467.19,88.90 465.82,89.11 464.45,89.33 463.10,89.54 461.77,89.76 460.44,89.97 459.14,90.19 457.84,90.40 456.56,90.62 455.30,90.83 454.05,91.05 452.82,91.27 451.60,91.48 450.40,91.70 449.21,91.91 448.04,92.13 446.89,92.34 445.75,92.56 444.63,92.77 443.52,92.99 442.44,93.21 441.37,93.42 440.31,93.64 439.28,93.85 438.26,94.07 437.26,94.28 436.28,94.50 435.32,94.71 434.38,94.93 433.45,95.14 432.54,95.36 431.66,95.58 430.79,95.79 429.94,96.01 429.11,96.22 428.30,96.44 427.51,96.65 426.73,96.87 425.98,97.08 425.25,97.30 424.54,97.52 423.85,97.73 423.18,97.95 422.53,98.16 421.90,98.38 421.29,98.59 420.70,98.81 420.14,99.02 419.59,99.24 419.07,99.45 418.56,99.67 418.08,99.89 417.62,100.10 417.18,100.32 416.76,100.53 416.36,100.75 415.99,100.96 415.64,101.18 415.31,101.39 415.00,101.61 414.71,101.83 414.44,102.04 414.20,102.26 413.98,102.47 413.78,102.69 413.60,102.90 413.45,103.12 413.31,103.33 413.20,103.55 413.11,103.76 413.05,103.98 413.00,104.20 412.98,104.41 412.98,104.63 413.00,104.84 413.05,105.06 413.11,105.27 413.20,105.49 413.31,105.70 413.45,105.92 413.60,106.14 413.78,106.35 413.98,106.57 414.20,106.78 414.44,107.00 414.71,107.21 415.00,107.43 415.31,107.64 415.64,107.86 415.99,108.07 416.36,108.29 416.76,108.51 417.18,108.72 417.62,108.94 418.08,109.15 418.56,109.37 419.07,109.58 419.59,109.80 420.14,110.01 420.70,110.23 421.29,110.45 421.90,110.66 422.53,110.88 423.18,111.09 423.85,111.31 424.54,111.52 425.25,111.74 425.98,111.95 426.73,112.17 427.51,112.38 428.30,112.60 429.11,112.82 429.94,113.03 430.79,113.25 431.66,113.46 432.54,113.68 433.45,113.89 434.38,114.11 435.32,114.32 436.28,114.54 437.26,114.76 438.26,114.97 439.28,115.19 440.31,115.40 441.37,115.62 442.44,115.83 443.52,116.05 444.63,116.26 445.75,116.48 446.89,116.69 448.04,116.91 449.21,117.13 450.40,117.34 451.60,117.56 452.82,117.77 454.05,117.99 455.30,118.20 456.56,118.42 457.84,118.63 459.14,118.85 460.44,119.07 461.77,119.28 463.10,119.50 464.45,119.71 465.82,119.93 467.19,120.14 468.58,120.36 469.98,120.57 471.40,120.79 472.83,121.00 474.27,121.22 475.72,121.44 477.18,121.65 478.66,121.87 480.14,122.08 481.64,122.30 483.14,122.51 484.66,122.73 486.19,122.94 487.73,123.16 489.27,123.38 490.83,123.59 492.40,123.81 493.97,124.02 495.55,124.24 497.14,124.45 498.74,124.67 500.35,124.88 501.96,125.10 503.59,125.31 505.21,125.53 506.85,125.75 508.49,125.96 510.14,126.18 511.79,126.39 513.45,126.61 515.11,126.82 516.78,127.04 518.46,127.25 520.13,127.47 521.82,127.69 523.50,127.90 525.19,128.12 526.89,128.33 528.58,128.55 530.28,128.76 531.98,128.98 533.68,129.19 535.39,129.41 537.09,129.62 538.80,129.84 540.51,130.06 542.22,130.27 543.93,130.49 545.64,130.70 547.35,130.92 549.06,131.13 550.77,131.35 552.47,131.56 554.18,131.78 555.88,132.00 557.59,132.21 559.29,132.43 560.98,132.64 562.68,132.86 564.37,133.07 566.06,133.29 567.74,133.50 569.42,133.72 571.10,133.93 572.77,134.15 574.44,134.37 576.10,134.58 577.76,134.80 579.41,135.01 581.06,135.23 582.70,135.44 584.33,135.66 585.96,135.87 587.57,136.09 589.19,136.31 590.79,136.52 592.39,136.74 593.98,136.95 595.56,137.17 597.13,137.38 598.69,137.60 600.24,137.81 601.79,138.03 603.32,138.24 604.84,138.46 606.36,138.68 607.86,138.89 609.36,139.11 610.84,139.32 612.31,139.54 613.77,139.75 615.21,139.97 616.65,140.18 618.07,140.40 619.48,140.62 620.88,140.83 622.27,141.05 623.64,141.26 625.00,141.48 626.34,141.69 627.68,141.91 628.99,142.12 630.30,142.34 631.59,142.55 632.86,142.77 634.12,142.99 635.36,143.20 636.59,143.42 637.80,143.63 639.00,143.85 640.18,144.06 641.35,144.28 642.50,144.49 643.63,144.71 644.74,144.93 645.84,145.14 646.92,145.36 647.99,145.57 649.03,145.79 650.06,146.00 651.07,146.22 652.07,146.43 653.04,146.65 654.00,146.86 654.93,147.08 655.85,147.30 656.75,147.51 657.64,147.73 658.50,147.94 659.34,148.16 660.16,148.37 660.97,148.59 661.75,148.80 662.52,149.02 663.26,149.24 663.99,149.45 664.69,149.67 665.38,149.88 666.04,150.10 666.68,150.31 667.31,150.53 667.91,150.74 668.49,150.96 669.05,151.17 669.59,151.39 670.10,151.61 670.60,151.82 671.08,152.04 671.53,152.25 671.96,152.47 672.37,152.68 672.76,152.90 673.13,153.11 673.48,153.33 673.80,153.55 674.10,153.76 674.38,153.98 674.64,154.19 674.88,154.41 675.09,154.62 675.28,154.84 675.45,155.05 675.60,155.27 675.73,155.48 675.83,155.70 675.91,155.92 675.97,156.13 676.01,156.35 676.02,156.56 676.02,156.78 675.99,156.99 675.93,157.21 675.86,157.42 675.76,157.64 675.65,157.86 675.51,158.07 675.34,158.29 675.16,158.50 674.95,158.72 674.72,158.93 674.47,159.15 674.20,159.36 673.90,159.58 673.59,159.79 673.25,160.01 672.89,160.23 672.51,160.44 672.10,160.66 671.68,160.87 671.23,161.09 670.76,161.30 670.27,161.52 669.76,161.73 669.23,161.95 668.68,162.17 668.10,162.38 667.51,162.60 666.89,162.81 666.26,163.03 665.60,163.24 664.92,163.46 664.22,163.67 663.51,163.89 662.77,164.10 662.01,164.32 661.23,164.54 660.43,164.75 659.62,164.97 658.78,165.18 657.93,165.40 657.05,165.61 656.16,165.83 655.24,166.04 654.31,166.26 653.36,166.48 652.39,166.69 651.41,166.91 650.40,167.12 649.38,167.34 648.34,167.55 647.28,167.77 646.20,167.98 645.11,168.20 644.00,168.41 642.87,168.63 641.73,168.85 640.57,169.06 639.40,169.28 638.20,169.49 637.00,169.71 635.77,169.92 634.53,170.14 633.28,170.35 632.01,170.57 630.73,170.79 629.43,171.00 628.12,171.22 626.79,171.43 625.45,171.65 624.09,171.86 622.73,172.08 621.35,172.29 619.95,172.51 618.55,172.72 617.13,172.94 615.69,173.16 614.25,173.37 612.80,173.59 611.33,173.80 609.85,174.02 608.36,174.23 606.86,174.45 605.35,174.66 603.83,174.88 602.30,175.10 600.76,175.31 599.21,175.53 597.65,175.74 596.08,175.96 594.50,176.17 592.92,176.39 591.32,176.60 589.72,176.82 588.11,177.03 586.50,177.25 584.87,177.47 583.24,177.68 581.60,177.90 579.96,178.11 578.31,178.33 576.66,178.54 575.00,178.76 573.33,178.97 571.66,179.19 569.98,179.41 568.30,179.62 566.62,179.84 564.93,180.05 563.63,180.27 562.40,180.48 561.26,180.70 560.19,180.91 559.18,181.13 558.24,181.34 557.36,181.56 556.54,181.78 555.77,181.99 555.05,182.21 554.37,182.42 553.74,182.64 553.15,182.85 552.60,183.07 552.08,183.28 551.59,183.50 551.14,183.72 550.71,183.93 550.32,184.15 549.95,184.36 549.60,184.58 549.27,184.79 548.97,185.01 548.68,185.22 548.41,185.44 548.16,185.65 547.93,185.87 547.71,186.09 547.50,186.30 547.31,186.52 547.13,186.73 546.96,186.95 546.81,187.16 546.66,187.38 546.52,187.59 546.39,187.81 546.27,188.03 546.16,188.24 546.05,188.46 545.95,188.67 545.86,188.89 545.77,189.10 545.69,189.32 545.61,189.53 545.54,189.75 545.48,189.96 545.41,190.18 545.35,190.40 545.30,190.61 545.25,190.83 545.20,191.04 545.16,191.26 545.11,191.47 545.07,191.69 545.04,191.90 545.00,192.12 544.97,192.33 544.94,192.55 544.91,192.77 544.89,192.98 544.86,193.20 544.84,193.41 544.82,193.63 544.80,193.84 544.78,194.06 544.76,194.27 544.74,194.49 544.73,194.71 544.71,194.92 544.70,195.14 544.69,195.35 544.67,195.57 544.66,195.78 544.65,196.00 544.64,196.21 544.63,196.43 544.63,196.64 544.62,196.86 544.61,197.08 544.60,197.29 544.60,197.51" fill="none" stroke="#0a86cc" stroke-width="0.6"/>
<polyline points="544.50,26.40 546.78,26.62 549.06,26.83 551.34,27.05 553.61,27.26 555.88,27.48 558.15,27.69 560.42,27.91 562.68,28.12 564.93,28.34 567.18,28.55 569.42,28.77 571.66,28.99 573.89,29.20 576.10,29.42 578.31,29.63 580.51,29.85 582.70,30.06 584.87,30.28 587.04,30.49 589.19,30.71 591.32,30.93 593.45,31.14 595.56,31.36 597.65,31.57 599.73,31.79 601.79,32.00 603.83,32.22 605.86,32.43 607.86,32.65 609.85,32.87 611.82,33.08 613.77,33.30 615.69,33.51 617.60,33.73 619.48,33.94 621.35,34.16 623.18,34.37 625.00,34.59 626.79,34.80 628.56,35.02 630.30,35.24 632.01,35.45 633.70,35.67 635.36,35.88 637.00,36.10 638.60,36.31 640.18,36.53 641.73,36.74 643.25,36.96 644.74,37.17 646.20,37.39 647.63,37.61 649.03,37.82 650.40,38.04 651.74,38.25 653.04,38.47 654.31,38.68 655.55,38.90 656.75,39.11 657.93,39.33 659.06,39.55 660.16,39.76 661.23,39.98 662.27,40.19 663.26,40.41 664.22,40.62 665.15,40.84 666.04,41.05 666.89,41.27 667.71,41.48 668.49,41.70 669.23,41.92 669.93,42.13 670.60,42.35 671.23,42.56 671.82,42.78 672.37,42.99 672.89,43.21 673.36,43.42 673.80,43.64 674.20,43.86 674.56,44.07 674.88,44.29 675.16,44.50 675.40,44.72 675.60,44.93 675.76,45.15 675.89,45.36 675.97,45.58 676.02,45.79 676.02,46.01 675.99,46.23 675.91,46.44 675.80,46.66 675.65,46.87 675.45,47.09 675.22,47.30 674.95,47.52 674.64,47.73 674.29,47.95 673.90,48.17 673.48,48.38 673.01,48.60 672.51,48.81 671.96,49.03 671.38,49.24 670.76,49.46 670.10,49.67 669.41,49.89 668.68,50.10 667.91,50.32 667.10,50.54 666.26,50.75 665.38,50.97 664.46,51.18 663.51,51.40 662.52,51.61 661.49,51.83 660.43,52.04 659.34,52.26 658.21,52.48 657.05,52.69 655.85,52.91 654.62,53.12 653.36,53.34 652.07,53.55 650.74,53.77 649.38,53.98 647.99,54.20 646.56,54.41 645.11,54.63 643.63,54.85 642.11,55.06 640.57,55.28 639.00,55.49 637.40,55.71 635.77,55.92 634.12,56.14 632.44,56.35 630.73,56.57 628.99,56.79 627.23,57.00 625.45,57.22 623.64,57.43 621.81,57.65 619.95,57.86 618.07,58.08 616.17,58.29 614.25,58.51 612.31,58.72 610.34,58.94 608.36,59.16 606.36,59.37 604.34,59.59 602.30,59.80 600.24,60.02 598.17,60.23 596.08,60.45 593.98,60.66 591.86,60.88 589.72,61.10 587.57,61.31 585.41,61.53 583.24,61.74 581.06,61.96 578.86,62.17 576.66,62.39 574.44,62.60 572.22,62.82 569.98,63.03 567.74,63.25 565.50,63.47 563.24,63.68 560.98,63.90 558.72,64.11 556.45,64.33 554.18,64.54 551.91,64.76 549.63,64.97 547.35,65.19 545.07,65.41 542.79,65.62 540.51,65.84 538.23,66.05 535.96,66.27 533.68,66.48 531.41,66.70 529.15,66.91 526.89,67.13 524.63,67.34 522.38,67.56 520.13,67.78 517.90,67.99 515.67,68.21 513.45,68.42 511.24,68.64 509.04,68.85 506.85,69.07 504.67,69.28 502.50,69.50 500.35,69.72 498.21,69.93 496.08,70.15 493.97,70.36 491.87,70.58 489.79,70.79 487.73,71.01 485.68,71.22 483.65,71.44 481.64,71.66 479.64,71.87 477.67,72.09 475.72,72.30 473.79,72.52 471.87,72.73 469.98,72.95 468.12,73.16 466.27,73.38 464.45,73.59 462.66,73.81 460.88,74.03 459.14,74.24 457.41,74.46 455.72,74.67 454.05,74.89 452.41,75.10 450.80,75.32 449.21,75.53 447.65,75.75 446.13,75.97 444.63,76.18 443.16,76.40 441.72,76.61 440.31,76.83 438.94,77.04 437.59,77.26 436.28,77.47 435.00,77.69 433.76,77.90 432.54,78.12 431.36,78.34 430.22,78.55 429.11,78.77 428.03,78.98 426.99,79.20 425.98,79.41 425.01,79.63 424.08,79.84 423.18,80.06 422.32,80.28 421.49,80.49 420.70,80.71 419.95,80.92 419.24,81.14 418.56,81.35 417.92,81.57 417.32,81.78 416.76,82.00 416.24,82.21 415.75,82.43 415.31,82.65 414.90,82.86 414.53,83.08 414.20,83.29 413.91,83.51 413.66,83.72 413.45,83.94 413.27,84.15 413.14,84.37 413.05,84.59 412.99,84.80 412.98,85.02 413.00,85.23 413.07,85.45 413.17,85.66 413.31,85.88 413.49,86.09 413.72,86.31 413.98,86.52 414.28,86.74 414.62,86.96 415.00,87.17 415.41,87.39 415.87,87.60 416.36,87.82 416.90,88.03 417.47,88.25 418.08,88.46 418.73,88.68 419.41,88.90 420.14,89.11 420.90,89.33 421.69,89.54 422.53,89.76 423.40,89.97 424.31,90.19 425.25,90.40 426.23,90.62 427.25,90.83 428.30,91.05 429.38,91.27 430.50,91.48 431.66,91.70 432.84,91.91 434.07,92.13 435.32,92.34 436.61,92.56 437.93,92.77 439.28,92.99 440.66,93.21 442.08,93.42 443.52,93.64 445.00,93.85 446.50,94.07 448.04,94.28 449.60,94.50 451.20,94.71 452.82,94.93 454.47,95.14 456.14,95.36 457.84,95.58 459.57,95.79 461.32,96.01 463.10,96.22 464.91,96.44 466.73,96.65 468.58,96.87 470.45,97.08 472.35,97.30 474.27,97.52 476.20,97.73 478.16,97.95 480.14,98.16 482.14,98.38 484.16,98.59 486.19,98.81 488.24,99.02 490.31,99.24 492.40,99.45 494.50,99.67 496.61,99.89 498.74,100.10 500.89,100.32 503.04,100.53 505.21,100.75 507.40,100.96 509.59,101.18 511.79,101.39 514.00,101.61 516.23,101.83 518.46,102.04 520.70,102.26 522.94,102.47 525.19,102.69 527.45,102.90 529.71,103.12 531.98,103.33 534.25,103.55 536.53,103.76 538.80,103.98 541.08,104.20 543.36,104.41 545.64,104.63 547.92,104.84 550.20,105.06 552.47,105.27 554.75,105.49 557.02,105.70 559.29,105.92 561.55,106.14 563.81,106.35 566.06,106.57 568.30,106.78 570.54,107.00 572.77,107.21 575.00,107.43 577.21,107.64 579.41,107.86 581.60,108.07 583.79,108.29 585.96,108.51 588.11,108.72 590.26,108.94 592.39,109.15 594.50,109.37 596.60,109.58 598.69,109.80 600.76,110.01 602.81,110.23 604.84,110.45 606.86,110.66 608.86,110.88 610.84,111.09 612.80,111.31 614.73,111.52 616.65,111.74 618.55,111.95 620.42,112.17 622.27,112.38 624.09,112.60 625.90,112.82 627.68,113.03 629.43,113.25 631.16,113.46 632.86,113.68 634.53,113.89 636.18,114.11 637.80,114.32 639.40,114.54 640.96,114.76 642.50,114.97 644.00,115.19 645.48,115.40 646.92,115.62 648.34,115.83 649.72,116.05 651.07,116.26 652.39,116.48 653.68,116.69 654.93,116.91 656.16,117.13 657.34,117.34 658.50,117.56 659.62,117.77 660.70,117.99 661.75,118.20 662.77,118.42 663.75,118.63 664.69,118.85 665.60,119.07 666.47,119.28 667.31,119.50 668.10,119.71 668.86,119.93 669.59,120.14 670.27,120.36 670.92,120.57 671.53,120.79 672.10,121.00 672.64,121.22 673.13,121.44 673.59,121.65 674.00,121.87 674.38,122.08 674.72,122.30 675.02,122.51 675.28,122.73 675.51,122.94 675.69,123.16 675.83,123.38 675.93,123.59 676.00,123.81 676.02,124.02 676.01,124.24 675.95,124.45 675.86,124.67 675.73,124.88 675.55,125.10 675.34,125.31 675.09,125.53 674.80,125.75 674.47,125.96 674.10,126.18 673.69,126.39 673.25,126.61 672.76,126.82 672.24,127.04 671.68,127.25 671.08,127.47 670.44,127.69 669.76,127.90 669.05,128.12 668.30,128.33 667.51,128.55 666.68,128.76 665.82,128.98 664.92,129.19 663.99,129.41 663.02,129.62 662.01,129.84 660.97,130.06 659.89,130.27 658.78,130.49 657.64,130.70 656.46,130.92 655.24,131.13 654.00,131.35 652.72,131.56 651.41,131.78 650.06,132.00 648.69,132.21 647.28,132.43 645.84,132.64 644.37,132.86 642.87,133.07 641.35,133.29 639.79,133.50 638.20,133.72 636.59,133.93 634.95,134.15 633.28,134.37 631.59,134.58 629.86,134.80 628.12,135.01 626.34,135.23 624.55,135.44 622.73,135.66 620.88,135.87 619.02,136.09 617.13,136.31 615.21,136.52 613.28,136.74 611.33,136.95 609.36,137.17 607.36,137.38 605.35,137.60 603.32,137.81 601.27,138.03 599.21,138.24 597.13,138.46 595.03,138.68 592.92,138.89 590.79,139.11 588.65,139.32 586.50,139.54 584.33,139.75 582.15,139.97 579.96,140.18 577.76,140.40 575.55,140.62 573.33,140.83 571.10,141.05 568.87,141.26 566.62,141.48 564.37,141.69 562.11,141.91 559.85,142.12 557.59,142.34 555.32,142.55 553.04,142.77 550.77,142.99 548.49,143.20 546.21,143.42 543.93,143.63 541.65,143.85 539.37,144.06 537.09,144.28 534.82,144.49 532.55,144.71 530.28,144.93 528.02,145.14 525.76,145.36 523.50,145.57 521.26,145.79 519.02,146.00 516.78,146.22 514.56,146.43 512.34,146.65 510.14,146.86 507.94,147.08 505.76,147.30 503.59,147.51 501.43,147.73 499.28,147.94 497.14,148.16 495.02,148.37 492.92,148.59 490.83,148.80 488.76,149.02 486.70,149.24 484.66,149.45 482.64,149.67 480.64,149.88 478.66,150.10 476.69,150.31 474.75,150.53 472.83,150.74 470.93,150.96 469.05,151.17 467.19,151.39 465.36,151.61 463.55,151.82 461.77,152.04 460.01,152.25 458.27,152.47 456.56,152.68 454.88,152.90 453.23,153.11 451.60,153.33 450.00,153.55 448.43,153.76 446.89,153.98 445.37,154.19 443.89,154.41 442.44,154.62 441.01,154.84 439.62,155.05 438.26,155.27 436.93,155.48 435.64,155.70 434.38,155.92 433.15,156.13 431.95,156.35 430.79,156.56 429.66,156.78 428.57,156.99 427.51,157.21 426.48,157.42 425.49,157.64 424.54,157.86 423.62,158.07 422.74,158.29 421.90,158.50 421.09,158.72 420.32,158.93 419.59,159.15 418.90,159.36 418.24,159.58 417.62,159.79 417.04,160.01 416.49,160.23 415.99,160.44 415.52,160.66 415.10,160.87 414.71,161.09 414.36,161.30 414.05,161.52 413.78,161.73 413.55,161.95 413.35,162.17 413.20,162.38 413.09,162.60 413.01,162.81 412.98,163.03 412.98,163.24 413.03,163.46 413.11,163.67 413.24,163.89 413.40,164.10 413.60,164.32 413.84,164.54 414.12,164.75 414.44,164.97 414.80,165.18 415.20,165.40 415.64,165.61 416.11,165.83 416.63,166.04 417.18,166.26 417.77,166.48 418.40,166.69 419.07,166.91 419.77,167.12 420.51,167.34 421.29,167.55 422.11,167.77 422.96,167.98 423.85,168.20 424.78,168.41 425.74,168.63 426.73,168.85 427.77,169.06 428.84,169.28 429.94,169.49 431.07,169.71 432.25,169.92 433.45,170.14 434.69,170.35 435.96,170.57 437.26,170.79 438.60,171.00 439.97,171.22 441.37,171.43 442.80,171.65 444.26,171.86 445.75,172.08 447.27,172.29 448.82,172.51 450.40,172.72 452.00,172.94 453.64,173.16 455.30,173.37 456.99,173.59 458.70,173.80 460.44,174.02 462.21,174.23 464.00,174.45 465.82,174.66 467.65,174.88 469.52,175.10 471.40,175.31 473.31,175.53 475.23,175.74 477.18,175.96 479.15,176.17 481.14,176.39 483.14,176.60 485.17,176.82 487.21,177.03 489.27,177.25 491.35,177.47 493.44,177.68 495.55,177.90 497.68,178.11 499.81,178.33 501.96,178.54 504.13,178.76 506.30,178.97 508.49,179.19 510.69,179.41 512.90,179.62 515.11,179.84 517.34,180.05 519.07,180.27 520.68,180.48 522.20,180.70 523.62,180.91 524.95,181.13 526.19,181.34 527.35,181.56 528.44,181.78 529.46,181.99 530.42,182.21 531.32,182.42 532.15,182.64 532.94,182.85 533.67,183.07 534.36,183.28 535.01,183.50 535.61,183.72 536.18,183.93 536.71,184.15 537.20,184.36 537.67,184.58 538.10,184.79 538.51,185.01 538.89,185.22 539.25,185.44 539.58,185.65 539.89,185.87 540.19,186.09 540.46,186.30 540.72,186.52 540.96,186.73 541.18,186.95 541.39,187.16 541.59,187.38 541.78,187.59 541.95,187.81 542.11,188.03 542.26,188.24 542.41,188.46 542.54,188.67 542.66,188.89 542.78,189.10 542.89,189.32 542.99,189.53 543.09,189.75 543.18,189.96 543.26,190.18 543.34,190.40 543.41,190.61 543.48,190.83 543.55,191.04 543.61,191.26 543.67,191.47 543.72,191.69 543.77,191.90 543.81,192.12 543.86,192.33 543.90,192.55 543.94,192.77 543.97,192.98 544.01,193.20 544.04,193.41 544.07,193.63 544.09,193.84 544.12,194.06 544.14,194.27 544.17,194.49 544.19,194.71 544.21,194.92 544.23,195.14 544.24,195.35 544.26,195.57 544.28,195.78 544.29,196.00 544.30,196.21 544.32,196.43 544.33,196.64 544.34,196.86 544.35,197.08 544.36,197.29 544.37,197.51 544.38,197.72 544.38,197.94 544.39,198.15 544.40,198.37 544.40,198.58" fill="none" stroke="#e0502a" stroke-width="0.6"/>
<polyline points="544.50,26.40 547.35,26.62 550.20,26.83 553.04,27.05 555.88,27.26 558.72,27.48 561.55,27.69 564.37,27.91 567.18,28.12 569.98,28.34 572.77,28.55 575.55,28.77 578.31,28.99 581.06,29.20 583.79,29.42 586.50,29.63 589.19,29.85 591.86,30.06 594.50,30.28 597.13,30.49 599.73,30.71 602.30,30.93 604.84,31.14 607.36,31.36 609.85,31.57 612.31,31.79 614.73,32.00 617.13,32.22 619.48,32.43 621.81,32.65 624.09,32.87 626.34,33.08 628.56,33.30 630.73,33.51 632.86,33.73 634.95,33.94 637.00,34.16 639.00,34.37 640.96,34.59 642.87,34.80 644.74,35.02 646.56,35.24 648.34,35.45 650.06,35.67 651.74,35.88 653.36,36.10 654.93,36.31 656.46,36.53 657.93,36.74 659.34,36.96 660.70,37.17 662.01,37.39 663.26,37.61 664.46,37.82 665.60,38.04 666.68,38.25 667.71,38.47 668.68,38.68 669.59,38.90 670.44,39.11 671.23,39.33 671.96,39.55 672.64,39.76 673.25,39.98 673.80,40.19 674.29,40.41 674.72,40.62 675.09,40.84 675.40,41.05 675.65,41.27 675.83,41.48 675.95,41.70 676.02,41.92 676.02,42.13 675.95,42.35 675.83,42.56 675.65,42.78 675.40,42.99 675.09,43.21 674.72,43.42 674.29,43.64 673.80,43.86 673.25,44.07 672.64,44.29 671.96,44.50 671.23,44.72 670.44,44.93 669.59,45.15 668.68,45.36 667.71,45.58 666.68,45.79 665.60,46.01 664.46,46.23 663.26,46.44 662.01,46.66 660.70,46.87 659.34,47.09 657.93,47.30 656.46,47.52 654.93,47.73 653.36,47.95 651.74,48.17 650.06,48.38 648.34,48.60 646.56,48.81 644.74,49.03 642.87,49.24 640.96,49.46 639.00,49.67 637.00,49.89 634.95,50.10 632.86,50.32 630.73,50.54 628.56,50.75 626.34,50.97 624.09,51.18 621.81,51.40 619.48,51.61 617.13,51.83 614.73,52.04 612.31,52.26 609.85,52.48 607.36,52.69 604.84,52.91 602.30,53.12 599.73,53.34 597.13,53.55 594.50,53.77 591.86,53.98 589.19,54.20 586.50,54.41 583.79,54.63 581.06,54.85 578.31,55.06 575.55,55.28 572.77,55.49 569.98,55.71 567.18,55.92 564.37,56.14 561.55,56.35 558.72,56.57 555.88,56.79 553.04,57.00 550.20,57.22 547.35,57.43 544.50,57.65 541.65,57.86 538.80,58.08 535.96,58.29 533.12,58.51 530.28,58.72 527.45,58.94 524.63,59.16 521.82,59.37 519.02,59.59 516.23,59.80 513.45,60.02 510.69,60.23 507.94,60.45 505.21,60.66 502.50,60.88 499.81,61.10 497.14,61.31 494.50,61.53 491.87,61.74 489.27,61.96 486.70,62.17 484.16,62.39 481.64,62.60 479.15,62.82 476.69,63.03 474.27,63.25 471.87,63.47 469.52,63.68 467.19,63.90 464.91,64.11 462.66,64.33 460.44,64.54 458.27,64.76 456.14,64.97 454.05,65.19 452.00,65.41 450.00,65.62 448.04,65.84 446.13,66.05 444.26,66.27 442.44,66.48 440.66,66.70 438.94,66.91 437.26,67.13 435.64,67.34 434.07,67.56 432.54,67.78 431.07,67.99 429.66,68.21 428.30,68.42 426.99,68.64 425.74,68.85 424.54,69.07 423.40,69.28 422.32,69.50 421.29,69.72 420.32,69.93 419.41,70.15 418.56,70.36 417.77,70.58 417.04,70.79 416.36,71.01 415.75,71.22 415.20,71.44 414.71,71.66 414.28,71.87 413.91,72.09 413.60,72.30 413.35,72.52 413.17,72.73 413.05,72.95 412.98,73.16 412.98,73.38 413.05,73.59 413.17,73.81 413.35,74.03 413.60,74.24 413.91,74.46 414.28,74.67 414.71,74.89 415.20,75.10 415.75,75.32 416.36,75.53 417.04,75.75 417.77,75.97 418.56,76.18 419.41,76.40 420.32,76.61 421.29,76.83 422.32,77.04 423.40,77.26 424.54,77.47 425.74,77.69 426.99,77.90 428.30,78.12 429.66,78.34 431.07,78.55 432.54,78.77 434.07,78.98 435.64,79.20 437.26,79.41 438.94,79.63 440.66,79.84 442.44,80.06 444.26,80.28 446.13,80.49 448.04,80.71 450.00,80.92 452.00,81.14 454.05,81.35 456.14,81.57 458.27,81.78 460.44,82.00 462.66,82.21 464.91,82.43 467.19,82.65 469.52,82.86 471.87,83.08 474.27,83.29 476.69,83.51 479.15,83.72 481.64,83.94 484.16,84.15 486.70,84.37 489.27,84.59 491.87,84.80 494.50,85.02 497.14,85.23 499.81,85.45 502.50,85.66 505.21,85.88 507.94,86.09 510.69,86.31 513.45,86.52 516.23,86.74 519.02,86.96 521.82,87.17 524.63,87.39 527.45,87.60 530.28,87.82 533.12,88.03 535.96,88.25 538.80,88.46 541.65,88.68 544.50,88.90 547.35,89.11 550.20,89.33 553.04,89.54 555.88,89.76 558.72,89.97 561.55,90.19 564.37,90.40 567.18,90.62 569.98,90.83 572.77,91.05 575.55,91.27 578.31,91.48 581.06,91.70 583.79,91.91 586.50,92.13 589.19,92.34 591.86,92.56 594.50,92.77 597.13,92.99 599.73,93.21 602.30,93.42 604.84,93.64 607.36,93.85 609.85,94.07 612.31,94.28 614.73,94.50 617.13,94.71 619.48,94.93 621.81,95.14 624.09,95.36 626.34,95.58 628.56,95.79 630.73,96.01 632.86,96.22 634.95,96.44 637.00,96.65 639.00,96.87 640.96,97.08 642.87,97.30 644.74,97.52 646.56,97.73 648.34,97.95 650.06,98.16 651.74,98.38 653.36,98.59 654.93,98.81 656.46,99.02 657.93,99.24 659.34,99.45 660.70,99.67 662.01,99.89 663.26,100.10 664.46,100.32 665.60,100.53 666.68,100.75 667.71,100.96 668.68,101.18 669.59,101.39 670.44,101.61 671.23,101.83 671.96,102.04 672.64,102.26 673.25,102.47 673.80,102.69 674.29,102.90 674.72,103.12 675.09,103.33 675.40,103.55 675.65,103.76 675.83,103.98 675.95,104.20 676.02,104.41 676.02,104.63 675.95,104.84 675.83,105.06 675.65,105.27 675.40,105.49 675.09,105.70 674.72,105.92 674.29,106.14 673.80,106.35 673.25,106.57 672.64,106.78 671.96,107.00 671.23,107.21 670.44,107.43 669.59,107.64 668.68,107.86 667.71,108.07 666.68,108.29 665.60,108.51 664.46,108.72 663.26,108.94 662.01,109.15 660.70,109.37 659.34,109.58 657.93,109.80 656.46,110.01 654.93,110.23 653.36,110.45 651.74,110.66 650.06,110.88 648.34,111.09 646.56,111.31 644.74,111.52 642.87,111.74 640.96,111.95 639.00,112.17 637.00,112.38 634.95,112.60 632.86,112.82 630.73,113.03 628.56,113.25 626.34,113.46 624.09,113.68 621.81,113.89 619.48,114.11 617.13,114.32 614.73,114.54 612.31,114.76 609.85,114.97 607.36,115.19 604.84,115.40 602.30,115.62 599.73,115.83 597.13,116.05 594.50,116.26 591.86,116.48 589.19,116.69 586.50,116.91 583.79,117.13 581.06,117.34 578.31,117.56 575.55,117.77 572.77,117.99 569.98,118.20 567.18,118.42 564.37,118.63 561.55,118.85 558.72,119.07 555.88,119.28 553.04,119.50 550.20,119.71 547.35,119.93 544.50,120.14 541.65,120.36 538.80,120.57 535.96,120.79 533.12,121.00 530.28,121.22 527.45,121.44 524.63,121.65 521.82,121.87 519.02,122.08 516.23,122.30 513.45,122.51 510.69,122.73 507.94,122.94 505.21,123.16 502.50,123.38 499.81,123.59 497.14,123.81 494.50,124.02 491.87,124.24 489.27,124.45 486.70,124.67 484.16,124.88 481.64,125.10 479.15,125.31 476.69,125.53 474.27,125.75 471.87,125.96 469.52,126.18 467.19,126.39 464.91,126.61 462.66,126.82 460.44,127.04 458.27,127.25 456.14,127.47 454.05,127.69 452.00,127.90 450.00,128.12 448.04,128.33 446.13,128.55 444.26,128.76 442.44,128.98 440.66,129.19 438.94,129.41 437.26,129.62 435.64,129.84 434.07,130.06 432.54,130.27 431.07,130.49 429.66,130.70 428.30,130.92 426.99,131.13 425.74,131.35 424.54,131.56 423.40,131.78 422.32,132.00 421.29,132.21 420.32,132.43 419.41,132.64 418.56,132.86 417.77,133.07 417.04,133.29 416.36,133.50 415.75,133.72 415.20,133.93 414.71,134.15 414.28,134.37 413.91,134.58 413.60,134.80 413.35,135.01 413.17,135.23 413.05,135.44 412.98,135.66 412.98,135.87 413.05,136.09 413.17,136.31 413.35,136.52 413.60,136.74 413.91,136.95 414.28,137.17 414.71,137.38 415.20,137.60 415.75,137.81 416.36,138.03 417.04,138.24 417.77,138.46 418.56,138.68 419.41,138.89 420.32,139.11 421.29,139.32 422.32,139.54 423.40,139.75 424.54,139.97 425.74,140.18 426.99,140.40 428.30,140.62 429.66,140.83 431.07,141.05 432.54,141.26 434.07,141.48 435.64,141.69 437.26,141.91 438.94,142.12 440.66,142.34 442.44,142.55 444.26,142.77 446.13,142.99 448.04,143.20 450.00,143.42 452.00,143.63 454.05,143.85 456.14,144.06 458.27,144.28 460.44,144.49 462.66,144.71 464.91,144.93 467.19,145.14 469.52,145.36 471.87,145.57 474.27,145.79 476.69,146.00 479.15,146.22 481.64,146.43 484.16,146.65 486.70,146.86 489.27,147.08 491.87,147.30 494.50,147.51 497.14,147.73 499.81,147.94 502.50,148.16 505.21,148.37 507.94,148.59 510.69,148.80 513.45,149.02 516.23,149.24 519.02,149.45 521.82,149.67 524.63,149.88 527.45,150.10 530.28,150.31 533.12,150.53 535.96,150.74 538.80,150.96 541.65,151.17 544.50,151.39 547.35,151.61 550.20,151.82 553.04,152.04 555.88,152.25 558.72,152.47 561.55,152.68 564.37,152.90 567.18,153.11 569.98,153.33 572.77,153.55 575.55,153.76 578.31,153.98 581.06,154.19 583.79,154.41 586.50,154.62 589.19,154.84 591.86,155.05 594.50,155.27 597.13,155.48 599.73,155.70 602.30,155.92 604.84,156.13 607.36,156.35 609.85,156.56 612.31,156.78 614.73,156.99 617.13,157.21 619.48,157.42 621.81,157.64 624.09,157.86 626.34,158.07 628.56,158.29 630.73,158.50 632.86,158.72 634.95,158.93 637.00,159.15 639.00,159.36 640.96,159.58 642.87,159.79 644.74,160.01 646.56,160.23 648.34,160.44 650.06,160.66 651.74,160.87 653.36,161.09 654.93,161.30 656.46,161.52 657.93,161.73 659.34,161.95 660.70,162.17 662.01,162.38 663.26,162.60 664.46,162.81 665.60,163.03 666.68,163.24 667.71,163.46 668.68,163.67 669.59,163.89 670.44,164.10 671.23,164.32 671.96,164.54 672.64,164.75 673.25,164.97 673.80,165.18 674.29,165.40 674.72,165.61 675.09,165.83 675.40,166.04 675.65,166.26 675.83,166.48 675.95,166.69 676.02,166.91 676.02,167.12 675.95,167.34 675.83,167.55 675.65,167.77 675.40,167.98 675.09,168.20 674.72,168.41 674.29,168.63 673.80,168.85 673.25,169.06 672.64,169.28 671.96,169.49 671.23,169.71 670.44,169.92 669.59,170.14 668.68,170.35 667.71,170.57 666.68,170.79 665.60,171.00 664.46,171.22 663.26,171.43 662.01,171.65 660.70,171.86 659.34,172.08 657.93,172.29 656.46,172.51 654.93,172.72 653.36,172.94 651.74,173.16 650.06,173.37 648.34,173.59 646.56,173.80 644.74,174.02 642.87,174.23 640.96,174.45 639.00,174.66 637.00,174.88 634.95,175.10 632.86,175.31 630.73,175.53 628.56,175.74 626.34,175.96 624.09,176.17 621.81,176.39 619.48,176.60 617.13,176.82 614.73,177.03 612.31,177.25 609.85,177.47 607.36,177.68 604.84,177.90 602.30,178.11 599.73,178.33 597.13,178.54 594.50,178.76 591.86,178.97 589.19,179.19 586.50,179.41 583.79,179.62 581.06,179.84 578.31,180.05 576.18,180.27 574.18,180.48 572.31,180.70 570.55,180.91 568.91,181.13 567.37,181.34 565.93,181.56 564.58,181.78 563.31,181.99 562.12,182.21 561.01,182.42 559.97,182.64 558.99,182.85 558.08,183.07 557.22,183.28 556.42,183.50 555.67,183.72 554.96,183.93 554.30,184.15 553.69,184.36 553.11,184.58 552.56,184.79 552.05,185.01 551.58,185.22 551.13,185.44 550.71,185.65 550.32,185.87 549.95,186.09 549.61,186.30 549.29,186.52 548.99,186.73 548.70,186.95 548.44,187.16 548.19,187.38 547.96,187.59 547.74,187.81 547.53,188.03 547.34,188.24 547.16,188.46 547.00,188.67 546.84,188.89 546.69,189.10 546.55,189.32 546.42,189.53 546.30,189.75 546.19,189.96 546.08,190.18 545.98,190.40 545.89,190.61 545.80,190.83 545.72,191.04 545.64,191.26 545.57,191.47 545.50,191.69 545.44,191.90 545.38,192.12 545.32,192.33 545.27,192.55 545.22,192.77 545.18,192.98 545.14,193.20 545.10,193.41 545.06,193.63 545.02,193.84 544.99,194.06 544.96,194.27 544.93,194.49 544.90,194.71 544.88,194.92 544.85,195.14 544.83,195.35 544.81,195.57 544.79,195.78 544.77,196.00 544.76,196.21 544.74,196.43 544.72,196.64 544.71,196.86 544.70,197.08 544.68,197.29 544.67,197.51 544.66,197.72 544.65,197.94 544.64,198.15 544.63,198.37 544.62,198.58 544.62,198.80 544.61,199.02 544.60,199.23 544.60,199.45" fill="none" stroke="#eaae22" stroke-width="0.6"/>
<polyline points="544.50,26.40 547.92,26.62 551.34,26.83 554.75,27.05 558.15,27.26 561.55,27.48 564.93,27.69 568.30,27.91 571.66,28.12 575.00,28.34 578.31,28.55 581.60,28.77 584.87,28.99 588.11,29.20 591.32,29.42 594.50,29.63 597.65,29.85 600.76,30.06 603.83,30.28 606.86,30.49 609.85,30.71 612.80,30.93 615.69,31.14 618.55,31.36 621.35,31.57 624.09,31.79 626.79,32.00 629.43,32.22 632.01,32.43 634.53,32.65 637.00,32.87 639.40,33.08 641.73,33.30 644.00,33.51 646.20,33.73 648.34,33.94 650.40,34.16 652.39,34.37 654.31,34.59 656.16,34.80 657.93,35.02 659.62,35.24 661.23,35.45 662.77,35.67 664.22,35.88 665.60,36.10 666.89,36.31 668.10,36.53 669.23,36.74 670.27,36.96 671.23,37.17 672.10,37.39 672.89,37.61 673.59,37.82 674.20,38.04 674.72,38.25 675.16,38.47 675.51,38.68 675.76,38.90 675.93,39.11 676.02,39.33 676.01,39.55 675.91,39.76 675.73,39.98 675.45,40.19 675.09,40.41 674.64,40.62 674.10,40.84 673.48,41.05 672.76,41.27 671.96,41.48 671.08,41.70 670.10,41.92 669.05,42.13 667.91,42.35 666.68,42.56 665.38,42.78 663.99,42.99 662.52,43.21 660.97,43.42 659.34,43.64 657.64,43.86 655.85,44.07 654.00,44.29 652.07,44.50 650.06,44.72 647.99,44.93 645.84,45.15 643.63,45.36 641.35,45.58 639.00,45.79 636.59,46.01 634.12,46.23 631.59,46.44 628.99,46.66 626.34,46.87 623.64,47.09 620.88,47.30 618.07,47.52 615.21,47.73 612.31,47.95 609.36,48.17 606.36,48.38 603.32,48.60 600.24,48.81 597.13,49.03 593.98,49.24 590.79,49.46 587.57,49.67 584.33,49.89 581.06,50.10 577.76,50.32 574.44,50.54 571.10,50.75 567.74,50.97 564.37,51.18 560.98,51.40 557.59,51.61 554.18,51.83 550.77,52.04 547.35,52.26 543.93,52.48 540.51,52.69 537.09,52.91 533.68,53.12 530.28,53.34 526.89,53.55 523.50,53.77 520.13,53.98 516.78,54.20 513.45,54.41 510.14,54.63 506.85,54.85 503.59,55.06 500.35,55.28 497.14,55.49 493.97,55.71 490.83,55.92 487.73,56.14 484.66,56.35 481.64,56.57 478.66,56.79 475.72,57.00 472.83,57.22 469.98,57.43 467.19,57.65 464.45,57.86 461.77,58.08 459.14,58.29 456.56,58.51 454.05,58.72 451.60,58.94 449.21,59.16 446.89,59.37 444.63,59.59 442.44,59.80 440.31,60.02 438.26,60.23 436.28,60.45 434.38,60.66 432.54,60.88 430.79,61.10 429.11,61.31 427.51,61.53 425.98,61.74 424.54,61.96 423.18,62.17 421.90,62.39 420.70,62.60 419.59,62.82 418.56,63.03 417.62,63.25 416.76,63.47 415.99,63.68 415.31,63.90 414.71,64.11 414.20,64.33 413.78,64.54 413.45,64.76 413.20,64.97 413.05,65.19 412.98,65.41 413.00,65.62 413.11,65.84 413.31,66.05 413.60,66.27 413.98,66.48 414.44,66.70 415.00,66.91 415.64,67.13 416.36,67.34 417.18,67.56 418.08,67.78 419.07,67.99 420.14,68.21 421.29,68.42 422.53,68.64 423.85,68.85 425.25,69.07 426.73,69.28 428.30,69.50 429.94,69.72 431.66,69.93 433.45,70.15 435.32,70.36 437.26,70.58 439.28,70.79 441.37,71.01 443.52,71.22 445.75,71.44 448.04,71.66 450.40,71.87 452.82,72.09 455.30,72.30 457.84,72.52 460.44,72.73 463.10,72.95 465.82,73.16 468.58,73.38 471.40,73.59 474.27,73.81 477.18,74.03 480.14,74.24 483.14,74.46 486.19,74.67 489.27,74.89 492.40,75.10 495.55,75.32 498.74,75.53 501.96,75.75 505.21,75.97 508.49,76.18 511.79,76.40 515.11,76.61 518.46,76.83 521.82,77.04 525.19,77.26 528.58,77.47 531.98,77.69 535.39,77.90 538.80,78.12 542.22,78.34 545.64,78.55 549.06,78.77 552.47,78.98 555.88,79.20 559.29,79.41 562.68,79.63 566.06,79.84 569.42,80.06 572.77,80.28 576.10,80.49 579.41,80.71 582.70,80.92 585.96,81.14 589.19,81.35 592.39,81.57 595.56,81.78 598.69,82.00 601.79,82.21 604.84,82.43 607.86,82.65 610.84,82.86 613.77,83.08 616.65,83.29 619.48,83.51 622.27,83.72 625.00,83.94 627.68,84.15 630.30,84.37 632.86,84.59 635.36,84.80 637.80,85.02 640.18,85.23 642.50,85.45 644.74,85.66 646.92,85.88 649.03,86.09 651.07,86.31 653.04,86.52 654.93,86.74 656.75,86.96 658.50,87.17 660.16,87.39 661.75,87.60 663.26,87.82 664.69,88.03 666.04,88.25 667.31,88.46 668.49,88.68 669.59,88.90 670.60,89.11 671.53,89.33 672.37,89.54 673.13,89.76 673.80,89.97 674.38,90.19 674.88,90.40 675.28,90.62 675.60,90.83 675.83,91.05 675.97,91.27 676.02,91.48 675.99,91.70 675.86,91.91 675.65,92.13 675.34,92.34 674.95,92.56 674.47,92.77 673.90,92.99 673.25,93.21 672.51,93.42 671.68,93.64 670.76,93.85 669.76,94.07 668.68,94.28 667.51,94.50 666.26,94.71 664.92,94.93 663.51,95.14 662.01,95.36 660.43,95.58 658.78,95.79 657.05,96.01 655.24,96.22 653.36,96.44 651.41,96.65 649.38,96.87 647.28,97.08 645.11,97.30 642.87,97.52 640.57,97.73 638.20,97.95 635.77,98.16 633.28,98.38 630.73,98.59 628.12,98.81 625.45,99.02 622.73,99.24 619.95,99.45 617.13,99.67 614.25,99.89 611.33,100.10 608.36,100.32 605.35,100.53 602.30,100.75 599.21,100.96 596.08,101.18 592.92,101.39 589.72,101.61 586.50,101.83 583.24,102.04 579.96,102.26 576.66,102.47 573.33,102.69 569.98,102.90 566.62,103.12 563.24,103.33 559.85,103.55 556.45,103.76 553.04,103.98 549.63,104.20 546.21,104.41 542.79,104.63 539.37,104.84 535.96,105.06 532.55,105.27 529.15,105.49 525.76,105.70 522.38,105.92 519.02,106.14 515.67,106.35 512.34,106.57 509.04,106.78 505.76,107.00 502.50,107.21 499.28,107.43 496.08,107.64 492.92,107.86 489.79,108.07 486.70,108.29 483.65,108.51 480.64,108.72 477.67,108.94 474.75,109.15 471.87,109.37 469.05,109.58 466.27,109.80 463.55,110.01 460.88,110.23 458.27,110.45 455.72,110.66 453.23,110.88 450.80,111.09 448.43,111.31 446.13,111.52 443.89,111.74 441.72,111.95 439.62,112.17 437.59,112.38 435.64,112.60 433.76,112.82 431.95,113.03 430.22,113.25 428.57,113.46 426.99,113.68 425.49,113.89 424.08,114.11 422.74,114.32 421.49,114.54 420.32,114.76 419.24,114.97 418.24,115.19 417.32,115.40 416.49,115.62 415.75,115.83 415.10,116.05 414.53,116.26 414.05,116.48 413.66,116.69 413.35,116.91 413.14,117.13 413.01,117.34 412.98,117.56 413.03,117.77 413.17,117.99 413.40,118.20 413.72,118.42 414.12,118.63 414.62,118.85 415.20,119.07 415.87,119.28 416.63,119.50 417.47,119.71 418.40,119.93 419.41,120.14 420.51,120.36 421.69,120.57 422.96,120.79 424.31,121.00 425.74,121.22 427.25,121.44 428.84,121.65 430.50,121.87 432.25,122.08 434.07,122.30 435.96,122.51 437.93,122.73 439.97,122.94 442.08,123.16 444.26,123.38 446.50,123.59 448.82,123.81 451.20,124.02 453.64,124.24 456.14,124.45 458.70,124.67 461.32,124.88 464.00,125.10 466.73,125.31 469.52,125.53 472.35,125.75 475.23,125.96 478.16,126.18 481.14,126.39 484.16,126.61 487.21,126.82 490.31,127.04 493.44,127.25 496.61,127.47 499.81,127.69 503.04,127.90 506.30,128.12 509.59,128.33 512.90,128.55 516.23,128.76 519.58,128.98 522.94,129.19 526.32,129.41 529.71,129.62 533.12,129.84 536.53,130.06 539.94,130.27 543.36,130.49 546.78,130.70 550.20,130.92 553.61,131.13 557.02,131.35 560.42,131.56 563.81,131.78 567.18,132.00 570.54,132.21 573.89,132.43 577.21,132.64 580.51,132.86 583.79,133.07 587.04,133.29 590.26,133.50 593.45,133.72 596.60,133.93 599.73,134.15 602.81,134.37 605.86,134.58 608.86,134.80 611.82,135.01 614.73,135.23 617.60,135.44 620.42,135.66 623.18,135.87 625.90,136.09 628.56,136.31 631.16,136.52 633.70,136.74 636.18,136.95 638.60,137.17 640.96,137.38 643.25,137.60 645.48,137.81 647.63,138.03 649.72,138.24 651.74,138.46 653.68,138.68 655.55,138.89 657.34,139.11 659.06,139.32 660.70,139.54 662.27,139.75 663.75,139.97 665.15,140.18 666.47,140.40 667.71,140.62 668.86,140.83 669.93,141.05 670.92,141.26 671.82,141.48 672.64,141.69 673.36,141.91 674.00,142.12 674.56,142.34 675.02,142.55 675.40,142.77 675.69,142.99 675.89,143.20 676.00,143.42 676.02,143.63 675.95,143.85 675.80,144.06 675.55,144.28 675.22,144.49 674.80,144.71 674.29,144.93 673.69,145.14 673.01,145.36 672.24,145.57 671.38,145.79 670.44,146.00 669.41,146.22 668.30,146.43 667.10,146.65 665.82,146.86 664.46,147.08 663.02,147.30 661.49,147.51 659.89,147.73 658.21,147.94 656.46,148.16 654.62,148.37 652.72,148.59 650.74,148.80 648.69,149.02 646.56,149.24 644.37,149.45 642.11,149.67 639.79,149.88 637.40,150.10 634.95,150.31 632.44,150.53 629.86,150.74 627.23,150.96 624.55,151.17 621.81,151.39 619.02,151.61 616.17,151.82 613.28,152.04 610.34,152.25 607.36,152.47 604.34,152.68 601.27,152.90 598.17,153.11 595.03,153.33 591.86,153.55 588.65,153.76 585.41,153.98 582.15,154.19 578.86,154.41 575.55,154.62 572.22,154.84 568.87,155.05 565.50,155.27 562.11,155.48 558.72,155.70 555.32,155.92 551.91,156.13 548.49,156.35 545.07,156.56 541.65,156.78 538.23,156.99 534.82,157.21 531.41,157.42 528.02,157.64 524.63,157.86 521.26,158.07 517.90,158.29 514.56,158.50 511.24,158.72 507.94,158.93 504.67,159.15 501.43,159.36 498.21,159.58 495.02,159.79 491.87,160.01 488.76,160.23 485.68,160.44 482.64,160.66 479.64,160.87 476.69,161.09 473.79,161.30 470.93,161.52 468.12,161.73 465.36,161.95 462.66,162.17 460.01,162.38 457.41,162.60 454.88,162.81 452.41,163.03 450.00,163.24 447.65,163.46 445.37,163.67 443.16,163.89 441.01,164.10 438.94,164.32 436.93,164.54 435.00,164.75 433.15,164.97 431.36,165.18 429.66,165.40 428.03,165.61 426.48,165.83 425.01,166.04 423.62,166.26 422.32,166.48 421.09,166.69 419.95,166.91 418.90,167.12 417.92,167.34 417.04,167.55 416.24,167.77 415.52,167.98 414.90,168.20 414.36,168.41 413.91,168.63 413.55,168.85 413.27,169.06 413.09,169.28 412.99,169.49 412.98,169.71 413.07,169.92 413.24,170.14 413.49,170.35 413.84,170.57 414.28,170.79 414.80,171.00 415.41,171.22 416.11,171.43 416.90,171.65 417.77,171.86 418.73,172.08 419.77,172.29 420.90,172.51 422.11,172.72 423.40,172.94 424.78,173.16 426.23,173.37 427.77,173.59 429.38,173.80 431.07,174.02 432.84,174.23 434.69,174.45 436.61,174.66 438.60,174.88 440.66,175.10 442.80,175.31 445.00,175.53 447.27,175.74 449.60,175.96 452.00,176.17 454.47,176.39 456.99,176.60 459.57,176.82 462.21,177.03 464.91,177.25 467.65,177.47 470.45,177.68 473.31,177.90 476.20,178.11 479.15,178.33 482.14,178.54 485.17,178.76 488.24,178.97 491.35,179.19 494.50,179.41 497.68,179.62 500.89,179.84 504.13,180.05 506.65,180.27 509.01,180.48 511.23,180.70 513.31,180.91 515.26,181.13 517.08,181.34 518.79,181.56 520.40,181.78 521.90,181.99 523.32,182.21 524.64,182.42 525.88,182.64 527.04,182.85 528.13,183.07 529.15,183.28 530.11,183.50 531.01,183.72 531.85,183.93 532.64,184.15 533.38,184.36 534.08,184.58 534.73,184.79 535.34,185.01 535.91,185.22 536.45,185.44 536.95,185.65 537.42,185.87 537.86,186.09 538.28,186.30 538.67,186.52 539.03,186.73 539.37,186.95 539.69,187.16 539.99,187.38 540.28,187.59 540.54,187.81 540.79,188.03 541.02,188.24 541.24,188.46 541.44,188.67 541.63,188.89 541.81,189.10 541.98,189.32 542.14,189.53 542.28,189.75 542.42,189.96 542.55,190.18 542.67,190.40 542.79,190.61 542.89,190.83 542.99,191.04 543.09,191.26 543.18,191.47 543.26,191.69 543.34,191.90 543.41,192.12 543.48,192.33 543.54,192.55 543.60,192.77 543.66,192.98 543.71,193.20 543.76,193.41 543.81,193.63 543.85,193.84 543.89,194.06 543.93,194.27 543.96,194.49 544.00,194.71 544.03,194.92 544.06,195.14 544.09,195.35 544.11,195.57 544.14,195.78 544.16,196.00 544.18,196.21 544.20,196.43 544.22,196.64 544.24,196.86 544.25,197.08 544.27,197.29 544.28,197.51 544.30,197.72 544.31,197.94 544.32,198.15 544.33,198.37 544.34,198.58 544.35,198.80 544.36,199.02 544.37,199.23 544.38,199.45 544.39,199.66 544.39,199.88 544.40,200.09" fill="none" stroke="#9a45ad" stroke-width="0.6"/>
<polyline points="544.50,26.40 548.49,26.62 552.47,26.83 556.45,27.05 560.42,27.26 564.37,27.48 568.30,27.69 572.22,27.91 576.10,28.12 579.96,28.34 583.79,28.55 587.57,28.77 591.32,28.99 595.03,29.20 598.69,29.42 602.30,29.63 605.86,29.85 609.36,30.06 612.80,30.28 616.17,30.49 619.48,30.71 622.73,30.93 625.90,31.14 628.99,31.36 632.01,31.57 634.95,31.79 637.80,32.00 640.57,32.22 643.25,32.43 645.84,32.65 648.34,32.87 650.74,33.08 653.04,33.30 655.24,33.51 657.34,33.73 659.34,33.94 661.23,34.16 663.02,34.37 664.69,34.59 666.26,34.80 667.71,35.02 669.05,35.24 670.27,35.45 671.38,35.67 672.37,35.88 673.25,36.10 674.00,36.31 674.64,36.53 675.16,36.74 675.55,36.96 675.83,37.17 675.99,37.39 676.02,37.61 675.93,37.82 675.73,38.04 675.40,38.25 674.95,38.47 674.38,38.68 673.69,38.90 672.89,39.11 671.96,39.33 670.92,39.55 669.76,39.76 668.49,39.98 667.10,40.19 665.60,40.41 663.99,40.62 662.27,40.84 660.43,41.05 658.50,41.27 656.46,41.48 654.31,41.70 652.07,41.92 649.72,42.13 647.28,42.35 644.74,42.56 642.11,42.78 639.40,42.99 636.59,43.21 633.70,43.42 630.73,43.64 627.68,43.86 624.55,44.07 621.35,44.29 618.07,44.50 614.73,44.72 611.33,44.93 607.86,45.15 604.34,45.36 600.76,45.58 597.13,45.79 593.45,46.01 589.72,46.23 585.96,46.44 582.15,46.66 578.31,46.87 574.44,47.09 570.54,47.30 566.62,47.52 562.68,47.73 558.72,47.95 554.75,48.17 550.77,48.38 546.78,48.60 542.79,48.81 538.80,49.03 534.82,49.24 530.85,49.46 526.89,49.67 522.94,49.89 519.02,50.10 515.11,50.32 511.24,50.54 507.40,50.75 503.59,50.97 499.81,51.18 496.08,51.40 492.40,51.61 488.76,51.83 485.17,52.04 481.64,52.26 478.16,52.48 474.75,52.69 471.40,52.91 468.12,53.12 464.91,53.34 461.77,53.55 458.70,53.77 455.72,53.98 452.82,54.20 450.00,54.41 447.27,54.63 444.63,54.85 442.08,55.06 439.62,55.28 437.26,55.49 435.00,55.71 432.84,55.92 430.79,56.14 428.84,56.35 426.99,56.57 425.25,56.79 423.62,57.00 422.11,57.22 420.70,57.43 419.41,57.65 418.24,57.86 417.18,58.08 416.24,58.29 415.41,58.51 414.71,58.72 414.12,58.94 413.66,59.16 413.31,59.37 413.09,59.59 412.98,59.80 413.00,60.02 413.14,60.23 413.40,60.45 413.78,60.66 414.28,60.88 414.90,61.10 415.64,61.31 416.49,61.53 417.47,61.74 418.56,61.96 419.77,62.17 421.09,62.39 422.53,62.60 424.08,62.82 425.74,63.03 427.51,63.25 429.38,63.47 431.36,63.68 433.45,63.90 435.64,64.11 437.93,64.33 440.31,64.54 442.80,64.76 445.37,64.97 448.04,65.19 450.80,65.41 453.64,65.62 456.56,65.84 459.57,66.05 462.66,66.27 465.82,66.48 469.05,66.70 472.35,66.91 475.72,67.13 479.15,67.34 482.64,67.56 486.19,67.78 489.79,67.99 493.44,68.21 497.14,68.42 500.89,68.64 504.67,68.85 508.49,69.07 512.34,69.28 516.23,69.50 520.13,69.72 524.07,69.93 528.02,70.15 531.98,70.36 535.96,70.58 539.94,70.79 543.93,71.01 547.92,71.22 551.91,71.44 555.88,71.66 559.85,71.87 563.81,72.09 567.74,72.30 571.66,72.52 575.55,72.73 579.41,72.95 583.24,73.16 587.04,73.38 590.79,73.59 594.50,73.81 598.17,74.03 601.79,74.24 605.35,74.46 608.86,74.67 612.31,74.89 615.69,75.10 619.02,75.32 622.27,75.53 625.45,75.75 628.56,75.97 631.59,76.18 634.53,76.40 637.40,76.61 640.18,76.83 642.87,77.04 645.48,77.26 647.99,77.47 650.40,77.69 652.72,77.90 654.93,78.12 657.05,78.34 659.06,78.55 660.97,78.77 662.77,78.98 664.46,79.20 666.04,79.41 667.51,79.63 668.86,79.84 670.10,80.06 671.23,80.28 672.24,80.49 673.13,80.71 673.90,80.92 674.56,81.14 675.09,81.35 675.51,81.57 675.80,81.78 675.97,82.00 676.02,82.21 675.95,82.43 675.76,82.65 675.45,82.86 675.02,83.08 674.47,83.29 673.80,83.51 673.01,83.72 672.10,83.94 671.08,84.15 669.93,84.37 668.68,84.59 667.31,84.80 665.82,85.02 664.22,85.23 662.52,85.45 660.70,85.66 658.78,85.88 656.75,86.09 654.62,86.31 652.39,86.52 650.06,86.74 647.63,86.96 645.11,87.17 642.50,87.39 639.79,87.60 637.00,87.82 634.12,88.03 631.16,88.25 628.12,88.46 625.00,88.68 621.81,88.90 618.55,89.11 615.21,89.33 611.82,89.54 608.36,89.76 604.84,89.97 601.27,90.19 597.65,90.40 593.98,90.62 590.26,90.83 586.50,91.05 582.70,91.27 578.86,91.48 575.00,91.70 571.10,91.91 567.18,92.13 563.24,92.34 559.29,92.56 555.32,92.77 551.34,92.99 547.35,93.21 543.36,93.42 539.37,93.64 535.39,93.85 531.41,94.07 527.45,94.28 523.50,94.50 519.58,94.71 515.67,94.93 511.79,95.14 507.94,95.36 504.13,95.58 500.35,95.79 496.61,96.01 492.92,96.22 489.27,96.44 485.68,96.65 482.14,96.87 478.66,97.08 475.23,97.30 471.87,97.52 468.58,97.73 465.36,97.95 462.21,98.16 459.14,98.38 456.14,98.59 453.23,98.81 450.40,99.02 447.65,99.24 445.00,99.45 442.44,99.67 439.97,99.89 437.59,100.10 435.32,100.32 433.15,100.53 431.07,100.75 429.11,100.96 427.25,101.18 425.49,101.39 423.85,101.61 422.32,101.83 420.90,102.04 419.59,102.26 418.40,102.47 417.32,102.69 416.36,102.90 415.52,103.12 414.80,103.33 414.20,103.55 413.72,103.76 413.35,103.98 413.11,104.20 412.99,104.41 412.99,104.63 413.11,104.84 413.35,105.06 413.72,105.27 414.20,105.49 414.80,105.70 415.52,105.92 416.36,106.14 417.32,106.35 418.40,106.57 419.59,106.78 420.90,107.00 422.32,107.21 423.85,107.43 425.49,107.64 427.25,107.86 429.11,108.07 431.07,108.29 433.15,108.51 435.32,108.72 437.59,108.94 439.97,109.15 442.44,109.37 445.00,109.58 447.65,109.80 450.40,110.01 453.23,110.23 456.14,110.45 459.14,110.66 462.21,110.88 465.36,111.09 468.58,111.31 471.87,111.52 475.23,111.74 478.66,111.95 482.14,112.17 485.68,112.38 489.27,112.60 492.92,112.82 496.61,113.03 500.35,113.25 504.13,113.46 507.94,113.68 511.79,113.89 515.67,114.11 519.58,114.32 523.50,114.54 527.45,114.76 531.41,114.97 535.39,115.19 539.37,115.40 543.36,115.62 547.35,115.83 551.34,116.05 555.32,116.26 559.29,116.48 563.24,116.69 567.18,116.91 571.10,117.13 575.00,117.34 578.86,117.56 582.70,117.77 586.50,117.99 590.26,118.20 593.98,118.42 597.65,118.63 601.27,118.85 604.84,119.07 608.36,119.28 611.82,119.50 615.21,119.71 618.55,119.93 621.81,120.14 625.00,120.36 628.12,120.57 631.16,120.79 634.12,121.00 637.00,121.22 639.79,121.44 642.50,121.65 645.11,121.87 647.63,122.08 650.06,122.30 652.39,122.51 654.62,122.73 656.75,122.94 658.78,123.16 660.70,123.38 662.52,123.59 664.22,123.81 665.82,124.02 667.31,124.24 668.68,124.45 669.93,124.67 671.08,124.88 672.10,125.10 673.01,125.31 673.80,125.53 674.47,125.75 675.02,125.96 675.45,126.18 675.76,126.39 675.95,126.61 676.02,126.82 675.97,127.04 675.80,127.25 675.51,127.47 675.09,127.69 674.56,127.90 673.90,128.12 673.13,128.33 672.24,128.55 671.23,128.76 670.10,128.98 668.86,129.19 667.51,129.41 666.04,129.62 664.46,129.84 662.77,130.06 660.97,130.27 659.06,130.49 657.05,130.70 654.93,130.92 652.72,131.13 650.40,131.35 647.99,131.56 645.48,131.78 642.87,132.00 640.18,132.21 637.40,132.43 634.53,132.64 631.59,132.86 628.56,133.07 625.45,133.29 622.27,133.50 619.02,133.72 615.69,133.93 612.31,134.15 608.86,134.37 605.35,134.58 601.79,134.80 598.17,135.01 594.50,135.23 590.79,135.44 587.04,135.66 583.24,135.87 579.41,136.09 575.55,136.31 571.66,136.52 567.74,136.74 563.81,136.95 559.85,137.17 555.88,137.38 551.91,137.60 547.92,137.81 543.93,138.03 539.94,138.24 535.96,138.46 531.98,138.68 528.02,138.89 524.07,139.11 520.13,139.32 516.23,139.54 512.34,139.75 508.49,139.97 504.67,140.18 500.89,140.40 497.14,140.62 493.44,140.83 489.79,141.05 486.19,141.26 482.64,141.48 479.15,141.69 475.72,141.91 472.35,142.12 469.05,142.34 465.82,142.55 462.66,142.77 459.57,142.99 456.56,143.20 453.64,143.42 450.80,143.63 448.04,143.85 445.37,144.06 442.80,144.28 440.31,144.49 437.93,144.71 435.64,144.93 433.45,145.14 431.36,145.36 429.38,145.57 427.51,145.79 425.74,146.00 424.08,146.22 422.53,146.43 421.09,146.65 419.77,146.86 418.56,147.08 417.47,147.30 416.49,147.51 415.64,147.73 414.90,147.94 414.28,148.16 413.78,148.37 413.40,148.59 413.14,148.80 413.00,149.02 412.98,149.24 413.09,149.45 413.31,149.67 413.66,149.88 414.12,150.10 414.71,150.31 415.41,150.53 416.24,150.74 417.18,150.96 418.24,151.17 419.41,151.39 420.70,151.61 422.11,151.82 423.62,152.04 425.25,152.25 426.99,152.47 428.84,152.68 430.79,152.90 432.84,153.11 435.00,153.33 437.26,153.55 439.62,153.76 442.08,153.98 444.63,154.19 447.27,154.41 450.00,154.62 452.82,154.84 455.72,155.05 458.70,155.27 461.77,155.48 464.91,155.70 468.12,155.92 471.40,156.13 474.75,156.35 478.16,156.56 481.64,156.78 485.17,156.99 488.76,157.21 492.40,157.42 496.08,157.64 499.81,157.86 503.59,158.07 507.40,158.29 511.24,158.50 515.11,158.72 519.02,158.93 522.94,159.15 526.89,159.36 530.85,159.58 534.82,159.79 538.80,160.01 542.79,160.23 546.78,160.44 550.77,160.66 554.75,160.87 558.72,161.09 562.68,161.30 566.62,161.52 570.54,161.73 574.44,161.95 578.31,162.17 582.15,162.38 585.96,162.60 589.72,162.81 593.45,163.03 597.13,163.24 600.76,163.46 604.34,163.67 607.86,163.89 611.33,164.10 614.73,164.32 618.07,164.54 621.35,164.75 624.55,164.97 627.68,165.18 630.73,165.40 633.70,165.61 636.59,165.83 639.40,166.04 642.11,166.26 644.74,166.48 647.28,166.69 649.72,166.91 652.07,167.12 654.31,167.34 656.46,167.55 658.50,167.77 660.43,167.98 662.27,168.20 663.99,168.41 665.60,168.63 667.10,168.85 668.49,169.06 669.76,169.28 670.92,169.49 671.96,169.71 672.89,169.92 673.69,170.14 674.38,170.35 674.95,170.57 675.40,170.79 675.73,171.00 675.93,171.22 676.02,171.43 675.99,171.65 675.83,171.86 675.55,172.08 675.16,172.29 674.64,172.51 674.00,172.72 673.25,172.94 672.37,173.16 671.38,173.37 670.27,173.59 669.05,173.80 667.71,174.02 666.26,174.23 664.69,174.45 663.02,174.66 661.23,174.88 659.34,175.10 657.34,175.31 655.24,175.53 653.04,175.74 650.74,175.96 648.34,176.17 645.84,176.39 643.25,176.60 640.57,176.82 637.80,177.03 634.95,177.25 632.01,177.47 628.99,177.68 625.90,177.90 622.73,178.11 619.48,178.33 616.17,178.54 612.80,178.76 609.36,178.97 605.86,179.19 602.30,179.41 598.69,179.62 595.03,179.84 591.32,180.05 588.43,180.27 585.72,180.48 583.18,180.70 580.79,180.91 578.55,181.13 576.45,181.34 574.48,181.56 572.63,181.78 570.89,181.99 569.26,182.21 567.74,182.42 566.30,182.64 564.96,182.85 563.69,183.07 562.51,183.28 561.40,183.50 560.36,183.72 559.38,183.93 558.46,184.15 557.60,184.36 556.79,184.58 556.03,184.79 555.32,185.01 554.65,185.22 554.03,185.44 553.44,185.65 552.89,185.87 552.37,186.09 551.88,186.30 551.43,186.52 551.00,186.73 550.60,186.95 550.22,187.16 549.87,187.38 549.54,187.59 549.23,187.81 548.94,188.03 548.66,188.24 548.40,188.46 548.16,188.67 547.94,188.89 547.73,189.10 547.53,189.32 547.34,189.53 547.16,189.75 547.00,189.96 546.85,190.18 546.70,190.40 546.57,190.61 546.44,190.83 546.32,191.04 546.21,191.26 546.10,191.47 546.00,191.69 545.91,191.90 545.82,192.12 545.74,192.33 545.66,192.55 545.59,192.77 545.52,192.98 545.46,193.20 545.40,193.41 545.35,193.63 545.29,193.84 545.25,194.06 545.20,194.27 545.16,194.49 545.12,194.71 545.08,194.92 545.04,195.14 545.01,195.35 544.98,195.57 544.95,195.78 544.92,196.00 544.89,196.21 544.87,196.43 544.85,196.64 544.83,196.86 544.81,197.08 544.79,197.29 544.77,197.51 544.75,197.72 544.74,197.94 544.72,198.15 544.71,198.37 544.70,198.58 544.68,198.80 544.67,199.02 544.66,199.23 544.65,199.45 544.64,199.66 544.63,199.88 544.63,200.09 544.62,200.31 544.61,200.52 544.60,200.74 544.60,200.95" fill="none" stroke="#6cb33a" stroke-width="0.6"/>
<line x1="544.50" y1="190.18" x2="544.50" y2="241.90" stroke="#86c060" stroke-width="0.6" stroke-opacity="0.8"/>
<line x1="412.60" y1="25.90" x2="412.60" y2="242.40" stroke="#6f6f6f" stroke-width="1" />
<line x1="412.10" y1="241.90" x2="676.50" y2="241.90" stroke="#6f6f6f" stroke-width="1" />
<line x1="407.10" y1="26.40" x2="412.60" y2="26.40" stroke="#6f6f6f" stroke-width="1" />
<line x1="409.80" y1="37.17" x2="412.60" y2="37.17" stroke="#6f6f6f" stroke-width="1" />
<line x1="409.80" y1="47.95" x2="412.60" y2="47.95" stroke="#6f6f6f" stroke-width="1" />
<line x1="409.80" y1="58.72" x2="412.60" y2="58.72" stroke="#6f6f6f" stroke-width="1" />
<line x1="407.10" y1="69.50" x2="412.60" y2="69.50" stroke="#6f6f6f" stroke-width="1" />
<line x1="409.80" y1="80.27" x2="412.60" y2="80.27" stroke="#6f6f6f" stroke-width="1" />
<line x1="409.80" y1="91.05" x2="412.60" y2="91.05" stroke="#6f6f6f" stroke-width="1" />
<line x1="409.80" y1="101.82" x2="412.60" y2="101.82" stroke="#6f6f6f" stroke-width="1" />
<line x1="407.10" y1="112.60" x2="412.60" y2="112.60" stroke="#6f6f6f" stroke-width="1" />
<line x1="409.80" y1="123.38" x2="412.60" y2="123.38" stroke="#6f6f6f" stroke-width="1" />
<line x1="409.80" y1="134.15" x2="412.60" y2="134.15" stroke="#6f6f6f" stroke-width="1" />
<line x1="409.80" y1="144.92" x2="412.60" y2="144.92" stroke="#6f6f6f" stroke-width="1" />
<line x1="407.10" y1="155.70" x2="412.60" y2="155.70" stroke="#6f6f6f" stroke-width="1" />
<line x1="409.80" y1="166.47" x2="412.60" y2="166.47" stroke="#6f6f6f" stroke-width="1" />
<line x1="409.80" y1="177.25" x2="412.60" y2="177.25" stroke="#6f6f6f" stroke-width="1" />
<line x1="409.80" y1="188.02" x2="412.60" y2="188.02" stroke="#6f6f6f" stroke-width="1" />
<line x1="407.10" y1="198.80" x2="412.60" y2="198.80" stroke="#6f6f6f" stroke-width="1" />
<line x1="409.80" y1="209.57" x2="412.60" y2="209.57" stroke="#6f6f6f" stroke-width="1" />
<line x1="409.80" y1="220.35" x2="412.60" y2="220.35" stroke="#6f6f6f" stroke-width="1" />
<line x1="409.80" y1="231.12" x2="412.60" y2="231.12" stroke="#6f6f6f" stroke-width="1" />
<line x1="407.10" y1="241.90" x2="412.60" y2="241.90" stroke="#6f6f6f" stroke-width="1" />
<line x1="419.00" y1="241.90" x2="419.00" y2="246.70" stroke="#6f6f6f" stroke-width="1" />
<line x1="444.10" y1="241.90" x2="444.10" y2="244.50" stroke="#6f6f6f" stroke-width="1" />
<line x1="469.20" y1="241.90" x2="469.20" y2="244.50" stroke="#6f6f6f" stroke-width="1" />
<line x1="494.30" y1="241.90" x2="494.30" y2="244.50" stroke="#6f6f6f" stroke-width="1" />
<line x1="519.40" y1="241.90" x2="519.40" y2="244.50" stroke="#6f6f6f" stroke-width="1" />
<line x1="544.50" y1="241.90" x2="544.50" y2="246.70" stroke="#6f6f6f" stroke-width="1" />
<line x1="569.60" y1="241.90" x2="569.60" y2="244.50" stroke="#6f6f6f" stroke-width="1" />
<line x1="594.70" y1="241.90" x2="594.70" y2="244.50" stroke="#6f6f6f" stroke-width="1" />
<line x1="619.80" y1="241.90" x2="619.80" y2="244.50" stroke="#6f6f6f" stroke-width="1" />
<line x1="644.90" y1="241.90" x2="644.90" y2="244.50" stroke="#6f6f6f" stroke-width="1" />
<line x1="670.00" y1="241.90" x2="670.00" y2="246.70" stroke="#6f6f6f" stroke-width="1" />
<text transform="translate(403.60,26.40) scale(1,1.14)" y="3.75" font-size="11" text-anchor="end" fill="#3c3c3c" stroke="#3c3c3c" stroke-width="0.22">0</text>
<text transform="translate(403.60,69.50) scale(1,1.14)" y="3.75" font-size="11" text-anchor="end" fill="#3c3c3c" stroke="#3c3c3c" stroke-width="0.22">20</text>
<text transform="translate(403.60,112.60) scale(1,1.14)" y="3.75" font-size="11" text-anchor="end" fill="#3c3c3c" stroke="#3c3c3c" stroke-width="0.22">40</text>
<text transform="translate(403.60,155.70) scale(1,1.14)" y="3.75" font-size="11" text-anchor="end" fill="#3c3c3c" stroke="#3c3c3c" stroke-width="0.22">60</text>
<text transform="translate(403.60,198.80) scale(1,1.14)" y="3.75" font-size="11" text-anchor="end" fill="#3c3c3c" stroke="#3c3c3c" stroke-width="0.22">80</text>
<text transform="translate(403.60,241.90) scale(1,1.14)" y="3.75" font-size="11" text-anchor="end" fill="#3c3c3c" stroke="#3c3c3c" stroke-width="0.22">100</text>
<text transform="translate(419.00,256.60) scale(1,1.14)" y="3.75" font-size="11" text-anchor="middle" fill="#3c3c3c" stroke="#3c3c3c" stroke-width="0.22">-5</text>
<text transform="translate(544.50,256.60) scale(1,1.14)" y="3.75" font-size="11" text-anchor="middle" fill="#3c3c3c" stroke="#3c3c3c" stroke-width="0.22">0</text>
<text transform="translate(670.00,256.60) scale(1,1.14)" y="3.75" font-size="11" text-anchor="middle" fill="#3c3c3c" stroke="#3c3c3c" stroke-width="0.22">5</text>
<text x="544.30" y="275.00" font-size="12.2" text-anchor="middle" fill="#3c3c3c" stroke="#3c3c3c" stroke-width="0.15">amplitude</text>
<text transform="translate(382.0,133.6) rotate(-90)" font-size="12.2" text-anchor="middle" fill="#3c3c3c" stroke="#3c3c3c" stroke-width="0.15">z / m</text>
<line x1="64.70" y1="325.00" x2="64.70" y2="541.40" stroke="#c4c4c4" stroke-width="0.7" />
<line x1="64.50" y1="541.20" x2="231.30" y2="541.20" stroke="#c4c4c4" stroke-width="0.7" />
<line x1="60.20" y1="325.00" x2="65.00" y2="325.00" stroke="#6f6f6f" stroke-width="1" />
<line x1="62.80" y1="335.80" x2="65.00" y2="335.80" stroke="#6f6f6f" stroke-width="1" />
<line x1="62.80" y1="346.60" x2="65.00" y2="346.60" stroke="#6f6f6f" stroke-width="1" />
<line x1="62.80" y1="357.40" x2="65.00" y2="357.40" stroke="#6f6f6f" stroke-width="1" />
<line x1="60.20" y1="368.20" x2="65.00" y2="368.20" stroke="#6f6f6f" stroke-width="1" />
<line x1="62.80" y1="379.00" x2="65.00" y2="379.00" stroke="#6f6f6f" stroke-width="1" />
<line x1="62.80" y1="389.80" x2="65.00" y2="389.80" stroke="#6f6f6f" stroke-width="1" />
<line x1="62.80" y1="400.60" x2="65.00" y2="400.60" stroke="#6f6f6f" stroke-width="1" />
<line x1="60.20" y1="411.40" x2="65.00" y2="411.40" stroke="#6f6f6f" stroke-width="1" />
<line x1="62.80" y1="422.20" x2="65.00" y2="422.20" stroke="#6f6f6f" stroke-width="1" />
<line x1="62.80" y1="433.00" x2="65.00" y2="433.00" stroke="#6f6f6f" stroke-width="1" />
<line x1="62.80" y1="443.80" x2="65.00" y2="443.80" stroke="#6f6f6f" stroke-width="1" />
<line x1="60.20" y1="454.60" x2="65.00" y2="454.60" stroke="#6f6f6f" stroke-width="1" />
<line x1="62.80" y1="465.40" x2="65.00" y2="465.40" stroke="#6f6f6f" stroke-width="1" />
<line x1="62.80" y1="476.20" x2="65.00" y2="476.20" stroke="#6f6f6f" stroke-width="1" />
<line x1="62.80" y1="487.00" x2="65.00" y2="487.00" stroke="#6f6f6f" stroke-width="1" />
<line x1="60.20" y1="497.80" x2="65.00" y2="497.80" stroke="#6f6f6f" stroke-width="1" />
<line x1="62.80" y1="508.60" x2="65.00" y2="508.60" stroke="#6f6f6f" stroke-width="1" />
<line x1="62.80" y1="519.40" x2="65.00" y2="519.40" stroke="#6f6f6f" stroke-width="1" />
<line x1="62.80" y1="530.20" x2="65.00" y2="530.20" stroke="#6f6f6f" stroke-width="1" />
<line x1="60.20" y1="541.00" x2="65.00" y2="541.00" stroke="#6f6f6f" stroke-width="1" />
<line x1="65.00" y1="541.00" x2="65.00" y2="545.60" stroke="#6f6f6f" stroke-width="1" />
<line x1="81.63" y1="541.00" x2="81.63" y2="543.40" stroke="#6f6f6f" stroke-width="1" />
<line x1="98.26" y1="541.00" x2="98.26" y2="543.40" stroke="#6f6f6f" stroke-width="1" />
<line x1="114.89" y1="541.00" x2="114.89" y2="543.40" stroke="#6f6f6f" stroke-width="1" />
<line x1="131.52" y1="541.00" x2="131.52" y2="543.40" stroke="#6f6f6f" stroke-width="1" />
<line x1="148.15" y1="541.00" x2="148.15" y2="545.60" stroke="#6f6f6f" stroke-width="1" />
<line x1="164.78" y1="541.00" x2="164.78" y2="543.40" stroke="#6f6f6f" stroke-width="1" />
<line x1="181.41" y1="541.00" x2="181.41" y2="543.40" stroke="#6f6f6f" stroke-width="1" />
<line x1="198.04" y1="541.00" x2="198.04" y2="543.40" stroke="#6f6f6f" stroke-width="1" />
<line x1="214.67" y1="541.00" x2="214.67" y2="543.40" stroke="#6f6f6f" stroke-width="1" />
<line x1="231.30" y1="541.00" x2="231.30" y2="545.60" stroke="#6f6f6f" stroke-width="1" />
<text transform="translate(56.50,325.00) scale(1,1.14)" y="3.75" font-size="11" text-anchor="end" fill="#3c3c3c" stroke="#3c3c3c" stroke-width="0.22">0</text>
<text transform="translate(56.50,368.20) scale(1,1.14)" y="3.75" font-size="11" text-anchor="end" fill="#3c3c3c" stroke="#3c3c3c" stroke-width="0.22">20</text>
<text transform="translate(56.50,411.40) scale(1,1.14)" y="3.75" font-size="11" text-anchor="end" fill="#3c3c3c" stroke="#3c3c3c" stroke-width="0.22">40</text>
<text transform="translate(56.50,454.60) scale(1,1.14)" y="3.75" font-size="11" text-anchor="end" fill="#3c3c3c" stroke="#3c3c3c" stroke-width="0.22">60</text>
<text transform="translate(56.50,497.80) scale(1,1.14)" y="3.75" font-size="11" text-anchor="end" fill="#3c3c3c" stroke="#3c3c3c" stroke-width="0.22">80</text>
<text transform="translate(56.50,541.00) scale(1,1.14)" y="3.75" font-size="11" text-anchor="end" fill="#3c3c3c" stroke="#3c3c3c" stroke-width="0.22">100</text>
<text transform="translate(65.00,555.00) scale(1,1.14)" y="3.75" font-size="11" text-anchor="middle" fill="#3c3c3c" stroke="#3c3c3c" stroke-width="0.22">50</text>
<text transform="translate(148.15,555.00) scale(1,1.14)" y="3.75" font-size="11" text-anchor="middle" fill="#3c3c3c" stroke="#3c3c3c" stroke-width="0.22">100</text>
<text transform="translate(231.30,555.00) scale(1,1.14)" y="3.75" font-size="11" text-anchor="middle" fill="#3c3c3c" stroke="#3c3c3c" stroke-width="0.22">150</text>
<ellipse cx="147.80" cy="400.7" rx="33.25" ry="43.1" fill="none" stroke="#fff" stroke-width="1.6"/>
<line x1="286.10" y1="325.00" x2="286.10" y2="541.40" stroke="#c4c4c4" stroke-width="0.7" />
<line x1="285.90" y1="541.20" x2="451.90" y2="541.20" stroke="#c4c4c4" stroke-width="0.7" />
<line x1="281.60" y1="325.00" x2="286.40" y2="325.00" stroke="#6f6f6f" stroke-width="1" />
<line x1="284.20" y1="335.80" x2="286.40" y2="335.80" stroke="#6f6f6f" stroke-width="1" />
<line x1="284.20" y1="346.60" x2="286.40" y2="346.60" stroke="#6f6f6f" stroke-width="1" />
<line x1="284.20" y1="357.40" x2="286.40" y2="357.40" stroke="#6f6f6f" stroke-width="1" />
<line x1="281.60" y1="368.20" x2="286.40" y2="368.20" stroke="#6f6f6f" stroke-width="1" />
<line x1="284.20" y1="379.00" x2="286.40" y2="379.00" stroke="#6f6f6f" stroke-width="1" />
<line x1="284.20" y1="389.80" x2="286.40" y2="389.80" stroke="#6f6f6f" stroke-width="1" />
<line x1="284.20" y1="400.60" x2="286.40" y2="400.60" stroke="#6f6f6f" stroke-width="1" />
<line x1="281.60" y1="411.40" x2="286.40" y2="411.40" stroke="#6f6f6f" stroke-width="1" />
<line x1="284.20" y1="422.20" x2="286.40" y2="422.20" stroke="#6f6f6f" stroke-width="1" />
<line x1="284.20" y1="433.00" x2="286.40" y2="433.00" stroke="#6f6f6f" stroke-width="1" />
<line x1="284.20" y1="443.80" x2="286.40" y2="443.80" stroke="#6f6f6f" stroke-width="1" />
<line x1="281.60" y1="454.60" x2="286.40" y2="454.60" stroke="#6f6f6f" stroke-width="1" />
<line x1="284.20" y1="465.40" x2="286.40" y2="465.40" stroke="#6f6f6f" stroke-width="1" />
<line x1="284.20" y1="476.20" x2="286.40" y2="476.20" stroke="#6f6f6f" stroke-width="1" />
<line x1="284.20" y1="487.00" x2="286.40" y2="487.00" stroke="#6f6f6f" stroke-width="1" />
<line x1="281.60" y1="497.80" x2="286.40" y2="497.80" stroke="#6f6f6f" stroke-width="1" />
<line x1="284.20" y1="508.60" x2="286.40" y2="508.60" stroke="#6f6f6f" stroke-width="1" />
<line x1="284.20" y1="519.40" x2="286.40" y2="519.40" stroke="#6f6f6f" stroke-width="1" />
<line x1="284.20" y1="530.20" x2="286.40" y2="530.20" stroke="#6f6f6f" stroke-width="1" />
<line x1="281.60" y1="541.00" x2="286.40" y2="541.00" stroke="#6f6f6f" stroke-width="1" />
<line x1="286.40" y1="541.00" x2="286.40" y2="545.60" stroke="#6f6f6f" stroke-width="1" />
<line x1="302.95" y1="541.00" x2="302.95" y2="543.40" stroke="#6f6f6f" stroke-width="1" />
<line x1="319.50" y1="541.00" x2="319.50" y2="543.40" stroke="#6f6f6f" stroke-width="1" />
<line x1="336.05" y1="541.00" x2="336.05" y2="543.40" stroke="#6f6f6f" stroke-width="1" />
<line x1="352.60" y1="541.00" x2="352.60" y2="543.40" stroke="#6f6f6f" stroke-width="1" />
<line x1="369.15" y1="541.00" x2="369.15" y2="545.60" stroke="#6f6f6f" stroke-width="1" />
<line x1="385.70" y1="541.00" x2="385.70" y2="543.40" stroke="#6f6f6f" stroke-width="1" />
<line x1="402.25" y1="541.00" x2="402.25" y2="543.40" stroke="#6f6f6f" stroke-width="1" />
<line x1="418.80" y1="541.00" x2="418.80" y2="543.40" stroke="#6f6f6f" stroke-width="1" />
<line x1="435.35" y1="541.00" x2="435.35" y2="543.40" stroke="#6f6f6f" stroke-width="1" />
<line x1="451.90" y1="541.00" x2="451.90" y2="545.60" stroke="#6f6f6f" stroke-width="1" />
<text transform="translate(277.90,325.00) scale(1,1.14)" y="3.75" font-size="11" text-anchor="end" fill="#3c3c3c" stroke="#3c3c3c" stroke-width="0.22">0</text>
<text transform="translate(277.90,368.20) scale(1,1.14)" y="3.75" font-size="11" text-anchor="end" fill="#3c3c3c" stroke="#3c3c3c" stroke-width="0.22">20</text>
<text transform="translate(277.90,411.40) scale(1,1.14)" y="3.75" font-size="11" text-anchor="end" fill="#3c3c3c" stroke="#3c3c3c" stroke-width="0.22">40</text>
<text transform="translate(277.90,454.60) scale(1,1.14)" y="3.75" font-size="11" text-anchor="end" fill="#3c3c3c" stroke="#3c3c3c" stroke-width="0.22">60</text>
<text transform="translate(277.90,497.80) scale(1,1.14)" y="3.75" font-size="11" text-anchor="end" fill="#3c3c3c" stroke="#3c3c3c" stroke-width="0.22">80</text>
<text transform="translate(277.90,541.00) scale(1,1.14)" y="3.75" font-size="11" text-anchor="end" fill="#3c3c3c" stroke="#3c3c3c" stroke-width="0.22">100</text>
<text transform="translate(286.40,555.00) scale(1,1.14)" y="3.75" font-size="11" text-anchor="middle" fill="#3c3c3c" stroke="#3c3c3c" stroke-width="0.22">450</text>
<text transform="translate(369.15,555.00) scale(1,1.14)" y="3.75" font-size="11" text-anchor="middle" fill="#3c3c3c" stroke="#3c3c3c" stroke-width="0.22">500</text>
<text transform="translate(451.90,555.00) scale(1,1.14)" y="3.75" font-size="11" text-anchor="middle" fill="#3c3c3c" stroke="#3c3c3c" stroke-width="0.22">550</text>
<ellipse cx="369.35" cy="400.7" rx="33.25" ry="43.1" fill="none" stroke="#fff" stroke-width="1.6"/>
<line x1="507.80" y1="325.00" x2="507.80" y2="541.40" stroke="#c4c4c4" stroke-width="0.7" />
<line x1="507.60" y1="541.20" x2="673.90" y2="541.20" stroke="#c4c4c4" stroke-width="0.7" />
<line x1="503.30" y1="325.00" x2="508.10" y2="325.00" stroke="#6f6f6f" stroke-width="1" />
<line x1="505.90" y1="335.80" x2="508.10" y2="335.80" stroke="#6f6f6f" stroke-width="1" />
<line x1="505.90" y1="346.60" x2="508.10" y2="346.60" stroke="#6f6f6f" stroke-width="1" />
<line x1="505.90" y1="357.40" x2="508.10" y2="357.40" stroke="#6f6f6f" stroke-width="1" />
<line x1="503.30" y1="368.20" x2="508.10" y2="368.20" stroke="#6f6f6f" stroke-width="1" />
<line x1="505.90" y1="379.00" x2="508.10" y2="379.00" stroke="#6f6f6f" stroke-width="1" />
<line x1="505.90" y1="389.80" x2="508.10" y2="389.80" stroke="#6f6f6f" stroke-width="1" />
<line x1="505.90" y1="400.60" x2="508.10" y2="400.60" stroke="#6f6f6f" stroke-width="1" />
<line x1="503.30" y1="411.40" x2="508.10" y2="411.40" stroke="#6f6f6f" stroke-width="1" />
<line x1="505.90" y1="422.20" x2="508.10" y2="422.20" stroke="#6f6f6f" stroke-width="1" />
<line x1="505.90" y1="433.00" x2="508.10" y2="433.00" stroke="#6f6f6f" stroke-width="1" />
<line x1="505.90" y1="443.80" x2="508.10" y2="443.80" stroke="#6f6f6f" stroke-width="1" />
<line x1="503.30" y1="454.60" x2="508.10" y2="454.60" stroke="#6f6f6f" stroke-width="1" />
<line x1="505.90" y1="465.40" x2="508.10" y2="465.40" stroke="#6f6f6f" stroke-width="1" />
<line x1="505.90" y1="476.20" x2="508.10" y2="476.20" stroke="#6f6f6f" stroke-width="1" />
<line x1="505.90" y1="487.00" x2="508.10" y2="487.00" stroke="#6f6f6f" stroke-width="1" />
<line x1="503.30" y1="497.80" x2="508.10" y2="497.80" stroke="#6f6f6f" stroke-width="1" />
<line x1="505.90" y1="508.60" x2="508.10" y2="508.60" stroke="#6f6f6f" stroke-width="1" />
<line x1="505.90" y1="519.40" x2="508.10" y2="519.40" stroke="#6f6f6f" stroke-width="1" />
<line x1="505.90" y1="530.20" x2="508.10" y2="530.20" stroke="#6f6f6f" stroke-width="1" />
<line x1="503.30" y1="541.00" x2="508.10" y2="541.00" stroke="#6f6f6f" stroke-width="1" />
<line x1="508.10" y1="541.00" x2="508.10" y2="545.60" stroke="#6f6f6f" stroke-width="1" />
<line x1="524.68" y1="541.00" x2="524.68" y2="543.40" stroke="#6f6f6f" stroke-width="1" />
<line x1="541.26" y1="541.00" x2="541.26" y2="543.40" stroke="#6f6f6f" stroke-width="1" />
<line x1="557.84" y1="541.00" x2="557.84" y2="543.40" stroke="#6f6f6f" stroke-width="1" />
<line x1="574.42" y1="541.00" x2="574.42" y2="543.40" stroke="#6f6f6f" stroke-width="1" />
<line x1="591.00" y1="541.00" x2="591.00" y2="545.60" stroke="#6f6f6f" stroke-width="1" />
<line x1="607.58" y1="541.00" x2="607.58" y2="543.40" stroke="#6f6f6f" stroke-width="1" />
<line x1="624.16" y1="541.00" x2="624.16" y2="543.40" stroke="#6f6f6f" stroke-width="1" />
<line x1="640.74" y1="541.00" x2="640.74" y2="543.40" stroke="#6f6f6f" stroke-width="1" />
<line x1="657.32" y1="541.00" x2="657.32" y2="543.40" stroke="#6f6f6f" stroke-width="1" />
<line x1="673.90" y1="541.00" x2="673.90" y2="545.60" stroke="#6f6f6f" stroke-width="1" />
<text transform="translate(499.60,325.00) scale(1,1.14)" y="3.75" font-size="11" text-anchor="end" fill="#3c3c3c" stroke="#3c3c3c" stroke-width="0.22">0</text>
<text transform="translate(499.60,368.20) scale(1,1.14)" y="3.75" font-size="11" text-anchor="end" fill="#3c3c3c" stroke="#3c3c3c" stroke-width="0.22">20</text>
<text transform="translate(499.60,411.40) scale(1,1.14)" y="3.75" font-size="11" text-anchor="end" fill="#3c3c3c" stroke="#3c3c3c" stroke-width="0.22">40</text>
<text transform="translate(499.60,454.60) scale(1,1.14)" y="3.75" font-size="11" text-anchor="end" fill="#3c3c3c" stroke="#3c3c3c" stroke-width="0.22">60</text>
<text transform="translate(499.60,497.80) scale(1,1.14)" y="3.75" font-size="11" text-anchor="end" fill="#3c3c3c" stroke="#3c3c3c" stroke-width="0.22">80</text>
<text transform="translate(499.60,541.00) scale(1,1.14)" y="3.75" font-size="11" text-anchor="end" fill="#3c3c3c" stroke="#3c3c3c" stroke-width="0.22">100</text>
<text transform="translate(508.10,555.00) scale(1,1.14)" y="3.75" font-size="11" text-anchor="middle" fill="#3c3c3c" stroke="#3c3c3c" stroke-width="0.22">950</text>
<text transform="translate(591.00,555.00) scale(1,1.14)" y="3.75" font-size="11" text-anchor="middle" fill="#3c3c3c" stroke="#3c3c3c" stroke-width="0.22">1000</text>
<text transform="translate(673.90,555.00) scale(1,1.14)" y="3.75" font-size="11" text-anchor="middle" fill="#3c3c3c" stroke="#3c3c3c" stroke-width="0.22">1050</text>
<ellipse cx="590.95" cy="400.7" rx="33.25" ry="43.1" fill="none" stroke="#fff" stroke-width="1.6"/>
<text transform="translate(35.6,433) rotate(-90)" font-size="12.2" text-anchor="middle" fill="#3c3c3c" stroke="#3c3c3c" stroke-width="0.15">z / m</text>
<text x="372.20" y="582.00" font-size="12.2" text-anchor="middle" fill="#3c3c3c" stroke="#3c3c3c" stroke-width="0.15">x / m</text>
<text x="9.90" y="17.40" font-size="25" text-anchor="start" fill="#000" letter-spacing="-1.5">a)</text>
<text x="356.20" y="17.60" font-size="25" text-anchor="start" fill="#000" letter-spacing="-1.5">b)</text>
<text x="0.00" y="307.20" font-size="25" text-anchor="start" fill="#000" letter-spacing="-1.5">c)</text>
<text x="246.00" y="311.20" font-size="25" text-anchor="start" fill="#000" letter-spacing="-1.5">d)</text>
<text x="460.20" y="311.40" font-size="25" text-anchor="start" fill="#000" letter-spacing="-1.5">e)</text>
</svg>
</div>

</body></html>
